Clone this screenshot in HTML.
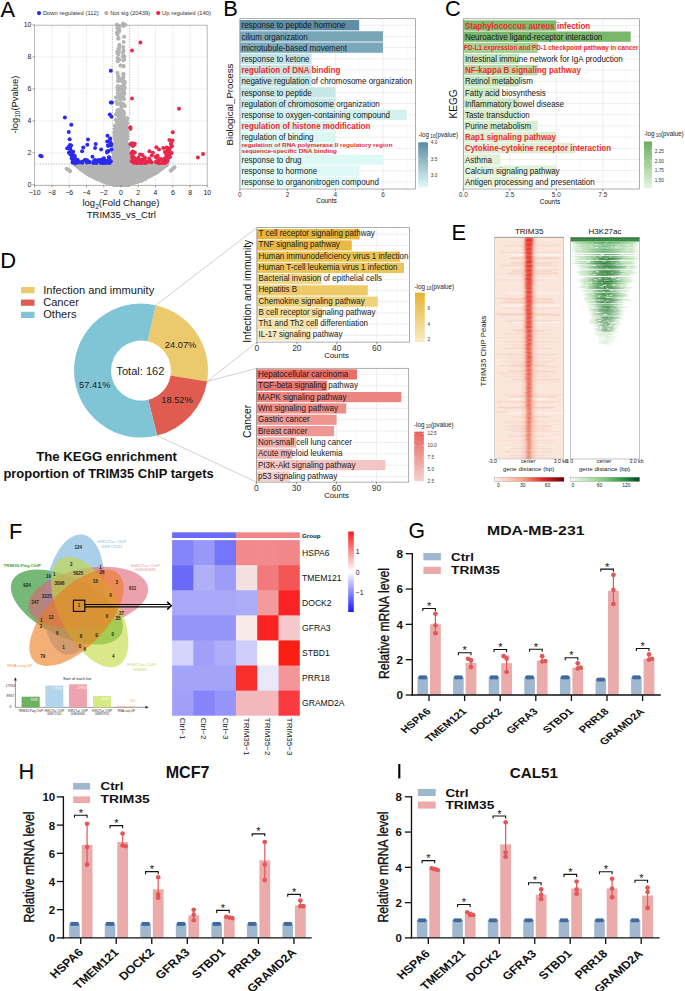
<!DOCTYPE html>
<html><head><meta charset="utf-8"><title>Figure</title>
<style>
html,body{margin:0;padding:0;background:#fff;}
body{width:685px;height:991px;overflow:hidden;font-family:"Liberation Sans", sans-serif;}
svg{display:block;}
</style></head><body>
<svg width="685" height="991" viewBox="0 0 685 991" font-family='"Liberation Sans", sans-serif'><defs><linearGradient id="gB" x1="0" y1="0" x2="0" y2="1"><stop offset="0" stop-color="#5b8ca4"/><stop offset="1" stop-color="#e0fbf7"/></linearGradient><linearGradient id="gC" x1="0" y1="0" x2="0" y2="1"><stop offset="0" stop-color="#6aae5f"/><stop offset="1" stop-color="#e6f5df"/></linearGradient><linearGradient id="gI" x1="0" y1="0" x2="0" y2="1"><stop offset="0" stop-color="#e7b42f"/><stop offset="1" stop-color="#f7ecc4"/></linearGradient><linearGradient id="gK" x1="0" y1="0" x2="0" y2="1"><stop offset="0" stop-color="#e8635d"/><stop offset="1" stop-color="#f6d1cf"/></linearGradient><linearGradient id="gglow" x1="0" y1="0" x2="1" y2="0"><stop offset="0" stop-color="rgba(238,120,95,0)"/><stop offset="0.5" stop-color="rgba(238,120,95,0.35)"/><stop offset="1" stop-color="rgba(238,120,95,0)"/></linearGradient><filter id="blurx" x="-50%" y="-1%" width="200%" height="102%"><feGaussianBlur stdDeviation="0.9 0.35"/></filter><linearGradient id="gg1" x1="0" y1="0" x2="1" y2="0"><stop offset="0" stop-color="rgba(120,195,110,0)"/><stop offset="0.1" stop-color="rgba(120,195,110,0.6)"/><stop offset="0.5" stop-color="rgba(60,160,70,0.95)"/><stop offset="0.9" stop-color="rgba(120,195,110,0.6)"/><stop offset="1" stop-color="rgba(120,195,110,0)"/></linearGradient><linearGradient id="gg2" x1="0" y1="0" x2="1" y2="0"><stop offset="0" stop-color="rgba(25,110,40,0)"/><stop offset="0.3" stop-color="rgba(25,110,40,0.8)"/><stop offset="0.5" stop-color="rgba(18,98,32,1)"/><stop offset="0.7" stop-color="rgba(25,110,40,0.8)"/><stop offset="1" stop-color="rgba(25,110,40,0)"/></linearGradient><linearGradient id="gcbr" x1="0" y1="0" x2="1" y2="0"><stop offset="0" stop-color="#fff3ee"/><stop offset="0.4" stop-color="#f9a487"/><stop offset="0.7" stop-color="#e5261f"/><stop offset="1" stop-color="#68000d"/></linearGradient><linearGradient id="gcbg" x1="0" y1="0" x2="1" y2="0"><stop offset="0" stop-color="#f5fbf3"/><stop offset="0.45" stop-color="#8fd08a"/><stop offset="0.75" stop-color="#2e9a4a"/><stop offset="1" stop-color="#03461c"/></linearGradient><linearGradient id="ghm" x1="0" y1="0" x2="0" y2="1"><stop offset="0" stop-color="#ff1a1a"/><stop offset="0.5" stop-color="#ffffff"/><stop offset="1" stop-color="#1a1aff"/></linearGradient></defs><rect width="685" height="991" fill="#fff"/><text x="0.60" y="16.60" font-size="21.8">A</text>
<circle cx="39.00" cy="13.10" r="2.1" fill="#2b2bef"/>
<text x="42.90" y="15.20" font-size="5.85" fill="#333">Down regulated (112)</text>
<circle cx="106.30" cy="13.10" r="2.1" fill="#b4b4b4"/>
<text x="110.20" y="15.20" font-size="5.85" fill="#333">Not sig (20439)</text>
<circle cx="158.20" cy="13.10" r="2.1" fill="#e8274b"/>
<text x="162.10" y="15.20" font-size="5.85" fill="#333">Up regulated (140)</text>
<rect x="34.50" y="25.20" width="172.70" height="160.20" fill="#fff"/>
<line x1="34.65" y1="25.20" x2="34.65" y2="185.40" stroke="#e6e6e6" stroke-width="0.6"/>
<line x1="51.92" y1="25.20" x2="51.92" y2="185.40" stroke="#e6e6e6" stroke-width="0.6"/>
<line x1="69.19" y1="25.20" x2="69.19" y2="185.40" stroke="#e6e6e6" stroke-width="0.6"/>
<line x1="86.46" y1="25.20" x2="86.46" y2="185.40" stroke="#e6e6e6" stroke-width="0.6"/>
<line x1="103.73" y1="25.20" x2="103.73" y2="185.40" stroke="#e6e6e6" stroke-width="0.6"/>
<line x1="121.00" y1="25.20" x2="121.00" y2="185.40" stroke="#e6e6e6" stroke-width="0.6"/>
<line x1="138.27" y1="25.20" x2="138.27" y2="185.40" stroke="#e6e6e6" stroke-width="0.6"/>
<line x1="155.54" y1="25.20" x2="155.54" y2="185.40" stroke="#e6e6e6" stroke-width="0.6"/>
<line x1="172.81" y1="25.20" x2="172.81" y2="185.40" stroke="#e6e6e6" stroke-width="0.6"/>
<line x1="190.08" y1="25.20" x2="190.08" y2="185.40" stroke="#e6e6e6" stroke-width="0.6"/>
<line x1="34.50" y1="184.80" x2="207.20" y2="184.80" stroke="#e6e6e6" stroke-width="0.6"/>
<line x1="34.50" y1="152.80" x2="207.20" y2="152.80" stroke="#e6e6e6" stroke-width="0.6"/>
<line x1="34.50" y1="120.80" x2="207.20" y2="120.80" stroke="#e6e6e6" stroke-width="0.6"/>
<line x1="34.50" y1="88.80" x2="207.20" y2="88.80" stroke="#e6e6e6" stroke-width="0.6"/>
<line x1="34.50" y1="56.80" x2="207.20" y2="56.80" stroke="#e6e6e6" stroke-width="0.6"/>
<line x1="112.36" y1="25.20" x2="112.36" y2="185.40" stroke="#999" stroke-width="0.6" stroke-dasharray="1.5,1.2"/>
<line x1="129.63" y1="25.20" x2="129.63" y2="185.40" stroke="#999" stroke-width="0.6" stroke-dasharray="1.5,1.2"/>
<line x1="34.50" y1="164.00" x2="207.20" y2="164.00" stroke="#999" stroke-width="0.6" stroke-dasharray="1.5,1.2"/>
<g fill="#b4b4b4"><circle cx="104.6" cy="179.4" r="2.0"/><circle cx="134.8" cy="181.6" r="2.0"/><circle cx="124.2" cy="177.0" r="2.0"/><circle cx="80.1" cy="166.1" r="2.0"/><circle cx="78.3" cy="165.6" r="2.0"/><circle cx="81.2" cy="168.9" r="2.0"/><circle cx="113.9" cy="167.3" r="2.0"/><circle cx="86.2" cy="170.9" r="2.0"/><circle cx="132.6" cy="164.7" r="2.0"/><circle cx="128.0" cy="176.1" r="2.0"/><circle cx="164.8" cy="166.0" r="2.0"/><circle cx="153.9" cy="171.2" r="2.0"/><circle cx="88.1" cy="173.0" r="2.0"/><circle cx="103.2" cy="167.0" r="2.0"/><circle cx="91.5" cy="169.0" r="2.0"/><circle cx="133.7" cy="176.0" r="2.0"/><circle cx="125.3" cy="183.3" r="2.0"/><circle cx="80.3" cy="167.6" r="2.0"/><circle cx="137.5" cy="174.3" r="2.0"/><circle cx="103.7" cy="171.2" r="2.0"/><circle cx="116.6" cy="178.3" r="2.0"/><circle cx="148.0" cy="167.9" r="2.0"/><circle cx="97.3" cy="170.3" r="2.0"/><circle cx="123.2" cy="166.3" r="2.0"/><circle cx="142.0" cy="175.7" r="2.0"/><circle cx="165.1" cy="165.6" r="2.0"/><circle cx="113.3" cy="168.7" r="2.0"/><circle cx="88.8" cy="169.3" r="2.0"/><circle cx="78.4" cy="164.8" r="2.0"/><circle cx="145.2" cy="170.3" r="2.0"/><circle cx="155.5" cy="170.2" r="2.0"/><circle cx="138.9" cy="171.0" r="2.0"/><circle cx="128.2" cy="174.9" r="2.0"/><circle cx="152.2" cy="164.3" r="2.0"/><circle cx="118.5" cy="170.8" r="2.0"/><circle cx="80.4" cy="165.2" r="2.0"/><circle cx="134.4" cy="163.8" r="2.0"/><circle cx="150.5" cy="172.7" r="2.0"/><circle cx="110.3" cy="170.3" r="2.0"/><circle cx="76.9" cy="164.8" r="2.0"/><circle cx="90.3" cy="174.2" r="2.0"/><circle cx="80.2" cy="164.8" r="2.0"/><circle cx="86.7" cy="171.0" r="2.0"/><circle cx="110.8" cy="166.3" r="2.0"/><circle cx="82.2" cy="167.2" r="2.0"/><circle cx="125.4" cy="166.1" r="2.0"/><circle cx="150.3" cy="165.4" r="2.0"/><circle cx="100.5" cy="173.6" r="2.0"/><circle cx="107.9" cy="165.9" r="2.0"/><circle cx="163.0" cy="167.0" r="2.0"/><circle cx="91.0" cy="173.2" r="2.0"/><circle cx="96.3" cy="171.5" r="2.0"/><circle cx="129.1" cy="178.8" r="2.0"/><circle cx="75.2" cy="164.1" r="2.0"/><circle cx="108.8" cy="172.2" r="2.0"/><circle cx="162.6" cy="165.0" r="2.0"/><circle cx="122.3" cy="171.8" r="2.0"/><circle cx="137.1" cy="181.3" r="2.0"/><circle cx="157.7" cy="165.4" r="2.0"/><circle cx="155.4" cy="165.6" r="2.0"/><circle cx="111.0" cy="175.8" r="2.0"/><circle cx="84.3" cy="166.6" r="2.0"/><circle cx="80.5" cy="168.5" r="2.0"/><circle cx="94.0" cy="175.4" r="2.0"/><circle cx="106.1" cy="181.6" r="2.0"/><circle cx="74.8" cy="164.0" r="2.0"/><circle cx="84.2" cy="168.7" r="2.0"/><circle cx="77.2" cy="164.0" r="2.0"/><circle cx="131.4" cy="180.8" r="2.0"/><circle cx="98.0" cy="174.1" r="2.0"/><circle cx="108.4" cy="180.8" r="2.0"/><circle cx="153.0" cy="163.8" r="2.0"/><circle cx="117.7" cy="174.5" r="2.0"/><circle cx="82.7" cy="169.8" r="2.0"/><circle cx="106.4" cy="177.7" r="2.0"/><circle cx="151.2" cy="174.0" r="2.0"/><circle cx="76.9" cy="163.8" r="2.0"/><circle cx="123.5" cy="181.7" r="2.0"/><circle cx="124.8" cy="184.1" r="2.0"/><circle cx="123.5" cy="164.1" r="2.0"/><circle cx="154.3" cy="166.8" r="2.0"/><circle cx="98.9" cy="174.0" r="2.0"/><circle cx="90.2" cy="166.4" r="2.0"/><circle cx="123.9" cy="168.3" r="2.0"/><circle cx="105.2" cy="178.2" r="2.0"/><circle cx="149.6" cy="163.9" r="2.0"/><circle cx="153.4" cy="165.8" r="2.0"/><circle cx="150.2" cy="167.0" r="2.0"/><circle cx="95.7" cy="170.9" r="2.0"/><circle cx="107.6" cy="182.5" r="2.0"/><circle cx="77.4" cy="165.5" r="2.0"/><circle cx="98.7" cy="168.7" r="2.0"/><circle cx="162.9" cy="165.9" r="2.0"/><circle cx="161.1" cy="163.7" r="2.0"/><circle cx="162.8" cy="166.3" r="2.0"/><circle cx="95.1" cy="175.0" r="2.0"/><circle cx="92.9" cy="174.4" r="2.0"/><circle cx="132.3" cy="165.7" r="2.0"/><circle cx="152.2" cy="169.7" r="2.0"/><circle cx="135.0" cy="167.5" r="2.0"/><circle cx="82.6" cy="166.0" r="2.0"/><circle cx="158.6" cy="165.3" r="2.0"/><circle cx="143.9" cy="172.0" r="2.0"/><circle cx="91.3" cy="166.3" r="2.0"/><circle cx="105.4" cy="167.4" r="2.0"/><circle cx="164.3" cy="165.4" r="2.0"/><circle cx="111.8" cy="164.8" r="2.0"/><circle cx="141.6" cy="177.8" r="2.0"/><circle cx="86.5" cy="171.8" r="2.0"/><circle cx="158.2" cy="165.2" r="2.0"/><circle cx="88.3" cy="165.5" r="2.0"/><circle cx="165.1" cy="164.4" r="2.0"/><circle cx="107.1" cy="172.4" r="2.0"/><circle cx="86.9" cy="173.3" r="2.0"/><circle cx="164.3" cy="164.7" r="2.0"/><circle cx="123.3" cy="165.1" r="2.0"/><circle cx="114.8" cy="166.3" r="2.0"/><circle cx="150.9" cy="173.5" r="2.0"/><circle cx="98.0" cy="175.0" r="2.0"/><circle cx="97.0" cy="170.1" r="2.0"/><circle cx="98.7" cy="173.1" r="2.0"/><circle cx="86.9" cy="164.6" r="2.0"/><circle cx="107.4" cy="174.1" r="2.0"/><circle cx="128.5" cy="165.6" r="2.0"/><circle cx="113.6" cy="165.4" r="2.0"/><circle cx="121.0" cy="173.6" r="2.0"/><circle cx="123.0" cy="184.4" r="2.0"/><circle cx="115.4" cy="180.7" r="2.0"/><circle cx="75.2" cy="163.8" r="2.0"/><circle cx="90.7" cy="170.1" r="2.0"/><circle cx="141.6" cy="171.2" r="2.0"/><circle cx="104.8" cy="172.6" r="2.0"/><circle cx="126.0" cy="168.2" r="2.0"/><circle cx="84.6" cy="167.3" r="2.0"/><circle cx="97.7" cy="175.1" r="2.0"/><circle cx="146.0" cy="171.1" r="2.0"/><circle cx="126.6" cy="168.7" r="2.0"/><circle cx="158.9" cy="167.7" r="2.0"/><circle cx="131.2" cy="173.6" r="2.0"/><circle cx="122.0" cy="170.2" r="2.0"/><circle cx="116.5" cy="173.4" r="2.0"/><circle cx="118.8" cy="164.9" r="2.0"/><circle cx="139.2" cy="165.9" r="2.0"/><circle cx="161.6" cy="167.4" r="2.0"/><circle cx="126.4" cy="164.9" r="2.0"/><circle cx="152.2" cy="173.7" r="2.0"/><circle cx="86.0" cy="168.8" r="2.0"/><circle cx="81.5" cy="168.2" r="2.0"/><circle cx="81.5" cy="165.6" r="2.0"/><circle cx="147.0" cy="165.2" r="2.0"/><circle cx="89.0" cy="166.8" r="2.0"/><circle cx="135.6" cy="180.0" r="2.0"/><circle cx="156.1" cy="164.0" r="2.0"/><circle cx="95.0" cy="164.4" r="2.0"/><circle cx="111.5" cy="174.1" r="2.0"/><circle cx="166.0" cy="163.9" r="2.0"/><circle cx="89.7" cy="170.3" r="2.0"/><circle cx="122.3" cy="177.6" r="2.0"/><circle cx="92.8" cy="172.8" r="2.0"/><circle cx="141.3" cy="180.4" r="2.0"/><circle cx="125.9" cy="175.4" r="2.0"/><circle cx="76.5" cy="164.9" r="2.0"/><circle cx="132.3" cy="173.4" r="2.0"/><circle cx="80.7" cy="163.8" r="2.0"/><circle cx="147.4" cy="164.1" r="2.0"/><circle cx="84.5" cy="169.6" r="2.0"/><circle cx="78.5" cy="164.4" r="2.0"/><circle cx="99.7" cy="178.2" r="2.0"/><circle cx="113.7" cy="165.5" r="2.0"/><circle cx="150.3" cy="173.2" r="2.0"/><circle cx="88.6" cy="164.6" r="2.0"/><circle cx="127.4" cy="169.9" r="2.0"/><circle cx="83.0" cy="170.4" r="2.0"/><circle cx="138.2" cy="174.2" r="2.0"/><circle cx="81.5" cy="164.0" r="2.0"/><circle cx="133.3" cy="167.6" r="2.0"/><circle cx="82.5" cy="164.6" r="2.0"/><circle cx="80.9" cy="164.4" r="2.0"/><circle cx="116.6" cy="177.5" r="2.0"/><circle cx="125.8" cy="165.2" r="2.0"/><circle cx="99.5" cy="178.1" r="2.0"/><circle cx="123.4" cy="179.7" r="2.0"/><circle cx="84.9" cy="170.7" r="2.0"/><circle cx="79.4" cy="167.1" r="2.0"/><circle cx="103.5" cy="176.3" r="2.0"/><circle cx="144.8" cy="174.8" r="2.0"/><circle cx="120.9" cy="181.0" r="2.0"/><circle cx="106.8" cy="182.5" r="2.0"/><circle cx="97.9" cy="179.3" r="2.0"/><circle cx="142.3" cy="171.2" r="2.0"/><circle cx="92.3" cy="170.5" r="2.0"/><circle cx="160.9" cy="168.7" r="2.0"/><circle cx="150.3" cy="170.9" r="2.0"/><circle cx="120.4" cy="167.2" r="2.0"/><circle cx="111.0" cy="173.6" r="2.0"/><circle cx="138.2" cy="164.0" r="2.0"/><circle cx="106.4" cy="166.9" r="2.0"/><circle cx="139.9" cy="170.1" r="2.0"/><circle cx="112.1" cy="177.0" r="2.0"/><circle cx="79.8" cy="167.7" r="2.0"/><circle cx="81.3" cy="165.2" r="2.0"/><circle cx="98.4" cy="177.2" r="2.0"/><circle cx="82.6" cy="164.7" r="2.0"/><circle cx="155.0" cy="166.9" r="2.0"/><circle cx="100.8" cy="176.7" r="2.0"/><circle cx="101.8" cy="173.2" r="2.0"/><circle cx="89.3" cy="170.0" r="2.0"/><circle cx="99.1" cy="164.3" r="2.0"/><circle cx="164.4" cy="164.9" r="2.0"/><circle cx="97.3" cy="164.2" r="2.0"/><circle cx="103.3" cy="175.3" r="2.0"/><circle cx="74.9" cy="163.9" r="2.0"/><circle cx="118.5" cy="174.2" r="2.0"/><circle cx="93.3" cy="170.4" r="2.0"/><circle cx="75.3" cy="164.2" r="2.0"/><circle cx="83.1" cy="167.9" r="2.0"/><circle cx="78.6" cy="167.2" r="2.0"/><circle cx="102.8" cy="177.4" r="2.0"/><circle cx="128.8" cy="173.3" r="2.0"/><circle cx="144.0" cy="169.2" r="2.0"/><circle cx="140.8" cy="165.8" r="2.0"/><circle cx="110.7" cy="177.2" r="2.0"/><circle cx="165.5" cy="165.2" r="2.0"/><circle cx="141.5" cy="169.8" r="2.0"/><circle cx="78.8" cy="164.3" r="2.0"/><circle cx="157.0" cy="166.8" r="2.0"/><circle cx="142.4" cy="166.8" r="2.0"/><circle cx="87.6" cy="168.6" r="2.0"/><circle cx="121.3" cy="167.2" r="2.0"/><circle cx="148.9" cy="166.0" r="2.0"/><circle cx="128.6" cy="165.9" r="2.0"/><circle cx="137.7" cy="169.3" r="2.0"/><circle cx="96.0" cy="178.2" r="2.0"/><circle cx="87.1" cy="170.0" r="2.0"/><circle cx="84.5" cy="165.0" r="2.0"/><circle cx="126.3" cy="171.4" r="2.0"/><circle cx="132.5" cy="170.0" r="2.0"/><circle cx="119.9" cy="184.7" r="2.0"/><circle cx="148.3" cy="167.2" r="2.0"/><circle cx="121.1" cy="173.5" r="2.0"/><circle cx="135.5" cy="181.5" r="2.0"/><circle cx="142.7" cy="176.0" r="2.0"/><circle cx="81.7" cy="168.1" r="2.0"/><circle cx="142.0" cy="177.0" r="2.0"/><circle cx="143.0" cy="164.1" r="2.0"/><circle cx="120.3" cy="176.7" r="2.0"/><circle cx="118.9" cy="170.3" r="2.0"/><circle cx="145.5" cy="169.5" r="2.0"/><circle cx="134.0" cy="181.6" r="2.0"/><circle cx="88.4" cy="171.7" r="2.0"/><circle cx="143.3" cy="175.0" r="2.0"/><circle cx="127.1" cy="184.2" r="2.0"/><circle cx="80.4" cy="167.4" r="2.0"/><circle cx="136.7" cy="169.4" r="2.0"/><circle cx="137.1" cy="176.9" r="2.0"/><circle cx="122.4" cy="175.0" r="2.0"/><circle cx="117.8" cy="182.2" r="2.0"/><circle cx="157.1" cy="170.4" r="2.0"/><circle cx="164.9" cy="163.8" r="2.0"/><circle cx="76.4" cy="164.6" r="2.0"/><circle cx="150.3" cy="164.1" r="2.0"/><circle cx="116.2" cy="179.0" r="2.0"/><circle cx="94.1" cy="164.4" r="2.0"/><circle cx="94.2" cy="169.6" r="2.0"/><circle cx="87.9" cy="168.6" r="2.0"/><circle cx="162.6" cy="167.4" r="2.0"/><circle cx="150.4" cy="169.9" r="2.0"/><circle cx="156.5" cy="166.3" r="2.0"/><circle cx="96.1" cy="165.2" r="2.0"/><circle cx="119.6" cy="184.3" r="2.0"/><circle cx="75.1" cy="164.0" r="2.0"/><circle cx="116.3" cy="178.3" r="2.0"/><circle cx="87.8" cy="170.5" r="2.0"/><circle cx="103.9" cy="166.6" r="2.0"/><circle cx="75.0" cy="163.8" r="2.0"/><circle cx="152.1" cy="174.0" r="2.0"/><circle cx="160.2" cy="165.5" r="2.0"/><circle cx="157.9" cy="169.3" r="2.0"/><circle cx="109.1" cy="175.7" r="2.0"/><circle cx="166.8" cy="163.9" r="2.0"/><circle cx="108.0" cy="174.8" r="2.0"/><circle cx="100.2" cy="179.7" r="2.0"/><circle cx="84.2" cy="165.0" r="2.0"/><circle cx="101.1" cy="164.8" r="2.0"/><circle cx="97.8" cy="175.3" r="2.0"/><circle cx="121.9" cy="180.8" r="2.0"/><circle cx="109.2" cy="164.5" r="2.0"/><circle cx="156.3" cy="165.4" r="2.0"/><circle cx="132.9" cy="165.4" r="2.0"/><circle cx="161.5" cy="166.0" r="2.0"/><circle cx="141.1" cy="180.0" r="2.0"/><circle cx="142.3" cy="172.9" r="2.0"/><circle cx="144.2" cy="169.3" r="2.0"/><circle cx="101.2" cy="180.1" r="2.0"/><circle cx="160.2" cy="169.0" r="2.0"/><circle cx="118.3" cy="177.5" r="2.0"/><circle cx="102.2" cy="168.3" r="2.0"/><circle cx="164.8" cy="165.5" r="2.0"/><circle cx="135.2" cy="177.1" r="2.0"/><circle cx="126.2" cy="176.3" r="2.0"/><circle cx="90.2" cy="173.6" r="2.0"/><circle cx="94.0" cy="165.0" r="2.0"/><circle cx="120.6" cy="180.2" r="2.0"/><circle cx="158.3" cy="163.7" r="2.0"/><circle cx="116.3" cy="181.7" r="2.0"/><circle cx="92.5" cy="175.7" r="2.0"/><circle cx="106.3" cy="181.0" r="2.0"/><circle cx="96.8" cy="175.1" r="2.0"/><circle cx="127.3" cy="166.0" r="2.0"/><circle cx="143.9" cy="173.1" r="2.0"/><circle cx="112.9" cy="173.4" r="2.0"/><circle cx="109.5" cy="176.8" r="2.0"/><circle cx="80.5" cy="167.4" r="2.0"/><circle cx="164.0" cy="166.4" r="2.0"/><circle cx="121.2" cy="171.5" r="2.0"/><circle cx="154.3" cy="171.8" r="2.0"/><circle cx="99.8" cy="176.3" r="2.0"/><circle cx="111.6" cy="174.9" r="2.0"/><circle cx="162.7" cy="164.3" r="2.0"/><circle cx="155.2" cy="173.2" r="2.0"/><circle cx="77.8" cy="164.5" r="2.0"/><circle cx="157.3" cy="168.0" r="2.0"/><circle cx="128.9" cy="184.2" r="2.0"/><circle cx="110.9" cy="165.2" r="2.0"/><circle cx="150.9" cy="165.5" r="2.0"/><circle cx="164.4" cy="165.8" r="2.0"/><circle cx="84.8" cy="170.8" r="2.0"/><circle cx="122.9" cy="170.4" r="2.0"/><circle cx="161.5" cy="165.1" r="2.0"/><circle cx="134.4" cy="168.2" r="2.0"/><circle cx="116.9" cy="173.1" r="2.0"/><circle cx="78.4" cy="164.4" r="2.0"/><circle cx="96.2" cy="164.9" r="2.0"/><circle cx="134.3" cy="177.2" r="2.0"/><circle cx="86.6" cy="170.8" r="2.0"/><circle cx="133.4" cy="169.6" r="2.0"/><circle cx="85.1" cy="171.7" r="2.0"/><circle cx="123.1" cy="172.5" r="2.0"/><circle cx="110.6" cy="179.3" r="2.0"/><circle cx="130.2" cy="183.8" r="2.0"/><circle cx="102.6" cy="173.3" r="2.0"/><circle cx="163.2" cy="165.0" r="2.0"/><circle cx="156.2" cy="168.4" r="2.0"/><circle cx="96.4" cy="175.2" r="2.0"/><circle cx="163.3" cy="164.8" r="2.0"/><circle cx="103.1" cy="181.3" r="2.0"/><circle cx="120.7" cy="170.6" r="2.0"/><circle cx="113.5" cy="179.0" r="2.0"/><circle cx="136.3" cy="165.1" r="2.0"/><circle cx="95.7" cy="178.1" r="2.0"/><circle cx="105.9" cy="174.6" r="2.0"/><circle cx="137.7" cy="178.4" r="2.0"/><circle cx="148.2" cy="167.3" r="2.0"/><circle cx="121.3" cy="180.5" r="2.0"/><circle cx="164.2" cy="165.7" r="2.0"/><circle cx="150.4" cy="173.5" r="2.0"/><circle cx="95.2" cy="167.2" r="2.0"/><circle cx="102.0" cy="164.5" r="2.0"/><circle cx="120.5" cy="180.8" r="2.0"/><circle cx="95.4" cy="172.3" r="2.0"/><circle cx="136.1" cy="164.6" r="2.0"/><circle cx="88.3" cy="170.2" r="2.0"/><circle cx="94.4" cy="164.0" r="2.0"/><circle cx="87.9" cy="173.6" r="2.0"/><circle cx="80.3" cy="166.7" r="2.0"/><circle cx="157.6" cy="164.6" r="2.0"/><circle cx="142.3" cy="163.7" r="2.0"/><circle cx="160.6" cy="167.6" r="2.0"/><circle cx="91.9" cy="164.5" r="2.0"/><circle cx="143.6" cy="179.3" r="2.0"/><circle cx="136.0" cy="175.4" r="2.0"/><circle cx="109.3" cy="176.9" r="2.0"/><circle cx="90.4" cy="175.6" r="2.0"/><circle cx="100.6" cy="174.7" r="2.0"/><circle cx="162.8" cy="167.2" r="2.0"/><circle cx="163.6" cy="166.4" r="2.0"/><circle cx="107.7" cy="167.1" r="2.0"/><circle cx="150.5" cy="170.8" r="2.0"/><circle cx="79.3" cy="165.9" r="2.0"/><circle cx="109.1" cy="165.3" r="2.0"/><circle cx="92.6" cy="172.1" r="2.0"/><circle cx="157.4" cy="171.6" r="2.0"/><circle cx="112.7" cy="167.5" r="2.0"/><circle cx="145.4" cy="178.4" r="2.0"/><circle cx="78.0" cy="166.6" r="2.0"/><circle cx="159.6" cy="168.6" r="2.0"/><circle cx="143.7" cy="165.3" r="2.0"/><circle cx="106.0" cy="177.5" r="2.0"/><circle cx="163.0" cy="165.2" r="2.0"/><circle cx="99.0" cy="168.3" r="2.0"/><circle cx="104.0" cy="176.9" r="2.0"/><circle cx="75.2" cy="163.8" r="2.0"/><circle cx="159.2" cy="166.2" r="2.0"/><circle cx="161.7" cy="168.5" r="2.0"/><circle cx="96.4" cy="171.7" r="2.0"/><circle cx="163.0" cy="163.9" r="2.0"/><circle cx="110.4" cy="178.7" r="2.0"/><circle cx="114.4" cy="174.2" r="2.0"/><circle cx="160.3" cy="168.6" r="2.0"/><circle cx="148.7" cy="167.2" r="2.0"/><circle cx="150.6" cy="166.5" r="2.0"/><circle cx="130.8" cy="177.3" r="2.0"/><circle cx="104.2" cy="175.4" r="2.0"/><circle cx="146.9" cy="177.1" r="2.0"/><circle cx="93.0" cy="167.0" r="2.0"/><circle cx="97.6" cy="178.4" r="2.0"/><circle cx="77.9" cy="165.0" r="2.0"/><circle cx="104.8" cy="164.0" r="2.0"/><circle cx="156.2" cy="163.8" r="2.0"/><circle cx="99.2" cy="178.8" r="2.0"/><circle cx="83.7" cy="167.5" r="2.0"/><circle cx="140.2" cy="173.4" r="2.0"/><circle cx="96.4" cy="172.6" r="2.0"/><circle cx="132.0" cy="170.2" r="2.0"/><circle cx="143.7" cy="166.1" r="2.0"/><circle cx="136.0" cy="180.3" r="2.0"/><circle cx="152.3" cy="171.9" r="2.0"/><circle cx="127.0" cy="176.7" r="2.0"/><circle cx="142.8" cy="176.9" r="2.0"/><circle cx="97.6" cy="175.6" r="2.0"/><circle cx="88.9" cy="165.0" r="2.0"/><circle cx="128.1" cy="177.6" r="2.0"/><circle cx="111.3" cy="163.8" r="2.0"/><circle cx="121.5" cy="179.9" r="2.0"/><circle cx="149.3" cy="168.3" r="2.0"/><circle cx="166.1" cy="164.8" r="2.0"/><circle cx="118.5" cy="167.5" r="2.0"/><circle cx="152.2" cy="164.7" r="2.0"/><circle cx="78.5" cy="166.2" r="2.0"/><circle cx="85.8" cy="171.0" r="2.0"/><circle cx="164.4" cy="164.8" r="2.0"/><circle cx="160.5" cy="167.4" r="2.0"/><circle cx="154.6" cy="169.3" r="2.0"/><circle cx="98.8" cy="167.3" r="2.0"/><circle cx="161.9" cy="168.0" r="2.0"/><circle cx="129.7" cy="171.4" r="2.0"/><circle cx="94.9" cy="172.8" r="2.0"/><circle cx="87.8" cy="172.0" r="2.0"/><circle cx="98.3" cy="170.1" r="2.0"/><circle cx="134.8" cy="179.0" r="2.0"/><circle cx="75.9" cy="164.5" r="2.0"/><circle cx="137.3" cy="178.8" r="2.0"/><circle cx="103.6" cy="178.1" r="2.0"/><circle cx="148.1" cy="170.0" r="2.0"/><circle cx="80.6" cy="168.4" r="2.0"/><circle cx="111.2" cy="172.8" r="2.0"/><circle cx="133.7" cy="181.4" r="2.0"/><circle cx="89.9" cy="167.2" r="2.0"/><circle cx="112.6" cy="178.3" r="2.0"/><circle cx="103.1" cy="164.5" r="2.0"/><circle cx="103.6" cy="171.6" r="2.0"/><circle cx="107.7" cy="175.0" r="2.0"/><circle cx="154.4" cy="163.7" r="2.0"/><circle cx="108.3" cy="179.4" r="2.0"/><circle cx="141.9" cy="177.1" r="2.0"/><circle cx="75.3" cy="163.8" r="2.0"/><circle cx="113.8" cy="167.4" r="2.0"/><circle cx="112.2" cy="166.1" r="2.0"/><circle cx="117.3" cy="181.3" r="2.0"/><circle cx="76.2" cy="164.4" r="2.0"/><circle cx="133.8" cy="165.4" r="2.0"/><circle cx="83.0" cy="166.3" r="2.0"/><circle cx="109.0" cy="173.4" r="2.0"/><circle cx="88.2" cy="171.3" r="2.0"/><circle cx="122.8" cy="165.3" r="2.0"/><circle cx="84.8" cy="167.9" r="2.0"/><circle cx="149.0" cy="164.1" r="2.0"/><circle cx="93.0" cy="175.4" r="2.0"/><circle cx="161.7" cy="163.8" r="2.0"/><circle cx="119.3" cy="183.6" r="2.0"/><circle cx="160.1" cy="167.5" r="2.0"/><circle cx="158.1" cy="166.6" r="2.0"/><circle cx="150.8" cy="174.2" r="2.0"/><circle cx="147.2" cy="174.9" r="2.0"/><circle cx="112.1" cy="166.8" r="2.0"/><circle cx="151.2" cy="173.7" r="2.0"/><circle cx="94.9" cy="172.4" r="2.0"/><circle cx="122.5" cy="176.7" r="2.0"/><circle cx="86.1" cy="170.7" r="2.0"/><circle cx="141.6" cy="165.4" r="2.0"/><circle cx="78.6" cy="165.3" r="2.0"/><circle cx="144.6" cy="178.8" r="2.0"/><circle cx="152.0" cy="174.0" r="2.0"/><circle cx="130.0" cy="172.8" r="2.0"/><circle cx="132.6" cy="177.4" r="2.0"/><circle cx="113.5" cy="172.3" r="2.0"/><circle cx="114.0" cy="170.7" r="2.0"/><circle cx="116.0" cy="175.4" r="2.0"/><circle cx="77.0" cy="164.5" r="2.0"/><circle cx="119.9" cy="179.8" r="2.0"/><circle cx="145.2" cy="167.1" r="2.0"/><circle cx="117.0" cy="180.9" r="2.0"/><circle cx="118.4" cy="182.5" r="2.0"/><circle cx="86.6" cy="169.2" r="2.0"/><circle cx="83.3" cy="167.7" r="2.0"/><circle cx="121.8" cy="183.9" r="2.0"/><circle cx="133.4" cy="181.7" r="2.0"/><circle cx="142.4" cy="167.4" r="2.0"/><circle cx="121.9" cy="183.6" r="2.0"/><circle cx="121.2" cy="176.8" r="2.0"/><circle cx="162.4" cy="167.5" r="2.0"/><circle cx="153.8" cy="163.7" r="2.0"/><circle cx="142.3" cy="166.8" r="2.0"/><circle cx="92.7" cy="163.9" r="2.0"/><circle cx="120.1" cy="164.6" r="2.0"/><circle cx="159.2" cy="169.4" r="2.0"/><circle cx="147.4" cy="164.7" r="2.0"/><circle cx="80.8" cy="167.2" r="2.0"/><circle cx="144.5" cy="176.9" r="2.0"/><circle cx="157.4" cy="169.6" r="2.0"/><circle cx="150.0" cy="174.8" r="2.0"/><circle cx="121.1" cy="165.4" r="2.0"/><circle cx="94.0" cy="174.0" r="2.0"/><circle cx="121.4" cy="178.1" r="2.0"/><circle cx="78.2" cy="166.3" r="2.0"/><circle cx="89.7" cy="164.4" r="2.0"/><circle cx="137.4" cy="165.6" r="2.0"/><circle cx="90.3" cy="166.3" r="2.0"/><circle cx="85.4" cy="167.8" r="2.0"/><circle cx="133.4" cy="176.2" r="2.0"/><circle cx="155.2" cy="168.0" r="2.0"/><circle cx="128.2" cy="166.1" r="2.0"/><circle cx="84.4" cy="163.7" r="2.0"/><circle cx="132.8" cy="175.6" r="2.0"/><circle cx="148.3" cy="173.9" r="2.0"/><circle cx="166.1" cy="164.2" r="2.0"/><circle cx="108.0" cy="168.3" r="2.0"/><circle cx="115.6" cy="180.8" r="2.0"/><circle cx="143.3" cy="179.2" r="2.0"/><circle cx="150.3" cy="173.2" r="2.0"/><circle cx="133.7" cy="164.0" r="2.0"/><circle cx="128.8" cy="170.6" r="2.0"/><circle cx="103.6" cy="181.8" r="2.0"/><circle cx="77.9" cy="166.3" r="2.0"/><circle cx="131.6" cy="175.1" r="2.0"/><circle cx="122.0" cy="165.9" r="2.0"/><circle cx="87.0" cy="171.3" r="2.0"/><circle cx="135.0" cy="182.5" r="2.0"/><circle cx="75.0" cy="164.0" r="2.0"/><circle cx="84.6" cy="169.0" r="2.0"/><circle cx="95.5" cy="169.8" r="2.0"/><circle cx="129.1" cy="180.0" r="2.0"/><circle cx="132.3" cy="174.1" r="2.0"/><circle cx="87.2" cy="164.3" r="2.0"/><circle cx="97.2" cy="177.0" r="2.0"/><circle cx="83.6" cy="166.4" r="2.0"/><circle cx="155.1" cy="165.8" r="2.0"/><circle cx="111.8" cy="178.6" r="2.0"/><circle cx="75.9" cy="164.1" r="2.0"/><circle cx="126.6" cy="177.2" r="2.0"/><circle cx="134.3" cy="174.5" r="2.0"/><circle cx="161.1" cy="165.1" r="2.0"/><circle cx="97.7" cy="165.2" r="2.0"/><circle cx="78.9" cy="165.5" r="2.0"/><circle cx="112.2" cy="179.2" r="2.0"/><circle cx="80.2" cy="164.8" r="2.0"/><circle cx="75.9" cy="164.3" r="2.0"/><circle cx="161.5" cy="168.1" r="2.0"/><circle cx="93.2" cy="169.0" r="2.0"/><circle cx="121.5" cy="171.2" r="2.0"/><circle cx="149.7" cy="174.5" r="2.0"/><circle cx="103.3" cy="176.3" r="2.0"/><circle cx="79.3" cy="164.1" r="2.0"/><circle cx="146.9" cy="167.8" r="2.0"/><circle cx="75.4" cy="163.8" r="2.0"/><circle cx="143.5" cy="172.3" r="2.0"/><circle cx="143.1" cy="172.6" r="2.0"/><circle cx="95.6" cy="177.0" r="2.0"/><circle cx="96.2" cy="178.2" r="2.0"/><circle cx="105.7" cy="168.4" r="2.0"/><circle cx="138.8" cy="166.5" r="2.0"/><circle cx="140.4" cy="176.5" r="2.0"/><circle cx="125.8" cy="175.5" r="2.0"/><circle cx="147.4" cy="170.5" r="2.0"/><circle cx="99.2" cy="169.6" r="2.0"/><circle cx="163.7" cy="166.3" r="2.0"/><circle cx="155.9" cy="172.8" r="2.0"/><circle cx="98.8" cy="176.1" r="2.0"/><circle cx="143.3" cy="164.6" r="2.0"/><circle cx="143.5" cy="174.6" r="2.0"/><circle cx="155.9" cy="169.9" r="2.0"/><circle cx="96.8" cy="165.1" r="2.0"/><circle cx="132.9" cy="169.7" r="2.0"/><circle cx="136.1" cy="164.1" r="2.0"/><circle cx="118.1" cy="167.1" r="2.0"/><circle cx="139.1" cy="166.2" r="2.0"/><circle cx="115.1" cy="169.4" r="2.0"/><circle cx="127.4" cy="178.0" r="2.0"/><circle cx="94.3" cy="169.0" r="2.0"/><circle cx="82.0" cy="164.2" r="2.0"/><circle cx="88.1" cy="174.0" r="2.0"/><circle cx="84.6" cy="164.3" r="2.0"/><circle cx="106.6" cy="180.1" r="2.0"/><circle cx="77.5" cy="166.2" r="2.0"/><circle cx="138.6" cy="170.3" r="2.0"/><circle cx="139.0" cy="168.4" r="2.0"/><circle cx="80.9" cy="165.9" r="2.0"/><circle cx="108.3" cy="167.2" r="2.0"/><circle cx="150.3" cy="165.1" r="2.0"/><circle cx="80.9" cy="164.4" r="2.0"/><circle cx="159.1" cy="164.1" r="2.0"/><circle cx="84.7" cy="170.2" r="2.0"/><circle cx="85.1" cy="172.0" r="2.0"/><circle cx="152.9" cy="165.8" r="2.0"/><circle cx="133.2" cy="167.1" r="2.0"/><circle cx="133.0" cy="177.7" r="2.0"/><circle cx="84.0" cy="170.7" r="2.0"/><circle cx="144.6" cy="176.2" r="2.0"/><circle cx="104.2" cy="174.3" r="2.0"/><circle cx="76.7" cy="165.2" r="2.0"/><circle cx="100.8" cy="168.6" r="2.0"/><circle cx="108.7" cy="177.0" r="2.0"/><circle cx="163.6" cy="165.4" r="2.0"/><circle cx="153.2" cy="167.9" r="2.0"/><circle cx="77.7" cy="165.3" r="2.0"/><circle cx="115.0" cy="168.4" r="2.0"/><circle cx="106.8" cy="169.3" r="2.0"/><circle cx="124.4" cy="180.1" r="2.0"/><circle cx="154.2" cy="173.1" r="2.0"/><circle cx="150.3" cy="174.2" r="2.0"/><circle cx="74.9" cy="164.0" r="2.0"/><circle cx="145.0" cy="164.0" r="2.0"/><circle cx="75.2" cy="164.0" r="2.0"/><circle cx="120.1" cy="168.0" r="2.0"/><circle cx="91.8" cy="170.2" r="2.0"/><circle cx="106.8" cy="166.9" r="2.0"/><circle cx="98.8" cy="164.6" r="2.0"/><circle cx="100.9" cy="177.2" r="2.0"/><circle cx="139.2" cy="172.6" r="2.0"/><circle cx="84.9" cy="166.7" r="2.0"/><circle cx="82.3" cy="165.1" r="2.0"/><circle cx="139.0" cy="167.5" r="2.0"/><circle cx="132.7" cy="176.4" r="2.0"/><circle cx="111.8" cy="176.0" r="2.0"/><circle cx="156.8" cy="171.5" r="2.0"/><circle cx="156.7" cy="172.2" r="2.0"/><circle cx="93.8" cy="173.9" r="2.0"/><circle cx="157.8" cy="167.6" r="2.0"/><circle cx="109.8" cy="166.0" r="2.0"/><circle cx="96.3" cy="171.9" r="2.0"/><circle cx="123.8" cy="168.8" r="2.0"/><circle cx="144.2" cy="169.3" r="2.0"/><circle cx="106.9" cy="176.6" r="2.0"/><circle cx="89.1" cy="165.4" r="2.0"/><circle cx="135.8" cy="168.6" r="2.0"/><circle cx="90.4" cy="170.4" r="2.0"/><circle cx="146.1" cy="170.0" r="2.0"/><circle cx="86.4" cy="168.8" r="2.0"/><circle cx="156.4" cy="170.5" r="2.0"/><circle cx="92.5" cy="172.9" r="2.0"/><circle cx="139.6" cy="166.5" r="2.0"/><circle cx="89.0" cy="173.1" r="2.0"/><circle cx="97.6" cy="174.3" r="2.0"/><circle cx="122.9" cy="181.4" r="2.0"/><circle cx="105.0" cy="178.8" r="2.0"/><circle cx="164.6" cy="164.4" r="2.0"/><circle cx="84.2" cy="164.0" r="2.0"/><circle cx="84.2" cy="168.5" r="2.0"/><circle cx="165.4" cy="164.1" r="2.0"/><circle cx="142.4" cy="173.1" r="2.0"/><circle cx="92.9" cy="168.5" r="2.0"/><circle cx="84.6" cy="170.2" r="2.0"/><circle cx="110.6" cy="183.1" r="2.0"/><circle cx="111.6" cy="167.9" r="2.0"/><circle cx="138.7" cy="172.7" r="2.0"/><circle cx="133.1" cy="174.3" r="2.0"/><circle cx="87.9" cy="167.8" r="2.0"/><circle cx="112.1" cy="169.0" r="2.0"/><circle cx="158.5" cy="167.9" r="2.0"/><circle cx="127.7" cy="168.9" r="2.0"/><circle cx="113.6" cy="179.6" r="2.0"/><circle cx="141.3" cy="165.7" r="2.0"/><circle cx="146.1" cy="168.2" r="2.0"/><circle cx="153.3" cy="167.2" r="2.0"/><circle cx="133.9" cy="174.3" r="2.0"/><circle cx="103.6" cy="170.4" r="2.0"/><circle cx="83.8" cy="168.1" r="2.0"/><circle cx="146.9" cy="167.9" r="2.0"/><circle cx="132.8" cy="178.5" r="2.0"/><circle cx="113.8" cy="174.9" r="2.0"/><circle cx="132.1" cy="175.4" r="2.0"/><circle cx="137.0" cy="165.0" r="2.0"/><circle cx="91.7" cy="168.1" r="2.0"/><circle cx="146.5" cy="172.7" r="2.0"/><circle cx="119.9" cy="164.2" r="2.0"/><circle cx="78.3" cy="165.2" r="2.0"/><circle cx="89.6" cy="166.2" r="2.0"/><circle cx="161.5" cy="166.2" r="2.0"/><circle cx="84.1" cy="167.0" r="2.0"/><circle cx="124.7" cy="169.6" r="2.0"/><circle cx="122.0" cy="171.3" r="2.0"/><circle cx="151.2" cy="169.5" r="2.0"/><circle cx="112.6" cy="164.7" r="2.0"/><circle cx="94.2" cy="168.1" r="2.0"/><circle cx="111.0" cy="168.5" r="2.0"/><circle cx="86.1" cy="163.8" r="2.0"/><circle cx="107.6" cy="181.9" r="2.0"/><circle cx="100.1" cy="173.8" r="2.0"/><circle cx="76.0" cy="164.5" r="2.0"/><circle cx="113.6" cy="169.9" r="2.0"/><circle cx="107.2" cy="177.8" r="2.0"/><circle cx="95.5" cy="167.5" r="2.0"/><circle cx="161.4" cy="166.1" r="2.0"/><circle cx="95.0" cy="166.6" r="2.0"/><circle cx="110.9" cy="179.5" r="2.0"/><circle cx="86.7" cy="165.8" r="2.0"/><circle cx="149.4" cy="168.5" r="2.0"/><circle cx="118.0" cy="172.9" r="2.0"/><circle cx="95.6" cy="164.2" r="2.0"/><circle cx="107.3" cy="170.7" r="2.0"/><circle cx="150.2" cy="166.0" r="2.0"/><circle cx="117.9" cy="178.5" r="2.0"/><circle cx="125.3" cy="182.0" r="2.0"/><circle cx="151.6" cy="171.4" r="2.0"/><circle cx="153.2" cy="171.8" r="2.0"/><circle cx="109.5" cy="178.5" r="2.0"/><circle cx="114.1" cy="180.5" r="2.0"/><circle cx="75.1" cy="163.8" r="2.0"/><circle cx="100.7" cy="176.6" r="2.0"/><circle cx="102.6" cy="173.0" r="2.0"/><circle cx="114.3" cy="171.2" r="2.0"/><circle cx="135.5" cy="175.8" r="2.0"/><circle cx="160.4" cy="164.6" r="2.0"/><circle cx="80.1" cy="164.5" r="2.0"/><circle cx="158.3" cy="165.3" r="2.0"/><circle cx="87.7" cy="165.4" r="2.0"/><circle cx="133.1" cy="183.1" r="2.0"/><circle cx="75.9" cy="163.7" r="2.0"/><circle cx="135.2" cy="178.0" r="2.0"/><circle cx="84.2" cy="170.4" r="2.0"/><circle cx="96.3" cy="167.1" r="2.0"/><circle cx="106.7" cy="179.9" r="2.0"/><circle cx="158.1" cy="165.3" r="2.0"/><circle cx="90.3" cy="165.0" r="2.0"/><circle cx="130.9" cy="168.1" r="2.0"/><circle cx="136.4" cy="165.7" r="2.0"/><circle cx="147.4" cy="166.0" r="2.0"/><circle cx="93.0" cy="167.8" r="2.0"/><circle cx="123.7" cy="169.1" r="2.0"/><circle cx="115.2" cy="166.1" r="2.0"/><circle cx="125.9" cy="179.0" r="2.0"/><circle cx="96.4" cy="176.8" r="2.0"/><circle cx="120.2" cy="183.6" r="2.0"/><circle cx="117.8" cy="181.7" r="2.0"/><circle cx="120.1" cy="174.3" r="2.0"/><circle cx="124.5" cy="166.6" r="2.0"/><circle cx="75.4" cy="163.8" r="2.0"/><circle cx="117.9" cy="172.9" r="2.0"/><circle cx="136.1" cy="166.7" r="2.0"/><circle cx="109.3" cy="175.2" r="2.0"/><circle cx="163.3" cy="167.1" r="2.0"/><circle cx="133.5" cy="170.8" r="2.0"/><circle cx="77.4" cy="164.7" r="2.0"/><circle cx="137.7" cy="164.9" r="2.0"/><circle cx="105.2" cy="164.0" r="2.0"/><circle cx="121.8" cy="174.6" r="2.0"/><circle cx="157.5" cy="171.5" r="2.0"/><circle cx="141.0" cy="170.1" r="2.0"/><circle cx="106.0" cy="166.3" r="2.0"/><circle cx="108.5" cy="174.0" r="2.0"/><circle cx="123.2" cy="168.5" r="2.0"/><circle cx="94.2" cy="171.7" r="2.0"/><circle cx="113.7" cy="172.9" r="2.0"/><circle cx="151.0" cy="172.4" r="2.0"/><circle cx="151.1" cy="171.0" r="2.0"/><circle cx="121.2" cy="179.1" r="2.0"/><circle cx="121.5" cy="164.2" r="2.0"/><circle cx="135.1" cy="167.7" r="2.0"/><circle cx="105.3" cy="176.5" r="2.0"/><circle cx="102.4" cy="171.0" r="2.0"/><circle cx="133.3" cy="167.9" r="2.0"/><circle cx="78.5" cy="164.7" r="2.0"/><circle cx="156.4" cy="167.7" r="2.0"/><circle cx="79.4" cy="166.6" r="2.0"/><circle cx="75.4" cy="164.4" r="2.0"/><circle cx="159.7" cy="166.2" r="2.0"/><circle cx="135.4" cy="167.7" r="2.0"/><circle cx="158.6" cy="166.5" r="2.0"/><circle cx="131.6" cy="171.2" r="2.0"/><circle cx="139.0" cy="170.9" r="2.0"/><circle cx="137.5" cy="178.2" r="2.0"/><circle cx="136.3" cy="173.9" r="2.0"/><circle cx="145.1" cy="177.6" r="2.0"/><circle cx="91.5" cy="175.9" r="2.0"/><circle cx="146.2" cy="165.0" r="2.0"/><circle cx="135.2" cy="175.8" r="2.0"/><circle cx="150.6" cy="166.4" r="2.0"/><circle cx="126.6" cy="179.1" r="2.0"/><circle cx="102.6" cy="174.0" r="2.0"/><circle cx="104.1" cy="174.1" r="2.0"/><circle cx="133.9" cy="165.0" r="2.0"/><circle cx="79.8" cy="165.7" r="2.0"/><circle cx="78.4" cy="166.7" r="2.0"/><circle cx="149.5" cy="169.3" r="2.0"/><circle cx="159.4" cy="167.4" r="2.0"/><circle cx="76.1" cy="164.6" r="2.0"/><circle cx="129.3" cy="165.0" r="2.0"/><circle cx="165.2" cy="164.8" r="2.0"/><circle cx="112.8" cy="182.1" r="2.0"/><circle cx="134.2" cy="179.0" r="2.0"/><circle cx="88.8" cy="174.5" r="2.0"/><circle cx="75.2" cy="163.9" r="2.0"/><circle cx="86.0" cy="164.0" r="2.0"/><circle cx="82.9" cy="164.6" r="2.0"/><circle cx="86.7" cy="173.2" r="2.0"/><circle cx="141.1" cy="176.7" r="2.0"/><circle cx="142.4" cy="177.2" r="2.0"/><circle cx="79.4" cy="164.6" r="2.0"/><circle cx="140.5" cy="166.2" r="2.0"/><circle cx="142.0" cy="179.1" r="2.0"/><circle cx="132.7" cy="169.4" r="2.0"/><circle cx="117.2" cy="165.1" r="2.0"/><circle cx="98.2" cy="164.3" r="2.0"/><circle cx="140.9" cy="180.8" r="2.0"/><circle cx="76.2" cy="164.2" r="2.0"/><circle cx="150.1" cy="175.5" r="2.0"/><circle cx="103.5" cy="168.6" r="2.0"/><circle cx="90.1" cy="165.3" r="2.0"/><circle cx="119.6" cy="183.5" r="2.0"/><circle cx="108.7" cy="172.0" r="2.0"/><circle cx="115.2" cy="170.4" r="2.0"/><circle cx="88.2" cy="165.8" r="2.0"/><circle cx="108.3" cy="170.6" r="2.0"/><circle cx="132.8" cy="175.2" r="2.0"/><circle cx="110.3" cy="168.0" r="2.0"/><circle cx="161.9" cy="164.7" r="2.0"/><circle cx="127.0" cy="178.4" r="2.0"/><circle cx="80.4" cy="163.8" r="2.0"/><circle cx="139.6" cy="166.7" r="2.0"/><circle cx="105.4" cy="171.1" r="2.0"/><circle cx="164.9" cy="164.1" r="2.0"/><circle cx="130.2" cy="177.7" r="2.0"/><circle cx="114.3" cy="166.0" r="2.0"/><circle cx="109.5" cy="169.9" r="2.0"/><circle cx="130.2" cy="165.8" r="2.0"/><circle cx="149.2" cy="173.3" r="2.0"/><circle cx="75.0" cy="164.0" r="2.0"/><circle cx="113.7" cy="172.2" r="2.0"/><circle cx="150.0" cy="165.1" r="2.0"/><circle cx="78.7" cy="164.3" r="2.0"/><circle cx="149.6" cy="165.4" r="2.0"/><circle cx="127.5" cy="178.7" r="2.0"/><circle cx="153.2" cy="165.8" r="2.0"/><circle cx="137.9" cy="165.3" r="2.0"/><circle cx="106.8" cy="181.2" r="2.0"/><circle cx="125.8" cy="167.9" r="2.0"/><circle cx="93.3" cy="167.1" r="2.0"/><circle cx="160.6" cy="168.1" r="2.0"/><circle cx="130.7" cy="170.2" r="2.0"/><circle cx="117.7" cy="180.4" r="2.0"/><circle cx="98.3" cy="167.7" r="2.0"/><circle cx="147.7" cy="171.3" r="2.0"/><circle cx="82.9" cy="165.0" r="2.0"/><circle cx="145.9" cy="175.2" r="2.0"/><circle cx="128.2" cy="165.8" r="2.0"/><circle cx="156.4" cy="168.0" r="2.0"/><circle cx="118.7" cy="172.3" r="2.0"/><circle cx="92.2" cy="174.2" r="2.0"/><circle cx="91.5" cy="167.4" r="2.0"/><circle cx="108.2" cy="172.2" r="2.0"/><circle cx="111.9" cy="173.5" r="2.0"/><circle cx="88.5" cy="174.0" r="2.0"/><circle cx="166.7" cy="164.2" r="2.0"/><circle cx="84.6" cy="166.7" r="2.0"/><circle cx="147.3" cy="175.8" r="2.0"/><circle cx="129.8" cy="177.0" r="2.0"/><circle cx="122.7" cy="184.3" r="2.0"/><circle cx="77.9" cy="163.7" r="2.0"/><circle cx="154.6" cy="168.9" r="2.0"/><circle cx="127.1" cy="179.0" r="2.0"/><circle cx="146.6" cy="172.1" r="2.0"/><circle cx="162.0" cy="164.8" r="2.0"/><circle cx="150.2" cy="164.1" r="2.0"/><circle cx="98.2" cy="179.1" r="2.0"/><circle cx="93.3" cy="174.9" r="2.0"/><circle cx="82.5" cy="170.0" r="2.0"/><circle cx="126.2" cy="166.4" r="2.0"/><circle cx="117.0" cy="164.8" r="2.0"/><circle cx="158.6" cy="170.5" r="2.0"/><circle cx="129.9" cy="175.9" r="2.0"/><circle cx="85.9" cy="164.0" r="2.0"/><circle cx="98.5" cy="170.7" r="2.0"/><circle cx="133.8" cy="164.5" r="2.0"/><circle cx="136.5" cy="175.1" r="2.0"/><circle cx="116.1" cy="181.2" r="2.0"/><circle cx="163.8" cy="163.7" r="2.0"/><circle cx="95.2" cy="177.8" r="2.0"/><circle cx="98.4" cy="174.1" r="2.0"/><circle cx="158.0" cy="164.4" r="2.0"/><circle cx="151.9" cy="174.9" r="2.0"/><circle cx="147.3" cy="167.9" r="2.0"/><circle cx="134.4" cy="164.0" r="2.0"/><circle cx="79.9" cy="167.7" r="2.0"/><circle cx="144.4" cy="164.6" r="2.0"/><circle cx="137.2" cy="176.7" r="2.0"/><circle cx="129.3" cy="168.6" r="2.0"/><circle cx="84.5" cy="169.2" r="2.0"/><circle cx="98.5" cy="177.8" r="2.0"/><circle cx="119.1" cy="181.2" r="2.0"/><circle cx="96.8" cy="176.9" r="2.0"/><circle cx="137.2" cy="182.0" r="2.0"/><circle cx="140.9" cy="177.6" r="2.0"/><circle cx="78.1" cy="163.9" r="2.0"/><circle cx="95.1" cy="164.6" r="2.0"/><circle cx="154.7" cy="164.8" r="2.0"/><circle cx="87.7" cy="169.4" r="2.0"/><circle cx="83.7" cy="164.2" r="2.0"/><circle cx="152.4" cy="168.0" r="2.0"/><circle cx="116.5" cy="177.5" r="2.0"/><circle cx="150.6" cy="170.2" r="2.0"/><circle cx="132.7" cy="180.6" r="2.0"/><circle cx="95.2" cy="177.5" r="2.0"/><circle cx="140.6" cy="171.4" r="2.0"/><circle cx="88.1" cy="165.0" r="2.0"/><circle cx="99.3" cy="173.4" r="2.0"/><circle cx="89.1" cy="171.9" r="2.0"/><circle cx="152.2" cy="171.4" r="2.0"/><circle cx="90.3" cy="169.7" r="2.0"/><circle cx="104.1" cy="165.5" r="2.0"/><circle cx="85.3" cy="163.9" r="2.0"/><circle cx="80.0" cy="164.2" r="2.0"/><circle cx="136.4" cy="178.5" r="2.0"/><circle cx="118.8" cy="178.7" r="2.0"/><circle cx="98.6" cy="176.6" r="2.0"/><circle cx="108.4" cy="163.9" r="2.0"/><circle cx="166.8" cy="163.7" r="2.0"/><circle cx="83.8" cy="169.1" r="2.0"/><circle cx="157.4" cy="171.4" r="2.0"/><circle cx="141.7" cy="175.6" r="2.0"/><circle cx="165.0" cy="165.9" r="2.0"/><circle cx="149.2" cy="172.5" r="2.0"/><circle cx="87.7" cy="174.0" r="2.0"/><circle cx="151.5" cy="169.4" r="2.0"/><circle cx="91.9" cy="171.0" r="2.0"/><circle cx="158.8" cy="169.3" r="2.0"/><circle cx="127.4" cy="181.5" r="2.0"/><circle cx="91.4" cy="166.6" r="2.0"/><circle cx="140.4" cy="177.7" r="2.0"/><circle cx="82.1" cy="169.5" r="2.0"/><circle cx="130.9" cy="173.9" r="2.0"/><circle cx="100.0" cy="177.0" r="2.0"/><circle cx="131.2" cy="169.6" r="2.0"/><circle cx="149.6" cy="169.2" r="2.0"/><circle cx="93.4" cy="176.5" r="2.0"/><circle cx="142.3" cy="173.6" r="2.0"/><circle cx="141.3" cy="179.8" r="2.0"/><circle cx="149.5" cy="172.5" r="2.0"/><circle cx="152.4" cy="165.2" r="2.0"/><circle cx="120.2" cy="184.5" r="2.0"/><circle cx="158.7" cy="167.5" r="2.0"/><circle cx="155.1" cy="170.8" r="2.0"/><circle cx="91.9" cy="165.9" r="2.0"/><circle cx="108.6" cy="180.1" r="2.0"/><circle cx="109.0" cy="171.7" r="2.0"/><circle cx="75.2" cy="164.0" r="2.0"/><circle cx="115.9" cy="173.8" r="2.0"/><circle cx="85.9" cy="166.3" r="2.0"/><circle cx="150.0" cy="165.4" r="2.0"/><circle cx="104.4" cy="169.0" r="2.0"/><circle cx="109.9" cy="168.6" r="2.0"/><circle cx="80.4" cy="164.3" r="2.0"/><circle cx="162.7" cy="165.8" r="2.0"/><circle cx="122.1" cy="173.6" r="2.0"/><circle cx="124.3" cy="184.3" r="2.0"/><circle cx="163.9" cy="166.1" r="2.0"/><circle cx="91.6" cy="175.1" r="2.0"/><circle cx="97.9" cy="166.6" r="2.0"/><circle cx="77.6" cy="166.2" r="2.0"/><circle cx="139.2" cy="178.1" r="2.0"/><circle cx="76.4" cy="164.4" r="2.0"/><circle cx="127.9" cy="173.5" r="2.0"/><circle cx="139.5" cy="179.6" r="2.0"/><circle cx="154.9" cy="166.5" r="2.0"/><circle cx="79.0" cy="167.1" r="2.0"/><circle cx="120.3" cy="174.2" r="2.0"/><circle cx="100.6" cy="178.6" r="2.0"/><circle cx="112.2" cy="181.3" r="2.0"/><circle cx="129.3" cy="166.5" r="2.0"/><circle cx="88.4" cy="168.3" r="2.0"/><circle cx="143.6" cy="177.2" r="2.0"/><circle cx="150.9" cy="164.5" r="2.0"/><circle cx="110.6" cy="175.3" r="2.0"/><circle cx="152.2" cy="169.2" r="2.0"/><circle cx="111.3" cy="164.9" r="2.0"/><circle cx="146.4" cy="173.5" r="2.0"/><circle cx="97.0" cy="174.0" r="2.0"/><circle cx="114.9" cy="164.1" r="2.0"/><circle cx="148.9" cy="164.9" r="2.0"/><circle cx="149.9" cy="165.7" r="2.0"/><circle cx="79.7" cy="165.9" r="2.0"/><circle cx="163.1" cy="163.9" r="2.0"/><circle cx="97.8" cy="172.8" r="2.0"/><circle cx="133.1" cy="176.2" r="2.0"/><circle cx="123.7" cy="183.3" r="2.0"/><circle cx="114.7" cy="173.9" r="2.0"/><circle cx="76.7" cy="165.4" r="2.0"/><circle cx="164.1" cy="164.3" r="2.0"/><circle cx="161.1" cy="165.7" r="2.0"/><circle cx="149.4" cy="165.2" r="2.0"/><circle cx="156.3" cy="172.3" r="2.0"/><circle cx="133.9" cy="178.0" r="2.0"/><circle cx="137.3" cy="177.1" r="2.0"/><circle cx="124.8" cy="165.3" r="2.0"/><circle cx="132.0" cy="178.6" r="2.0"/><circle cx="122.7" cy="175.6" r="2.0"/><circle cx="162.4" cy="166.8" r="2.0"/><circle cx="102.9" cy="170.0" r="2.0"/><circle cx="85.9" cy="167.4" r="2.0"/><circle cx="162.9" cy="165.6" r="2.0"/><circle cx="99.5" cy="172.6" r="2.0"/><circle cx="124.0" cy="181.6" r="2.0"/><circle cx="86.2" cy="171.8" r="2.0"/><circle cx="101.9" cy="174.1" r="2.0"/><circle cx="101.4" cy="176.8" r="2.0"/><circle cx="82.9" cy="166.8" r="2.0"/><circle cx="152.2" cy="168.2" r="2.0"/><circle cx="127.3" cy="170.9" r="2.0"/><circle cx="93.3" cy="167.6" r="2.0"/><circle cx="117.3" cy="173.2" r="2.0"/><circle cx="131.3" cy="174.4" r="2.0"/><circle cx="103.4" cy="177.4" r="2.0"/><circle cx="95.2" cy="170.8" r="2.0"/><circle cx="110.1" cy="172.0" r="2.0"/><circle cx="75.9" cy="164.5" r="2.0"/><circle cx="154.2" cy="171.6" r="2.0"/><circle cx="126.1" cy="174.3" r="2.0"/><circle cx="101.0" cy="163.9" r="2.0"/><circle cx="102.0" cy="167.7" r="2.0"/><circle cx="89.4" cy="174.3" r="2.0"/><circle cx="155.1" cy="169.2" r="2.0"/><circle cx="80.5" cy="166.8" r="2.0"/><circle cx="115.3" cy="169.2" r="2.0"/><circle cx="84.9" cy="170.2" r="2.0"/><circle cx="163.2" cy="164.7" r="2.0"/><circle cx="89.0" cy="171.1" r="2.0"/><circle cx="107.3" cy="169.9" r="2.0"/><circle cx="131.6" cy="166.7" r="2.0"/><circle cx="150.5" cy="169.8" r="2.0"/><circle cx="142.9" cy="167.9" r="2.0"/><circle cx="144.8" cy="171.9" r="2.0"/><circle cx="147.1" cy="167.9" r="2.0"/><circle cx="159.1" cy="169.8" r="2.0"/><circle cx="155.0" cy="173.5" r="2.0"/><circle cx="145.3" cy="170.0" r="2.0"/><circle cx="120.7" cy="164.5" r="2.0"/><circle cx="127.5" cy="175.7" r="2.0"/><circle cx="147.0" cy="165.5" r="2.0"/><circle cx="130.8" cy="176.2" r="2.0"/><circle cx="116.5" cy="175.0" r="2.0"/><circle cx="141.4" cy="175.7" r="2.0"/><circle cx="110.8" cy="172.6" r="2.0"/><circle cx="110.2" cy="177.2" r="2.0"/><circle cx="147.3" cy="165.8" r="2.0"/><circle cx="120.8" cy="175.4" r="2.0"/><circle cx="91.8" cy="172.6" r="2.0"/><circle cx="88.2" cy="168.2" r="2.0"/><circle cx="128.4" cy="182.5" r="2.0"/><circle cx="159.6" cy="168.2" r="2.0"/><circle cx="152.5" cy="165.5" r="2.0"/><circle cx="163.1" cy="166.7" r="2.0"/><circle cx="114.1" cy="165.5" r="2.0"/><circle cx="75.8" cy="164.8" r="2.0"/><circle cx="126.9" cy="174.1" r="2.0"/><circle cx="159.6" cy="165.2" r="2.0"/><circle cx="124.4" cy="163.7" r="2.0"/><circle cx="122.5" cy="173.9" r="2.0"/><circle cx="137.9" cy="174.9" r="2.0"/><circle cx="107.8" cy="171.5" r="2.0"/><circle cx="107.2" cy="164.7" r="2.0"/><circle cx="137.1" cy="172.5" r="2.0"/><circle cx="83.9" cy="168.5" r="2.0"/><circle cx="111.7" cy="172.6" r="2.0"/><circle cx="127.7" cy="166.2" r="2.0"/><circle cx="163.7" cy="165.4" r="2.0"/><circle cx="115.4" cy="171.5" r="2.0"/><circle cx="166.6" cy="164.3" r="2.0"/><circle cx="123.6" cy="167.6" r="2.0"/><circle cx="90.5" cy="171.9" r="2.0"/><circle cx="165.0" cy="164.1" r="2.0"/><circle cx="122.0" cy="182.5" r="2.0"/><circle cx="157.2" cy="166.3" r="2.0"/><circle cx="150.4" cy="163.8" r="2.0"/><circle cx="156.6" cy="168.7" r="2.0"/><circle cx="89.2" cy="171.7" r="2.0"/><circle cx="121.9" cy="174.1" r="2.0"/><circle cx="92.1" cy="174.3" r="2.0"/><circle cx="132.9" cy="171.5" r="2.0"/><circle cx="107.3" cy="163.8" r="2.0"/><circle cx="133.4" cy="182.5" r="2.0"/><circle cx="112.7" cy="168.0" r="2.0"/><circle cx="103.1" cy="169.2" r="2.0"/><circle cx="75.2" cy="164.1" r="2.0"/><circle cx="152.4" cy="168.4" r="2.0"/><circle cx="136.4" cy="178.8" r="2.0"/><circle cx="120.7" cy="173.1" r="2.0"/><circle cx="99.3" cy="169.5" r="2.0"/><circle cx="123.8" cy="163.7" r="2.0"/><circle cx="127.7" cy="175.9" r="2.0"/><circle cx="86.0" cy="171.4" r="2.0"/><circle cx="144.8" cy="177.6" r="2.0"/><circle cx="84.0" cy="170.1" r="2.0"/><circle cx="122.9" cy="167.4" r="2.0"/><circle cx="131.3" cy="167.6" r="2.0"/><circle cx="80.5" cy="168.8" r="2.0"/><circle cx="145.8" cy="173.9" r="2.0"/><circle cx="140.7" cy="174.9" r="2.0"/><circle cx="90.4" cy="172.5" r="2.0"/><circle cx="84.0" cy="164.4" r="2.0"/><circle cx="128.4" cy="177.1" r="2.0"/><circle cx="116.2" cy="176.5" r="2.0"/><circle cx="79.8" cy="164.2" r="2.0"/><circle cx="128.5" cy="164.5" r="2.0"/><circle cx="115.3" cy="171.6" r="2.0"/><circle cx="97.8" cy="178.8" r="2.0"/><circle cx="160.6" cy="164.5" r="2.0"/><circle cx="103.8" cy="165.5" r="2.0"/><circle cx="150.0" cy="172.7" r="2.0"/><circle cx="130.3" cy="164.5" r="2.0"/><circle cx="120.5" cy="164.7" r="2.0"/><circle cx="97.2" cy="173.2" r="2.0"/><circle cx="141.0" cy="177.1" r="2.0"/><circle cx="103.3" cy="165.9" r="2.0"/><circle cx="119.4" cy="168.1" r="2.0"/><circle cx="97.2" cy="176.6" r="2.0"/><circle cx="107.8" cy="179.5" r="2.0"/><circle cx="164.3" cy="165.7" r="2.0"/><circle cx="126.5" cy="182.1" r="2.0"/><circle cx="124.0" cy="176.6" r="2.0"/><circle cx="112.0" cy="182.7" r="2.0"/><circle cx="86.2" cy="165.3" r="2.0"/><circle cx="107.2" cy="178.2" r="2.0"/><circle cx="92.4" cy="173.1" r="2.0"/><circle cx="96.7" cy="178.5" r="2.0"/><circle cx="136.0" cy="176.1" r="2.0"/><circle cx="89.2" cy="167.0" r="2.0"/><circle cx="83.3" cy="169.0" r="2.0"/><circle cx="151.7" cy="174.1" r="2.0"/><circle cx="115.6" cy="167.1" r="2.0"/><circle cx="149.0" cy="175.0" r="2.0"/><circle cx="107.3" cy="169.0" r="2.0"/><circle cx="109.5" cy="164.5" r="2.0"/><circle cx="94.0" cy="164.4" r="2.0"/><circle cx="121.3" cy="180.0" r="2.0"/><circle cx="116.5" cy="181.9" r="2.0"/><circle cx="139.9" cy="176.7" r="2.0"/><circle cx="157.7" cy="167.0" r="2.0"/><circle cx="108.7" cy="178.5" r="2.0"/><circle cx="130.8" cy="179.6" r="2.0"/><circle cx="155.2" cy="172.2" r="2.0"/><circle cx="122.1" cy="173.3" r="2.0"/><circle cx="99.7" cy="167.5" r="2.0"/><circle cx="110.3" cy="170.5" r="2.0"/><circle cx="127.1" cy="178.0" r="2.0"/><circle cx="110.7" cy="182.0" r="2.0"/><circle cx="91.1" cy="165.5" r="2.0"/><circle cx="104.4" cy="169.9" r="2.0"/><circle cx="84.8" cy="167.3" r="2.0"/><circle cx="108.1" cy="173.4" r="2.0"/><circle cx="102.2" cy="180.2" r="2.0"/><circle cx="103.5" cy="177.7" r="2.0"/><circle cx="86.4" cy="166.4" r="2.0"/><circle cx="100.8" cy="173.9" r="2.0"/><circle cx="158.5" cy="165.3" r="2.0"/><circle cx="156.1" cy="164.9" r="2.0"/><circle cx="87.0" cy="170.8" r="2.0"/><circle cx="77.5" cy="164.5" r="2.0"/><circle cx="135.9" cy="176.0" r="2.0"/><circle cx="112.8" cy="170.7" r="2.0"/><circle cx="139.2" cy="177.1" r="2.0"/><circle cx="152.8" cy="171.0" r="2.0"/><circle cx="132.7" cy="179.9" r="2.0"/><circle cx="85.4" cy="164.4" r="2.0"/><circle cx="142.4" cy="168.5" r="2.0"/><circle cx="78.5" cy="167.1" r="2.0"/><circle cx="89.7" cy="173.0" r="2.0"/><circle cx="102.7" cy="174.7" r="2.0"/><circle cx="78.4" cy="166.1" r="2.0"/><circle cx="133.6" cy="179.7" r="2.0"/><circle cx="152.1" cy="168.7" r="2.0"/><circle cx="140.8" cy="176.6" r="2.0"/><circle cx="114.9" cy="170.2" r="2.0"/><circle cx="107.0" cy="182.9" r="2.0"/><circle cx="151.7" cy="166.4" r="2.0"/><circle cx="101.2" cy="180.2" r="2.0"/><circle cx="153.5" cy="167.9" r="2.0"/><circle cx="79.2" cy="166.7" r="2.0"/><circle cx="85.0" cy="165.5" r="2.0"/><circle cx="94.2" cy="164.9" r="2.0"/><circle cx="143.9" cy="178.3" r="2.0"/><circle cx="138.8" cy="174.6" r="2.0"/><circle cx="143.7" cy="166.4" r="2.0"/><circle cx="100.7" cy="179.2" r="2.0"/><circle cx="162.0" cy="166.4" r="2.0"/><circle cx="160.5" cy="165.5" r="2.0"/><circle cx="142.9" cy="166.5" r="2.0"/><circle cx="132.7" cy="174.5" r="2.0"/><circle cx="79.8" cy="165.1" r="2.0"/><circle cx="114.3" cy="173.8" r="2.0"/><circle cx="160.3" cy="169.0" r="2.0"/><circle cx="145.0" cy="178.5" r="2.0"/><circle cx="139.5" cy="167.1" r="2.0"/><circle cx="98.9" cy="171.1" r="2.0"/><circle cx="164.1" cy="164.8" r="2.0"/><circle cx="124.9" cy="179.4" r="2.0"/><circle cx="80.3" cy="166.9" r="2.0"/><circle cx="112.7" cy="180.0" r="2.0"/><circle cx="103.4" cy="179.3" r="2.0"/><circle cx="139.9" cy="169.5" r="2.0"/><circle cx="96.7" cy="175.3" r="2.0"/><circle cx="122.3" cy="175.4" r="2.0"/><circle cx="161.0" cy="167.3" r="2.0"/><circle cx="102.4" cy="165.7" r="2.0"/><circle cx="87.9" cy="168.2" r="2.0"/><circle cx="105.5" cy="167.1" r="2.0"/><circle cx="125.3" cy="168.7" r="2.0"/><circle cx="90.4" cy="167.7" r="2.0"/><circle cx="130.0" cy="174.6" r="2.0"/><circle cx="145.4" cy="166.3" r="2.0"/><circle cx="85.4" cy="169.9" r="2.0"/><circle cx="108.0" cy="179.1" r="2.0"/><circle cx="80.4" cy="167.3" r="2.0"/><circle cx="93.0" cy="167.7" r="2.0"/><circle cx="116.1" cy="182.2" r="2.0"/><circle cx="104.7" cy="173.5" r="2.0"/><circle cx="108.2" cy="179.9" r="2.0"/><circle cx="81.4" cy="169.5" r="2.0"/><circle cx="166.2" cy="164.0" r="2.0"/><circle cx="82.5" cy="165.6" r="2.0"/><circle cx="165.1" cy="164.6" r="2.0"/><circle cx="84.8" cy="168.0" r="2.0"/><circle cx="114.8" cy="180.5" r="2.0"/><circle cx="124.8" cy="184.5" r="2.0"/><circle cx="159.5" cy="166.0" r="2.0"/><circle cx="132.6" cy="165.0" r="2.0"/><circle cx="134.9" cy="178.1" r="2.0"/><circle cx="97.5" cy="177.2" r="2.0"/><circle cx="77.4" cy="164.3" r="2.0"/><circle cx="152.2" cy="171.9" r="2.0"/><circle cx="91.9" cy="168.3" r="2.0"/><circle cx="152.7" cy="164.5" r="2.0"/><circle cx="90.3" cy="166.3" r="2.0"/><circle cx="151.3" cy="166.8" r="2.0"/><circle cx="104.9" cy="178.8" r="2.0"/><circle cx="150.8" cy="172.1" r="2.0"/><circle cx="108.8" cy="172.5" r="2.0"/><circle cx="108.8" cy="167.0" r="2.0"/><circle cx="96.9" cy="178.5" r="2.0"/><circle cx="127.0" cy="171.4" r="2.0"/><circle cx="150.3" cy="167.4" r="2.0"/><circle cx="158.2" cy="164.1" r="2.0"/><circle cx="120.4" cy="174.2" r="2.0"/><circle cx="89.3" cy="171.6" r="2.0"/><circle cx="128.3" cy="182.6" r="2.0"/><circle cx="138.2" cy="178.9" r="2.0"/><circle cx="115.6" cy="164.3" r="2.0"/><circle cx="83.1" cy="170.5" r="2.0"/><circle cx="115.3" cy="180.5" r="2.0"/><circle cx="141.4" cy="180.7" r="2.0"/><circle cx="152.3" cy="165.4" r="2.0"/><circle cx="147.3" cy="171.9" r="2.0"/><circle cx="100.9" cy="169.5" r="2.0"/><circle cx="122.2" cy="175.9" r="2.0"/><circle cx="106.0" cy="174.3" r="2.0"/><circle cx="136.2" cy="167.0" r="2.0"/><circle cx="158.1" cy="170.1" r="2.0"/><circle cx="102.1" cy="173.5" r="2.0"/><circle cx="126.7" cy="177.2" r="2.0"/><circle cx="92.8" cy="175.9" r="2.0"/><circle cx="104.6" cy="173.7" r="2.0"/><circle cx="164.3" cy="163.9" r="2.0"/><circle cx="154.5" cy="163.9" r="2.0"/><circle cx="163.4" cy="165.0" r="2.0"/><circle cx="149.5" cy="176.1" r="2.0"/><circle cx="137.1" cy="170.9" r="2.0"/><circle cx="102.2" cy="171.3" r="2.0"/><circle cx="162.6" cy="165.9" r="2.0"/><circle cx="134.4" cy="177.2" r="2.0"/><circle cx="106.4" cy="165.9" r="2.0"/><circle cx="77.4" cy="165.8" r="2.0"/><circle cx="137.3" cy="173.9" r="2.0"/><circle cx="82.7" cy="166.0" r="2.0"/><circle cx="109.1" cy="172.0" r="2.0"/><circle cx="113.2" cy="173.3" r="2.0"/><circle cx="126.8" cy="176.2" r="2.0"/><circle cx="85.3" cy="170.8" r="2.0"/><circle cx="156.8" cy="167.6" r="2.0"/><circle cx="85.1" cy="164.9" r="2.0"/><circle cx="98.2" cy="178.2" r="2.0"/><circle cx="123.7" cy="179.4" r="2.0"/><circle cx="119.9" cy="173.1" r="2.0"/><circle cx="95.7" cy="170.0" r="2.0"/><circle cx="85.2" cy="167.9" r="2.0"/><circle cx="129.0" cy="182.5" r="2.0"/><circle cx="112.4" cy="182.6" r="2.0"/><circle cx="115.3" cy="166.5" r="2.0"/><circle cx="125.5" cy="169.7" r="2.0"/><circle cx="144.5" cy="177.6" r="2.0"/><circle cx="166.1" cy="164.0" r="2.0"/><circle cx="84.2" cy="165.0" r="2.0"/><circle cx="110.9" cy="180.4" r="2.0"/><circle cx="163.3" cy="165.3" r="2.0"/><circle cx="146.2" cy="176.6" r="2.0"/><circle cx="146.3" cy="177.7" r="2.0"/><circle cx="96.6" cy="173.3" r="2.0"/><circle cx="76.2" cy="164.3" r="2.0"/><circle cx="94.4" cy="173.7" r="2.0"/><circle cx="140.0" cy="173.8" r="2.0"/><circle cx="156.7" cy="167.0" r="2.0"/><circle cx="155.2" cy="167.9" r="2.0"/><circle cx="159.3" cy="164.6" r="2.0"/><circle cx="90.3" cy="166.7" r="2.0"/><circle cx="106.3" cy="168.2" r="2.0"/><circle cx="137.5" cy="166.9" r="2.0"/><circle cx="86.1" cy="169.5" r="2.0"/><circle cx="142.7" cy="164.5" r="2.0"/><circle cx="141.3" cy="180.0" r="2.0"/><circle cx="130.4" cy="181.9" r="2.0"/><circle cx="125.4" cy="167.8" r="2.0"/><circle cx="85.2" cy="164.3" r="2.0"/><circle cx="137.0" cy="177.6" r="2.0"/><circle cx="92.6" cy="171.0" r="2.0"/><circle cx="152.0" cy="168.6" r="2.0"/><circle cx="85.3" cy="172.2" r="2.0"/><circle cx="85.0" cy="165.4" r="2.0"/><circle cx="91.9" cy="169.4" r="2.0"/><circle cx="101.5" cy="169.1" r="2.0"/><circle cx="109.9" cy="180.7" r="2.0"/><circle cx="155.5" cy="168.1" r="2.0"/><circle cx="138.3" cy="167.2" r="2.0"/><circle cx="162.2" cy="168.2" r="2.0"/><circle cx="106.3" cy="179.8" r="2.0"/><circle cx="121.0" cy="166.4" r="2.0"/><circle cx="148.6" cy="176.9" r="2.0"/><circle cx="91.6" cy="166.0" r="2.0"/><circle cx="137.4" cy="174.9" r="2.0"/><circle cx="118.6" cy="181.4" r="2.0"/><circle cx="152.7" cy="170.6" r="2.0"/><circle cx="155.2" cy="167.5" r="2.0"/><circle cx="81.8" cy="167.8" r="2.0"/><circle cx="94.7" cy="165.2" r="2.0"/><circle cx="129.1" cy="183.3" r="2.0"/><circle cx="90.4" cy="171.4" r="2.0"/><circle cx="117.9" cy="172.6" r="2.0"/><circle cx="110.5" cy="176.6" r="2.0"/><circle cx="75.4" cy="164.0" r="2.0"/><circle cx="105.6" cy="182.1" r="2.0"/><circle cx="117.1" cy="164.0" r="2.0"/><circle cx="79.0" cy="167.0" r="2.0"/><circle cx="136.6" cy="177.3" r="2.0"/><circle cx="100.0" cy="172.1" r="2.0"/><circle cx="98.9" cy="170.7" r="2.0"/><circle cx="123.5" cy="164.6" r="2.0"/><circle cx="166.2" cy="164.8" r="2.0"/><circle cx="126.5" cy="168.5" r="2.0"/><circle cx="155.2" cy="165.9" r="2.0"/><circle cx="133.1" cy="170.9" r="2.0"/><circle cx="108.2" cy="177.7" r="2.0"/><circle cx="148.1" cy="165.5" r="2.0"/><circle cx="161.3" cy="165.4" r="2.0"/><circle cx="102.8" cy="167.9" r="2.0"/><circle cx="142.9" cy="171.7" r="2.0"/><circle cx="133.3" cy="176.4" r="2.0"/><circle cx="125.5" cy="176.1" r="2.0"/><circle cx="80.4" cy="167.0" r="2.0"/><circle cx="104.6" cy="163.9" r="2.0"/><circle cx="119.2" cy="177.0" r="2.0"/><circle cx="97.2" cy="175.6" r="2.0"/><circle cx="107.0" cy="180.3" r="2.0"/><circle cx="75.5" cy="163.8" r="2.0"/><circle cx="116.6" cy="175.3" r="2.0"/><circle cx="127.2" cy="178.2" r="2.0"/><circle cx="90.4" cy="174.9" r="2.0"/><circle cx="102.6" cy="176.0" r="2.0"/><circle cx="141.8" cy="171.3" r="2.0"/><circle cx="161.2" cy="167.2" r="2.0"/><circle cx="159.7" cy="166.4" r="2.0"/><circle cx="82.2" cy="169.0" r="2.0"/><circle cx="128.3" cy="163.9" r="2.0"/><circle cx="107.7" cy="168.1" r="2.0"/><circle cx="114.3" cy="166.4" r="2.0"/><circle cx="81.0" cy="166.5" r="2.0"/><circle cx="157.6" cy="169.5" r="2.0"/><circle cx="98.5" cy="179.5" r="2.0"/><circle cx="90.0" cy="172.3" r="2.0"/><circle cx="139.7" cy="177.5" r="2.0"/><circle cx="111.6" cy="179.9" r="2.0"/><circle cx="130.4" cy="166.4" r="2.0"/><circle cx="134.5" cy="179.2" r="2.0"/><circle cx="142.4" cy="164.3" r="2.0"/><circle cx="130.2" cy="182.4" r="2.0"/><circle cx="149.4" cy="165.3" r="2.0"/><circle cx="106.2" cy="180.1" r="2.0"/><circle cx="92.1" cy="169.7" r="2.0"/><circle cx="155.5" cy="167.1" r="2.0"/><circle cx="159.8" cy="168.7" r="2.0"/><circle cx="104.9" cy="168.3" r="2.0"/><circle cx="134.6" cy="175.2" r="2.0"/><circle cx="137.4" cy="175.9" r="2.0"/><circle cx="80.1" cy="166.5" r="2.0"/><circle cx="79.0" cy="165.1" r="2.0"/><circle cx="105.6" cy="173.2" r="2.0"/><circle cx="129.9" cy="178.8" r="2.0"/><circle cx="117.5" cy="184.4" r="2.0"/><circle cx="160.1" cy="166.4" r="2.0"/><circle cx="165.8" cy="165.2" r="2.0"/><circle cx="131.4" cy="169.2" r="2.0"/><circle cx="105.1" cy="180.6" r="2.0"/><circle cx="89.2" cy="173.3" r="2.0"/><circle cx="145.5" cy="177.6" r="2.0"/><circle cx="149.8" cy="171.2" r="2.0"/><circle cx="124.4" cy="172.3" r="2.0"/><circle cx="125.9" cy="170.8" r="2.0"/><circle cx="130.2" cy="177.3" r="2.0"/><circle cx="143.1" cy="175.8" r="2.0"/><circle cx="140.4" cy="167.8" r="2.0"/><circle cx="146.3" cy="174.0" r="2.0"/><circle cx="146.0" cy="164.0" r="2.0"/><circle cx="116.6" cy="178.8" r="2.0"/><circle cx="123.0" cy="164.9" r="2.0"/><circle cx="87.0" cy="173.4" r="2.0"/><circle cx="118.6" cy="170.9" r="2.0"/><circle cx="146.1" cy="173.2" r="2.0"/><circle cx="166.0" cy="164.8" r="2.0"/><circle cx="144.5" cy="178.0" r="2.0"/><circle cx="77.4" cy="165.9" r="2.0"/><circle cx="80.3" cy="166.2" r="2.0"/><circle cx="126.0" cy="180.8" r="2.0"/><circle cx="161.4" cy="167.0" r="2.0"/><circle cx="88.6" cy="172.6" r="2.0"/><circle cx="142.8" cy="165.0" r="2.0"/><circle cx="89.7" cy="174.9" r="2.0"/><circle cx="146.5" cy="174.9" r="2.0"/><circle cx="165.3" cy="164.7" r="2.0"/><circle cx="133.4" cy="176.5" r="2.0"/><circle cx="148.6" cy="171.1" r="2.0"/><circle cx="104.6" cy="165.5" r="2.0"/><circle cx="84.7" cy="165.9" r="2.0"/><circle cx="80.8" cy="165.6" r="2.0"/><circle cx="111.8" cy="166.4" r="2.0"/><circle cx="80.3" cy="165.9" r="2.0"/><circle cx="112.6" cy="165.3" r="2.0"/><circle cx="161.9" cy="165.5" r="2.0"/><circle cx="95.4" cy="174.7" r="2.0"/><circle cx="99.0" cy="173.0" r="2.0"/><circle cx="96.1" cy="175.7" r="2.0"/><circle cx="144.7" cy="169.3" r="2.0"/><circle cx="102.3" cy="163.8" r="2.0"/><circle cx="94.8" cy="169.9" r="2.0"/><circle cx="89.2" cy="165.2" r="2.0"/><circle cx="154.9" cy="171.0" r="2.0"/><circle cx="144.0" cy="166.5" r="2.0"/><circle cx="100.8" cy="175.1" r="2.0"/><circle cx="119.5" cy="166.0" r="2.0"/><circle cx="89.7" cy="167.3" r="2.0"/><circle cx="129.9" cy="174.8" r="2.0"/><circle cx="128.2" cy="166.1" r="2.0"/><circle cx="94.1" cy="165.3" r="2.0"/><circle cx="108.0" cy="168.0" r="2.0"/><circle cx="154.3" cy="172.1" r="2.0"/><circle cx="154.4" cy="163.7" r="2.0"/><circle cx="102.2" cy="180.9" r="2.0"/><circle cx="85.1" cy="163.9" r="2.0"/><circle cx="75.7" cy="163.8" r="2.0"/><circle cx="88.7" cy="166.6" r="2.0"/><circle cx="83.8" cy="170.0" r="2.0"/><circle cx="137.7" cy="180.4" r="2.0"/><circle cx="106.1" cy="165.2" r="2.0"/><circle cx="140.8" cy="165.7" r="2.0"/><circle cx="165.1" cy="165.8" r="2.0"/><circle cx="96.4" cy="166.8" r="2.0"/><circle cx="138.3" cy="181.2" r="2.0"/><circle cx="121.3" cy="179.9" r="2.0"/><circle cx="114.5" cy="182.2" r="2.0"/><circle cx="76.6" cy="163.7" r="2.0"/><circle cx="104.0" cy="165.9" r="2.0"/><circle cx="85.9" cy="168.4" r="2.0"/><circle cx="87.3" cy="169.4" r="2.0"/><circle cx="91.3" cy="167.6" r="2.0"/><circle cx="88.4" cy="166.5" r="2.0"/><circle cx="120.9" cy="182.4" r="2.0"/><circle cx="107.4" cy="173.4" r="2.0"/><circle cx="159.4" cy="168.0" r="2.0"/><circle cx="94.6" cy="164.1" r="2.0"/><circle cx="156.2" cy="166.1" r="2.0"/><circle cx="100.0" cy="177.5" r="2.0"/><circle cx="99.2" cy="179.0" r="2.0"/><circle cx="78.8" cy="165.5" r="2.0"/><circle cx="112.4" cy="172.7" r="2.0"/><circle cx="108.2" cy="183.0" r="2.0"/><circle cx="138.2" cy="170.0" r="2.0"/><circle cx="124.9" cy="173.1" r="2.0"/><circle cx="138.4" cy="164.0" r="2.0"/><circle cx="155.3" cy="166.4" r="2.0"/><circle cx="111.6" cy="177.5" r="2.0"/><circle cx="113.4" cy="164.2" r="2.0"/><circle cx="110.5" cy="176.0" r="2.0"/><circle cx="112.6" cy="181.2" r="2.0"/><circle cx="166.8" cy="164.4" r="2.0"/><circle cx="130.8" cy="165.2" r="2.0"/><circle cx="98.3" cy="169.9" r="2.0"/><circle cx="109.5" cy="178.7" r="2.0"/><circle cx="93.1" cy="175.6" r="2.0"/><circle cx="152.5" cy="166.2" r="2.0"/><circle cx="158.5" cy="170.7" r="2.0"/><circle cx="138.8" cy="175.9" r="2.0"/><circle cx="134.3" cy="172.4" r="2.0"/><circle cx="103.9" cy="164.2" r="2.0"/><circle cx="74.9" cy="163.8" r="2.0"/><circle cx="153.4" cy="169.0" r="2.0"/><circle cx="129.4" cy="163.8" r="2.0"/><circle cx="96.4" cy="169.3" r="2.0"/><circle cx="143.3" cy="173.8" r="2.0"/><circle cx="140.4" cy="174.3" r="2.0"/><circle cx="123.3" cy="171.8" r="2.0"/><circle cx="137.2" cy="176.3" r="2.0"/><circle cx="132.7" cy="172.7" r="2.0"/><circle cx="95.4" cy="169.4" r="2.0"/><circle cx="99.2" cy="165.2" r="2.0"/><circle cx="118.4" cy="169.5" r="2.0"/><circle cx="122.9" cy="174.7" r="2.0"/><circle cx="95.2" cy="176.2" r="2.0"/><circle cx="160.2" cy="166.6" r="2.0"/><circle cx="123.1" cy="173.6" r="2.0"/><circle cx="149.7" cy="173.6" r="2.0"/><circle cx="90.7" cy="165.8" r="2.0"/><circle cx="117.2" cy="171.2" r="2.0"/><circle cx="151.0" cy="165.0" r="2.0"/><circle cx="154.8" cy="173.3" r="2.0"/><circle cx="109.9" cy="167.0" r="2.0"/><circle cx="150.1" cy="174.9" r="2.0"/><circle cx="89.0" cy="172.0" r="2.0"/><circle cx="84.3" cy="168.8" r="2.0"/><circle cx="148.8" cy="170.2" r="2.0"/><circle cx="116.5" cy="182.8" r="2.0"/><circle cx="111.2" cy="163.7" r="2.0"/><circle cx="138.8" cy="173.6" r="2.0"/><circle cx="118.9" cy="167.9" r="2.0"/><circle cx="144.7" cy="177.0" r="2.0"/><circle cx="137.5" cy="175.4" r="2.0"/><circle cx="122.8" cy="179.8" r="2.0"/><circle cx="109.0" cy="176.7" r="2.0"/><circle cx="109.9" cy="183.2" r="2.0"/><circle cx="93.3" cy="169.5" r="2.0"/><circle cx="80.1" cy="167.7" r="2.0"/><circle cx="141.0" cy="176.2" r="2.0"/><circle cx="104.7" cy="177.7" r="2.0"/><circle cx="151.7" cy="174.5" r="2.0"/><circle cx="133.4" cy="166.4" r="2.0"/><circle cx="93.4" cy="171.6" r="2.0"/><circle cx="147.8" cy="169.1" r="2.0"/><circle cx="109.0" cy="182.5" r="2.0"/><circle cx="115.6" cy="176.9" r="2.0"/><circle cx="140.5" cy="176.0" r="2.0"/><circle cx="112.4" cy="170.9" r="2.0"/><circle cx="149.5" cy="172.2" r="2.0"/><circle cx="110.3" cy="172.1" r="2.0"/><circle cx="160.0" cy="168.8" r="2.0"/><circle cx="164.3" cy="164.5" r="2.0"/><circle cx="109.1" cy="170.3" r="2.0"/><circle cx="105.2" cy="181.0" r="2.0"/><circle cx="144.5" cy="173.5" r="2.0"/><circle cx="123.2" cy="174.3" r="2.0"/><circle cx="157.8" cy="165.6" r="2.0"/><circle cx="77.2" cy="164.7" r="2.0"/><circle cx="117.4" cy="175.0" r="2.0"/><circle cx="152.2" cy="170.5" r="2.0"/><circle cx="118.4" cy="166.0" r="2.0"/><circle cx="115.3" cy="174.3" r="2.0"/><circle cx="122.0" cy="167.4" r="2.0"/><circle cx="136.6" cy="168.5" r="2.0"/><circle cx="111.8" cy="183.2" r="2.0"/><circle cx="137.4" cy="171.9" r="2.0"/><circle cx="145.7" cy="167.2" r="2.0"/><circle cx="85.7" cy="170.7" r="2.0"/><circle cx="81.9" cy="164.8" r="2.0"/><circle cx="84.2" cy="170.9" r="2.0"/><circle cx="144.2" cy="170.6" r="2.0"/><circle cx="79.9" cy="165.2" r="2.0"/><circle cx="140.3" cy="172.7" r="2.0"/><circle cx="79.8" cy="165.1" r="2.0"/><circle cx="113.3" cy="172.2" r="2.0"/><circle cx="166.8" cy="163.8" r="2.0"/><circle cx="155.1" cy="172.0" r="2.0"/><circle cx="105.6" cy="172.7" r="2.0"/><circle cx="75.4" cy="163.7" r="2.0"/><circle cx="100.1" cy="176.1" r="2.0"/><circle cx="103.6" cy="177.2" r="2.0"/><circle cx="153.9" cy="168.4" r="2.0"/><circle cx="121.9" cy="175.9" r="2.0"/><circle cx="79.5" cy="166.7" r="2.0"/><circle cx="154.7" cy="165.7" r="2.0"/><circle cx="153.7" cy="171.6" r="2.0"/><circle cx="93.4" cy="176.7" r="2.0"/><circle cx="124.3" cy="176.8" r="2.0"/><circle cx="117.6" cy="174.4" r="2.0"/><circle cx="128.6" cy="176.7" r="2.0"/><circle cx="148.6" cy="174.6" r="2.0"/><circle cx="159.5" cy="166.6" r="2.0"/><circle cx="79.5" cy="166.7" r="2.0"/><circle cx="123.9" cy="176.1" r="2.0"/><circle cx="126.9" cy="177.7" r="2.0"/><circle cx="100.0" cy="167.1" r="2.0"/><circle cx="101.7" cy="168.7" r="2.0"/><circle cx="148.7" cy="169.2" r="2.0"/><circle cx="116.7" cy="165.0" r="2.0"/><circle cx="115.8" cy="166.2" r="2.0"/><circle cx="80.1" cy="166.4" r="2.0"/><circle cx="133.7" cy="182.3" r="2.0"/><circle cx="154.3" cy="173.3" r="2.0"/><circle cx="129.7" cy="180.4" r="2.0"/><circle cx="159.8" cy="166.5" r="2.0"/><circle cx="148.6" cy="170.6" r="2.0"/><circle cx="136.9" cy="169.7" r="2.0"/><circle cx="102.0" cy="177.6" r="2.0"/><circle cx="152.0" cy="173.7" r="2.0"/><circle cx="159.4" cy="169.1" r="2.0"/><circle cx="84.1" cy="170.8" r="2.0"/><circle cx="147.1" cy="164.4" r="2.0"/><circle cx="113.0" cy="170.7" r="2.0"/><circle cx="98.5" cy="165.2" r="2.0"/><circle cx="138.0" cy="179.1" r="2.0"/><circle cx="80.0" cy="165.1" r="2.0"/><circle cx="78.7" cy="164.3" r="2.0"/><circle cx="101.9" cy="177.1" r="2.0"/><circle cx="128.4" cy="177.7" r="2.0"/><circle cx="126.5" cy="181.3" r="2.0"/><circle cx="158.8" cy="168.5" r="2.0"/><circle cx="152.3" cy="173.5" r="2.0"/><circle cx="148.5" cy="164.0" r="2.0"/><circle cx="110.9" cy="183.1" r="2.0"/><circle cx="109.8" cy="170.8" r="2.0"/><circle cx="95.4" cy="170.4" r="2.0"/><circle cx="83.4" cy="167.6" r="2.0"/><circle cx="141.9" cy="173.3" r="2.0"/><circle cx="137.4" cy="180.1" r="2.0"/><circle cx="151.1" cy="174.5" r="2.0"/><circle cx="159.9" cy="163.7" r="2.0"/><circle cx="161.4" cy="166.2" r="2.0"/><circle cx="101.6" cy="175.1" r="2.0"/><circle cx="143.9" cy="171.7" r="2.0"/><circle cx="160.5" cy="169.1" r="2.0"/><circle cx="119.5" cy="166.5" r="2.0"/><circle cx="129.9" cy="173.0" r="2.0"/><circle cx="83.0" cy="169.7" r="2.0"/><circle cx="99.8" cy="165.5" r="2.0"/><circle cx="152.7" cy="172.4" r="2.0"/><circle cx="160.0" cy="169.8" r="2.0"/><circle cx="130.0" cy="164.3" r="2.0"/><circle cx="106.5" cy="164.7" r="2.0"/><circle cx="135.3" cy="181.9" r="2.0"/><circle cx="105.5" cy="174.0" r="2.0"/><circle cx="97.6" cy="167.7" r="2.0"/><circle cx="91.3" cy="166.3" r="2.0"/><circle cx="102.3" cy="180.2" r="2.0"/><circle cx="126.3" cy="182.5" r="2.0"/><circle cx="125.6" cy="168.1" r="2.0"/><circle cx="129.7" cy="174.7" r="2.0"/><circle cx="77.9" cy="165.2" r="2.0"/><circle cx="83.8" cy="166.4" r="2.0"/><circle cx="87.0" cy="167.8" r="2.0"/><circle cx="107.3" cy="175.7" r="2.0"/><circle cx="135.9" cy="179.5" r="2.0"/><circle cx="90.4" cy="164.4" r="2.0"/><circle cx="105.4" cy="166.6" r="2.0"/><circle cx="155.3" cy="168.7" r="2.0"/><circle cx="88.5" cy="173.5" r="2.0"/><circle cx="155.8" cy="171.9" r="2.0"/><circle cx="120.5" cy="173.5" r="2.0"/><circle cx="85.6" cy="168.4" r="2.0"/><circle cx="89.9" cy="169.1" r="2.0"/><circle cx="121.5" cy="177.0" r="2.0"/><circle cx="93.0" cy="171.7" r="2.0"/><circle cx="93.5" cy="175.7" r="2.0"/><circle cx="96.9" cy="165.7" r="2.0"/><circle cx="121.0" cy="166.0" r="2.0"/><circle cx="76.2" cy="163.8" r="2.0"/><circle cx="119.8" cy="168.1" r="2.0"/><circle cx="127.4" cy="170.1" r="2.0"/><circle cx="95.9" cy="167.4" r="2.0"/><circle cx="89.0" cy="171.9" r="2.0"/><circle cx="77.7" cy="165.4" r="2.0"/><circle cx="122.5" cy="178.6" r="2.0"/><circle cx="156.8" cy="171.5" r="2.0"/><circle cx="128.1" cy="179.5" r="2.0"/><circle cx="129.7" cy="168.1" r="2.0"/><circle cx="140.3" cy="180.1" r="2.0"/><circle cx="97.4" cy="170.0" r="2.0"/><circle cx="165.4" cy="165.5" r="2.0"/><circle cx="131.8" cy="169.8" r="2.0"/><circle cx="149.9" cy="172.2" r="2.0"/><circle cx="149.5" cy="170.8" r="2.0"/><circle cx="159.6" cy="170.2" r="2.0"/><circle cx="161.4" cy="166.7" r="2.0"/><circle cx="112.3" cy="182.3" r="2.0"/><circle cx="97.4" cy="167.9" r="2.0"/><circle cx="137.3" cy="179.4" r="2.0"/><circle cx="106.5" cy="180.1" r="2.0"/><circle cx="93.1" cy="174.2" r="2.0"/><circle cx="105.3" cy="164.1" r="2.0"/><circle cx="166.7" cy="163.8" r="2.0"/><circle cx="119.0" cy="174.3" r="2.0"/><circle cx="146.6" cy="165.0" r="2.0"/><circle cx="144.0" cy="169.5" r="2.0"/><circle cx="93.1" cy="168.8" r="2.0"/><circle cx="152.7" cy="166.1" r="2.0"/><circle cx="83.3" cy="165.7" r="2.0"/><circle cx="107.0" cy="179.8" r="2.0"/><circle cx="163.8" cy="164.8" r="2.0"/><circle cx="143.5" cy="177.7" r="2.0"/><circle cx="151.1" cy="164.5" r="2.0"/><circle cx="158.2" cy="165.6" r="2.0"/><circle cx="151.5" cy="166.1" r="2.0"/><circle cx="129.2" cy="175.2" r="2.0"/><circle cx="150.8" cy="166.4" r="2.0"/><circle cx="155.0" cy="170.6" r="2.0"/><circle cx="163.3" cy="165.4" r="2.0"/><circle cx="162.0" cy="167.9" r="2.0"/><circle cx="164.0" cy="164.3" r="2.0"/><circle cx="98.0" cy="166.3" r="2.0"/><circle cx="96.2" cy="175.8" r="2.0"/><circle cx="117.0" cy="179.7" r="2.0"/><circle cx="120.2" cy="165.6" r="2.0"/><circle cx="137.9" cy="169.0" r="2.0"/><circle cx="110.9" cy="168.0" r="2.0"/><circle cx="147.9" cy="168.1" r="2.0"/><circle cx="161.6" cy="164.6" r="2.0"/><circle cx="112.2" cy="182.3" r="2.0"/><circle cx="134.9" cy="166.8" r="2.0"/><circle cx="106.1" cy="171.4" r="2.0"/><circle cx="151.9" cy="166.1" r="2.0"/><circle cx="75.2" cy="164.0" r="2.0"/><circle cx="76.3" cy="165.2" r="2.0"/><circle cx="149.7" cy="171.3" r="2.0"/><circle cx="130.5" cy="174.7" r="2.0"/><circle cx="105.7" cy="178.5" r="2.0"/><circle cx="107.4" cy="166.7" r="2.0"/><circle cx="131.9" cy="177.8" r="2.0"/><circle cx="82.9" cy="168.8" r="2.0"/><circle cx="139.4" cy="173.6" r="2.0"/><circle cx="135.7" cy="167.3" r="2.0"/><circle cx="85.9" cy="166.6" r="2.0"/><circle cx="78.6" cy="164.3" r="2.0"/><circle cx="91.8" cy="173.0" r="2.0"/><circle cx="163.0" cy="166.2" r="2.0"/><circle cx="95.5" cy="165.3" r="2.0"/><circle cx="131.0" cy="165.8" r="2.0"/><circle cx="111.1" cy="173.8" r="2.0"/><circle cx="162.9" cy="165.7" r="2.0"/><circle cx="165.9" cy="164.9" r="2.0"/><circle cx="151.3" cy="173.9" r="2.0"/><circle cx="123.4" cy="184.7" r="2.0"/><circle cx="91.0" cy="164.4" r="2.0"/><circle cx="116.7" cy="167.7" r="2.0"/><circle cx="97.9" cy="174.0" r="2.0"/><circle cx="84.1" cy="167.2" r="2.0"/><circle cx="154.2" cy="168.7" r="2.0"/><circle cx="109.5" cy="165.1" r="2.0"/><circle cx="157.2" cy="166.5" r="2.0"/><circle cx="81.8" cy="166.0" r="2.0"/><circle cx="115.7" cy="164.6" r="2.0"/><circle cx="108.1" cy="170.3" r="2.0"/><circle cx="133.0" cy="176.0" r="2.0"/><circle cx="122.9" cy="170.5" r="2.0"/><circle cx="158.4" cy="167.4" r="2.0"/><circle cx="108.3" cy="164.1" r="2.0"/><circle cx="80.1" cy="164.5" r="2.0"/><circle cx="137.8" cy="171.8" r="2.0"/><circle cx="116.1" cy="168.9" r="2.0"/><circle cx="156.9" cy="166.0" r="2.0"/><circle cx="143.9" cy="179.1" r="2.0"/><circle cx="104.8" cy="179.7" r="2.0"/><circle cx="162.6" cy="164.1" r="2.0"/><circle cx="88.1" cy="168.0" r="2.0"/><circle cx="127.9" cy="183.4" r="2.0"/><circle cx="110.9" cy="168.8" r="2.0"/><circle cx="133.9" cy="177.7" r="2.0"/><circle cx="145.1" cy="174.7" r="2.0"/><circle cx="125.0" cy="175.8" r="2.0"/><circle cx="164.9" cy="164.5" r="2.0"/><circle cx="149.0" cy="168.0" r="2.0"/><circle cx="109.9" cy="164.4" r="2.0"/><circle cx="140.2" cy="169.1" r="2.0"/><circle cx="100.4" cy="177.9" r="2.0"/><circle cx="127.8" cy="167.3" r="2.0"/><circle cx="147.9" cy="172.9" r="2.0"/><circle cx="87.7" cy="168.7" r="2.0"/><circle cx="155.6" cy="171.6" r="2.0"/><circle cx="142.8" cy="177.3" r="2.0"/><circle cx="103.5" cy="180.9" r="2.0"/><circle cx="102.2" cy="174.6" r="2.0"/><circle cx="163.9" cy="163.8" r="2.0"/><circle cx="92.0" cy="172.6" r="2.0"/><circle cx="161.8" cy="167.6" r="2.0"/><circle cx="104.4" cy="174.0" r="2.0"/><circle cx="84.8" cy="169.9" r="2.0"/><circle cx="111.1" cy="176.1" r="2.0"/><circle cx="163.6" cy="166.2" r="2.0"/><circle cx="93.6" cy="164.9" r="2.0"/><circle cx="116.3" cy="167.1" r="2.0"/><circle cx="133.5" cy="168.0" r="2.0"/><circle cx="103.8" cy="179.1" r="2.0"/><circle cx="144.6" cy="172.0" r="2.0"/><circle cx="126.3" cy="170.5" r="2.0"/><circle cx="144.1" cy="175.2" r="2.0"/><circle cx="108.2" cy="165.3" r="2.0"/><circle cx="123.6" cy="178.7" r="2.0"/><circle cx="132.9" cy="178.3" r="2.0"/><circle cx="145.9" cy="178.1" r="2.0"/><circle cx="151.0" cy="169.0" r="2.0"/><circle cx="107.4" cy="164.8" r="2.0"/><circle cx="99.3" cy="176.2" r="2.0"/><circle cx="81.2" cy="166.3" r="2.0"/><circle cx="144.2" cy="168.8" r="2.0"/><circle cx="112.8" cy="167.6" r="2.0"/><circle cx="85.1" cy="169.6" r="2.0"/><circle cx="134.2" cy="164.3" r="2.0"/><circle cx="133.2" cy="169.7" r="2.0"/><circle cx="146.2" cy="172.7" r="2.0"/><circle cx="161.4" cy="165.0" r="2.0"/><circle cx="106.3" cy="175.2" r="2.0"/><circle cx="149.0" cy="172.4" r="2.0"/><circle cx="91.9" cy="165.3" r="2.0"/><circle cx="123.8" cy="173.8" r="2.0"/><circle cx="136.5" cy="165.5" r="2.0"/><circle cx="87.1" cy="170.2" r="2.0"/><circle cx="80.9" cy="166.9" r="2.0"/><circle cx="121.1" cy="166.8" r="2.0"/><circle cx="136.3" cy="171.6" r="2.0"/><circle cx="112.0" cy="172.3" r="2.0"/><circle cx="100.0" cy="166.3" r="2.0"/><circle cx="147.4" cy="166.0" r="2.0"/><circle cx="88.7" cy="167.3" r="2.0"/><circle cx="144.3" cy="171.6" r="2.0"/><circle cx="157.6" cy="164.5" r="2.0"/><circle cx="143.3" cy="166.6" r="2.0"/><circle cx="134.6" cy="166.0" r="2.0"/><circle cx="86.9" cy="166.6" r="2.0"/><circle cx="139.6" cy="170.6" r="2.0"/><circle cx="100.1" cy="179.4" r="2.0"/><circle cx="130.4" cy="167.2" r="2.0"/><circle cx="100.0" cy="176.9" r="2.0"/><circle cx="95.4" cy="177.0" r="2.0"/><circle cx="137.1" cy="164.1" r="2.0"/><circle cx="148.7" cy="172.4" r="2.0"/><circle cx="139.2" cy="180.3" r="2.0"/><circle cx="152.1" cy="171.6" r="2.0"/><circle cx="75.1" cy="163.9" r="2.0"/><circle cx="87.6" cy="171.1" r="2.0"/><circle cx="80.2" cy="166.4" r="2.0"/><circle cx="125.9" cy="167.7" r="2.0"/><circle cx="78.5" cy="164.3" r="2.0"/><circle cx="85.0" cy="170.3" r="2.0"/><circle cx="132.8" cy="176.7" r="2.0"/><circle cx="105.3" cy="171.8" r="2.0"/><circle cx="94.9" cy="166.7" r="2.0"/><circle cx="94.1" cy="165.9" r="2.0"/><circle cx="149.3" cy="169.8" r="2.0"/><circle cx="77.6" cy="164.3" r="2.0"/><circle cx="77.4" cy="165.0" r="2.0"/><circle cx="113.9" cy="183.0" r="2.0"/><circle cx="132.8" cy="169.1" r="2.0"/><circle cx="128.7" cy="176.0" r="2.0"/><circle cx="122.0" cy="172.4" r="2.0"/><circle cx="95.7" cy="165.6" r="2.0"/><circle cx="166.5" cy="163.9" r="2.0"/><circle cx="163.4" cy="166.1" r="2.0"/><circle cx="165.7" cy="165.2" r="2.0"/><circle cx="118.8" cy="181.9" r="2.0"/><circle cx="116.6" cy="170.3" r="2.0"/><circle cx="140.1" cy="173.3" r="2.0"/><circle cx="106.3" cy="179.1" r="2.0"/><circle cx="111.9" cy="178.3" r="2.0"/><circle cx="92.7" cy="167.2" r="2.0"/><circle cx="122.4" cy="175.5" r="2.0"/><circle cx="93.0" cy="167.7" r="2.0"/><circle cx="92.9" cy="173.6" r="2.0"/><circle cx="126.4" cy="169.9" r="2.0"/><circle cx="164.5" cy="164.4" r="2.0"/><circle cx="162.2" cy="164.0" r="2.0"/><circle cx="141.4" cy="168.5" r="2.0"/><circle cx="80.6" cy="167.8" r="2.0"/><circle cx="76.0" cy="163.9" r="2.0"/><circle cx="141.3" cy="170.0" r="2.0"/><circle cx="99.1" cy="174.3" r="2.0"/><circle cx="89.9" cy="168.0" r="2.0"/><circle cx="166.2" cy="164.5" r="2.0"/><circle cx="78.9" cy="166.8" r="2.0"/><circle cx="107.5" cy="165.6" r="2.0"/><circle cx="148.9" cy="171.0" r="2.0"/><circle cx="84.2" cy="170.8" r="2.0"/><circle cx="89.0" cy="166.2" r="2.0"/><circle cx="118.2" cy="163.9" r="2.0"/><circle cx="158.8" cy="165.2" r="2.0"/><circle cx="118.7" cy="167.4" r="2.0"/><circle cx="86.6" cy="172.2" r="2.0"/><circle cx="126.7" cy="173.9" r="2.0"/><circle cx="94.1" cy="174.2" r="2.0"/><circle cx="76.8" cy="163.9" r="2.0"/><circle cx="140.2" cy="164.6" r="2.0"/><circle cx="165.1" cy="164.9" r="2.0"/><circle cx="142.3" cy="174.0" r="2.0"/><circle cx="149.6" cy="165.8" r="2.0"/><circle cx="87.1" cy="173.5" r="2.0"/><circle cx="94.5" cy="169.6" r="2.0"/><circle cx="109.7" cy="183.4" r="2.0"/><circle cx="151.3" cy="166.3" r="2.0"/><circle cx="117.5" cy="183.8" r="2.0"/><circle cx="156.7" cy="167.7" r="2.0"/><circle cx="81.3" cy="167.6" r="2.0"/><circle cx="132.3" cy="166.0" r="2.0"/><circle cx="119.4" cy="171.3" r="2.0"/><circle cx="93.8" cy="174.2" r="2.0"/><circle cx="158.3" cy="168.4" r="2.0"/><circle cx="84.4" cy="167.0" r="2.0"/><circle cx="86.4" cy="171.3" r="2.0"/><circle cx="116.9" cy="172.4" r="2.0"/><circle cx="133.4" cy="169.4" r="2.0"/><circle cx="115.3" cy="183.1" r="2.0"/><circle cx="141.6" cy="179.8" r="2.0"/><circle cx="118.2" cy="176.3" r="2.0"/><circle cx="136.8" cy="169.0" r="2.0"/><circle cx="96.9" cy="169.1" r="2.0"/><circle cx="138.6" cy="173.2" r="2.0"/><circle cx="87.9" cy="164.6" r="2.0"/><circle cx="130.0" cy="182.7" r="2.0"/><circle cx="96.8" cy="163.9" r="2.0"/><circle cx="95.9" cy="172.8" r="2.0"/><circle cx="147.4" cy="166.2" r="2.0"/><circle cx="133.2" cy="168.8" r="2.0"/><circle cx="78.3" cy="166.7" r="2.0"/><circle cx="164.7" cy="164.2" r="2.0"/><circle cx="78.3" cy="166.9" r="2.0"/><circle cx="97.0" cy="164.8" r="2.0"/><circle cx="95.0" cy="168.5" r="2.0"/><circle cx="160.5" cy="165.8" r="2.0"/><circle cx="159.5" cy="168.6" r="2.0"/><circle cx="88.9" cy="174.6" r="2.0"/><circle cx="144.6" cy="177.8" r="2.0"/><circle cx="164.5" cy="164.5" r="2.0"/><circle cx="92.0" cy="166.2" r="2.0"/><circle cx="89.8" cy="169.4" r="2.0"/><circle cx="84.6" cy="165.4" r="2.0"/><circle cx="156.8" cy="164.4" r="2.0"/><circle cx="75.0" cy="163.8" r="2.0"/><circle cx="126.0" cy="167.4" r="2.0"/><circle cx="121.1" cy="171.7" r="2.0"/><circle cx="129.6" cy="167.8" r="2.0"/><circle cx="82.0" cy="169.6" r="2.0"/><circle cx="125.1" cy="178.5" r="2.0"/><circle cx="111.4" cy="183.7" r="2.0"/><circle cx="143.4" cy="179.5" r="2.0"/><circle cx="151.2" cy="166.0" r="2.0"/><circle cx="117.0" cy="182.1" r="2.0"/><circle cx="134.7" cy="179.0" r="2.0"/><circle cx="114.3" cy="182.1" r="2.0"/><circle cx="164.8" cy="164.8" r="2.0"/><circle cx="107.3" cy="181.2" r="2.0"/><circle cx="142.1" cy="166.2" r="2.0"/><circle cx="153.0" cy="173.7" r="2.0"/><circle cx="108.7" cy="177.4" r="2.0"/><circle cx="145.0" cy="176.9" r="2.0"/><circle cx="130.7" cy="164.1" r="2.0"/><circle cx="145.6" cy="178.8" r="2.0"/><circle cx="81.7" cy="169.1" r="2.0"/><circle cx="138.6" cy="170.9" r="2.0"/><circle cx="122.7" cy="175.2" r="2.0"/><circle cx="112.3" cy="171.6" r="2.0"/><circle cx="134.6" cy="165.3" r="2.0"/><circle cx="142.3" cy="167.1" r="2.0"/><circle cx="158.9" cy="164.8" r="2.0"/><circle cx="140.8" cy="180.4" r="2.0"/><circle cx="137.5" cy="166.4" r="2.0"/><circle cx="114.5" cy="166.2" r="2.0"/><circle cx="91.4" cy="164.4" r="2.0"/><circle cx="115.5" cy="169.8" r="2.0"/><circle cx="98.1" cy="174.9" r="2.0"/><circle cx="106.9" cy="176.6" r="2.0"/><circle cx="83.5" cy="167.8" r="2.0"/><circle cx="165.2" cy="164.4" r="2.0"/><circle cx="160.7" cy="165.1" r="2.0"/><circle cx="151.9" cy="163.7" r="2.0"/><circle cx="144.2" cy="175.2" r="2.0"/><circle cx="97.8" cy="173.0" r="2.0"/><circle cx="76.7" cy="165.2" r="2.0"/><circle cx="156.5" cy="164.4" r="2.0"/><circle cx="105.1" cy="168.0" r="2.0"/><circle cx="146.2" cy="165.3" r="2.0"/><circle cx="148.0" cy="170.2" r="2.0"/><circle cx="84.5" cy="165.1" r="2.0"/><circle cx="103.7" cy="170.5" r="2.0"/><circle cx="108.6" cy="172.8" r="2.0"/><circle cx="163.8" cy="166.4" r="2.0"/><circle cx="123.7" cy="171.0" r="2.0"/><circle cx="124.4" cy="165.0" r="2.0"/><circle cx="112.3" cy="165.4" r="2.0"/><circle cx="138.4" cy="164.3" r="2.0"/><circle cx="83.1" cy="169.3" r="2.0"/><circle cx="101.3" cy="165.3" r="2.0"/><circle cx="76.1" cy="164.7" r="2.0"/><circle cx="140.8" cy="163.9" r="2.0"/><circle cx="91.0" cy="170.6" r="2.0"/><circle cx="138.1" cy="169.3" r="2.0"/><circle cx="143.5" cy="167.7" r="2.0"/><circle cx="97.7" cy="175.4" r="2.0"/><circle cx="77.4" cy="164.5" r="2.0"/><circle cx="94.1" cy="174.1" r="2.0"/><circle cx="163.7" cy="164.9" r="2.0"/><circle cx="129.3" cy="170.7" r="2.0"/><circle cx="129.9" cy="169.9" r="2.0"/><circle cx="102.8" cy="180.4" r="2.0"/><circle cx="81.0" cy="169.1" r="2.0"/><circle cx="108.1" cy="180.4" r="2.0"/><circle cx="85.2" cy="168.0" r="2.0"/><circle cx="164.1" cy="164.6" r="2.0"/><circle cx="100.0" cy="167.6" r="2.0"/><circle cx="91.2" cy="174.9" r="2.0"/><circle cx="102.7" cy="174.2" r="2.0"/><circle cx="138.3" cy="173.8" r="2.0"/><circle cx="141.9" cy="178.9" r="2.0"/><circle cx="160.7" cy="167.5" r="2.0"/><circle cx="151.5" cy="175.4" r="2.0"/><circle cx="151.2" cy="173.2" r="2.0"/><circle cx="153.6" cy="165.8" r="2.0"/><circle cx="136.6" cy="177.2" r="2.0"/><circle cx="75.7" cy="164.6" r="2.0"/><circle cx="158.2" cy="170.1" r="2.0"/><circle cx="135.5" cy="171.6" r="2.0"/><circle cx="135.7" cy="179.3" r="2.0"/><circle cx="88.0" cy="173.2" r="2.0"/><circle cx="165.3" cy="164.9" r="2.0"/><circle cx="134.9" cy="172.0" r="2.0"/><circle cx="95.4" cy="177.4" r="2.0"/><circle cx="76.2" cy="163.9" r="2.0"/><circle cx="86.8" cy="164.0" r="2.0"/><circle cx="108.3" cy="169.1" r="2.0"/><circle cx="87.6" cy="165.8" r="2.0"/><circle cx="98.0" cy="173.8" r="2.0"/><circle cx="123.0" cy="182.4" r="2.0"/><circle cx="97.7" cy="166.9" r="2.0"/><circle cx="101.1" cy="174.4" r="2.0"/><circle cx="145.3" cy="175.6" r="2.0"/><circle cx="92.7" cy="174.1" r="2.0"/><circle cx="110.2" cy="176.4" r="2.0"/><circle cx="133.9" cy="174.0" r="2.0"/><circle cx="154.9" cy="173.1" r="2.0"/><circle cx="135.9" cy="166.8" r="2.0"/><circle cx="96.4" cy="178.5" r="2.0"/><circle cx="115.2" cy="182.1" r="2.0"/><circle cx="117.2" cy="169.7" r="2.0"/><circle cx="83.4" cy="170.2" r="2.0"/><circle cx="119.0" cy="181.1" r="2.0"/><circle cx="96.1" cy="172.1" r="2.0"/><circle cx="85.7" cy="172.0" r="2.0"/><circle cx="108.1" cy="174.0" r="2.0"/><circle cx="161.1" cy="166.1" r="2.0"/><circle cx="81.4" cy="168.2" r="2.0"/><circle cx="143.4" cy="170.8" r="2.0"/><circle cx="155.0" cy="164.1" r="2.0"/><circle cx="153.8" cy="173.1" r="2.0"/><circle cx="161.8" cy="166.0" r="2.0"/><circle cx="96.9" cy="176.5" r="2.0"/><circle cx="154.5" cy="171.7" r="2.0"/><circle cx="82.5" cy="168.6" r="2.0"/><circle cx="159.9" cy="167.1" r="2.0"/><circle cx="142.2" cy="179.2" r="2.0"/><circle cx="116.5" cy="178.0" r="2.0"/><circle cx="93.7" cy="168.4" r="2.0"/><circle cx="108.1" cy="180.8" r="2.0"/><circle cx="165.5" cy="164.6" r="2.0"/><circle cx="91.4" cy="176.1" r="2.0"/><circle cx="135.0" cy="173.0" r="2.0"/><circle cx="77.1" cy="164.9" r="2.0"/><circle cx="143.0" cy="171.3" r="2.0"/><circle cx="96.4" cy="171.3" r="2.0"/><circle cx="130.5" cy="170.7" r="2.0"/><circle cx="88.2" cy="165.8" r="2.0"/><circle cx="161.9" cy="164.9" r="2.0"/><circle cx="153.8" cy="170.4" r="2.0"/><circle cx="158.0" cy="170.1" r="2.0"/><circle cx="95.7" cy="169.7" r="2.0"/><circle cx="157.9" cy="170.9" r="2.0"/><circle cx="94.8" cy="177.6" r="2.0"/><circle cx="115.3" cy="181.6" r="2.0"/><circle cx="92.4" cy="167.0" r="2.0"/><circle cx="128.5" cy="164.9" r="2.0"/><circle cx="111.8" cy="170.2" r="2.0"/><circle cx="76.0" cy="163.7" r="2.0"/><circle cx="96.3" cy="171.6" r="2.0"/><circle cx="121.9" cy="164.8" r="2.0"/><circle cx="120.1" cy="163.9" r="2.0"/><circle cx="132.0" cy="179.3" r="2.0"/><circle cx="151.6" cy="173.2" r="2.0"/><circle cx="166.9" cy="164.0" r="2.0"/><circle cx="95.7" cy="164.3" r="2.0"/><circle cx="104.5" cy="174.6" r="2.0"/><circle cx="106.4" cy="170.0" r="2.0"/><circle cx="76.9" cy="165.0" r="2.0"/><circle cx="89.7" cy="165.7" r="2.0"/><circle cx="74.8" cy="163.8" r="2.0"/><circle cx="98.6" cy="172.5" r="2.0"/><circle cx="126.6" cy="169.7" r="2.0"/><circle cx="87.5" cy="171.4" r="2.0"/><circle cx="85.9" cy="164.0" r="2.0"/><circle cx="88.5" cy="173.0" r="2.0"/><circle cx="122.9" cy="172.5" r="2.0"/><circle cx="156.5" cy="172.0" r="2.0"/><circle cx="96.4" cy="176.3" r="2.0"/><circle cx="128.8" cy="174.9" r="2.0"/><circle cx="112.5" cy="166.0" r="2.0"/><circle cx="135.8" cy="166.3" r="2.0"/><circle cx="163.0" cy="166.6" r="2.0"/><circle cx="161.6" cy="166.7" r="2.0"/><circle cx="79.6" cy="164.1" r="2.0"/><circle cx="84.4" cy="171.6" r="2.0"/><circle cx="101.5" cy="176.1" r="2.0"/><circle cx="163.9" cy="164.1" r="2.0"/><circle cx="113.5" cy="173.4" r="2.0"/><circle cx="153.0" cy="165.8" r="2.0"/><circle cx="135.0" cy="173.0" r="2.0"/><circle cx="85.5" cy="170.4" r="2.0"/><circle cx="135.4" cy="171.6" r="2.0"/><circle cx="148.6" cy="165.1" r="2.0"/><circle cx="163.5" cy="166.5" r="2.0"/><circle cx="81.8" cy="164.3" r="2.0"/><circle cx="127.3" cy="180.6" r="2.0"/><circle cx="138.6" cy="177.2" r="2.0"/><circle cx="96.6" cy="173.4" r="2.0"/><circle cx="123.1" cy="170.5" r="2.0"/><circle cx="81.6" cy="165.2" r="2.0"/><circle cx="132.3" cy="174.2" r="2.0"/><circle cx="136.7" cy="167.4" r="2.0"/><circle cx="75.7" cy="164.3" r="2.0"/><circle cx="137.3" cy="169.1" r="2.0"/><circle cx="134.5" cy="179.5" r="2.0"/><circle cx="163.1" cy="164.5" r="2.0"/><circle cx="96.3" cy="172.3" r="2.0"/><circle cx="163.1" cy="166.8" r="2.0"/><circle cx="112.5" cy="164.5" r="2.0"/><circle cx="157.7" cy="169.8" r="2.0"/><circle cx="142.5" cy="174.3" r="2.0"/><circle cx="135.9" cy="168.1" r="2.0"/><circle cx="86.6" cy="171.1" r="2.0"/><circle cx="94.6" cy="174.2" r="2.0"/><circle cx="78.1" cy="166.4" r="2.0"/><circle cx="112.2" cy="175.5" r="2.0"/><circle cx="82.0" cy="166.3" r="2.0"/><circle cx="161.6" cy="165.8" r="2.0"/><circle cx="107.6" cy="169.4" r="2.0"/><circle cx="115.1" cy="180.8" r="2.0"/><circle cx="119.2" cy="184.4" r="2.0"/><circle cx="137.1" cy="179.3" r="2.0"/><circle cx="108.9" cy="164.4" r="2.0"/><circle cx="145.5" cy="166.2" r="2.0"/><circle cx="134.0" cy="170.8" r="2.0"/><circle cx="139.7" cy="164.3" r="2.0"/><circle cx="92.9" cy="166.8" r="2.0"/><circle cx="102.5" cy="176.9" r="2.0"/><circle cx="150.5" cy="168.7" r="2.0"/><circle cx="153.1" cy="165.1" r="2.0"/><circle cx="129.1" cy="180.1" r="2.0"/><circle cx="76.2" cy="164.4" r="2.0"/><circle cx="141.7" cy="176.0" r="2.0"/><circle cx="81.3" cy="169.4" r="2.0"/><circle cx="90.8" cy="167.4" r="2.0"/><circle cx="75.2" cy="164.2" r="2.0"/><circle cx="99.2" cy="168.4" r="2.0"/><circle cx="165.8" cy="165.2" r="2.0"/><circle cx="85.3" cy="164.3" r="2.0"/><circle cx="164.2" cy="166.2" r="2.0"/><circle cx="105.7" cy="172.7" r="2.0"/><circle cx="104.3" cy="174.4" r="2.0"/><circle cx="118.9" cy="179.3" r="2.0"/><circle cx="79.9" cy="167.9" r="2.0"/><circle cx="89.8" cy="174.2" r="2.0"/><circle cx="132.3" cy="169.7" r="2.0"/><circle cx="99.0" cy="167.1" r="2.0"/><circle cx="141.9" cy="174.8" r="2.0"/><circle cx="120.1" cy="180.8" r="2.0"/><circle cx="160.4" cy="166.3" r="2.0"/><circle cx="79.5" cy="167.4" r="2.0"/><circle cx="138.6" cy="174.8" r="2.0"/><circle cx="140.9" cy="177.0" r="2.0"/><circle cx="148.2" cy="166.4" r="2.0"/><circle cx="83.5" cy="166.7" r="2.0"/><circle cx="92.4" cy="167.5" r="2.0"/><circle cx="148.9" cy="166.5" r="2.0"/><circle cx="96.1" cy="177.4" r="2.0"/><circle cx="135.9" cy="171.9" r="2.0"/><circle cx="87.5" cy="171.9" r="2.0"/><circle cx="128.5" cy="182.0" r="2.0"/><circle cx="133.2" cy="178.6" r="2.0"/><circle cx="98.6" cy="173.0" r="2.0"/><circle cx="123.9" cy="169.5" r="2.0"/><circle cx="77.7" cy="164.5" r="2.0"/><circle cx="95.2" cy="174.0" r="2.0"/><circle cx="133.8" cy="169.7" r="2.0"/><circle cx="131.4" cy="165.6" r="2.0"/><circle cx="93.7" cy="173.2" r="2.0"/><circle cx="135.8" cy="177.7" r="2.0"/><circle cx="89.3" cy="172.4" r="2.0"/><circle cx="145.9" cy="166.3" r="2.0"/><circle cx="140.8" cy="164.4" r="2.0"/><circle cx="148.0" cy="173.4" r="2.0"/><circle cx="103.9" cy="168.8" r="2.0"/><circle cx="79.9" cy="165.5" r="2.0"/><circle cx="83.0" cy="170.4" r="2.0"/><circle cx="122.1" cy="181.6" r="2.0"/><circle cx="160.6" cy="164.4" r="2.0"/><circle cx="117.3" cy="180.5" r="2.0"/><circle cx="85.8" cy="168.1" r="2.0"/><circle cx="122.8" cy="177.1" r="2.0"/><circle cx="140.8" cy="171.8" r="2.0"/><circle cx="146.2" cy="177.0" r="2.0"/><circle cx="81.3" cy="167.2" r="2.0"/><circle cx="119.4" cy="179.4" r="2.0"/><circle cx="136.4" cy="178.3" r="2.0"/><circle cx="104.1" cy="173.3" r="2.0"/><circle cx="140.4" cy="167.7" r="2.0"/><circle cx="109.0" cy="174.6" r="2.0"/><circle cx="160.3" cy="164.1" r="2.0"/><circle cx="131.8" cy="181.6" r="2.0"/><circle cx="116.8" cy="171.3" r="2.0"/><circle cx="100.5" cy="180.1" r="2.0"/><circle cx="165.2" cy="163.9" r="2.0"/><circle cx="86.7" cy="168.8" r="2.0"/><circle cx="131.9" cy="177.7" r="2.0"/><circle cx="81.1" cy="165.1" r="2.0"/><circle cx="145.8" cy="172.2" r="2.0"/><circle cx="82.7" cy="167.8" r="2.0"/><circle cx="83.5" cy="163.9" r="2.0"/><circle cx="79.5" cy="166.8" r="2.0"/><circle cx="145.6" cy="176.9" r="2.0"/><circle cx="84.6" cy="171.3" r="2.0"/><circle cx="89.9" cy="169.2" r="2.0"/><circle cx="151.6" cy="173.7" r="2.0"/><circle cx="90.8" cy="166.6" r="2.0"/><circle cx="114.0" cy="177.3" r="2.0"/><circle cx="86.2" cy="170.7" r="2.0"/><circle cx="164.3" cy="166.2" r="2.0"/><circle cx="98.7" cy="167.9" r="2.0"/><circle cx="157.0" cy="164.5" r="2.0"/><circle cx="118.4" cy="164.6" r="2.0"/><circle cx="130.5" cy="178.1" r="2.0"/><circle cx="117.7" cy="169.6" r="2.0"/><circle cx="142.4" cy="178.2" r="2.0"/><circle cx="92.6" cy="164.2" r="2.0"/><circle cx="84.7" cy="165.2" r="2.0"/><circle cx="106.0" cy="177.9" r="2.0"/><circle cx="98.3" cy="172.2" r="2.0"/><circle cx="166.1" cy="164.8" r="2.0"/><circle cx="153.5" cy="171.0" r="2.0"/><circle cx="90.7" cy="166.8" r="2.0"/><circle cx="106.3" cy="179.1" r="2.0"/><circle cx="113.4" cy="167.3" r="2.0"/><circle cx="154.3" cy="168.1" r="2.0"/><circle cx="75.8" cy="164.0" r="2.0"/><circle cx="130.7" cy="165.7" r="2.0"/><circle cx="162.5" cy="166.6" r="2.0"/><circle cx="153.0" cy="165.7" r="2.0"/><circle cx="99.3" cy="174.2" r="2.0"/><circle cx="109.3" cy="176.5" r="2.0"/><circle cx="109.7" cy="181.4" r="2.0"/><circle cx="95.7" cy="165.0" r="2.0"/><circle cx="112.6" cy="171.1" r="2.0"/><circle cx="156.6" cy="165.8" r="2.0"/><circle cx="97.3" cy="164.9" r="2.0"/><circle cx="148.9" cy="163.8" r="2.0"/><circle cx="141.9" cy="167.8" r="2.0"/><circle cx="149.7" cy="173.5" r="2.0"/><circle cx="135.2" cy="175.5" r="2.0"/><circle cx="152.2" cy="173.8" r="2.0"/><circle cx="124.5" cy="177.6" r="2.0"/><circle cx="150.4" cy="172.0" r="2.0"/><circle cx="152.6" cy="165.4" r="2.0"/><circle cx="155.8" cy="171.7" r="2.0"/><circle cx="161.2" cy="165.0" r="2.0"/><circle cx="137.2" cy="170.1" r="2.0"/><circle cx="79.2" cy="164.2" r="2.0"/><circle cx="125.3" cy="175.1" r="2.0"/><circle cx="106.1" cy="167.8" r="2.0"/><circle cx="146.9" cy="165.6" r="2.0"/><circle cx="94.5" cy="173.1" r="2.0"/><circle cx="97.8" cy="178.0" r="2.0"/><circle cx="104.9" cy="181.8" r="2.0"/><circle cx="148.2" cy="174.4" r="2.0"/><circle cx="81.3" cy="169.1" r="2.0"/><circle cx="143.1" cy="176.8" r="2.0"/><circle cx="117.4" cy="176.2" r="2.0"/><circle cx="148.7" cy="164.3" r="2.0"/><circle cx="103.4" cy="170.3" r="2.0"/><circle cx="157.2" cy="168.1" r="2.0"/><circle cx="157.7" cy="165.8" r="2.0"/><circle cx="103.5" cy="166.0" r="2.0"/><circle cx="127.6" cy="182.2" r="2.0"/><circle cx="128.9" cy="167.2" r="2.0"/><circle cx="122.6" cy="174.6" r="2.0"/><circle cx="113.2" cy="166.1" r="2.0"/><circle cx="136.1" cy="178.6" r="2.0"/><circle cx="108.2" cy="176.1" r="2.0"/><circle cx="163.1" cy="164.8" r="2.0"/><circle cx="86.3" cy="164.5" r="2.0"/><circle cx="78.0" cy="165.0" r="2.0"/><circle cx="114.6" cy="169.5" r="2.0"/><circle cx="114.4" cy="182.5" r="2.0"/><circle cx="123.1" cy="167.5" r="2.0"/><circle cx="147.5" cy="172.9" r="2.0"/><circle cx="95.3" cy="167.4" r="2.0"/><circle cx="148.7" cy="174.3" r="2.0"/><circle cx="156.2" cy="163.7" r="2.0"/><circle cx="114.7" cy="176.5" r="2.0"/><circle cx="140.2" cy="164.9" r="2.0"/><circle cx="93.4" cy="173.2" r="2.0"/><circle cx="105.1" cy="168.7" r="2.0"/><circle cx="92.0" cy="169.5" r="2.0"/><circle cx="120.9" cy="170.7" r="2.0"/><circle cx="88.0" cy="164.1" r="2.0"/><circle cx="166.9" cy="163.9" r="2.0"/><circle cx="148.1" cy="175.1" r="2.0"/><circle cx="158.7" cy="167.0" r="2.0"/><circle cx="144.8" cy="165.7" r="2.0"/><circle cx="108.1" cy="165.2" r="2.0"/><circle cx="93.9" cy="177.3" r="2.0"/><circle cx="121.1" cy="165.8" r="2.0"/><circle cx="157.8" cy="164.0" r="2.0"/><circle cx="121.9" cy="165.1" r="2.0"/><circle cx="126.4" cy="181.5" r="2.0"/><circle cx="132.9" cy="167.6" r="2.0"/><circle cx="113.9" cy="171.9" r="2.0"/><circle cx="98.7" cy="175.5" r="2.0"/><circle cx="113.5" cy="173.7" r="2.0"/><circle cx="117.9" cy="182.8" r="2.0"/><circle cx="75.3" cy="164.2" r="2.0"/><circle cx="140.9" cy="168.0" r="2.0"/><circle cx="96.6" cy="175.1" r="2.0"/><circle cx="122.4" cy="181.1" r="2.0"/><circle cx="130.4" cy="165.6" r="2.0"/><circle cx="93.4" cy="169.4" r="2.0"/><circle cx="141.2" cy="168.0" r="2.0"/><circle cx="140.4" cy="168.7" r="2.0"/><circle cx="99.9" cy="166.4" r="2.0"/><circle cx="160.0" cy="169.6" r="2.0"/><circle cx="161.8" cy="166.4" r="2.0"/><circle cx="82.8" cy="170.1" r="2.0"/><circle cx="148.2" cy="168.2" r="2.0"/><circle cx="87.9" cy="169.3" r="2.0"/><circle cx="133.7" cy="163.7" r="2.0"/><circle cx="105.8" cy="168.1" r="2.0"/><circle cx="97.4" cy="176.2" r="2.0"/><circle cx="89.7" cy="170.5" r="2.0"/><circle cx="131.8" cy="177.6" r="2.0"/><circle cx="89.7" cy="172.7" r="2.0"/><circle cx="82.6" cy="169.1" r="2.0"/><circle cx="103.9" cy="172.7" r="2.0"/><circle cx="91.7" cy="170.3" r="2.0"/><circle cx="115.3" cy="164.2" r="2.0"/><circle cx="119.6" cy="164.8" r="2.0"/><circle cx="118.2" cy="180.6" r="2.0"/><circle cx="129.3" cy="181.2" r="2.0"/><circle cx="90.4" cy="174.8" r="2.0"/><circle cx="139.4" cy="164.3" r="2.0"/><circle cx="112.0" cy="176.8" r="2.0"/><circle cx="114.0" cy="177.1" r="2.0"/><circle cx="138.4" cy="174.7" r="2.0"/><circle cx="88.8" cy="165.2" r="2.0"/><circle cx="127.6" cy="184.2" r="2.0"/><circle cx="153.1" cy="166.7" r="2.0"/><circle cx="107.5" cy="170.8" r="2.0"/><circle cx="159.6" cy="167.6" r="2.0"/><circle cx="114.7" cy="178.2" r="2.0"/><circle cx="125.9" cy="170.7" r="2.0"/><circle cx="142.5" cy="164.5" r="2.0"/><circle cx="88.2" cy="170.4" r="2.0"/><circle cx="153.3" cy="166.0" r="2.0"/><circle cx="129.2" cy="170.3" r="2.0"/><circle cx="106.1" cy="164.7" r="2.0"/><circle cx="125.4" cy="176.2" r="2.0"/><circle cx="91.6" cy="174.9" r="2.0"/><circle cx="157.5" cy="165.3" r="2.0"/><circle cx="77.3" cy="165.4" r="2.0"/><circle cx="119.0" cy="174.3" r="2.0"/><circle cx="108.3" cy="165.7" r="2.0"/><circle cx="107.0" cy="172.7" r="2.0"/><circle cx="160.4" cy="165.8" r="2.0"/><circle cx="118.7" cy="177.7" r="2.0"/><circle cx="110.5" cy="171.5" r="2.0"/><circle cx="147.2" cy="174.3" r="2.0"/><circle cx="108.9" cy="175.7" r="2.0"/><circle cx="108.2" cy="165.4" r="2.0"/><circle cx="124.5" cy="178.9" r="2.0"/><circle cx="105.4" cy="167.0" r="2.0"/><circle cx="89.6" cy="167.2" r="2.0"/><circle cx="76.8" cy="165.4" r="2.0"/><circle cx="80.3" cy="164.6" r="2.0"/><circle cx="88.3" cy="172.0" r="2.0"/><circle cx="80.1" cy="167.2" r="2.0"/><circle cx="142.4" cy="168.3" r="2.0"/><circle cx="158.7" cy="164.1" r="2.0"/><circle cx="125.6" cy="165.3" r="2.0"/><circle cx="83.1" cy="164.2" r="2.0"/><circle cx="114.8" cy="180.4" r="2.0"/><circle cx="143.7" cy="166.0" r="2.0"/><circle cx="110.3" cy="181.8" r="2.0"/><circle cx="155.2" cy="166.1" r="2.0"/><circle cx="129.8" cy="164.2" r="2.0"/><circle cx="78.3" cy="166.9" r="2.0"/><circle cx="86.2" cy="172.8" r="2.0"/><circle cx="140.1" cy="170.2" r="2.0"/><circle cx="85.2" cy="170.9" r="2.0"/><circle cx="91.5" cy="168.6" r="2.0"/><circle cx="136.8" cy="164.2" r="2.0"/><circle cx="108.0" cy="164.1" r="2.0"/><circle cx="114.8" cy="176.3" r="2.0"/><circle cx="98.1" cy="176.0" r="2.0"/><circle cx="164.6" cy="163.7" r="2.0"/><circle cx="139.8" cy="178.2" r="2.0"/><circle cx="91.4" cy="174.3" r="2.0"/><circle cx="107.1" cy="168.7" r="2.0"/><circle cx="80.2" cy="166.0" r="2.0"/><circle cx="137.5" cy="181.5" r="2.0"/><circle cx="115.3" cy="168.0" r="2.0"/><circle cx="127.8" cy="175.0" r="2.0"/><circle cx="156.0" cy="167.3" r="2.0"/><circle cx="105.9" cy="175.1" r="2.0"/><circle cx="161.7" cy="164.4" r="2.0"/><circle cx="159.1" cy="166.7" r="2.0"/><circle cx="87.9" cy="172.3" r="2.0"/><circle cx="110.1" cy="169.9" r="2.0"/><circle cx="75.2" cy="163.8" r="2.0"/><circle cx="147.2" cy="170.7" r="2.0"/><circle cx="75.3" cy="163.8" r="2.0"/><circle cx="113.0" cy="170.5" r="2.0"/><circle cx="127.3" cy="169.3" r="2.0"/><circle cx="112.5" cy="164.5" r="2.0"/><circle cx="162.8" cy="164.0" r="2.0"/><circle cx="131.5" cy="177.4" r="2.0"/><circle cx="109.5" cy="178.2" r="2.0"/><circle cx="158.1" cy="165.3" r="2.0"/><circle cx="147.4" cy="166.2" r="2.0"/><circle cx="166.1" cy="164.1" r="2.0"/><circle cx="104.1" cy="168.1" r="2.0"/><circle cx="99.0" cy="170.1" r="2.0"/><circle cx="89.4" cy="165.3" r="2.0"/><circle cx="119.8" cy="179.0" r="2.0"/><circle cx="159.8" cy="169.6" r="2.0"/><circle cx="160.5" cy="165.1" r="2.0"/><circle cx="88.5" cy="166.3" r="2.0"/><circle cx="127.6" cy="165.6" r="2.0"/><circle cx="128.8" cy="175.4" r="2.0"/><circle cx="160.8" cy="168.9" r="2.0"/><circle cx="146.4" cy="177.0" r="2.0"/><circle cx="100.3" cy="178.7" r="2.0"/><circle cx="155.1" cy="169.2" r="2.0"/><circle cx="141.7" cy="176.3" r="2.0"/><circle cx="142.1" cy="169.6" r="2.0"/><circle cx="83.8" cy="167.5" r="2.0"/><circle cx="141.3" cy="177.1" r="2.0"/><circle cx="135.1" cy="177.5" r="2.0"/><circle cx="108.9" cy="165.3" r="2.0"/><circle cx="161.7" cy="163.7" r="2.0"/><circle cx="114.1" cy="172.5" r="2.0"/><circle cx="149.3" cy="166.9" r="2.0"/><circle cx="116.8" cy="166.5" r="2.0"/><circle cx="111.8" cy="164.7" r="2.0"/><circle cx="118.4" cy="182.2" r="2.0"/><circle cx="143.8" cy="177.4" r="2.0"/><circle cx="137.4" cy="181.2" r="2.0"/><circle cx="165.9" cy="164.4" r="2.0"/><circle cx="143.0" cy="177.9" r="2.0"/><circle cx="133.5" cy="175.9" r="2.0"/><circle cx="97.8" cy="166.6" r="2.0"/><circle cx="77.9" cy="165.2" r="2.0"/><circle cx="82.8" cy="164.7" r="2.0"/><circle cx="157.1" cy="171.8" r="2.0"/><circle cx="117.6" cy="174.8" r="2.0"/><circle cx="141.0" cy="168.3" r="2.0"/><circle cx="106.4" cy="165.0" r="2.0"/><circle cx="91.9" cy="174.8" r="2.0"/><circle cx="149.9" cy="175.1" r="2.0"/><circle cx="91.9" cy="170.1" r="2.0"/><circle cx="105.8" cy="179.5" r="2.0"/><circle cx="160.5" cy="166.8" r="2.0"/><circle cx="147.2" cy="174.5" r="2.0"/><circle cx="158.9" cy="169.2" r="2.0"/><circle cx="158.3" cy="166.6" r="2.0"/><circle cx="164.3" cy="164.3" r="2.0"/><circle cx="132.9" cy="172.9" r="2.0"/><circle cx="153.6" cy="169.7" r="2.0"/><circle cx="83.9" cy="164.3" r="2.0"/><circle cx="149.0" cy="168.0" r="2.0"/><circle cx="143.4" cy="176.1" r="2.0"/><circle cx="117.5" cy="167.4" r="2.0"/><circle cx="163.4" cy="164.0" r="2.0"/><circle cx="89.6" cy="167.3" r="2.0"/><circle cx="125.9" cy="176.1" r="2.0"/><circle cx="90.3" cy="174.0" r="2.0"/><circle cx="118.1" cy="174.3" r="2.0"/><circle cx="99.5" cy="174.2" r="2.0"/><circle cx="125.8" cy="168.7" r="2.0"/><circle cx="129.1" cy="180.8" r="2.0"/><circle cx="156.4" cy="169.3" r="2.0"/><circle cx="163.2" cy="163.7" r="2.0"/><circle cx="87.7" cy="168.0" r="2.0"/><circle cx="163.9" cy="165.6" r="2.0"/><circle cx="125.2" cy="178.1" r="2.0"/><circle cx="77.4" cy="165.8" r="2.0"/><circle cx="86.2" cy="170.4" r="2.0"/><circle cx="132.8" cy="172.3" r="2.0"/><circle cx="162.2" cy="165.1" r="2.0"/><circle cx="108.2" cy="164.7" r="2.0"/><circle cx="133.2" cy="172.7" r="2.0"/><circle cx="154.3" cy="167.1" r="2.0"/><circle cx="108.0" cy="171.4" r="2.0"/><circle cx="102.5" cy="164.2" r="2.0"/><circle cx="97.3" cy="164.1" r="2.0"/><circle cx="80.7" cy="168.9" r="2.0"/><circle cx="125.8" cy="180.3" r="2.0"/><circle cx="121.6" cy="182.3" r="2.0"/><circle cx="151.9" cy="167.6" r="2.0"/><circle cx="137.8" cy="165.0" r="2.0"/><circle cx="166.2" cy="164.1" r="2.0"/><circle cx="140.5" cy="181.1" r="2.0"/><circle cx="79.3" cy="166.1" r="2.0"/><circle cx="164.1" cy="165.8" r="2.0"/><circle cx="127.2" cy="184.2" r="2.0"/><circle cx="113.1" cy="165.7" r="2.0"/><circle cx="129.1" cy="167.3" r="2.0"/><circle cx="76.0" cy="164.8" r="2.0"/><circle cx="91.3" cy="165.8" r="2.0"/><circle cx="84.2" cy="164.2" r="2.0"/><circle cx="99.4" cy="165.7" r="2.0"/><circle cx="122.3" cy="178.0" r="2.0"/><circle cx="163.8" cy="165.6" r="2.0"/><circle cx="139.1" cy="180.4" r="2.0"/><circle cx="151.3" cy="163.9" r="2.0"/><circle cx="85.0" cy="165.8" r="2.0"/><circle cx="99.7" cy="177.9" r="2.0"/><circle cx="108.4" cy="170.3" r="2.0"/><circle cx="162.7" cy="163.7" r="2.0"/><circle cx="166.3" cy="164.1" r="2.0"/><circle cx="135.0" cy="179.8" r="2.0"/><circle cx="141.7" cy="171.3" r="2.0"/><circle cx="107.9" cy="165.6" r="2.0"/><circle cx="98.3" cy="177.5" r="2.0"/><circle cx="89.4" cy="173.4" r="2.0"/><circle cx="129.0" cy="167.8" r="2.0"/><circle cx="89.5" cy="169.4" r="2.0"/><circle cx="127.7" cy="172.8" r="2.0"/><circle cx="112.8" cy="173.0" r="2.0"/><circle cx="76.2" cy="165.1" r="2.0"/><circle cx="113.7" cy="179.4" r="2.0"/><circle cx="144.5" cy="175.6" r="2.0"/><circle cx="150.7" cy="173.2" r="2.0"/><circle cx="83.3" cy="167.5" r="2.0"/><circle cx="110.5" cy="177.0" r="2.0"/><circle cx="145.3" cy="175.6" r="2.0"/><circle cx="136.5" cy="166.8" r="2.0"/><circle cx="116.5" cy="174.1" r="2.0"/><circle cx="159.9" cy="166.2" r="2.0"/><circle cx="91.5" cy="175.4" r="2.0"/><circle cx="82.4" cy="168.1" r="2.0"/><circle cx="83.0" cy="166.2" r="2.0"/><circle cx="113.8" cy="177.9" r="2.0"/><circle cx="122.0" cy="165.0" r="2.0"/><circle cx="97.3" cy="176.9" r="2.0"/><circle cx="102.9" cy="175.8" r="2.0"/><circle cx="158.6" cy="165.8" r="2.0"/><circle cx="114.3" cy="180.9" r="2.0"/><circle cx="79.0" cy="167.1" r="2.0"/><circle cx="152.9" cy="167.6" r="2.0"/><circle cx="89.2" cy="167.9" r="2.0"/><circle cx="80.2" cy="166.1" r="2.0"/><circle cx="105.7" cy="180.6" r="2.0"/><circle cx="143.2" cy="168.3" r="2.0"/><circle cx="121.9" cy="181.2" r="2.0"/><circle cx="136.5" cy="174.3" r="2.0"/><circle cx="135.7" cy="180.9" r="2.0"/><circle cx="158.0" cy="171.5" r="2.0"/><circle cx="95.3" cy="172.5" r="2.0"/><circle cx="93.1" cy="176.0" r="2.0"/><circle cx="138.1" cy="163.8" r="2.0"/><circle cx="105.7" cy="177.5" r="2.0"/><circle cx="136.6" cy="178.3" r="2.0"/><circle cx="111.7" cy="170.0" r="2.0"/><circle cx="114.5" cy="181.2" r="2.0"/><circle cx="81.3" cy="166.3" r="2.0"/><circle cx="166.1" cy="163.8" r="2.0"/><circle cx="84.0" cy="167.6" r="2.0"/><circle cx="119.8" cy="180.7" r="2.0"/><circle cx="136.5" cy="173.1" r="2.0"/><circle cx="149.3" cy="173.1" r="2.0"/><circle cx="160.8" cy="164.7" r="2.0"/><circle cx="118.4" cy="181.8" r="2.0"/><circle cx="119.4" cy="182.1" r="2.0"/><circle cx="138.0" cy="169.2" r="2.0"/><circle cx="128.1" cy="164.2" r="2.0"/><circle cx="79.0" cy="164.8" r="2.0"/><circle cx="148.6" cy="175.8" r="2.0"/><circle cx="104.5" cy="181.1" r="2.0"/><circle cx="128.5" cy="169.4" r="2.0"/><circle cx="106.9" cy="169.5" r="2.0"/><circle cx="124.5" cy="176.7" r="2.0"/><circle cx="128.8" cy="179.0" r="2.0"/><circle cx="112.9" cy="174.6" r="2.0"/><circle cx="124.7" cy="183.1" r="2.0"/><circle cx="123.2" cy="149.2" r="2.0"/><circle cx="127.1" cy="181.8" r="2.0"/><circle cx="114.7" cy="162.4" r="2.0"/><circle cx="123.8" cy="176.3" r="2.0"/><circle cx="113.5" cy="184.7" r="2.0"/><circle cx="127.1" cy="177.0" r="2.0"/><circle cx="127.7" cy="178.0" r="2.0"/><circle cx="127.0" cy="157.4" r="2.0"/><circle cx="128.7" cy="169.0" r="2.0"/><circle cx="128.3" cy="166.4" r="2.0"/><circle cx="116.0" cy="170.0" r="2.0"/><circle cx="120.7" cy="171.8" r="2.0"/><circle cx="118.9" cy="177.5" r="2.0"/><circle cx="122.4" cy="172.1" r="2.0"/><circle cx="117.3" cy="180.3" r="2.0"/><circle cx="121.1" cy="172.4" r="2.0"/><circle cx="123.7" cy="175.2" r="2.0"/><circle cx="121.5" cy="181.2" r="2.0"/><circle cx="125.4" cy="179.1" r="2.0"/><circle cx="125.6" cy="163.2" r="2.0"/><circle cx="116.9" cy="171.8" r="2.0"/><circle cx="121.1" cy="138.6" r="2.0"/><circle cx="117.6" cy="176.4" r="2.0"/><circle cx="124.4" cy="175.7" r="2.0"/><circle cx="120.7" cy="154.5" r="2.0"/><circle cx="116.3" cy="161.4" r="2.0"/><circle cx="118.7" cy="174.1" r="2.0"/><circle cx="118.7" cy="178.3" r="2.0"/><circle cx="124.8" cy="159.8" r="2.0"/><circle cx="116.6" cy="180.7" r="2.0"/><circle cx="123.5" cy="157.5" r="2.0"/><circle cx="123.2" cy="164.8" r="2.0"/><circle cx="117.3" cy="163.8" r="2.0"/><circle cx="118.7" cy="183.7" r="2.0"/><circle cx="128.6" cy="184.2" r="2.0"/><circle cx="123.8" cy="171.6" r="2.0"/><circle cx="124.9" cy="124.4" r="2.0"/><circle cx="118.3" cy="180.2" r="2.0"/><circle cx="125.9" cy="182.8" r="2.0"/><circle cx="120.8" cy="161.0" r="2.0"/><circle cx="117.2" cy="176.6" r="2.0"/><circle cx="124.5" cy="172.9" r="2.0"/><circle cx="125.5" cy="144.7" r="2.0"/><circle cx="120.0" cy="148.8" r="2.0"/><circle cx="117.9" cy="175.1" r="2.0"/><circle cx="116.9" cy="119.8" r="2.0"/><circle cx="117.4" cy="181.7" r="2.0"/><circle cx="125.6" cy="139.4" r="2.0"/><circle cx="126.8" cy="177.6" r="2.0"/><circle cx="119.8" cy="145.4" r="2.0"/><circle cx="125.5" cy="181.0" r="2.0"/><circle cx="114.8" cy="176.5" r="2.0"/><circle cx="120.2" cy="143.4" r="2.0"/><circle cx="122.6" cy="175.8" r="2.0"/><circle cx="113.1" cy="179.6" r="2.0"/><circle cx="119.0" cy="176.0" r="2.0"/><circle cx="118.9" cy="184.6" r="2.0"/><circle cx="118.3" cy="159.3" r="2.0"/><circle cx="123.0" cy="164.6" r="2.0"/><circle cx="113.1" cy="181.1" r="2.0"/><circle cx="122.8" cy="164.9" r="2.0"/><circle cx="116.1" cy="178.6" r="2.0"/><circle cx="127.7" cy="150.4" r="2.0"/><circle cx="122.4" cy="180.1" r="2.0"/><circle cx="118.1" cy="169.6" r="2.0"/><circle cx="118.1" cy="184.1" r="2.0"/><circle cx="122.7" cy="166.4" r="2.0"/><circle cx="114.8" cy="172.1" r="2.0"/><circle cx="117.9" cy="180.5" r="2.0"/><circle cx="118.8" cy="175.2" r="2.0"/><circle cx="116.0" cy="143.5" r="2.0"/><circle cx="126.9" cy="179.9" r="2.0"/><circle cx="122.4" cy="179.8" r="2.0"/><circle cx="113.4" cy="176.4" r="2.0"/><circle cx="126.1" cy="156.5" r="2.0"/><circle cx="125.5" cy="179.2" r="2.0"/><circle cx="129.0" cy="173.2" r="2.0"/><circle cx="119.0" cy="183.8" r="2.0"/><circle cx="123.0" cy="180.2" r="2.0"/><circle cx="126.6" cy="158.0" r="2.0"/><circle cx="119.1" cy="170.7" r="2.0"/><circle cx="114.5" cy="156.2" r="2.0"/><circle cx="125.1" cy="179.4" r="2.0"/><circle cx="129.1" cy="174.5" r="2.0"/><circle cx="120.4" cy="183.1" r="2.0"/><circle cx="112.8" cy="180.6" r="2.0"/><circle cx="114.3" cy="183.1" r="2.0"/><circle cx="119.9" cy="176.6" r="2.0"/><circle cx="117.5" cy="172.2" r="2.0"/><circle cx="121.3" cy="163.3" r="2.0"/><circle cx="116.7" cy="113.6" r="2.0"/><circle cx="120.9" cy="172.1" r="2.0"/><circle cx="126.9" cy="176.5" r="2.0"/><circle cx="127.2" cy="180.6" r="2.0"/><circle cx="118.3" cy="176.9" r="2.0"/><circle cx="122.0" cy="167.8" r="2.0"/><circle cx="114.2" cy="178.9" r="2.0"/><circle cx="119.3" cy="129.6" r="2.0"/><circle cx="123.6" cy="182.6" r="2.0"/><circle cx="118.2" cy="171.3" r="2.0"/><circle cx="126.7" cy="177.7" r="2.0"/><circle cx="119.6" cy="177.5" r="2.0"/><circle cx="119.2" cy="128.9" r="2.0"/><circle cx="115.5" cy="175.7" r="2.0"/><circle cx="123.7" cy="165.5" r="2.0"/><circle cx="119.5" cy="174.3" r="2.0"/><circle cx="125.8" cy="180.1" r="2.0"/><circle cx="126.4" cy="173.9" r="2.0"/><circle cx="124.8" cy="176.4" r="2.0"/><circle cx="116.4" cy="184.3" r="2.0"/><circle cx="123.4" cy="127.3" r="2.0"/><circle cx="121.0" cy="164.8" r="2.0"/><circle cx="116.0" cy="173.4" r="2.0"/><circle cx="123.4" cy="181.4" r="2.0"/><circle cx="117.0" cy="163.8" r="2.0"/><circle cx="115.0" cy="166.4" r="2.0"/><circle cx="115.6" cy="167.9" r="2.0"/><circle cx="117.9" cy="172.1" r="2.0"/><circle cx="115.0" cy="170.6" r="2.0"/><circle cx="122.9" cy="173.1" r="2.0"/><circle cx="117.9" cy="182.2" r="2.0"/><circle cx="121.8" cy="164.6" r="2.0"/><circle cx="125.6" cy="167.8" r="2.0"/><circle cx="116.4" cy="169.7" r="2.0"/><circle cx="126.4" cy="174.4" r="2.0"/><circle cx="125.2" cy="169.9" r="2.0"/><circle cx="120.2" cy="176.8" r="2.0"/><circle cx="125.2" cy="122.6" r="2.0"/><circle cx="114.5" cy="166.0" r="2.0"/><circle cx="113.3" cy="168.0" r="2.0"/><circle cx="127.1" cy="136.5" r="2.0"/><circle cx="117.2" cy="161.6" r="2.0"/><circle cx="115.7" cy="151.6" r="2.0"/><circle cx="121.3" cy="153.5" r="2.0"/><circle cx="127.4" cy="184.5" r="2.0"/><circle cx="126.4" cy="174.5" r="2.0"/><circle cx="121.5" cy="164.1" r="2.0"/><circle cx="116.1" cy="149.5" r="2.0"/><circle cx="118.9" cy="144.1" r="2.0"/><circle cx="118.3" cy="184.3" r="2.0"/><circle cx="114.0" cy="183.6" r="2.0"/><circle cx="114.8" cy="167.4" r="2.0"/><circle cx="117.6" cy="181.7" r="2.0"/><circle cx="127.9" cy="179.0" r="2.0"/><circle cx="125.8" cy="142.9" r="2.0"/><circle cx="125.9" cy="174.5" r="2.0"/><circle cx="128.0" cy="178.9" r="2.0"/><circle cx="124.8" cy="155.2" r="2.0"/><circle cx="114.3" cy="180.2" r="2.0"/><circle cx="121.7" cy="138.7" r="2.0"/><circle cx="126.9" cy="168.0" r="2.0"/><circle cx="124.3" cy="182.0" r="2.0"/><circle cx="125.7" cy="173.7" r="2.0"/><circle cx="116.0" cy="174.0" r="2.0"/><circle cx="118.2" cy="129.1" r="2.0"/><circle cx="126.4" cy="160.5" r="2.0"/><circle cx="124.2" cy="179.7" r="2.0"/><circle cx="116.5" cy="175.8" r="2.0"/><circle cx="128.4" cy="180.4" r="2.0"/><circle cx="121.2" cy="176.6" r="2.0"/><circle cx="113.2" cy="172.4" r="2.0"/><circle cx="125.0" cy="159.9" r="2.0"/><circle cx="118.7" cy="147.7" r="2.0"/><circle cx="118.5" cy="180.6" r="2.0"/><circle cx="123.6" cy="161.4" r="2.0"/><circle cx="121.4" cy="175.5" r="2.0"/><circle cx="127.9" cy="181.8" r="2.0"/><circle cx="121.1" cy="173.5" r="2.0"/><circle cx="116.0" cy="157.3" r="2.0"/><circle cx="118.6" cy="162.0" r="2.0"/><circle cx="114.3" cy="155.0" r="2.0"/><circle cx="123.2" cy="179.1" r="2.0"/><circle cx="119.0" cy="173.1" r="2.0"/><circle cx="116.4" cy="169.4" r="2.0"/><circle cx="112.8" cy="174.6" r="2.0"/><circle cx="117.0" cy="156.3" r="2.0"/><circle cx="121.9" cy="153.2" r="2.0"/><circle cx="123.1" cy="168.4" r="2.0"/><circle cx="125.5" cy="182.4" r="2.0"/><circle cx="127.0" cy="178.7" r="2.0"/><circle cx="123.9" cy="157.4" r="2.0"/><circle cx="120.0" cy="154.8" r="2.0"/><circle cx="128.4" cy="164.9" r="2.0"/><circle cx="114.4" cy="181.1" r="2.0"/><circle cx="121.2" cy="175.4" r="2.0"/><circle cx="116.4" cy="181.9" r="2.0"/><circle cx="119.2" cy="149.0" r="2.0"/><circle cx="115.8" cy="181.9" r="2.0"/><circle cx="115.9" cy="169.5" r="2.0"/><circle cx="121.6" cy="173.3" r="2.0"/><circle cx="121.1" cy="174.5" r="2.0"/><circle cx="113.1" cy="152.6" r="2.0"/><circle cx="117.1" cy="137.5" r="2.0"/><circle cx="125.4" cy="184.1" r="2.0"/><circle cx="121.6" cy="169.8" r="2.0"/><circle cx="125.6" cy="180.4" r="2.0"/><circle cx="124.7" cy="178.3" r="2.0"/><circle cx="122.2" cy="180.2" r="2.0"/><circle cx="118.9" cy="166.2" r="2.0"/><circle cx="113.9" cy="173.2" r="2.0"/><circle cx="124.1" cy="166.5" r="2.0"/><circle cx="121.8" cy="181.8" r="2.0"/><circle cx="114.5" cy="161.3" r="2.0"/><circle cx="127.1" cy="152.3" r="2.0"/><circle cx="116.9" cy="183.9" r="2.0"/><circle cx="116.9" cy="183.2" r="2.0"/><circle cx="120.8" cy="183.2" r="2.0"/><circle cx="117.7" cy="179.7" r="2.0"/><circle cx="118.9" cy="173.8" r="2.0"/><circle cx="124.7" cy="157.2" r="2.0"/><circle cx="116.5" cy="182.6" r="2.0"/><circle cx="118.2" cy="184.7" r="2.0"/><circle cx="124.2" cy="182.8" r="2.0"/><circle cx="129.1" cy="157.9" r="2.0"/><circle cx="113.4" cy="180.6" r="2.0"/><circle cx="119.6" cy="159.7" r="2.0"/><circle cx="119.6" cy="137.2" r="2.0"/><circle cx="114.0" cy="178.1" r="2.0"/><circle cx="121.2" cy="132.3" r="2.0"/><circle cx="120.0" cy="174.5" r="2.0"/><circle cx="126.4" cy="158.8" r="2.0"/><circle cx="115.7" cy="173.3" r="2.0"/><circle cx="127.4" cy="175.5" r="2.0"/><circle cx="123.6" cy="175.5" r="2.0"/><circle cx="120.4" cy="170.2" r="2.0"/><circle cx="116.8" cy="169.6" r="2.0"/><circle cx="127.0" cy="170.3" r="2.0"/><circle cx="118.8" cy="183.3" r="2.0"/><circle cx="128.8" cy="147.0" r="2.0"/><circle cx="123.1" cy="184.6" r="2.0"/><circle cx="126.6" cy="167.0" r="2.0"/><circle cx="114.9" cy="173.5" r="2.0"/><circle cx="124.5" cy="178.5" r="2.0"/><circle cx="116.2" cy="161.6" r="2.0"/><circle cx="123.6" cy="166.5" r="2.0"/><circle cx="113.2" cy="165.7" r="2.0"/><circle cx="118.1" cy="174.4" r="2.0"/><circle cx="118.3" cy="168.6" r="2.0"/><circle cx="123.8" cy="182.4" r="2.0"/><circle cx="125.8" cy="178.8" r="2.0"/><circle cx="121.8" cy="178.3" r="2.0"/><circle cx="114.7" cy="155.5" r="2.0"/><circle cx="113.9" cy="161.4" r="2.0"/><circle cx="114.8" cy="135.9" r="2.0"/><circle cx="118.8" cy="161.9" r="2.0"/><circle cx="119.3" cy="181.3" r="2.0"/><circle cx="119.6" cy="172.4" r="2.0"/><circle cx="121.4" cy="182.5" r="2.0"/><circle cx="128.7" cy="178.5" r="2.0"/><circle cx="119.9" cy="176.2" r="2.0"/><circle cx="128.7" cy="180.2" r="2.0"/><circle cx="123.4" cy="177.9" r="2.0"/><circle cx="119.2" cy="153.0" r="2.0"/><circle cx="117.4" cy="159.8" r="2.0"/><circle cx="113.5" cy="182.7" r="2.0"/><circle cx="127.1" cy="174.2" r="2.0"/><circle cx="120.0" cy="180.8" r="2.0"/><circle cx="117.3" cy="159.2" r="2.0"/><circle cx="121.3" cy="181.9" r="2.0"/><circle cx="128.2" cy="175.0" r="2.0"/><circle cx="117.6" cy="144.3" r="2.0"/><circle cx="119.6" cy="170.2" r="2.0"/><circle cx="120.1" cy="184.2" r="2.0"/><circle cx="118.4" cy="140.8" r="2.0"/><circle cx="124.5" cy="169.1" r="2.0"/><circle cx="128.0" cy="183.6" r="2.0"/><circle cx="117.7" cy="182.7" r="2.0"/><circle cx="113.1" cy="162.4" r="2.0"/><circle cx="114.9" cy="176.4" r="2.0"/><circle cx="113.1" cy="173.4" r="2.0"/><circle cx="116.4" cy="181.9" r="2.0"/><circle cx="114.3" cy="183.3" r="2.0"/><circle cx="121.3" cy="181.0" r="2.0"/><circle cx="126.3" cy="182.2" r="2.0"/><circle cx="116.9" cy="175.2" r="2.0"/><circle cx="126.6" cy="179.9" r="2.0"/><circle cx="125.0" cy="183.9" r="2.0"/><circle cx="128.3" cy="183.0" r="2.0"/><circle cx="122.6" cy="175.5" r="2.0"/><circle cx="114.4" cy="149.4" r="2.0"/><circle cx="124.2" cy="183.6" r="2.0"/><circle cx="124.6" cy="169.1" r="2.0"/><circle cx="120.9" cy="179.0" r="2.0"/><circle cx="120.0" cy="181.1" r="2.0"/><circle cx="122.4" cy="178.9" r="2.0"/><circle cx="117.3" cy="178.5" r="2.0"/><circle cx="114.2" cy="166.5" r="2.0"/><circle cx="120.9" cy="156.1" r="2.0"/><circle cx="114.7" cy="180.2" r="2.0"/><circle cx="121.1" cy="172.2" r="2.0"/><circle cx="118.9" cy="162.2" r="2.0"/><circle cx="127.4" cy="175.4" r="2.0"/><circle cx="128.9" cy="179.1" r="2.0"/><circle cx="129.0" cy="145.1" r="2.0"/><circle cx="117.9" cy="133.8" r="2.0"/><circle cx="122.8" cy="154.9" r="2.0"/><circle cx="129.2" cy="180.7" r="2.0"/><circle cx="126.1" cy="166.3" r="2.0"/><circle cx="114.1" cy="170.3" r="2.0"/><circle cx="115.7" cy="149.4" r="2.0"/><circle cx="122.9" cy="179.5" r="2.0"/><circle cx="120.4" cy="181.0" r="2.0"/><circle cx="114.4" cy="162.6" r="2.0"/><circle cx="114.5" cy="165.6" r="2.0"/><circle cx="123.5" cy="173.3" r="2.0"/><circle cx="113.5" cy="164.1" r="2.0"/><circle cx="128.5" cy="181.0" r="2.0"/><circle cx="119.8" cy="176.0" r="2.0"/><circle cx="124.2" cy="176.5" r="2.0"/><circle cx="123.5" cy="160.8" r="2.0"/><circle cx="122.1" cy="175.6" r="2.0"/><circle cx="115.9" cy="171.9" r="2.0"/><circle cx="127.0" cy="131.7" r="2.0"/><circle cx="129.1" cy="158.1" r="2.0"/><circle cx="126.6" cy="173.7" r="2.0"/><circle cx="125.0" cy="179.9" r="2.0"/><circle cx="128.2" cy="162.5" r="2.0"/><circle cx="127.2" cy="152.9" r="2.0"/><circle cx="125.7" cy="179.3" r="2.0"/><circle cx="117.9" cy="173.3" r="2.0"/><circle cx="125.9" cy="176.6" r="2.0"/><circle cx="126.7" cy="151.9" r="2.0"/><circle cx="115.6" cy="165.1" r="2.0"/><circle cx="122.1" cy="181.8" r="2.0"/><circle cx="118.3" cy="180.6" r="2.0"/><circle cx="115.3" cy="182.9" r="2.0"/><circle cx="116.5" cy="162.4" r="2.0"/><circle cx="118.2" cy="151.3" r="2.0"/><circle cx="117.8" cy="151.2" r="2.0"/><circle cx="119.3" cy="179.3" r="2.0"/><circle cx="119.9" cy="184.6" r="2.0"/><circle cx="113.0" cy="176.3" r="2.0"/><circle cx="119.0" cy="149.7" r="2.0"/><circle cx="128.6" cy="184.8" r="2.0"/><circle cx="116.9" cy="180.2" r="2.0"/><circle cx="114.4" cy="184.4" r="2.0"/><circle cx="122.3" cy="162.8" r="2.0"/><circle cx="116.8" cy="172.3" r="2.0"/><circle cx="128.7" cy="178.8" r="2.0"/><circle cx="129.0" cy="176.5" r="2.0"/><circle cx="114.8" cy="146.1" r="2.0"/><circle cx="113.1" cy="151.3" r="2.0"/><circle cx="126.1" cy="162.7" r="2.0"/><circle cx="121.8" cy="163.7" r="2.0"/><circle cx="115.3" cy="155.0" r="2.0"/><circle cx="117.2" cy="171.0" r="2.0"/><circle cx="115.9" cy="175.7" r="2.0"/><circle cx="122.2" cy="162.9" r="2.0"/><circle cx="123.1" cy="157.9" r="2.0"/><circle cx="127.9" cy="168.5" r="2.0"/><circle cx="122.1" cy="155.0" r="2.0"/><circle cx="128.0" cy="177.8" r="2.0"/><circle cx="114.5" cy="176.6" r="2.0"/><circle cx="124.4" cy="177.6" r="2.0"/><circle cx="122.9" cy="137.2" r="2.0"/><circle cx="128.2" cy="165.5" r="2.0"/><circle cx="120.1" cy="158.1" r="2.0"/><circle cx="125.3" cy="173.8" r="2.0"/><circle cx="114.6" cy="178.0" r="2.0"/><circle cx="126.1" cy="167.6" r="2.0"/><circle cx="124.0" cy="179.7" r="2.0"/><circle cx="114.9" cy="145.1" r="2.0"/><circle cx="120.9" cy="182.2" r="2.0"/><circle cx="128.4" cy="177.6" r="2.0"/><circle cx="125.8" cy="174.3" r="2.0"/><circle cx="115.6" cy="167.0" r="2.0"/><circle cx="116.8" cy="121.4" r="2.0"/><circle cx="120.2" cy="183.4" r="2.0"/><circle cx="120.7" cy="184.5" r="2.0"/><circle cx="128.5" cy="175.4" r="2.0"/><circle cx="126.7" cy="175.3" r="2.0"/><circle cx="122.4" cy="157.9" r="2.0"/><circle cx="117.8" cy="180.0" r="2.0"/><circle cx="119.3" cy="172.8" r="2.0"/><circle cx="121.1" cy="166.4" r="2.0"/><circle cx="122.8" cy="177.9" r="2.0"/><circle cx="118.3" cy="180.8" r="2.0"/><circle cx="114.3" cy="184.6" r="2.0"/><circle cx="119.7" cy="183.8" r="2.0"/><circle cx="124.2" cy="152.6" r="2.0"/><circle cx="125.4" cy="124.6" r="2.0"/><circle cx="122.3" cy="169.1" r="2.0"/><circle cx="119.1" cy="184.6" r="2.0"/><circle cx="123.0" cy="179.4" r="2.0"/><circle cx="121.7" cy="183.6" r="2.0"/><circle cx="120.9" cy="176.4" r="2.0"/><circle cx="114.5" cy="175.6" r="2.0"/><circle cx="125.9" cy="161.4" r="2.0"/><circle cx="114.7" cy="168.6" r="2.0"/><circle cx="127.1" cy="168.5" r="2.0"/><circle cx="113.5" cy="159.5" r="2.0"/><circle cx="123.7" cy="147.3" r="2.0"/><circle cx="127.9" cy="179.0" r="2.0"/><circle cx="127.5" cy="153.7" r="2.0"/><circle cx="122.3" cy="179.7" r="2.0"/><circle cx="117.7" cy="176.3" r="2.0"/><circle cx="122.9" cy="159.3" r="2.0"/><circle cx="121.7" cy="177.6" r="2.0"/><circle cx="121.9" cy="137.9" r="2.0"/><circle cx="121.9" cy="141.3" r="2.0"/><circle cx="120.3" cy="184.3" r="2.0"/><circle cx="124.7" cy="170.5" r="2.0"/><circle cx="122.6" cy="123.2" r="2.0"/><circle cx="123.2" cy="173.2" r="2.0"/><circle cx="124.4" cy="171.2" r="2.0"/><circle cx="114.7" cy="132.6" r="2.0"/><circle cx="127.2" cy="177.9" r="2.0"/><circle cx="125.8" cy="183.7" r="2.0"/><circle cx="123.4" cy="184.2" r="2.0"/><circle cx="116.7" cy="156.2" r="2.0"/><circle cx="116.5" cy="176.3" r="2.0"/><circle cx="121.5" cy="163.1" r="2.0"/><circle cx="118.1" cy="168.3" r="2.0"/><circle cx="128.5" cy="169.1" r="2.0"/><circle cx="128.4" cy="157.9" r="2.0"/><circle cx="121.3" cy="179.8" r="2.0"/><circle cx="118.5" cy="176.1" r="2.0"/><circle cx="115.7" cy="155.9" r="2.0"/><circle cx="125.5" cy="170.3" r="2.0"/><circle cx="114.8" cy="136.1" r="2.0"/><circle cx="120.9" cy="179.2" r="2.0"/><circle cx="116.6" cy="135.8" r="2.0"/><circle cx="119.3" cy="152.1" r="2.0"/><circle cx="128.0" cy="170.7" r="2.0"/><circle cx="118.2" cy="183.6" r="2.0"/><circle cx="115.0" cy="181.8" r="2.0"/><circle cx="124.3" cy="178.4" r="2.0"/><circle cx="114.8" cy="169.4" r="2.0"/><circle cx="121.1" cy="156.1" r="2.0"/><circle cx="126.3" cy="182.1" r="2.0"/><circle cx="116.4" cy="154.2" r="2.0"/><circle cx="125.0" cy="134.9" r="2.0"/><circle cx="112.8" cy="180.2" r="2.0"/><circle cx="126.3" cy="148.9" r="2.0"/><circle cx="125.4" cy="183.0" r="2.0"/><circle cx="123.2" cy="158.4" r="2.0"/><circle cx="129.0" cy="153.0" r="2.0"/><circle cx="126.5" cy="177.7" r="2.0"/><circle cx="118.6" cy="139.7" r="2.0"/><circle cx="124.0" cy="164.3" r="2.0"/><circle cx="122.1" cy="151.2" r="2.0"/><circle cx="116.9" cy="179.1" r="2.0"/><circle cx="115.0" cy="170.9" r="2.0"/><circle cx="127.4" cy="149.9" r="2.0"/><circle cx="124.2" cy="179.9" r="2.0"/><circle cx="114.8" cy="164.9" r="2.0"/><circle cx="125.4" cy="158.0" r="2.0"/><circle cx="114.4" cy="178.3" r="2.0"/><circle cx="125.5" cy="178.9" r="2.0"/><circle cx="126.2" cy="173.6" r="2.0"/><circle cx="114.5" cy="181.7" r="2.0"/><circle cx="127.2" cy="177.2" r="2.0"/><circle cx="114.0" cy="181.7" r="2.0"/><circle cx="114.3" cy="159.9" r="2.0"/><circle cx="114.2" cy="165.2" r="2.0"/><circle cx="123.7" cy="179.8" r="2.0"/><circle cx="119.5" cy="148.0" r="2.0"/><circle cx="113.3" cy="174.2" r="2.0"/><circle cx="116.8" cy="177.4" r="2.0"/><circle cx="124.5" cy="157.2" r="2.0"/><circle cx="121.5" cy="157.5" r="2.0"/><circle cx="114.9" cy="163.4" r="2.0"/><circle cx="117.6" cy="176.2" r="2.0"/><circle cx="124.9" cy="178.9" r="2.0"/><circle cx="118.1" cy="180.5" r="2.0"/><circle cx="127.0" cy="178.9" r="2.0"/><circle cx="120.7" cy="166.7" r="2.0"/><circle cx="127.9" cy="176.3" r="2.0"/><circle cx="120.3" cy="135.0" r="2.0"/><circle cx="126.9" cy="169.9" r="2.0"/><circle cx="117.0" cy="179.5" r="2.0"/><circle cx="121.0" cy="182.9" r="2.0"/><circle cx="115.4" cy="158.8" r="2.0"/><circle cx="129.0" cy="174.7" r="2.0"/><circle cx="119.1" cy="173.1" r="2.0"/><circle cx="127.4" cy="152.3" r="2.0"/><circle cx="114.8" cy="176.4" r="2.0"/><circle cx="124.9" cy="166.8" r="2.0"/><circle cx="123.1" cy="139.2" r="2.0"/><circle cx="121.2" cy="178.3" r="2.0"/><circle cx="120.1" cy="178.8" r="2.0"/><circle cx="127.8" cy="173.6" r="2.0"/><circle cx="126.5" cy="142.8" r="2.0"/><circle cx="128.6" cy="173.2" r="2.0"/><circle cx="127.9" cy="182.1" r="2.0"/><circle cx="127.1" cy="166.6" r="2.0"/><circle cx="129.1" cy="175.3" r="2.0"/><circle cx="126.7" cy="184.3" r="2.0"/><circle cx="118.9" cy="154.4" r="2.0"/><circle cx="116.3" cy="153.4" r="2.0"/><circle cx="120.5" cy="160.0" r="2.0"/><circle cx="116.0" cy="175.4" r="2.0"/><circle cx="124.8" cy="156.2" r="2.0"/><circle cx="128.8" cy="183.1" r="2.0"/><circle cx="119.0" cy="180.4" r="2.0"/><circle cx="122.3" cy="175.3" r="2.0"/><circle cx="128.3" cy="145.5" r="2.0"/><circle cx="118.8" cy="167.0" r="2.0"/><circle cx="113.9" cy="182.8" r="2.0"/><circle cx="122.4" cy="171.8" r="2.0"/><circle cx="128.9" cy="174.3" r="2.0"/><circle cx="118.6" cy="175.3" r="2.0"/><circle cx="115.6" cy="175.2" r="2.0"/><circle cx="122.2" cy="135.0" r="2.0"/><circle cx="119.8" cy="170.9" r="2.0"/><circle cx="118.0" cy="179.7" r="2.0"/><circle cx="120.1" cy="172.7" r="2.0"/><circle cx="121.8" cy="115.9" r="2.0"/><circle cx="113.7" cy="180.7" r="2.0"/><circle cx="118.5" cy="181.7" r="2.0"/><circle cx="127.4" cy="157.7" r="2.0"/><circle cx="125.6" cy="180.0" r="2.0"/><circle cx="121.6" cy="174.4" r="2.0"/><circle cx="113.5" cy="171.3" r="2.0"/><circle cx="123.7" cy="183.6" r="2.0"/><circle cx="119.0" cy="164.0" r="2.0"/><circle cx="125.1" cy="140.1" r="2.0"/><circle cx="113.9" cy="178.4" r="2.0"/><circle cx="123.5" cy="170.5" r="2.0"/><circle cx="113.5" cy="180.3" r="2.0"/><circle cx="113.4" cy="172.9" r="2.0"/><circle cx="123.1" cy="161.1" r="2.0"/><circle cx="120.1" cy="179.0" r="2.0"/><circle cx="115.8" cy="180.1" r="2.0"/><circle cx="126.2" cy="181.2" r="2.0"/><circle cx="124.5" cy="174.1" r="2.0"/><circle cx="126.0" cy="177.2" r="2.0"/><circle cx="123.5" cy="168.7" r="2.0"/><circle cx="122.0" cy="175.9" r="2.0"/><circle cx="128.8" cy="181.0" r="2.0"/><circle cx="121.5" cy="165.0" r="2.0"/><circle cx="114.4" cy="166.7" r="2.0"/><circle cx="116.6" cy="177.6" r="2.0"/><circle cx="113.0" cy="151.9" r="2.0"/><circle cx="127.0" cy="174.3" r="2.0"/><circle cx="124.6" cy="157.7" r="2.0"/><circle cx="116.6" cy="178.4" r="2.0"/><circle cx="117.7" cy="163.1" r="2.0"/><circle cx="118.5" cy="162.0" r="2.0"/><circle cx="122.2" cy="159.4" r="2.0"/><circle cx="129.0" cy="154.8" r="2.0"/><circle cx="129.0" cy="176.3" r="2.0"/><circle cx="127.2" cy="184.6" r="2.0"/><circle cx="121.7" cy="184.3" r="2.0"/><circle cx="125.4" cy="176.1" r="2.0"/><circle cx="116.2" cy="178.1" r="2.0"/><circle cx="121.8" cy="157.5" r="2.0"/><circle cx="120.8" cy="159.7" r="2.0"/><circle cx="125.4" cy="184.1" r="2.0"/><circle cx="120.5" cy="180.4" r="2.0"/><circle cx="117.0" cy="184.8" r="2.0"/><circle cx="125.3" cy="165.3" r="2.0"/><circle cx="120.1" cy="166.8" r="2.0"/><circle cx="123.8" cy="161.3" r="2.0"/><circle cx="121.6" cy="180.7" r="2.0"/><circle cx="124.8" cy="168.6" r="2.0"/><circle cx="117.9" cy="180.9" r="2.0"/><circle cx="114.4" cy="177.3" r="2.0"/><circle cx="124.8" cy="177.2" r="2.0"/><circle cx="115.6" cy="169.5" r="2.0"/><circle cx="114.7" cy="161.4" r="2.0"/><circle cx="115.2" cy="160.1" r="2.0"/><circle cx="116.9" cy="183.0" r="2.0"/><circle cx="117.2" cy="171.9" r="2.0"/><circle cx="128.2" cy="146.5" r="2.0"/><circle cx="125.1" cy="178.9" r="2.0"/><circle cx="122.0" cy="163.7" r="2.0"/><circle cx="128.4" cy="179.6" r="2.0"/><circle cx="114.7" cy="129.1" r="2.0"/><circle cx="118.1" cy="177.7" r="2.0"/><circle cx="119.9" cy="180.9" r="2.0"/><circle cx="114.8" cy="144.2" r="2.0"/><circle cx="117.9" cy="152.7" r="2.0"/><circle cx="127.6" cy="184.6" r="2.0"/><circle cx="116.3" cy="179.1" r="2.0"/><circle cx="118.8" cy="182.6" r="2.0"/><circle cx="115.7" cy="182.5" r="2.0"/><circle cx="122.3" cy="179.7" r="2.0"/><circle cx="117.8" cy="174.3" r="2.0"/><circle cx="125.5" cy="171.5" r="2.0"/><circle cx="118.4" cy="161.9" r="2.0"/><circle cx="124.8" cy="140.3" r="2.0"/><circle cx="120.6" cy="170.1" r="2.0"/><circle cx="115.0" cy="177.7" r="2.0"/><circle cx="122.8" cy="146.3" r="2.0"/><circle cx="128.0" cy="183.0" r="2.0"/><circle cx="113.3" cy="146.0" r="2.0"/><circle cx="116.7" cy="163.4" r="2.0"/><circle cx="126.5" cy="171.2" r="2.0"/><circle cx="121.0" cy="177.1" r="2.0"/><circle cx="116.0" cy="165.3" r="2.0"/><circle cx="119.8" cy="167.3" r="2.0"/><circle cx="117.0" cy="112.9" r="2.0"/><circle cx="113.5" cy="162.7" r="2.0"/><circle cx="114.7" cy="179.1" r="2.0"/><circle cx="121.5" cy="181.9" r="2.0"/><circle cx="125.8" cy="181.4" r="2.0"/><circle cx="123.0" cy="183.0" r="2.0"/><circle cx="114.9" cy="149.7" r="2.0"/><circle cx="125.3" cy="180.4" r="2.0"/><circle cx="128.1" cy="173.5" r="2.0"/><circle cx="119.3" cy="177.5" r="2.0"/><circle cx="119.0" cy="128.6" r="2.0"/><circle cx="126.1" cy="124.5" r="2.0"/><circle cx="121.8" cy="180.8" r="2.0"/><circle cx="116.0" cy="134.4" r="2.0"/><circle cx="125.5" cy="151.2" r="2.0"/><circle cx="122.7" cy="160.2" r="2.0"/><circle cx="128.5" cy="182.9" r="2.0"/><circle cx="125.7" cy="182.9" r="2.0"/><circle cx="118.0" cy="162.0" r="2.0"/><circle cx="119.5" cy="164.3" r="2.0"/><circle cx="113.5" cy="160.1" r="2.0"/><circle cx="119.5" cy="136.6" r="2.0"/><circle cx="120.5" cy="155.9" r="2.0"/><circle cx="117.7" cy="155.1" r="2.0"/><circle cx="113.2" cy="170.8" r="2.0"/><circle cx="114.1" cy="172.9" r="2.0"/><circle cx="123.9" cy="149.9" r="2.0"/><circle cx="128.8" cy="175.0" r="2.0"/><circle cx="126.9" cy="132.7" r="2.0"/><circle cx="124.3" cy="183.3" r="2.0"/><circle cx="122.7" cy="161.7" r="2.0"/><circle cx="128.0" cy="184.5" r="2.0"/><circle cx="122.6" cy="174.5" r="2.0"/><circle cx="117.3" cy="154.8" r="2.0"/><circle cx="127.9" cy="184.3" r="2.0"/><circle cx="113.5" cy="179.2" r="2.0"/><circle cx="129.1" cy="182.2" r="2.0"/><circle cx="116.2" cy="160.9" r="2.0"/><circle cx="127.5" cy="182.0" r="2.0"/><circle cx="122.4" cy="165.4" r="2.0"/><circle cx="119.6" cy="182.3" r="2.0"/><circle cx="114.6" cy="132.7" r="2.0"/><circle cx="113.7" cy="175.1" r="2.0"/><circle cx="128.4" cy="182.8" r="2.0"/><circle cx="124.8" cy="152.1" r="2.0"/><circle cx="124.2" cy="184.0" r="2.0"/><circle cx="120.9" cy="172.7" r="2.0"/><circle cx="121.2" cy="182.0" r="2.0"/><circle cx="115.0" cy="156.0" r="2.0"/><circle cx="119.7" cy="147.7" r="2.0"/><circle cx="116.7" cy="179.3" r="2.0"/><circle cx="123.4" cy="173.9" r="2.0"/><circle cx="127.4" cy="169.8" r="2.0"/><circle cx="121.2" cy="172.1" r="2.0"/><circle cx="113.1" cy="180.5" r="2.0"/><circle cx="117.9" cy="177.7" r="2.0"/><circle cx="119.7" cy="182.4" r="2.0"/><circle cx="127.9" cy="184.2" r="2.0"/><circle cx="127.2" cy="173.0" r="2.0"/><circle cx="124.8" cy="163.5" r="2.0"/><circle cx="117.7" cy="159.5" r="2.0"/><circle cx="116.2" cy="161.6" r="2.0"/><circle cx="122.6" cy="170.4" r="2.0"/><circle cx="115.5" cy="158.2" r="2.0"/><circle cx="126.3" cy="177.3" r="2.0"/><circle cx="128.8" cy="155.8" r="2.0"/><circle cx="116.2" cy="182.6" r="2.0"/><circle cx="124.7" cy="182.8" r="2.0"/><circle cx="123.4" cy="160.5" r="2.0"/><circle cx="121.3" cy="157.9" r="2.0"/><circle cx="127.9" cy="170.1" r="2.0"/><circle cx="123.6" cy="166.2" r="2.0"/><circle cx="120.9" cy="169.0" r="2.0"/><circle cx="122.2" cy="159.7" r="2.0"/><circle cx="119.8" cy="182.3" r="2.0"/><circle cx="119.9" cy="175.1" r="2.0"/><circle cx="118.7" cy="170.2" r="2.0"/><circle cx="119.8" cy="176.0" r="2.0"/><circle cx="128.7" cy="176.5" r="2.0"/><circle cx="113.1" cy="183.1" r="2.0"/><circle cx="119.3" cy="162.1" r="2.0"/><circle cx="122.5" cy="174.2" r="2.0"/><circle cx="116.7" cy="176.7" r="2.0"/><circle cx="127.1" cy="184.5" r="2.0"/><circle cx="118.2" cy="135.1" r="2.0"/><circle cx="118.1" cy="173.7" r="2.0"/><circle cx="127.4" cy="183.7" r="2.0"/><circle cx="116.8" cy="152.6" r="2.0"/><circle cx="124.3" cy="179.6" r="2.0"/><circle cx="120.5" cy="156.5" r="2.0"/><circle cx="116.6" cy="176.1" r="2.0"/><circle cx="127.0" cy="156.3" r="2.0"/><circle cx="114.7" cy="150.1" r="2.0"/><circle cx="129.0" cy="168.8" r="2.0"/><circle cx="120.3" cy="162.5" r="2.0"/><circle cx="113.8" cy="182.0" r="2.0"/><circle cx="113.9" cy="161.4" r="2.0"/><circle cx="123.7" cy="155.4" r="2.0"/><circle cx="127.4" cy="173.4" r="2.0"/><circle cx="122.5" cy="136.8" r="2.0"/><circle cx="122.5" cy="182.9" r="2.0"/><circle cx="116.9" cy="175.1" r="2.0"/><circle cx="124.0" cy="137.9" r="2.0"/><circle cx="116.6" cy="182.5" r="2.0"/><circle cx="122.2" cy="177.3" r="2.0"/><circle cx="120.0" cy="177.8" r="2.0"/><circle cx="115.8" cy="155.0" r="2.0"/><circle cx="118.2" cy="162.2" r="2.0"/><circle cx="126.9" cy="133.4" r="2.0"/><circle cx="122.7" cy="177.7" r="2.0"/><circle cx="119.5" cy="182.7" r="2.0"/><circle cx="123.3" cy="167.4" r="2.0"/><circle cx="113.4" cy="177.3" r="2.0"/><circle cx="122.0" cy="182.4" r="2.0"/><circle cx="117.8" cy="181.5" r="2.0"/><circle cx="127.6" cy="167.7" r="2.0"/><circle cx="117.0" cy="171.9" r="2.0"/><circle cx="117.3" cy="169.1" r="2.0"/><circle cx="115.4" cy="157.7" r="2.0"/><circle cx="120.0" cy="179.4" r="2.0"/><circle cx="116.7" cy="142.4" r="2.0"/><circle cx="115.0" cy="181.0" r="2.0"/><circle cx="118.2" cy="180.5" r="2.0"/><circle cx="125.3" cy="175.9" r="2.0"/><circle cx="120.6" cy="175.6" r="2.0"/><circle cx="125.5" cy="175.8" r="2.0"/><circle cx="120.0" cy="143.3" r="2.0"/><circle cx="117.8" cy="139.6" r="2.0"/><circle cx="121.3" cy="117.1" r="2.0"/><circle cx="119.1" cy="164.4" r="2.0"/><circle cx="115.0" cy="179.2" r="2.0"/><circle cx="118.7" cy="146.3" r="2.0"/><circle cx="120.4" cy="163.5" r="2.0"/><circle cx="116.2" cy="171.5" r="2.0"/><circle cx="118.3" cy="181.3" r="2.0"/><circle cx="121.7" cy="164.5" r="2.0"/><circle cx="124.5" cy="184.8" r="2.0"/><circle cx="113.9" cy="174.7" r="2.0"/><circle cx="116.3" cy="179.4" r="2.0"/><circle cx="121.8" cy="154.0" r="2.0"/><circle cx="116.9" cy="177.8" r="2.0"/><circle cx="117.4" cy="178.7" r="2.0"/><circle cx="125.8" cy="177.2" r="2.0"/><circle cx="124.3" cy="157.2" r="2.0"/><circle cx="123.5" cy="146.4" r="2.0"/><circle cx="113.5" cy="182.7" r="2.0"/><circle cx="117.0" cy="181.6" r="2.0"/><circle cx="126.3" cy="171.4" r="2.0"/><circle cx="119.8" cy="169.1" r="2.0"/><circle cx="128.9" cy="179.9" r="2.0"/><circle cx="118.4" cy="159.9" r="2.0"/><circle cx="128.9" cy="184.0" r="2.0"/><circle cx="126.7" cy="179.5" r="2.0"/><circle cx="123.5" cy="182.6" r="2.0"/><circle cx="127.4" cy="177.0" r="2.0"/><circle cx="114.5" cy="178.5" r="2.0"/><circle cx="126.0" cy="180.9" r="2.0"/><circle cx="122.9" cy="116.5" r="2.0"/><circle cx="117.4" cy="164.4" r="2.0"/><circle cx="114.2" cy="179.1" r="2.0"/><circle cx="122.8" cy="184.0" r="2.0"/><circle cx="115.9" cy="177.1" r="2.0"/><circle cx="128.1" cy="174.6" r="2.0"/><circle cx="115.5" cy="179.7" r="2.0"/><circle cx="123.6" cy="167.2" r="2.0"/><circle cx="115.7" cy="172.1" r="2.0"/><circle cx="114.6" cy="147.9" r="2.0"/><circle cx="116.8" cy="181.4" r="2.0"/><circle cx="120.6" cy="172.0" r="2.0"/><circle cx="124.7" cy="170.5" r="2.0"/><circle cx="120.5" cy="144.9" r="2.0"/><circle cx="126.4" cy="184.0" r="2.0"/><circle cx="118.0" cy="184.5" r="2.0"/><circle cx="122.7" cy="182.1" r="2.0"/><circle cx="114.9" cy="157.7" r="2.0"/><circle cx="126.8" cy="178.6" r="2.0"/><circle cx="114.6" cy="164.0" r="2.0"/><circle cx="125.8" cy="164.2" r="2.0"/><circle cx="115.3" cy="175.5" r="2.0"/><circle cx="118.0" cy="165.7" r="2.0"/><circle cx="115.5" cy="182.2" r="2.0"/><circle cx="114.9" cy="175.6" r="2.0"/><circle cx="121.8" cy="176.2" r="2.0"/><circle cx="119.4" cy="170.5" r="2.0"/><circle cx="114.2" cy="156.2" r="2.0"/><circle cx="128.1" cy="177.7" r="2.0"/><circle cx="127.9" cy="149.3" r="2.0"/><circle cx="121.6" cy="159.0" r="2.0"/><circle cx="122.2" cy="157.3" r="2.0"/><circle cx="117.0" cy="182.6" r="2.0"/><circle cx="127.2" cy="183.0" r="2.0"/><circle cx="119.5" cy="177.9" r="2.0"/><circle cx="114.5" cy="171.1" r="2.0"/><circle cx="125.8" cy="163.0" r="2.0"/><circle cx="127.3" cy="156.5" r="2.0"/><circle cx="115.2" cy="178.0" r="2.0"/><circle cx="124.2" cy="159.3" r="2.0"/><circle cx="118.4" cy="176.5" r="2.0"/><circle cx="126.4" cy="181.8" r="2.0"/><circle cx="126.1" cy="173.8" r="2.0"/><circle cx="118.1" cy="177.4" r="2.0"/><circle cx="125.0" cy="172.0" r="2.0"/><circle cx="118.6" cy="146.7" r="2.0"/><circle cx="119.4" cy="163.8" r="2.0"/><circle cx="125.3" cy="149.7" r="2.0"/><circle cx="118.7" cy="170.4" r="2.0"/><circle cx="127.3" cy="179.1" r="2.0"/><circle cx="117.8" cy="156.1" r="2.0"/><circle cx="116.0" cy="183.2" r="2.0"/><circle cx="115.0" cy="125.6" r="2.0"/><circle cx="121.5" cy="155.3" r="2.0"/><circle cx="121.6" cy="170.4" r="2.0"/><circle cx="121.9" cy="175.4" r="2.0"/><circle cx="127.9" cy="183.1" r="2.0"/><circle cx="115.1" cy="182.9" r="2.0"/><circle cx="123.3" cy="165.0" r="2.0"/><circle cx="124.2" cy="155.6" r="2.0"/><circle cx="115.2" cy="137.4" r="2.0"/><circle cx="116.7" cy="184.6" r="2.0"/><circle cx="115.3" cy="158.0" r="2.0"/><circle cx="125.4" cy="171.3" r="2.0"/><circle cx="121.5" cy="181.8" r="2.0"/><circle cx="124.2" cy="143.7" r="2.0"/><circle cx="120.7" cy="175.8" r="2.0"/><circle cx="128.6" cy="179.0" r="2.0"/><circle cx="124.0" cy="157.7" r="2.0"/><circle cx="124.8" cy="178.4" r="2.0"/><circle cx="125.9" cy="172.9" r="2.0"/><circle cx="127.3" cy="176.8" r="2.0"/><circle cx="120.2" cy="164.3" r="2.0"/><circle cx="126.0" cy="170.1" r="2.0"/><circle cx="128.6" cy="171.4" r="2.0"/><circle cx="127.5" cy="184.7" r="2.0"/><circle cx="120.8" cy="162.5" r="2.0"/><circle cx="115.2" cy="151.1" r="2.0"/><circle cx="124.5" cy="177.5" r="2.0"/><circle cx="118.9" cy="154.0" r="2.0"/><circle cx="113.5" cy="166.2" r="2.0"/><circle cx="114.0" cy="182.5" r="2.0"/><circle cx="118.1" cy="169.8" r="2.0"/><circle cx="120.1" cy="179.4" r="2.0"/><circle cx="127.7" cy="183.4" r="2.0"/><circle cx="122.0" cy="152.4" r="2.0"/><circle cx="117.9" cy="174.4" r="2.0"/><circle cx="118.5" cy="168.4" r="2.0"/><circle cx="126.9" cy="118.9" r="2.0"/><circle cx="126.3" cy="161.7" r="2.0"/><circle cx="114.8" cy="183.4" r="2.0"/><circle cx="114.9" cy="177.3" r="2.0"/><circle cx="129.0" cy="175.0" r="2.0"/><circle cx="128.5" cy="152.8" r="2.0"/><circle cx="116.4" cy="180.3" r="2.0"/><circle cx="117.3" cy="184.4" r="2.0"/><circle cx="121.5" cy="183.8" r="2.0"/><circle cx="123.9" cy="178.4" r="2.0"/><circle cx="122.6" cy="170.2" r="2.0"/><circle cx="124.9" cy="178.5" r="2.0"/><circle cx="124.5" cy="164.0" r="2.0"/><circle cx="120.4" cy="173.5" r="2.0"/><circle cx="113.5" cy="178.8" r="2.0"/><circle cx="122.9" cy="173.6" r="2.0"/><circle cx="126.9" cy="181.1" r="2.0"/><circle cx="126.8" cy="147.3" r="2.0"/><circle cx="120.8" cy="154.7" r="2.0"/><circle cx="117.2" cy="181.4" r="2.0"/><circle cx="129.0" cy="161.0" r="2.0"/><circle cx="112.9" cy="182.7" r="2.0"/><circle cx="118.5" cy="177.1" r="2.0"/><circle cx="114.6" cy="168.6" r="2.0"/><circle cx="118.3" cy="151.8" r="2.0"/><circle cx="118.8" cy="142.3" r="2.0"/><circle cx="115.7" cy="178.3" r="2.0"/><circle cx="122.2" cy="124.8" r="2.0"/><circle cx="113.8" cy="153.8" r="2.0"/><circle cx="124.8" cy="170.9" r="2.0"/><circle cx="115.9" cy="135.8" r="2.0"/><circle cx="129.2" cy="176.5" r="2.0"/><circle cx="128.5" cy="171.2" r="2.0"/><circle cx="113.2" cy="179.6" r="2.0"/><circle cx="117.9" cy="132.8" r="2.0"/><circle cx="118.7" cy="170.2" r="2.0"/><circle cx="128.1" cy="169.5" r="2.0"/><circle cx="125.9" cy="132.6" r="2.0"/><circle cx="126.3" cy="179.5" r="2.0"/><circle cx="119.6" cy="184.5" r="2.0"/><circle cx="117.8" cy="133.5" r="2.0"/><circle cx="122.3" cy="176.7" r="2.0"/><circle cx="124.4" cy="180.0" r="2.0"/><circle cx="114.4" cy="166.0" r="2.0"/><circle cx="115.4" cy="139.9" r="2.0"/><circle cx="118.5" cy="163.6" r="2.0"/><circle cx="114.1" cy="182.0" r="2.0"/><circle cx="120.3" cy="156.2" r="2.0"/><circle cx="128.7" cy="156.7" r="2.0"/><circle cx="121.4" cy="138.4" r="2.0"/><circle cx="121.3" cy="179.1" r="2.0"/><circle cx="124.0" cy="114.0" r="2.0"/><circle cx="126.6" cy="165.1" r="2.0"/><circle cx="122.0" cy="175.5" r="2.0"/><circle cx="116.1" cy="151.2" r="2.0"/><circle cx="113.2" cy="150.0" r="2.0"/><circle cx="122.2" cy="171.1" r="2.0"/><circle cx="127.9" cy="182.0" r="2.0"/><circle cx="115.8" cy="174.5" r="2.0"/><circle cx="122.5" cy="175.4" r="2.0"/><circle cx="112.8" cy="174.8" r="2.0"/><circle cx="124.5" cy="183.1" r="2.0"/><circle cx="117.0" cy="182.3" r="2.0"/><circle cx="126.9" cy="155.5" r="2.0"/><circle cx="115.7" cy="146.9" r="2.0"/><circle cx="125.2" cy="184.7" r="2.0"/><circle cx="118.8" cy="168.6" r="2.0"/><circle cx="119.9" cy="184.5" r="2.0"/><circle cx="122.4" cy="180.0" r="2.0"/><circle cx="117.2" cy="114.7" r="2.0"/><circle cx="124.2" cy="183.4" r="2.0"/><circle cx="116.5" cy="182.8" r="2.0"/><circle cx="129.0" cy="174.5" r="2.0"/><circle cx="118.0" cy="177.8" r="2.0"/><circle cx="115.5" cy="173.3" r="2.0"/><circle cx="124.3" cy="175.7" r="2.0"/><circle cx="125.9" cy="177.8" r="2.0"/><circle cx="114.5" cy="181.2" r="2.0"/><circle cx="120.2" cy="167.3" r="2.0"/><circle cx="115.9" cy="140.3" r="2.0"/><circle cx="123.8" cy="160.4" r="2.0"/><circle cx="114.9" cy="176.6" r="2.0"/><circle cx="125.2" cy="168.0" r="2.0"/><circle cx="120.5" cy="173.4" r="2.0"/><circle cx="122.8" cy="164.2" r="2.0"/><circle cx="115.8" cy="175.0" r="2.0"/><circle cx="121.8" cy="173.7" r="2.0"/><circle cx="127.4" cy="144.5" r="2.0"/><circle cx="118.2" cy="170.3" r="2.0"/><circle cx="123.1" cy="180.3" r="2.0"/><circle cx="116.9" cy="161.0" r="2.0"/><circle cx="129.2" cy="164.0" r="2.0"/><circle cx="128.2" cy="176.0" r="2.0"/><circle cx="123.5" cy="174.6" r="2.0"/><circle cx="116.1" cy="149.0" r="2.0"/><circle cx="128.9" cy="177.3" r="2.0"/><circle cx="117.8" cy="183.6" r="2.0"/><circle cx="125.0" cy="173.3" r="2.0"/><circle cx="128.1" cy="167.1" r="2.0"/><circle cx="112.8" cy="165.1" r="2.0"/><circle cx="113.4" cy="183.5" r="2.0"/><circle cx="113.2" cy="174.8" r="2.0"/><circle cx="123.2" cy="171.5" r="2.0"/><circle cx="126.8" cy="180.8" r="2.0"/><circle cx="128.5" cy="175.3" r="2.0"/><circle cx="123.0" cy="176.9" r="2.0"/><circle cx="117.1" cy="170.9" r="2.0"/><circle cx="112.9" cy="157.9" r="2.0"/><circle cx="118.1" cy="179.7" r="2.0"/><circle cx="121.0" cy="146.8" r="2.0"/><circle cx="117.7" cy="184.1" r="2.0"/><circle cx="126.1" cy="168.1" r="2.0"/><circle cx="125.6" cy="182.7" r="2.0"/><circle cx="121.4" cy="176.0" r="2.0"/><circle cx="120.0" cy="175.1" r="2.0"/><circle cx="126.4" cy="140.1" r="2.0"/><circle cx="124.3" cy="161.1" r="2.0"/><circle cx="113.4" cy="182.1" r="2.0"/><circle cx="123.8" cy="153.2" r="2.0"/><circle cx="117.9" cy="167.1" r="2.0"/><circle cx="127.9" cy="179.3" r="2.0"/><circle cx="113.1" cy="171.3" r="2.0"/><circle cx="118.5" cy="177.4" r="2.0"/><circle cx="128.8" cy="183.6" r="2.0"/><circle cx="125.1" cy="143.3" r="2.0"/><circle cx="119.6" cy="184.7" r="2.0"/><circle cx="124.7" cy="182.7" r="2.0"/><circle cx="125.7" cy="155.3" r="2.0"/><circle cx="114.8" cy="156.9" r="2.0"/><circle cx="114.3" cy="184.6" r="2.0"/><circle cx="126.4" cy="152.0" r="2.0"/><circle cx="116.6" cy="171.9" r="2.0"/><circle cx="114.8" cy="150.2" r="2.0"/><circle cx="112.8" cy="177.8" r="2.0"/><circle cx="125.4" cy="175.3" r="2.0"/><circle cx="122.3" cy="156.0" r="2.0"/><circle cx="128.0" cy="158.3" r="2.0"/><circle cx="115.6" cy="126.0" r="2.0"/><circle cx="116.5" cy="160.1" r="2.0"/><circle cx="118.4" cy="177.8" r="2.0"/><circle cx="119.9" cy="183.7" r="2.0"/><circle cx="129.2" cy="182.4" r="2.0"/><circle cx="124.3" cy="172.6" r="2.0"/><circle cx="125.4" cy="171.7" r="2.0"/><circle cx="119.6" cy="177.5" r="2.0"/><circle cx="124.3" cy="160.5" r="2.0"/><circle cx="117.9" cy="145.9" r="2.0"/><circle cx="124.9" cy="151.3" r="2.0"/><circle cx="119.5" cy="169.7" r="2.0"/><circle cx="114.1" cy="169.9" r="2.0"/><circle cx="117.9" cy="183.0" r="2.0"/><circle cx="113.6" cy="182.5" r="2.0"/><circle cx="124.8" cy="162.4" r="2.0"/><circle cx="116.2" cy="167.8" r="2.0"/><circle cx="126.3" cy="162.0" r="2.0"/><circle cx="116.5" cy="167.6" r="2.0"/><circle cx="119.3" cy="170.0" r="2.0"/><circle cx="115.2" cy="179.2" r="2.0"/><circle cx="123.2" cy="149.2" r="2.0"/><circle cx="116.8" cy="136.8" r="2.0"/><circle cx="121.2" cy="179.3" r="2.0"/><circle cx="117.8" cy="183.7" r="2.0"/><circle cx="120.7" cy="171.0" r="2.0"/><circle cx="122.0" cy="142.1" r="2.0"/><circle cx="122.4" cy="166.8" r="2.0"/><circle cx="118.8" cy="157.4" r="2.0"/><circle cx="128.9" cy="184.8" r="2.0"/><circle cx="114.9" cy="156.8" r="2.0"/><circle cx="116.4" cy="182.7" r="2.0"/><circle cx="114.9" cy="165.7" r="2.0"/><circle cx="120.9" cy="184.4" r="2.0"/><circle cx="117.0" cy="184.7" r="2.0"/><circle cx="116.2" cy="176.2" r="2.0"/><circle cx="117.1" cy="184.8" r="2.0"/><circle cx="118.1" cy="179.8" r="2.0"/><circle cx="118.7" cy="175.3" r="2.0"/><circle cx="113.1" cy="177.8" r="2.0"/><circle cx="124.9" cy="152.5" r="2.0"/><circle cx="112.8" cy="172.7" r="2.0"/><circle cx="127.6" cy="180.1" r="2.0"/><circle cx="116.2" cy="173.9" r="2.0"/><circle cx="127.4" cy="154.3" r="2.0"/><circle cx="121.0" cy="182.5" r="2.0"/><circle cx="114.7" cy="170.2" r="2.0"/><circle cx="122.9" cy="178.0" r="2.0"/><circle cx="123.1" cy="164.9" r="2.0"/><circle cx="119.0" cy="167.6" r="2.0"/><circle cx="113.1" cy="183.5" r="2.0"/><circle cx="127.0" cy="152.5" r="2.0"/><circle cx="115.5" cy="142.9" r="2.0"/><circle cx="115.6" cy="158.7" r="2.0"/><circle cx="116.1" cy="177.2" r="2.0"/><circle cx="126.2" cy="149.9" r="2.0"/><circle cx="119.1" cy="153.0" r="2.0"/><circle cx="117.9" cy="135.9" r="2.0"/><circle cx="123.8" cy="169.6" r="2.0"/><circle cx="119.1" cy="180.1" r="2.0"/><circle cx="125.9" cy="182.9" r="2.0"/><circle cx="115.0" cy="181.2" r="2.0"/><circle cx="123.3" cy="179.0" r="2.0"/><circle cx="121.4" cy="166.8" r="2.0"/><circle cx="125.1" cy="150.6" r="2.0"/><circle cx="121.6" cy="180.6" r="2.0"/><circle cx="116.8" cy="181.5" r="2.0"/><circle cx="114.1" cy="182.0" r="2.0"/><circle cx="127.3" cy="177.1" r="2.0"/><circle cx="114.2" cy="165.8" r="2.0"/><circle cx="122.5" cy="180.4" r="2.0"/><circle cx="113.2" cy="171.4" r="2.0"/><circle cx="122.1" cy="183.0" r="2.0"/><circle cx="114.1" cy="168.5" r="2.0"/><circle cx="116.7" cy="158.5" r="2.0"/><circle cx="121.5" cy="169.0" r="2.0"/><circle cx="128.3" cy="177.4" r="2.0"/><circle cx="119.7" cy="175.8" r="2.0"/><circle cx="126.6" cy="171.0" r="2.0"/><circle cx="121.6" cy="158.7" r="2.0"/><circle cx="123.3" cy="162.4" r="2.0"/><circle cx="127.1" cy="127.9" r="2.0"/><circle cx="116.3" cy="159.4" r="2.0"/><circle cx="120.0" cy="169.9" r="2.0"/><circle cx="125.6" cy="180.1" r="2.0"/><circle cx="124.4" cy="180.4" r="2.0"/><circle cx="119.8" cy="172.9" r="2.0"/><circle cx="124.7" cy="163.0" r="2.0"/><circle cx="117.1" cy="156.2" r="2.0"/><circle cx="120.9" cy="165.1" r="2.0"/><circle cx="120.3" cy="134.7" r="2.0"/><circle cx="113.2" cy="176.9" r="2.0"/><circle cx="121.5" cy="173.5" r="2.0"/><circle cx="114.5" cy="178.2" r="2.0"/><circle cx="114.0" cy="173.0" r="2.0"/><circle cx="120.1" cy="181.5" r="2.0"/><circle cx="121.0" cy="177.2" r="2.0"/><circle cx="119.2" cy="171.4" r="2.0"/><circle cx="113.1" cy="182.3" r="2.0"/><circle cx="128.7" cy="170.2" r="2.0"/><circle cx="118.6" cy="178.9" r="2.0"/><circle cx="125.0" cy="178.0" r="2.0"/><circle cx="125.9" cy="172.7" r="2.0"/><circle cx="115.0" cy="184.7" r="2.0"/><circle cx="118.8" cy="180.7" r="2.0"/><circle cx="119.1" cy="175.7" r="2.0"/><circle cx="120.2" cy="124.8" r="2.0"/><circle cx="128.6" cy="169.6" r="2.0"/><circle cx="122.6" cy="166.5" r="2.0"/><circle cx="118.3" cy="153.5" r="2.0"/><circle cx="128.5" cy="184.1" r="2.0"/><circle cx="122.3" cy="171.2" r="2.0"/><circle cx="125.0" cy="183.6" r="2.0"/><circle cx="123.3" cy="176.5" r="2.0"/><circle cx="127.9" cy="178.9" r="2.0"/><circle cx="117.3" cy="176.6" r="2.0"/><circle cx="116.4" cy="144.9" r="2.0"/><circle cx="120.8" cy="179.2" r="2.0"/><circle cx="116.0" cy="114.5" r="2.0"/><circle cx="125.9" cy="180.6" r="2.0"/><circle cx="119.6" cy="183.4" r="2.0"/><circle cx="124.5" cy="157.6" r="2.0"/><circle cx="114.7" cy="156.8" r="2.0"/><circle cx="118.7" cy="145.6" r="2.0"/><circle cx="120.5" cy="154.9" r="2.0"/><circle cx="120.6" cy="145.3" r="2.0"/><circle cx="115.3" cy="179.5" r="2.0"/><circle cx="113.6" cy="172.6" r="2.0"/><circle cx="127.1" cy="181.6" r="2.0"/><circle cx="127.0" cy="169.6" r="2.0"/><circle cx="120.7" cy="181.9" r="2.0"/><circle cx="114.6" cy="173.6" r="2.0"/><circle cx="127.9" cy="179.4" r="2.0"/><circle cx="121.1" cy="161.9" r="2.0"/><circle cx="126.9" cy="168.1" r="2.0"/><circle cx="122.2" cy="130.1" r="2.0"/><circle cx="127.1" cy="183.9" r="2.0"/><circle cx="116.7" cy="181.6" r="2.0"/><circle cx="121.2" cy="182.2" r="2.0"/><circle cx="120.3" cy="169.3" r="2.0"/><circle cx="115.1" cy="173.5" r="2.0"/><circle cx="121.6" cy="162.3" r="2.0"/><circle cx="126.5" cy="178.2" r="2.0"/><circle cx="126.5" cy="135.1" r="2.0"/><circle cx="119.2" cy="183.5" r="2.0"/><circle cx="117.0" cy="174.2" r="2.0"/><circle cx="127.6" cy="160.6" r="2.0"/><circle cx="121.1" cy="182.1" r="2.0"/><circle cx="126.0" cy="123.9" r="2.0"/><circle cx="114.5" cy="174.1" r="2.0"/><circle cx="121.3" cy="174.0" r="2.0"/><circle cx="115.8" cy="157.4" r="2.0"/><circle cx="129.0" cy="179.0" r="2.0"/><circle cx="122.8" cy="184.6" r="2.0"/><circle cx="125.1" cy="183.0" r="2.0"/><circle cx="128.0" cy="175.0" r="2.0"/><circle cx="127.2" cy="180.3" r="2.0"/><circle cx="113.6" cy="180.2" r="2.0"/><circle cx="114.0" cy="183.2" r="2.0"/><circle cx="128.7" cy="176.1" r="2.0"/><circle cx="124.6" cy="177.0" r="2.0"/><circle cx="121.3" cy="184.2" r="2.0"/><circle cx="114.4" cy="171.0" r="2.0"/><circle cx="120.1" cy="169.4" r="2.0"/><circle cx="126.4" cy="177.7" r="2.0"/><circle cx="114.8" cy="163.9" r="2.0"/><circle cx="113.7" cy="182.8" r="2.0"/><circle cx="123.2" cy="179.4" r="2.0"/><circle cx="127.1" cy="123.4" r="2.0"/><circle cx="114.8" cy="149.3" r="2.0"/><circle cx="125.3" cy="156.9" r="2.0"/><circle cx="129.1" cy="173.4" r="2.0"/><circle cx="114.7" cy="168.6" r="2.0"/><circle cx="114.9" cy="180.5" r="2.0"/><circle cx="123.0" cy="168.0" r="2.0"/><circle cx="113.0" cy="150.1" r="2.0"/><circle cx="128.8" cy="184.6" r="2.0"/><circle cx="117.1" cy="179.4" r="2.0"/><circle cx="114.6" cy="149.0" r="2.0"/><circle cx="127.5" cy="156.8" r="2.0"/><circle cx="122.8" cy="170.1" r="2.0"/><circle cx="122.7" cy="184.7" r="2.0"/><circle cx="125.4" cy="167.9" r="2.0"/><circle cx="114.7" cy="171.9" r="2.0"/><circle cx="123.5" cy="180.3" r="2.0"/><circle cx="114.5" cy="183.3" r="2.0"/><circle cx="125.9" cy="179.7" r="2.0"/><circle cx="118.7" cy="170.7" r="2.0"/><circle cx="122.0" cy="125.8" r="2.0"/><circle cx="122.1" cy="180.0" r="2.0"/><circle cx="118.8" cy="150.4" r="2.0"/><circle cx="122.3" cy="174.7" r="2.0"/><circle cx="115.8" cy="166.7" r="2.0"/><circle cx="118.1" cy="169.3" r="2.0"/><circle cx="124.5" cy="173.4" r="2.0"/><circle cx="121.1" cy="184.4" r="2.0"/><circle cx="122.6" cy="178.1" r="2.0"/><circle cx="120.5" cy="154.2" r="2.0"/><circle cx="117.5" cy="167.1" r="2.0"/><circle cx="121.2" cy="179.5" r="2.0"/><circle cx="116.5" cy="171.3" r="2.0"/><circle cx="121.0" cy="159.0" r="2.0"/><circle cx="117.0" cy="177.0" r="2.0"/><circle cx="127.6" cy="152.6" r="2.0"/><circle cx="117.7" cy="135.3" r="2.0"/><circle cx="123.2" cy="183.5" r="2.0"/><circle cx="126.8" cy="184.4" r="2.0"/><circle cx="118.3" cy="164.6" r="2.0"/><circle cx="124.0" cy="174.4" r="2.0"/><circle cx="118.8" cy="181.7" r="2.0"/><circle cx="124.0" cy="157.3" r="2.0"/><circle cx="114.5" cy="169.2" r="2.0"/><circle cx="117.0" cy="180.4" r="2.0"/><circle cx="123.3" cy="184.2" r="2.0"/><circle cx="128.0" cy="169.7" r="2.0"/><circle cx="127.9" cy="170.4" r="2.0"/><circle cx="121.3" cy="173.6" r="2.0"/><circle cx="120.4" cy="178.9" r="2.0"/><circle cx="120.8" cy="135.7" r="2.0"/><circle cx="118.6" cy="184.8" r="2.0"/><circle cx="123.0" cy="180.9" r="2.0"/><circle cx="120.6" cy="172.1" r="2.0"/><circle cx="124.4" cy="138.2" r="2.0"/><circle cx="113.3" cy="183.2" r="2.0"/><circle cx="122.6" cy="163.4" r="2.0"/><circle cx="121.0" cy="166.0" r="2.0"/><circle cx="120.2" cy="184.2" r="2.0"/><circle cx="122.7" cy="152.7" r="2.0"/><circle cx="114.8" cy="184.0" r="2.0"/><circle cx="121.6" cy="143.0" r="2.0"/><circle cx="124.4" cy="181.6" r="2.0"/><circle cx="125.7" cy="138.8" r="2.0"/><circle cx="126.0" cy="166.4" r="2.0"/><circle cx="120.4" cy="183.2" r="2.0"/><circle cx="118.4" cy="155.2" r="2.0"/><circle cx="127.0" cy="182.0" r="2.0"/><circle cx="112.9" cy="163.1" r="2.0"/><circle cx="121.9" cy="183.6" r="2.0"/><circle cx="122.5" cy="130.1" r="2.0"/><circle cx="114.5" cy="147.7" r="2.0"/><circle cx="115.8" cy="169.5" r="2.0"/><circle cx="115.2" cy="177.6" r="2.0"/><circle cx="113.6" cy="173.7" r="2.0"/><circle cx="123.4" cy="165.8" r="2.0"/><circle cx="124.5" cy="143.0" r="2.0"/><circle cx="127.1" cy="183.4" r="2.0"/><circle cx="128.2" cy="170.9" r="2.0"/><circle cx="114.1" cy="172.8" r="2.0"/><circle cx="115.6" cy="163.2" r="2.0"/><circle cx="127.6" cy="171.0" r="2.0"/><circle cx="118.2" cy="172.7" r="2.0"/><circle cx="124.4" cy="165.5" r="2.0"/><circle cx="117.3" cy="173.8" r="2.0"/><circle cx="124.5" cy="175.1" r="2.0"/><circle cx="115.4" cy="180.2" r="2.0"/><circle cx="123.6" cy="173.0" r="2.0"/><circle cx="117.3" cy="183.6" r="2.0"/><circle cx="118.0" cy="121.5" r="2.0"/><circle cx="117.8" cy="158.5" r="2.0"/><circle cx="120.8" cy="183.2" r="2.0"/><circle cx="125.5" cy="148.6" r="2.0"/><circle cx="124.3" cy="183.9" r="2.0"/><circle cx="120.7" cy="167.6" r="2.0"/><circle cx="121.4" cy="165.4" r="2.0"/><circle cx="124.2" cy="181.2" r="2.0"/><circle cx="117.9" cy="182.3" r="2.0"/><circle cx="122.1" cy="150.9" r="2.0"/><circle cx="124.4" cy="172.1" r="2.0"/><circle cx="119.1" cy="172.7" r="2.0"/><circle cx="113.2" cy="170.5" r="2.0"/><circle cx="113.4" cy="177.1" r="2.0"/><circle cx="123.0" cy="142.4" r="2.0"/><circle cx="126.8" cy="181.7" r="2.0"/><circle cx="126.0" cy="178.9" r="2.0"/><circle cx="122.7" cy="166.1" r="2.0"/><circle cx="117.2" cy="160.8" r="2.0"/><circle cx="121.7" cy="152.8" r="2.0"/><circle cx="126.6" cy="159.6" r="2.0"/><circle cx="119.5" cy="179.6" r="2.0"/><circle cx="114.1" cy="176.8" r="2.0"/><circle cx="124.0" cy="147.7" r="2.0"/><circle cx="121.7" cy="172.8" r="2.0"/><circle cx="113.9" cy="147.1" r="2.0"/><circle cx="124.1" cy="176.9" r="2.0"/><circle cx="121.0" cy="171.2" r="2.0"/><circle cx="116.5" cy="179.5" r="2.0"/><circle cx="118.4" cy="165.1" r="2.0"/><circle cx="126.2" cy="135.5" r="2.0"/><circle cx="118.1" cy="122.3" r="2.0"/><circle cx="114.5" cy="172.0" r="2.0"/><circle cx="114.0" cy="176.9" r="2.0"/><circle cx="128.5" cy="172.4" r="2.0"/><circle cx="118.8" cy="159.2" r="2.0"/><circle cx="128.1" cy="179.1" r="2.0"/><circle cx="126.7" cy="183.8" r="2.0"/><circle cx="113.9" cy="150.4" r="2.0"/><circle cx="122.9" cy="131.2" r="2.0"/><circle cx="119.8" cy="176.0" r="2.0"/><circle cx="121.4" cy="168.1" r="2.0"/><circle cx="127.5" cy="148.8" r="2.0"/><circle cx="112.9" cy="177.8" r="2.0"/><circle cx="123.4" cy="158.0" r="2.0"/><circle cx="114.0" cy="165.9" r="2.0"/><circle cx="127.5" cy="183.4" r="2.0"/><circle cx="120.6" cy="176.8" r="2.0"/><circle cx="117.0" cy="120.4" r="2.0"/><circle cx="113.8" cy="166.9" r="2.0"/><circle cx="124.9" cy="170.2" r="2.0"/><circle cx="125.3" cy="181.8" r="2.0"/><circle cx="125.2" cy="123.3" r="2.0"/><circle cx="128.3" cy="157.0" r="2.0"/><circle cx="121.8" cy="162.4" r="2.0"/><circle cx="126.0" cy="153.9" r="2.0"/><circle cx="123.8" cy="167.2" r="2.0"/><circle cx="118.3" cy="181.3" r="2.0"/><circle cx="126.9" cy="177.8" r="2.0"/><circle cx="117.6" cy="157.8" r="2.0"/><circle cx="113.8" cy="183.7" r="2.0"/><circle cx="114.1" cy="177.7" r="2.0"/><circle cx="119.2" cy="131.5" r="2.0"/><circle cx="126.8" cy="176.1" r="2.0"/><circle cx="123.1" cy="171.3" r="2.0"/><circle cx="120.3" cy="174.5" r="2.0"/><circle cx="118.1" cy="128.8" r="2.0"/><circle cx="120.6" cy="171.5" r="2.0"/><circle cx="115.2" cy="182.1" r="2.0"/><circle cx="125.9" cy="172.2" r="2.0"/><circle cx="113.8" cy="174.7" r="2.0"/><circle cx="116.3" cy="136.2" r="2.0"/><circle cx="113.5" cy="146.5" r="2.0"/><circle cx="115.2" cy="166.2" r="2.0"/><circle cx="119.7" cy="179.4" r="2.0"/><circle cx="119.9" cy="159.8" r="2.0"/><circle cx="119.4" cy="175.2" r="2.0"/><circle cx="117.4" cy="171.7" r="2.0"/><circle cx="117.0" cy="130.4" r="2.0"/><circle cx="121.8" cy="182.3" r="2.0"/><circle cx="124.6" cy="177.1" r="2.0"/><circle cx="123.9" cy="184.1" r="2.0"/><circle cx="128.0" cy="176.7" r="2.0"/><circle cx="119.9" cy="178.5" r="2.0"/><circle cx="121.5" cy="178.0" r="2.0"/><circle cx="123.8" cy="178.9" r="2.0"/><circle cx="124.4" cy="175.4" r="2.0"/><circle cx="120.3" cy="178.7" r="2.0"/><circle cx="124.6" cy="170.3" r="2.0"/><circle cx="119.8" cy="166.0" r="2.0"/><circle cx="114.6" cy="183.2" r="2.0"/><circle cx="115.8" cy="182.0" r="2.0"/><circle cx="123.7" cy="181.2" r="2.0"/><circle cx="127.7" cy="177.4" r="2.0"/><circle cx="116.8" cy="180.1" r="2.0"/><circle cx="115.2" cy="181.2" r="2.0"/><circle cx="122.3" cy="164.4" r="2.0"/><circle cx="126.1" cy="179.7" r="2.0"/><circle cx="119.8" cy="164.8" r="2.0"/><circle cx="123.6" cy="168.2" r="2.0"/><circle cx="114.3" cy="174.5" r="2.0"/><circle cx="128.3" cy="176.7" r="2.0"/><circle cx="123.3" cy="176.5" r="2.0"/><circle cx="125.5" cy="183.2" r="2.0"/><circle cx="118.9" cy="149.3" r="2.0"/><circle cx="121.2" cy="176.5" r="2.0"/><circle cx="116.2" cy="179.6" r="2.0"/><circle cx="124.1" cy="182.4" r="2.0"/><circle cx="128.5" cy="172.1" r="2.0"/><circle cx="125.8" cy="126.4" r="2.0"/><circle cx="125.4" cy="133.4" r="2.0"/><circle cx="114.9" cy="184.4" r="2.0"/><circle cx="125.8" cy="118.6" r="2.0"/><circle cx="123.0" cy="167.8" r="2.0"/><circle cx="119.8" cy="174.6" r="2.0"/><circle cx="121.8" cy="182.0" r="2.0"/><circle cx="114.8" cy="179.1" r="2.0"/><circle cx="122.2" cy="148.5" r="2.0"/><circle cx="117.6" cy="147.7" r="2.0"/><circle cx="117.3" cy="169.5" r="2.0"/><circle cx="116.2" cy="153.2" r="2.0"/><circle cx="121.9" cy="166.3" r="2.0"/><circle cx="114.1" cy="177.8" r="2.0"/><circle cx="121.4" cy="172.9" r="2.0"/><circle cx="116.1" cy="154.5" r="2.0"/><circle cx="117.8" cy="181.2" r="2.0"/><circle cx="116.6" cy="156.0" r="2.0"/><circle cx="113.3" cy="166.9" r="2.0"/><circle cx="124.4" cy="183.3" r="2.0"/><circle cx="114.6" cy="172.6" r="2.0"/><circle cx="128.2" cy="173.4" r="2.0"/><circle cx="121.9" cy="176.0" r="2.0"/><circle cx="121.1" cy="175.1" r="2.0"/><circle cx="127.3" cy="184.0" r="2.0"/><circle cx="118.5" cy="169.4" r="2.0"/><circle cx="115.9" cy="178.9" r="2.0"/><circle cx="125.4" cy="136.5" r="2.0"/><circle cx="122.7" cy="176.3" r="2.0"/><circle cx="116.1" cy="170.5" r="2.0"/><circle cx="124.9" cy="184.2" r="2.0"/><circle cx="122.1" cy="156.5" r="2.0"/><circle cx="115.6" cy="163.2" r="2.0"/><circle cx="123.1" cy="156.4" r="2.0"/><circle cx="127.1" cy="135.6" r="2.0"/><circle cx="121.6" cy="133.4" r="2.0"/><circle cx="126.7" cy="163.4" r="2.0"/><circle cx="125.5" cy="141.3" r="2.0"/><circle cx="125.3" cy="162.1" r="2.0"/><circle cx="118.0" cy="141.9" r="2.0"/><circle cx="116.3" cy="145.2" r="2.0"/><circle cx="118.0" cy="137.0" r="2.0"/><circle cx="117.4" cy="131.4" r="2.0"/><circle cx="122.7" cy="132.0" r="2.0"/><circle cx="126.6" cy="131.0" r="2.0"/><circle cx="123.5" cy="150.3" r="2.0"/><circle cx="126.0" cy="145.6" r="2.0"/><circle cx="124.4" cy="125.7" r="2.0"/><circle cx="118.5" cy="136.2" r="2.0"/><circle cx="126.8" cy="121.9" r="2.0"/><circle cx="119.4" cy="119.9" r="2.0"/><circle cx="123.4" cy="125.9" r="2.0"/><circle cx="124.9" cy="125.0" r="2.0"/><circle cx="120.1" cy="142.9" r="2.0"/><circle cx="123.1" cy="127.1" r="2.0"/><circle cx="125.7" cy="139.0" r="2.0"/><circle cx="115.5" cy="162.5" r="2.0"/><circle cx="116.5" cy="142.4" r="2.0"/><circle cx="116.4" cy="124.9" r="2.0"/><circle cx="118.0" cy="123.1" r="2.0"/><circle cx="124.3" cy="157.8" r="2.0"/><circle cx="120.2" cy="132.6" r="2.0"/><circle cx="121.9" cy="136.3" r="2.0"/><circle cx="121.4" cy="120.0" r="2.0"/><circle cx="120.9" cy="139.0" r="2.0"/><circle cx="123.5" cy="144.9" r="2.0"/><circle cx="123.6" cy="158.8" r="2.0"/><circle cx="124.4" cy="120.9" r="2.0"/><circle cx="119.6" cy="138.8" r="2.0"/><circle cx="116.5" cy="159.5" r="2.0"/><circle cx="125.8" cy="139.0" r="2.0"/><circle cx="117.6" cy="123.8" r="2.0"/><circle cx="124.9" cy="129.2" r="2.0"/><circle cx="125.5" cy="141.7" r="2.0"/><circle cx="119.4" cy="155.3" r="2.0"/><circle cx="124.0" cy="140.1" r="2.0"/><circle cx="119.0" cy="143.2" r="2.0"/><circle cx="120.0" cy="123.8" r="2.0"/><circle cx="118.0" cy="144.5" r="2.0"/><circle cx="123.7" cy="141.6" r="2.0"/><circle cx="123.2" cy="147.2" r="2.0"/><circle cx="115.5" cy="141.1" r="2.0"/><circle cx="118.8" cy="119.3" r="2.0"/><circle cx="126.7" cy="138.7" r="2.0"/><circle cx="116.1" cy="154.4" r="2.0"/><circle cx="117.2" cy="154.5" r="2.0"/><circle cx="121.5" cy="124.5" r="2.0"/><circle cx="118.6" cy="162.1" r="2.0"/><circle cx="117.4" cy="140.3" r="2.0"/><circle cx="126.1" cy="149.8" r="2.0"/><circle cx="118.1" cy="143.4" r="2.0"/><circle cx="116.7" cy="136.3" r="2.0"/><circle cx="123.1" cy="139.9" r="2.0"/><circle cx="121.9" cy="159.9" r="2.0"/><circle cx="124.2" cy="149.6" r="2.0"/><circle cx="126.1" cy="135.4" r="2.0"/><circle cx="117.6" cy="135.8" r="2.0"/><circle cx="123.7" cy="155.4" r="2.0"/><circle cx="116.1" cy="126.4" r="2.0"/><circle cx="118.7" cy="144.7" r="2.0"/><circle cx="125.7" cy="142.3" r="2.0"/><circle cx="124.2" cy="138.0" r="2.0"/><circle cx="118.7" cy="128.5" r="2.0"/><circle cx="119.8" cy="135.3" r="2.0"/><circle cx="121.7" cy="142.0" r="2.0"/><circle cx="117.4" cy="133.0" r="2.0"/><circle cx="117.3" cy="125.1" r="2.0"/><circle cx="125.4" cy="149.5" r="2.0"/><circle cx="119.7" cy="118.3" r="2.0"/><circle cx="115.8" cy="119.8" r="2.0"/><circle cx="117.8" cy="119.7" r="2.0"/><circle cx="124.4" cy="162.4" r="2.0"/><circle cx="124.3" cy="156.5" r="2.0"/><circle cx="116.9" cy="163.7" r="2.0"/><circle cx="116.4" cy="147.4" r="2.0"/><circle cx="119.5" cy="142.1" r="2.0"/><circle cx="121.2" cy="129.7" r="2.0"/><circle cx="125.4" cy="119.2" r="2.0"/><circle cx="126.2" cy="156.1" r="2.0"/><circle cx="122.1" cy="122.5" r="2.0"/><circle cx="117.4" cy="139.6" r="2.0"/><circle cx="118.0" cy="149.1" r="2.0"/><circle cx="122.7" cy="154.9" r="2.0"/><circle cx="124.5" cy="148.9" r="2.0"/><circle cx="125.2" cy="137.4" r="2.0"/><circle cx="125.4" cy="159.9" r="2.0"/><circle cx="122.9" cy="140.4" r="2.0"/><circle cx="123.6" cy="152.9" r="2.0"/><circle cx="123.9" cy="145.2" r="2.0"/><circle cx="117.0" cy="136.9" r="2.0"/><circle cx="124.3" cy="150.0" r="2.0"/><circle cx="122.9" cy="163.3" r="2.0"/><circle cx="123.8" cy="138.7" r="2.0"/><circle cx="121.0" cy="148.7" r="2.0"/><circle cx="124.3" cy="141.9" r="2.0"/><circle cx="121.4" cy="160.6" r="2.0"/><circle cx="122.4" cy="152.0" r="2.0"/><circle cx="117.8" cy="152.0" r="2.0"/><circle cx="126.0" cy="153.3" r="2.0"/><circle cx="125.8" cy="147.1" r="2.0"/><circle cx="118.6" cy="129.9" r="2.0"/><circle cx="115.5" cy="138.3" r="2.0"/><circle cx="122.9" cy="120.7" r="2.0"/><circle cx="121.5" cy="158.8" r="2.0"/><circle cx="123.3" cy="141.0" r="2.0"/><circle cx="126.1" cy="150.6" r="2.0"/><circle cx="116.2" cy="135.1" r="2.0"/><circle cx="125.9" cy="126.0" r="2.0"/><circle cx="123.8" cy="149.9" r="2.0"/><circle cx="125.8" cy="124.1" r="2.0"/><circle cx="125.3" cy="160.7" r="2.0"/><circle cx="124.9" cy="152.5" r="2.0"/><circle cx="120.9" cy="132.1" r="2.0"/><circle cx="124.9" cy="122.2" r="2.0"/><circle cx="126.7" cy="117.9" r="2.0"/><circle cx="124.1" cy="137.4" r="2.0"/><circle cx="120.1" cy="132.9" r="2.0"/><circle cx="121.4" cy="140.9" r="2.0"/><circle cx="118.5" cy="154.0" r="2.0"/><circle cx="125.4" cy="124.8" r="2.0"/><circle cx="123.5" cy="131.6" r="2.0"/><circle cx="122.2" cy="140.3" r="2.0"/><circle cx="115.5" cy="133.1" r="2.0"/><circle cx="126.9" cy="143.4" r="2.0"/><circle cx="120.9" cy="154.5" r="2.0"/><circle cx="118.4" cy="160.4" r="2.0"/><circle cx="115.8" cy="125.8" r="2.0"/><circle cx="124.8" cy="126.9" r="2.0"/><circle cx="118.4" cy="123.7" r="2.0"/><circle cx="119.8" cy="120.8" r="2.0"/><circle cx="126.6" cy="143.1" r="2.0"/><circle cx="123.4" cy="138.7" r="2.0"/><circle cx="115.4" cy="158.9" r="2.0"/><circle cx="116.6" cy="151.7" r="2.0"/><circle cx="118.3" cy="125.8" r="2.0"/><circle cx="123.4" cy="119.6" r="2.0"/><circle cx="123.8" cy="155.1" r="2.0"/><circle cx="121.6" cy="149.2" r="2.0"/><circle cx="125.2" cy="160.5" r="2.0"/><circle cx="122.3" cy="127.5" r="2.0"/><circle cx="119.4" cy="132.0" r="2.0"/><circle cx="119.2" cy="158.1" r="2.0"/><circle cx="122.0" cy="129.7" r="2.0"/><circle cx="118.2" cy="157.8" r="2.0"/><circle cx="115.6" cy="142.0" r="2.0"/><circle cx="120.7" cy="161.9" r="2.0"/><circle cx="125.9" cy="157.8" r="2.0"/><circle cx="124.3" cy="158.0" r="2.0"/><circle cx="119.1" cy="127.1" r="2.0"/><circle cx="127.1" cy="138.8" r="2.0"/><circle cx="120.0" cy="135.4" r="2.0"/><circle cx="118.5" cy="118.7" r="2.0"/><circle cx="119.1" cy="119.7" r="2.0"/><circle cx="119.1" cy="144.4" r="2.0"/><circle cx="125.8" cy="133.8" r="2.0"/><circle cx="117.5" cy="132.0" r="2.0"/><circle cx="123.9" cy="118.0" r="2.0"/><circle cx="125.4" cy="140.5" r="2.0"/><circle cx="122.5" cy="159.0" r="2.0"/><circle cx="124.6" cy="127.5" r="2.0"/><circle cx="116.1" cy="132.8" r="2.0"/><circle cx="118.6" cy="141.8" r="2.0"/><circle cx="120.1" cy="135.8" r="2.0"/><circle cx="121.8" cy="142.8" r="2.0"/><circle cx="125.9" cy="136.7" r="2.0"/><circle cx="118.6" cy="150.9" r="2.0"/><circle cx="116.7" cy="155.4" r="2.0"/><circle cx="126.3" cy="124.6" r="2.0"/><circle cx="119.6" cy="158.2" r="2.0"/><circle cx="125.6" cy="122.0" r="2.0"/><circle cx="127.1" cy="118.6" r="2.0"/><circle cx="116.2" cy="149.9" r="2.0"/><circle cx="121.3" cy="152.4" r="2.0"/><circle cx="118.4" cy="163.3" r="2.0"/><circle cx="123.5" cy="142.1" r="2.0"/><circle cx="116.8" cy="156.8" r="2.0"/><circle cx="116.5" cy="148.7" r="2.0"/><circle cx="116.6" cy="158.3" r="2.0"/><circle cx="125.8" cy="126.9" r="2.0"/><circle cx="124.9" cy="162.0" r="2.0"/><circle cx="123.1" cy="124.9" r="2.0"/><circle cx="125.1" cy="150.1" r="2.0"/><circle cx="115.9" cy="160.2" r="2.0"/><circle cx="118.0" cy="119.7" r="2.0"/><circle cx="124.3" cy="121.5" r="2.0"/><circle cx="116.5" cy="161.8" r="2.0"/><circle cx="117.1" cy="134.0" r="2.0"/><circle cx="123.3" cy="133.1" r="2.0"/><circle cx="121.0" cy="153.3" r="2.0"/><circle cx="125.7" cy="154.2" r="2.0"/><circle cx="123.6" cy="134.7" r="2.0"/><circle cx="116.1" cy="135.2" r="2.0"/><circle cx="124.6" cy="122.9" r="2.0"/><circle cx="122.4" cy="140.1" r="2.0"/><circle cx="124.3" cy="141.2" r="2.0"/><circle cx="118.7" cy="139.3" r="2.0"/><circle cx="117.9" cy="140.0" r="2.0"/><circle cx="121.5" cy="163.8" r="2.0"/><circle cx="123.9" cy="123.6" r="2.0"/><circle cx="121.4" cy="154.3" r="2.0"/><circle cx="122.2" cy="136.9" r="2.0"/><circle cx="121.4" cy="142.7" r="2.0"/><circle cx="125.8" cy="132.1" r="2.0"/><circle cx="124.7" cy="140.1" r="2.0"/><circle cx="116.8" cy="132.4" r="2.0"/><circle cx="119.1" cy="152.0" r="2.0"/><circle cx="121.2" cy="147.6" r="2.0"/><circle cx="127.2" cy="150.3" r="2.0"/><circle cx="119.8" cy="129.9" r="2.0"/><circle cx="126.3" cy="131.5" r="2.0"/><circle cx="122.8" cy="156.6" r="2.0"/><circle cx="119.8" cy="119.5" r="2.0"/><circle cx="124.9" cy="123.3" r="2.0"/><circle cx="117.1" cy="149.2" r="2.0"/><circle cx="120.3" cy="126.6" r="2.0"/><circle cx="120.9" cy="147.7" r="2.0"/><circle cx="126.0" cy="130.2" r="2.0"/><circle cx="124.5" cy="121.5" r="2.0"/><circle cx="119.8" cy="155.8" r="2.0"/><circle cx="117.8" cy="163.7" r="2.0"/><circle cx="117.5" cy="148.2" r="2.0"/><circle cx="116.9" cy="141.9" r="2.0"/><circle cx="120.2" cy="133.7" r="2.0"/><circle cx="123.5" cy="152.5" r="2.0"/><circle cx="115.7" cy="148.8" r="2.0"/><circle cx="124.3" cy="125.1" r="2.0"/><circle cx="118.9" cy="123.2" r="2.0"/><circle cx="123.6" cy="151.8" r="2.0"/><circle cx="126.8" cy="157.2" r="2.0"/><circle cx="121.9" cy="133.7" r="2.0"/><circle cx="118.7" cy="161.6" r="2.0"/><circle cx="127.0" cy="144.4" r="2.0"/><circle cx="122.4" cy="157.3" r="2.0"/><circle cx="126.9" cy="160.4" r="2.0"/><circle cx="125.0" cy="129.3" r="2.0"/><circle cx="117.5" cy="129.2" r="2.0"/><circle cx="115.9" cy="152.8" r="2.0"/><circle cx="116.3" cy="138.4" r="2.0"/><circle cx="117.4" cy="155.3" r="2.0"/><circle cx="124.7" cy="121.3" r="2.0"/><circle cx="126.9" cy="150.7" r="2.0"/><circle cx="117.0" cy="156.6" r="2.0"/><circle cx="124.9" cy="146.3" r="2.0"/><circle cx="124.7" cy="159.4" r="2.0"/><circle cx="124.8" cy="138.8" r="2.0"/><circle cx="115.9" cy="148.4" r="2.0"/><circle cx="123.9" cy="159.4" r="2.0"/><circle cx="124.4" cy="140.5" r="2.0"/><circle cx="118.7" cy="154.8" r="2.0"/><circle cx="125.5" cy="154.2" r="2.0"/><circle cx="117.2" cy="131.4" r="2.0"/><circle cx="123.8" cy="90.6" r="2.0"/><circle cx="121.9" cy="110.1" r="2.0"/><circle cx="120.6" cy="89.0" r="2.0"/><circle cx="117.8" cy="112.6" r="2.0"/><circle cx="119.0" cy="119.0" r="2.0"/><circle cx="118.5" cy="120.4" r="2.0"/><circle cx="123.0" cy="85.9" r="2.0"/><circle cx="119.9" cy="99.2" r="2.0"/><circle cx="124.3" cy="93.7" r="2.0"/><circle cx="119.7" cy="99.3" r="2.0"/><circle cx="120.7" cy="88.8" r="2.0"/><circle cx="121.3" cy="98.0" r="2.0"/><circle cx="120.1" cy="103.6" r="2.0"/><circle cx="123.3" cy="111.6" r="2.0"/><circle cx="121.2" cy="107.8" r="2.0"/><circle cx="116.4" cy="101.8" r="2.0"/><circle cx="123.2" cy="85.6" r="2.0"/><circle cx="123.3" cy="89.8" r="2.0"/><circle cx="120.2" cy="88.3" r="2.0"/><circle cx="122.2" cy="80.8" r="2.0"/><circle cx="120.0" cy="95.5" r="2.0"/><circle cx="119.5" cy="116.1" r="2.0"/><circle cx="117.2" cy="97.1" r="2.0"/><circle cx="124.0" cy="93.2" r="2.0"/><circle cx="117.7" cy="89.4" r="2.0"/><circle cx="119.6" cy="115.2" r="2.0"/><circle cx="118.5" cy="79.4" r="2.0"/><circle cx="119.7" cy="112.9" r="2.0"/><circle cx="120.2" cy="117.0" r="2.0"/><circle cx="117.7" cy="93.1" r="2.0"/><circle cx="117.3" cy="110.2" r="2.0"/><circle cx="121.6" cy="94.2" r="2.0"/><circle cx="124.7" cy="83.0" r="2.0"/><circle cx="123.4" cy="120.2" r="2.0"/><circle cx="120.4" cy="94.8" r="2.0"/><circle cx="121.1" cy="103.4" r="2.0"/><circle cx="121.9" cy="93.0" r="2.0"/><circle cx="120.6" cy="99.6" r="2.0"/><circle cx="124.9" cy="87.7" r="2.0"/><circle cx="124.6" cy="81.7" r="2.0"/><circle cx="121.6" cy="106.6" r="2.0"/><circle cx="122.5" cy="111.7" r="2.0"/><circle cx="119.8" cy="103.4" r="2.0"/><circle cx="116.0" cy="97.6" r="2.0"/><circle cx="118.2" cy="81.1" r="2.0"/><circle cx="122.8" cy="120.8" r="2.0"/><circle cx="122.5" cy="103.4" r="2.0"/><circle cx="121.4" cy="87.2" r="2.0"/><circle cx="120.4" cy="116.0" r="2.0"/><circle cx="124.0" cy="98.9" r="2.0"/><circle cx="124.0" cy="119.5" r="2.0"/><circle cx="123.5" cy="104.0" r="2.0"/><circle cx="119.0" cy="117.0" r="2.0"/><circle cx="121.6" cy="79.2" r="2.0"/><circle cx="121.6" cy="118.8" r="2.0"/><circle cx="122.1" cy="97.9" r="2.0"/><circle cx="121.5" cy="80.8" r="2.0"/><circle cx="120.1" cy="98.4" r="2.0"/><circle cx="124.9" cy="105.9" r="2.0"/><circle cx="120.7" cy="95.7" r="2.0"/><circle cx="118.6" cy="110.1" r="2.0"/><circle cx="122.4" cy="105.0" r="2.0"/><circle cx="123.3" cy="97.3" r="2.0"/><circle cx="122.6" cy="79.7" r="2.0"/><circle cx="117.4" cy="104.2" r="2.0"/><circle cx="121.1" cy="87.0" r="2.0"/><circle cx="118.6" cy="90.2" r="2.0"/><circle cx="123.8" cy="112.5" r="2.0"/><circle cx="122.8" cy="95.1" r="2.0"/><circle cx="121.4" cy="113.5" r="2.0"/><circle cx="117.5" cy="87.4" r="2.0"/><circle cx="119.1" cy="31.3" r="2.0"/><circle cx="119.6" cy="26.5" r="2.0"/><circle cx="119.1" cy="48.5" r="2.0"/><circle cx="119.0" cy="59.4" r="2.0"/><circle cx="116.8" cy="32.7" r="2.0"/><circle cx="119.3" cy="46.3" r="2.0"/><circle cx="118.4" cy="37.9" r="2.0"/><circle cx="118.3" cy="54.5" r="2.0"/><circle cx="118.4" cy="49.0" r="2.0"/><circle cx="118.0" cy="51.5" r="2.0"/><circle cx="117.7" cy="25.2" r="2.0"/><circle cx="118.1" cy="25.8" r="2.0"/><circle cx="119.4" cy="44.7" r="2.0"/><circle cx="117.5" cy="58.1" r="2.0"/><circle cx="118.4" cy="80.6" r="2.0"/><circle cx="118.6" cy="77.4" r="2.0"/><circle cx="118.4" cy="29.8" r="2.0"/><circle cx="117.2" cy="51.9" r="2.0"/><circle cx="119.2" cy="29.9" r="2.0"/><circle cx="119.0" cy="59.4" r="2.0"/><circle cx="117.5" cy="72.8" r="2.0"/><circle cx="117.6" cy="34.5" r="2.0"/><circle cx="117.9" cy="86.0" r="2.0"/><circle cx="117.7" cy="61.2" r="2.0"/><circle cx="117.7" cy="53.2" r="2.0"/><circle cx="120.3" cy="65.4" r="2.0"/><circle cx="117.9" cy="26.0" r="2.0"/><circle cx="119.0" cy="51.8" r="2.0"/><circle cx="117.9" cy="75.8" r="2.0"/><circle cx="118.3" cy="38.8" r="2.0"/><circle cx="117.4" cy="28.3" r="2.0"/><circle cx="123.0" cy="52.8" r="2.0"/><circle cx="123.0" cy="80.2" r="2.0"/><circle cx="123.4" cy="76.9" r="2.0"/><circle cx="123.6" cy="24.5" r="2.0"/><circle cx="123.4" cy="60.3" r="2.0"/><circle cx="123.8" cy="84.9" r="2.0"/><circle cx="123.3" cy="74.5" r="2.0"/><circle cx="123.4" cy="47.0" r="2.0"/><circle cx="123.7" cy="41.9" r="2.0"/><circle cx="123.6" cy="50.6" r="2.0"/><circle cx="123.1" cy="88.1" r="2.0"/><circle cx="123.6" cy="65.7" r="2.0"/><circle cx="123.1" cy="23.6" r="2.0"/><circle cx="123.5" cy="66.5" r="2.0"/><circle cx="124.1" cy="36.7" r="2.0"/><circle cx="122.8" cy="56.5" r="2.0"/><circle cx="122.6" cy="81.1" r="2.0"/><circle cx="123.6" cy="74.1" r="2.0"/><circle cx="124.2" cy="59.1" r="2.0"/><circle cx="123.6" cy="26.1" r="2.0"/><circle cx="124.1" cy="56.3" r="2.0"/><circle cx="123.4" cy="81.9" r="2.0"/><circle cx="66.6" cy="168.8" r="2.0"/><circle cx="67.9" cy="169.6" r="2.0"/><circle cx="69.2" cy="170.4" r="2.0"/><circle cx="70.1" cy="171.2" r="2.0"/><circle cx="174.5" cy="167.2" r="2.0"/><circle cx="173.2" cy="168.5" r="2.0"/><circle cx="171.9" cy="169.6" r="2.0"/><circle cx="170.7" cy="170.7" r="2.0"/><circle cx="116.7" cy="24.8" r="2.0"/><circle cx="125.3" cy="24.8" r="2.0"/><circle cx="122.7" cy="24.8" r="2.0"/></g>
<g fill="#2b2bef"><circle cx="40.3" cy="155.7" r="2.0"/><circle cx="41.6" cy="156.3" r="2.0"/><circle cx="64.9" cy="117.6" r="2.0"/><circle cx="71.3" cy="124.8" r="2.0"/><circle cx="68.8" cy="132.0" r="2.0"/><circle cx="69.6" cy="139.2" r="2.0"/><circle cx="88.0" cy="139.4" r="2.0"/><circle cx="83.3" cy="147.4" r="2.0"/><circle cx="95.7" cy="144.0" r="2.0"/><circle cx="107.5" cy="135.7" r="2.0"/><circle cx="108.0" cy="145.6" r="2.0"/><circle cx="110.8" cy="70.7" r="2.0"/><circle cx="110.8" cy="102.4" r="2.0"/><circle cx="111.9" cy="102.4" r="2.0"/><circle cx="109.8" cy="114.4" r="2.0"/><circle cx="111.5" cy="116.8" r="2.0"/><circle cx="110.2" cy="138.4" r="2.0"/><circle cx="111.5" cy="149.6" r="2.0"/><circle cx="101.1" cy="149.6" r="2.0"/><circle cx="92.5" cy="156.8" r="2.0"/><circle cx="87.3" cy="144.8" r="2.0"/><circle cx="95.1" cy="148.0" r="2.0"/><circle cx="82.1" cy="151.2" r="2.0"/><circle cx="107.2" cy="141.6" r="2.0"/><circle cx="73.9" cy="160.7" r="2.0"/><circle cx="72.6" cy="159.2" r="2.0"/><circle cx="68.9" cy="152.8" r="2.0"/><circle cx="75.5" cy="163.2" r="2.0"/><circle cx="74.0" cy="155.7" r="2.0"/><circle cx="75.1" cy="160.7" r="2.0"/><circle cx="69.0" cy="146.4" r="2.0"/><circle cx="72.8" cy="162.7" r="2.0"/><circle cx="74.8" cy="156.1" r="2.0"/><circle cx="76.8" cy="160.3" r="2.0"/><circle cx="76.1" cy="161.2" r="2.0"/><circle cx="72.8" cy="157.9" r="2.0"/><circle cx="77.0" cy="160.8" r="2.0"/><circle cx="71.2" cy="153.4" r="2.0"/><circle cx="71.1" cy="145.4" r="2.0"/><circle cx="70.6" cy="152.8" r="2.0"/><circle cx="72.5" cy="161.7" r="2.0"/><circle cx="70.0" cy="145.1" r="2.0"/><circle cx="72.1" cy="157.3" r="2.0"/><circle cx="70.3" cy="148.9" r="2.0"/><circle cx="77.2" cy="162.6" r="2.0"/><circle cx="73.6" cy="155.5" r="2.0"/><circle cx="72.1" cy="154.0" r="2.0"/><circle cx="71.1" cy="153.8" r="2.0"/><circle cx="75.1" cy="159.6" r="2.0"/><circle cx="74.5" cy="157.4" r="2.0"/><circle cx="74.1" cy="157.4" r="2.0"/><circle cx="70.9" cy="152.1" r="2.0"/><circle cx="70.0" cy="149.3" r="2.0"/><circle cx="70.6" cy="154.8" r="2.0"/><circle cx="67.2" cy="148.3" r="2.0"/><circle cx="71.8" cy="158.3" r="2.0"/><circle cx="70.2" cy="146.8" r="2.0"/><circle cx="71.1" cy="151.3" r="2.0"/><circle cx="71.2" cy="152.0" r="2.0"/><circle cx="73.3" cy="158.1" r="2.0"/><circle cx="73.8" cy="161.8" r="2.0"/><circle cx="73.2" cy="151.7" r="2.0"/><circle cx="84.9" cy="160.0" r="2.0"/><circle cx="101.6" cy="162.4" r="2.0"/><circle cx="77.1" cy="162.0" r="2.0"/><circle cx="103.9" cy="158.2" r="2.0"/><circle cx="106.9" cy="160.9" r="2.0"/><circle cx="96.4" cy="161.5" r="2.0"/><circle cx="105.8" cy="162.0" r="2.0"/><circle cx="85.7" cy="160.1" r="2.0"/><circle cx="103.0" cy="159.1" r="2.0"/><circle cx="109.5" cy="162.9" r="2.0"/><circle cx="76.9" cy="159.9" r="2.0"/><circle cx="105.9" cy="161.0" r="2.0"/><circle cx="96.5" cy="163.1" r="2.0"/><circle cx="109.6" cy="160.4" r="2.0"/><circle cx="107.8" cy="162.4" r="2.0"/><circle cx="79.4" cy="162.3" r="2.0"/><circle cx="77.0" cy="161.8" r="2.0"/><circle cx="106.4" cy="162.7" r="2.0"/><circle cx="99.0" cy="160.8" r="2.0"/><circle cx="87.4" cy="160.8" r="2.0"/><circle cx="93.4" cy="162.9" r="2.0"/><circle cx="82.5" cy="161.6" r="2.0"/><circle cx="89.3" cy="162.3" r="2.0"/><circle cx="77.7" cy="159.9" r="2.0"/><circle cx="101.0" cy="159.9" r="2.0"/><circle cx="103.8" cy="159.9" r="2.0"/><circle cx="76.4" cy="162.2" r="2.0"/><circle cx="102.8" cy="163.0" r="2.0"/><circle cx="82.2" cy="162.7" r="2.0"/><circle cx="100.5" cy="161.2" r="2.0"/><circle cx="87.1" cy="160.6" r="2.0"/><circle cx="86.9" cy="162.5" r="2.0"/><circle cx="107.6" cy="162.3" r="2.0"/><circle cx="95.3" cy="160.1" r="2.0"/><circle cx="109.3" cy="160.2" r="2.0"/><circle cx="93.9" cy="161.1" r="2.0"/><circle cx="101.8" cy="160.9" r="2.0"/><circle cx="100.6" cy="162.7" r="2.0"/><circle cx="94.5" cy="162.3" r="2.0"/><circle cx="104.6" cy="162.8" r="2.0"/><circle cx="110.3" cy="161.7" r="2.0"/><circle cx="110.8" cy="161.3" r="2.0"/><circle cx="79.9" cy="162.3" r="2.0"/><circle cx="104.6" cy="162.7" r="2.0"/><circle cx="102.7" cy="159.6" r="2.0"/><circle cx="76.8" cy="162.0" r="2.0"/><circle cx="98.6" cy="160.1" r="2.0"/><circle cx="89.7" cy="162.0" r="2.0"/><circle cx="108.8" cy="157.6" r="2.0"/><circle cx="107.0" cy="152.4" r="2.0"/><circle cx="108.0" cy="145.7" r="2.0"/><circle cx="111.0" cy="145.3" r="2.0"/><circle cx="109.1" cy="157.3" r="2.0"/><circle cx="108.7" cy="151.1" r="2.0"/><circle cx="110.0" cy="139.3" r="2.0"/><circle cx="107.2" cy="151.3" r="2.0"/><circle cx="109.3" cy="145.4" r="2.0"/><circle cx="111.4" cy="143.9" r="2.0"/><circle cx="110.0" cy="144.4" r="2.0"/><circle cx="110.2" cy="141.9" r="2.0"/></g>
<g fill="#e8274b"><circle cx="140.4" cy="42.4" r="2.0"/><circle cx="132.0" cy="50.4" r="2.0"/><circle cx="132.0" cy="98.4" r="2.0"/><circle cx="179.0" cy="108.8" r="2.0"/><circle cx="130.3" cy="127.2" r="2.0"/><circle cx="130.5" cy="128.8" r="2.0"/><circle cx="172.8" cy="132.3" r="2.0"/><circle cx="203.0" cy="153.9" r="2.0"/><circle cx="197.9" cy="157.6" r="2.0"/><circle cx="169.4" cy="140.0" r="2.0"/><circle cx="171.1" cy="143.2" r="2.0"/><circle cx="171.9" cy="146.4" r="2.0"/><circle cx="163.3" cy="148.0" r="2.0"/><circle cx="156.4" cy="147.2" r="2.0"/><circle cx="149.5" cy="151.2" r="2.0"/><circle cx="132.2" cy="143.2" r="2.0"/><circle cx="134.0" cy="144.8" r="2.0"/><circle cx="140.0" cy="154.4" r="2.0"/><circle cx="152.9" cy="152.8" r="2.0"/><circle cx="159.0" cy="149.6" r="2.0"/><circle cx="166.5" cy="153.9" r="2.0"/><circle cx="166.9" cy="147.4" r="2.0"/><circle cx="171.2" cy="144.4" r="2.0"/><circle cx="169.4" cy="150.5" r="2.0"/><circle cx="164.9" cy="152.1" r="2.0"/><circle cx="167.3" cy="158.2" r="2.0"/><circle cx="169.3" cy="152.2" r="2.0"/><circle cx="167.7" cy="153.1" r="2.0"/><circle cx="168.7" cy="149.9" r="2.0"/><circle cx="163.9" cy="161.8" r="2.0"/><circle cx="166.8" cy="156.8" r="2.0"/><circle cx="167.7" cy="161.1" r="2.0"/><circle cx="165.8" cy="158.5" r="2.0"/><circle cx="166.4" cy="157.8" r="2.0"/><circle cx="165.7" cy="158.8" r="2.0"/><circle cx="169.6" cy="148.3" r="2.0"/><circle cx="165.4" cy="161.1" r="2.0"/><circle cx="165.1" cy="162.3" r="2.0"/><circle cx="166.2" cy="159.4" r="2.0"/><circle cx="169.2" cy="155.0" r="2.0"/><circle cx="168.1" cy="155.8" r="2.0"/><circle cx="166.4" cy="154.7" r="2.0"/><circle cx="171.6" cy="153.1" r="2.0"/><circle cx="169.6" cy="153.2" r="2.0"/><circle cx="167.9" cy="158.5" r="2.0"/><circle cx="166.3" cy="153.0" r="2.0"/><circle cx="165.9" cy="162.5" r="2.0"/><circle cx="168.3" cy="154.8" r="2.0"/><circle cx="167.5" cy="150.5" r="2.0"/><circle cx="170.1" cy="156.9" r="2.0"/><circle cx="167.3" cy="157.6" r="2.0"/><circle cx="164.4" cy="159.1" r="2.0"/><circle cx="168.1" cy="149.2" r="2.0"/><circle cx="172.6" cy="140.6" r="2.0"/><circle cx="168.3" cy="152.8" r="2.0"/><circle cx="166.6" cy="148.0" r="2.0"/><circle cx="168.8" cy="151.9" r="2.0"/><circle cx="164.3" cy="160.0" r="2.0"/><circle cx="164.6" cy="159.1" r="2.0"/><circle cx="164.6" cy="158.5" r="2.0"/><circle cx="133.3" cy="157.8" r="2.0"/><circle cx="150.0" cy="160.5" r="2.0"/><circle cx="164.0" cy="163.0" r="2.0"/><circle cx="162.2" cy="162.8" r="2.0"/><circle cx="144.7" cy="157.6" r="2.0"/><circle cx="135.5" cy="160.0" r="2.0"/><circle cx="132.2" cy="157.1" r="2.0"/><circle cx="157.2" cy="162.4" r="2.0"/><circle cx="138.5" cy="160.6" r="2.0"/><circle cx="157.5" cy="161.0" r="2.0"/><circle cx="155.6" cy="157.0" r="2.0"/><circle cx="156.0" cy="156.4" r="2.0"/><circle cx="158.7" cy="162.8" r="2.0"/><circle cx="159.6" cy="163.2" r="2.0"/><circle cx="151.5" cy="162.3" r="2.0"/><circle cx="142.0" cy="161.6" r="2.0"/><circle cx="142.2" cy="159.4" r="2.0"/><circle cx="137.7" cy="163.1" r="2.0"/><circle cx="133.7" cy="162.7" r="2.0"/><circle cx="134.3" cy="161.4" r="2.0"/><circle cx="144.7" cy="158.9" r="2.0"/><circle cx="149.0" cy="158.6" r="2.0"/><circle cx="146.2" cy="161.5" r="2.0"/><circle cx="131.7" cy="161.2" r="2.0"/><circle cx="133.5" cy="161.5" r="2.0"/><circle cx="139.3" cy="160.4" r="2.0"/><circle cx="141.1" cy="163.0" r="2.0"/><circle cx="145.9" cy="162.8" r="2.0"/><circle cx="143.7" cy="162.1" r="2.0"/><circle cx="138.4" cy="157.7" r="2.0"/><circle cx="132.3" cy="158.0" r="2.0"/><circle cx="142.4" cy="155.0" r="2.0"/><circle cx="134.8" cy="158.2" r="2.0"/><circle cx="162.7" cy="162.3" r="2.0"/><circle cx="141.9" cy="162.8" r="2.0"/><circle cx="138.8" cy="162.2" r="2.0"/><circle cx="157.3" cy="157.0" r="2.0"/><circle cx="143.8" cy="162.6" r="2.0"/><circle cx="160.1" cy="158.9" r="2.0"/><circle cx="137.2" cy="160.9" r="2.0"/><circle cx="137.6" cy="160.4" r="2.0"/><circle cx="157.9" cy="160.7" r="2.0"/><circle cx="140.4" cy="162.2" r="2.0"/><circle cx="151.8" cy="155.6" r="2.0"/><circle cx="138.7" cy="159.0" r="2.0"/><circle cx="157.6" cy="155.7" r="2.0"/><circle cx="145.7" cy="161.9" r="2.0"/><circle cx="156.5" cy="162.3" r="2.0"/><circle cx="136.2" cy="163.0" r="2.0"/><circle cx="136.4" cy="162.3" r="2.0"/><circle cx="143.7" cy="161.0" r="2.0"/><circle cx="145.0" cy="162.9" r="2.0"/><circle cx="156.1" cy="161.6" r="2.0"/><circle cx="148.3" cy="162.1" r="2.0"/><circle cx="161.0" cy="159.2" r="2.0"/><circle cx="130.5" cy="144.3" r="2.0"/><circle cx="134.8" cy="143.8" r="2.0"/><circle cx="132.6" cy="154.9" r="2.0"/><circle cx="132.9" cy="146.1" r="2.0"/><circle cx="134.8" cy="152.5" r="2.0"/><circle cx="132.5" cy="156.5" r="2.0"/><circle cx="132.6" cy="151.5" r="2.0"/><circle cx="131.4" cy="153.3" r="2.0"/></g>
<rect x="34.5" y="25.2" width="172.7" height="160.2" fill="none" stroke="#a8a8a8" stroke-width="0.8"/>
<line x1="34.65" y1="185.40" x2="34.65" y2="187.40" stroke="#555" stroke-width="0.6"/>
<text x="34.65" y="194.60" font-size="6.9" text-anchor="middle" fill="#222">−10</text>
<line x1="51.92" y1="185.40" x2="51.92" y2="187.40" stroke="#555" stroke-width="0.6"/>
<text x="51.92" y="194.60" font-size="6.9" text-anchor="middle" fill="#222">−8</text>
<line x1="69.19" y1="185.40" x2="69.19" y2="187.40" stroke="#555" stroke-width="0.6"/>
<text x="69.19" y="194.60" font-size="6.9" text-anchor="middle" fill="#222">−6</text>
<line x1="86.46" y1="185.40" x2="86.46" y2="187.40" stroke="#555" stroke-width="0.6"/>
<text x="86.46" y="194.60" font-size="6.9" text-anchor="middle" fill="#222">−4</text>
<line x1="103.73" y1="185.40" x2="103.73" y2="187.40" stroke="#555" stroke-width="0.6"/>
<text x="103.73" y="194.60" font-size="6.9" text-anchor="middle" fill="#222">−2</text>
<line x1="121.00" y1="185.40" x2="121.00" y2="187.40" stroke="#555" stroke-width="0.6"/>
<text x="121.00" y="194.60" font-size="6.9" text-anchor="middle" fill="#222">0</text>
<line x1="138.27" y1="185.40" x2="138.27" y2="187.40" stroke="#555" stroke-width="0.6"/>
<text x="138.27" y="194.60" font-size="6.9" text-anchor="middle" fill="#222">2</text>
<line x1="155.54" y1="185.40" x2="155.54" y2="187.40" stroke="#555" stroke-width="0.6"/>
<text x="155.54" y="194.60" font-size="6.9" text-anchor="middle" fill="#222">4</text>
<line x1="172.81" y1="185.40" x2="172.81" y2="187.40" stroke="#555" stroke-width="0.6"/>
<text x="172.81" y="194.60" font-size="6.9" text-anchor="middle" fill="#222">6</text>
<line x1="190.08" y1="185.40" x2="190.08" y2="187.40" stroke="#555" stroke-width="0.6"/>
<text x="190.08" y="194.60" font-size="6.9" text-anchor="middle" fill="#222">8</text>
<line x1="207.35" y1="185.40" x2="207.35" y2="187.40" stroke="#555" stroke-width="0.6"/>
<text x="207.35" y="194.60" font-size="6.9" text-anchor="middle" fill="#222">10</text>
<line x1="32.50" y1="184.80" x2="34.50" y2="184.80" stroke="#555" stroke-width="0.6"/>
<text x="31.30" y="187.40" font-size="6.9" text-anchor="end" fill="#222">0</text>
<line x1="32.50" y1="152.80" x2="34.50" y2="152.80" stroke="#555" stroke-width="0.6"/>
<text x="31.30" y="155.40" font-size="6.9" text-anchor="end" fill="#222">2</text>
<line x1="32.50" y1="120.80" x2="34.50" y2="120.80" stroke="#555" stroke-width="0.6"/>
<text x="31.30" y="123.40" font-size="6.9" text-anchor="end" fill="#222">4</text>
<line x1="32.50" y1="88.80" x2="34.50" y2="88.80" stroke="#555" stroke-width="0.6"/>
<text x="31.30" y="91.40" font-size="6.9" text-anchor="end" fill="#222">6</text>
<line x1="32.50" y1="56.80" x2="34.50" y2="56.80" stroke="#555" stroke-width="0.6"/>
<text x="31.30" y="59.40" font-size="6.9" text-anchor="end" fill="#222">8</text>
<line x1="32.50" y1="24.80" x2="34.50" y2="24.80" stroke="#555" stroke-width="0.6"/>
<text x="31.30" y="27.40" font-size="6.9" text-anchor="end" fill="#222">10</text>
<text x="121.00" y="206.40" font-size="9.5" text-anchor="middle" fill="#111">log<tspan font-size="6.5" dy="2.2">2</tspan><tspan dy="-2.2">(Fold Change)</tspan></text>
<text x="121.30" y="217.60" font-size="9.6" text-anchor="middle" fill="#111">TRIM35_vs_Ctrl</text>
<text x="18.20" y="104.50" font-size="9.4" text-anchor="middle" fill="#111" transform="rotate(-90 18.20 104.50)">-log<tspan font-size="6.5" dy="2.2">10</tspan><tspan dy="-2.2">(Pvalue)</tspan></text>
<text x="223.30" y="15.80" font-size="21.8">B</text>
<rect x="239.90" y="18.70" width="175.60" height="170.30" fill="#fff"/>
<line x1="263.75" y1="18.70" x2="263.75" y2="189.00" stroke="#f3f3f3" stroke-width="0.5"/>
<line x1="311.45" y1="18.70" x2="311.45" y2="189.00" stroke="#f3f3f3" stroke-width="0.5"/>
<line x1="359.15" y1="18.70" x2="359.15" y2="189.00" stroke="#f3f3f3" stroke-width="0.5"/>
<line x1="406.85" y1="18.70" x2="406.85" y2="189.00" stroke="#f3f3f3" stroke-width="0.5"/>
<line x1="239.90" y1="18.70" x2="239.90" y2="189.00" stroke="#e6e6e6" stroke-width="0.7"/>
<line x1="287.60" y1="18.70" x2="287.60" y2="189.00" stroke="#e6e6e6" stroke-width="0.7"/>
<line x1="335.30" y1="18.70" x2="335.30" y2="189.00" stroke="#e6e6e6" stroke-width="0.7"/>
<line x1="383.00" y1="18.70" x2="383.00" y2="189.00" stroke="#e6e6e6" stroke-width="0.7"/>
<line x1="239.90" y1="25.20" x2="415.50" y2="25.20" stroke="#e6e6e6" stroke-width="0.7"/>
<line x1="239.90" y1="36.40" x2="415.50" y2="36.40" stroke="#e6e6e6" stroke-width="0.7"/>
<line x1="239.90" y1="47.60" x2="415.50" y2="47.60" stroke="#e6e6e6" stroke-width="0.7"/>
<line x1="239.90" y1="58.80" x2="415.50" y2="58.80" stroke="#e6e6e6" stroke-width="0.7"/>
<line x1="239.90" y1="70.00" x2="415.50" y2="70.00" stroke="#e6e6e6" stroke-width="0.7"/>
<line x1="239.90" y1="81.20" x2="415.50" y2="81.20" stroke="#e6e6e6" stroke-width="0.7"/>
<line x1="239.90" y1="92.40" x2="415.50" y2="92.40" stroke="#e6e6e6" stroke-width="0.7"/>
<line x1="239.90" y1="103.60" x2="415.50" y2="103.60" stroke="#e6e6e6" stroke-width="0.7"/>
<line x1="239.90" y1="114.80" x2="415.50" y2="114.80" stroke="#e6e6e6" stroke-width="0.7"/>
<line x1="239.90" y1="126.00" x2="415.50" y2="126.00" stroke="#e6e6e6" stroke-width="0.7"/>
<line x1="239.90" y1="137.20" x2="415.50" y2="137.20" stroke="#e6e6e6" stroke-width="0.7"/>
<line x1="239.90" y1="148.40" x2="415.50" y2="148.40" stroke="#e6e6e6" stroke-width="0.7"/>
<line x1="239.90" y1="159.60" x2="415.50" y2="159.60" stroke="#e6e6e6" stroke-width="0.7"/>
<line x1="239.90" y1="170.80" x2="415.50" y2="170.80" stroke="#e6e6e6" stroke-width="0.7"/>
<line x1="239.90" y1="182.00" x2="415.50" y2="182.00" stroke="#e6e6e6" stroke-width="0.7"/>
<rect x="239.90" y="20.05" width="119.25" height="10.30" fill="#5d8ea5"/>
<rect x="239.90" y="31.25" width="143.10" height="10.30" fill="#78a6b8"/>
<rect x="239.90" y="42.45" width="143.10" height="10.30" fill="#7aa8ba"/>
<rect x="239.90" y="53.65" width="71.55" height="10.30" fill="#c3e4e3"/>
<rect x="239.90" y="64.85" width="71.55" height="10.30" fill="#c3e4e3"/>
<rect x="239.90" y="76.05" width="71.55" height="10.30" fill="#c3e4e3"/>
<rect x="239.90" y="87.25" width="95.40" height="10.30" fill="#c6e7e5"/>
<rect x="239.90" y="98.45" width="95.40" height="10.30" fill="#c8e9e7"/>
<rect x="239.90" y="109.65" width="166.95" height="10.30" fill="#d3f1ee"/>
<rect x="239.90" y="120.85" width="95.40" height="10.30" fill="#d8f5f1"/>
<rect x="239.90" y="132.05" width="95.40" height="10.30" fill="#dbf7f3"/>
<rect x="239.90" y="143.25" width="95.40" height="10.30" fill="#dcf8f4"/>
<rect x="239.90" y="154.45" width="143.10" height="10.30" fill="#def9f5"/>
<rect x="239.90" y="165.65" width="119.25" height="10.30" fill="#dff9f6"/>
<rect x="239.90" y="176.85" width="119.25" height="10.30" fill="#e0faf7"/>
<text x="241.50" y="28.35" font-size="8.64" fill="#1a1a1a" textLength="104.07" lengthAdjust="spacingAndGlyphs">response to peptide hormone</text>
<text x="241.50" y="39.55" font-size="8.64" fill="#1a1a1a" textLength="66.26" lengthAdjust="spacingAndGlyphs">cilium organization</text>
<text x="241.50" y="50.75" font-size="8.64" fill="#1a1a1a" textLength="105.39" lengthAdjust="spacingAndGlyphs">microtubule-based movement</text>
<text x="241.50" y="61.95" font-size="8.64" fill="#1a1a1a" textLength="68.05" lengthAdjust="spacingAndGlyphs">response to ketone</text>
<text x="241.50" y="73.15" font-size="8.64" font-weight="bold" fill="#ee2a2a" textLength="98.8" lengthAdjust="spacingAndGlyphs">regulation of DNA binding</text>
<text x="241.50" y="84.35" font-size="8.64" fill="#1a1a1a" textLength="170.77" lengthAdjust="spacingAndGlyphs">negative regulation of chromosome organization</text>
<text x="241.50" y="95.55" font-size="8.64" fill="#1a1a1a" textLength="70.28" lengthAdjust="spacingAndGlyphs">response to peptide</text>
<text x="241.50" y="106.75" font-size="8.64" fill="#1a1a1a" textLength="138.31" lengthAdjust="spacingAndGlyphs">regulation of chromosome organization</text>
<text x="241.50" y="117.95" font-size="8.64" fill="#1a1a1a" textLength="148.55" lengthAdjust="spacingAndGlyphs">response to oxygen-containing compound</text>
<text x="241.50" y="129.15" font-size="8.64" font-weight="bold" fill="#ee2a2a" textLength="128.89" lengthAdjust="spacingAndGlyphs">regulation of histone modification</text>
<text x="241.50" y="140.35" font-size="8.64" fill="#1a1a1a" textLength="72.06" lengthAdjust="spacingAndGlyphs">regulation of binding</text>
<text x="241.60" y="147.20" font-size="5.3" font-weight="bold" fill="#ee2a2a" textLength="151" lengthAdjust="spacingAndGlyphs">regulation of RNA polymerase II regulatory region</text>
<text x="241.60" y="152.60" font-size="5.3" font-weight="bold" fill="#ee2a2a" textLength="95.4" lengthAdjust="spacingAndGlyphs">sequence-specific DNA binding</text>
<text x="241.50" y="162.75" font-size="8.64" fill="#1a1a1a" textLength="60.04" lengthAdjust="spacingAndGlyphs">response to drug</text>
<text x="241.50" y="173.95" font-size="8.64" fill="#1a1a1a" textLength="75.6" lengthAdjust="spacingAndGlyphs">response to hormone</text>
<text x="241.50" y="185.15" font-size="8.64" fill="#1a1a1a" textLength="137.43" lengthAdjust="spacingAndGlyphs">response to organonitrogen compound</text>
<rect x="239.9" y="18.7" width="175.60" height="170.30" fill="none" stroke="#8a8a8a" stroke-width="0.7"/>
<line x1="239.90" y1="189.00" x2="239.90" y2="191.00" stroke="#555" stroke-width="0.6"/>
<text x="239.90" y="196.60" font-size="6.4" text-anchor="middle" fill="#333">0</text>
<line x1="287.60" y1="189.00" x2="287.60" y2="191.00" stroke="#555" stroke-width="0.6"/>
<text x="287.60" y="196.60" font-size="6.4" text-anchor="middle" fill="#333">2</text>
<line x1="335.30" y1="189.00" x2="335.30" y2="191.00" stroke="#555" stroke-width="0.6"/>
<text x="335.30" y="196.60" font-size="6.4" text-anchor="middle" fill="#333">4</text>
<line x1="383.00" y1="189.00" x2="383.00" y2="191.00" stroke="#555" stroke-width="0.6"/>
<text x="383.00" y="196.60" font-size="6.4" text-anchor="middle" fill="#333">6</text>
<text x="326.50" y="203.40" font-size="6.5" text-anchor="middle" fill="#111">Counts</text>
<text x="232.60" y="104.50" font-size="9.7" text-anchor="middle" fill="#111" transform="rotate(-90 232.60 104.50)">Biological_Process</text>
<rect x="418.20" y="142.20" width="9.80" height="45.50" fill="url(#gB)"/>
<text x="418.40" y="137.00" font-size="6.3" fill="#222">-log<tspan font-size="4.6" dy="1.2"> 10</tspan><tspan dy="-1.2">(pvalue)</tspan></text>
<line x1="418.20" y1="142.60" x2="419.60" y2="142.60" stroke="#fff" stroke-width="0.5"/>
<line x1="426.60" y1="142.60" x2="428.00" y2="142.60" stroke="#fff" stroke-width="0.5"/>
<text x="430.80" y="144.30" font-size="4.7" fill="#333">4.0</text>
<line x1="418.20" y1="158.90" x2="419.60" y2="158.90" stroke="#fff" stroke-width="0.5"/>
<line x1="426.60" y1="158.90" x2="428.00" y2="158.90" stroke="#fff" stroke-width="0.5"/>
<text x="430.80" y="160.60" font-size="4.7" fill="#333">3.5</text>
<line x1="418.20" y1="174.90" x2="419.60" y2="174.90" stroke="#fff" stroke-width="0.5"/>
<line x1="426.60" y1="174.90" x2="428.00" y2="174.90" stroke="#fff" stroke-width="0.5"/>
<text x="430.80" y="176.60" font-size="4.7" fill="#333">3.0</text>
<text x="444.90" y="15.90" font-size="21.8">C</text>
<rect x="463.30" y="18.80" width="176.20" height="170.20" fill="#fff"/>
<line x1="486.55" y1="18.80" x2="486.55" y2="189.00" stroke="#f3f3f3" stroke-width="0.5"/>
<line x1="533.05" y1="18.80" x2="533.05" y2="189.00" stroke="#f3f3f3" stroke-width="0.5"/>
<line x1="579.55" y1="18.80" x2="579.55" y2="189.00" stroke="#f3f3f3" stroke-width="0.5"/>
<line x1="626.05" y1="18.80" x2="626.05" y2="189.00" stroke="#f3f3f3" stroke-width="0.5"/>
<line x1="463.30" y1="18.80" x2="463.30" y2="189.00" stroke="#e6e6e6" stroke-width="0.7"/>
<line x1="509.80" y1="18.80" x2="509.80" y2="189.00" stroke="#e6e6e6" stroke-width="0.7"/>
<line x1="556.30" y1="18.80" x2="556.30" y2="189.00" stroke="#e6e6e6" stroke-width="0.7"/>
<line x1="602.80" y1="18.80" x2="602.80" y2="189.00" stroke="#e6e6e6" stroke-width="0.7"/>
<line x1="463.30" y1="25.50" x2="639.50" y2="25.50" stroke="#e6e6e6" stroke-width="0.7"/>
<line x1="463.30" y1="36.66" x2="639.50" y2="36.66" stroke="#e6e6e6" stroke-width="0.7"/>
<line x1="463.30" y1="47.82" x2="639.50" y2="47.82" stroke="#e6e6e6" stroke-width="0.7"/>
<line x1="463.30" y1="58.98" x2="639.50" y2="58.98" stroke="#e6e6e6" stroke-width="0.7"/>
<line x1="463.30" y1="70.14" x2="639.50" y2="70.14" stroke="#e6e6e6" stroke-width="0.7"/>
<line x1="463.30" y1="81.30" x2="639.50" y2="81.30" stroke="#e6e6e6" stroke-width="0.7"/>
<line x1="463.30" y1="92.46" x2="639.50" y2="92.46" stroke="#e6e6e6" stroke-width="0.7"/>
<line x1="463.30" y1="103.62" x2="639.50" y2="103.62" stroke="#e6e6e6" stroke-width="0.7"/>
<line x1="463.30" y1="114.78" x2="639.50" y2="114.78" stroke="#e6e6e6" stroke-width="0.7"/>
<line x1="463.30" y1="125.94" x2="639.50" y2="125.94" stroke="#e6e6e6" stroke-width="0.7"/>
<line x1="463.30" y1="137.10" x2="639.50" y2="137.10" stroke="#e6e6e6" stroke-width="0.7"/>
<line x1="463.30" y1="148.26" x2="639.50" y2="148.26" stroke="#e6e6e6" stroke-width="0.7"/>
<line x1="463.30" y1="159.42" x2="639.50" y2="159.42" stroke="#e6e6e6" stroke-width="0.7"/>
<line x1="463.30" y1="170.58" x2="639.50" y2="170.58" stroke="#e6e6e6" stroke-width="0.7"/>
<line x1="463.30" y1="181.74" x2="639.50" y2="181.74" stroke="#e6e6e6" stroke-width="0.7"/>
<rect x="463.30" y="20.35" width="93.00" height="10.30" fill="#7dbb6e"/>
<rect x="463.30" y="31.51" width="167.40" height="10.30" fill="#78b76c"/>
<rect x="463.30" y="42.67" width="74.40" height="10.30" fill="#a3d194"/>
<rect x="463.30" y="53.83" width="55.80" height="10.30" fill="#c6e4b9"/>
<rect x="463.30" y="64.99" width="74.40" height="10.30" fill="#b4daa5"/>
<rect x="463.30" y="76.15" width="55.80" height="10.30" fill="#c9e5bd"/>
<rect x="463.30" y="87.31" width="37.20" height="10.30" fill="#d0e9c5"/>
<rect x="463.30" y="98.47" width="55.80" height="10.30" fill="#d0e9c5"/>
<rect x="463.30" y="109.63" width="55.80" height="10.30" fill="#d6ecCC"/>
<rect x="463.30" y="120.79" width="74.40" height="10.30" fill="#d9eecf"/>
<rect x="463.30" y="131.95" width="93.00" height="10.30" fill="#dcefd2"/>
<rect x="463.30" y="143.11" width="111.60" height="10.30" fill="#def0d5"/>
<rect x="463.30" y="154.27" width="37.20" height="10.30" fill="#e0f1d7"/>
<rect x="463.30" y="165.43" width="93.00" height="10.30" fill="#e2f2d9"/>
<rect x="463.30" y="176.59" width="55.80" height="10.30" fill="#e3f3db"/>
<text x="464.90" y="28.65" font-size="8.64" font-weight="bold" fill="#ee2a2a" textLength="125.37" lengthAdjust="spacingAndGlyphs">Staphylococcus aureus infection</text>
<text x="464.90" y="39.81" font-size="8.64" fill="#1a1a1a" textLength="137.41" lengthAdjust="spacingAndGlyphs">Neuroactive ligand-receptor interaction</text>
<text x="463.80" y="50.37" font-size="7.3" font-weight="bold" fill="#ee2a2a" textLength="174.5" lengthAdjust="spacingAndGlyphs">PD-L1 expression and PD-1 checkpoint pathway in cancer</text>
<text x="464.90" y="62.13" font-size="8.64" fill="#1a1a1a" textLength="157.86" lengthAdjust="spacingAndGlyphs">Intestinal immune network for IgA production</text>
<text x="464.90" y="73.29" font-size="8.64" font-weight="bold" fill="#ee2a2a" textLength="116.02" lengthAdjust="spacingAndGlyphs">NF-kappa B signaling pathway</text>
<text x="464.90" y="84.45" font-size="8.64" fill="#1a1a1a" textLength="68.03" lengthAdjust="spacingAndGlyphs">Retinol metabolism</text>
<text x="464.90" y="95.61" font-size="8.64" fill="#1a1a1a" textLength="80.93" lengthAdjust="spacingAndGlyphs">Fatty acid biosynthesis</text>
<text x="464.90" y="106.77" font-size="8.64" fill="#1a1a1a" textLength="99.16" lengthAdjust="spacingAndGlyphs">Inflammatory bowel disease</text>
<text x="464.90" y="117.93" font-size="8.64" fill="#1a1a1a" textLength="64.93" lengthAdjust="spacingAndGlyphs">Taste transduction</text>
<text x="464.90" y="129.09" font-size="8.64" fill="#1a1a1a" textLength="66.25" lengthAdjust="spacingAndGlyphs">Purine metabolism</text>
<text x="464.90" y="140.25" font-size="8.64" font-weight="bold" fill="#ee2a2a" textLength="91.13" lengthAdjust="spacingAndGlyphs">Rap1 signaling pathway</text>
<text x="464.90" y="151.41" font-size="8.64" font-weight="bold" fill="#ee2a2a" textLength="146.26" lengthAdjust="spacingAndGlyphs">Cytokine-cytokine receptor interaction</text>
<text x="464.90" y="162.57" font-size="8.64" fill="#1a1a1a" textLength="27.12" lengthAdjust="spacingAndGlyphs">Asthma</text>
<text x="464.90" y="173.73" font-size="8.64" fill="#1a1a1a" textLength="94.72" lengthAdjust="spacingAndGlyphs">Calcium signaling pathway</text>
<text x="464.90" y="184.89" font-size="8.64" fill="#1a1a1a" textLength="129.87" lengthAdjust="spacingAndGlyphs">Antigen processing and presentation</text>
<rect x="463.3" y="18.8" width="176.20" height="170.20" fill="none" stroke="#8a8a8a" stroke-width="0.7"/>
<line x1="463.30" y1="189.00" x2="463.30" y2="191.00" stroke="#555" stroke-width="0.6"/>
<text x="463.30" y="196.60" font-size="6.4" text-anchor="middle" fill="#333">0.0</text>
<line x1="509.80" y1="189.00" x2="509.80" y2="191.00" stroke="#555" stroke-width="0.6"/>
<text x="509.80" y="196.60" font-size="6.4" text-anchor="middle" fill="#333">2.5</text>
<line x1="556.30" y1="189.00" x2="556.30" y2="191.00" stroke="#555" stroke-width="0.6"/>
<text x="556.30" y="196.60" font-size="6.4" text-anchor="middle" fill="#333">5.0</text>
<line x1="602.80" y1="189.00" x2="602.80" y2="191.00" stroke="#555" stroke-width="0.6"/>
<text x="602.80" y="196.60" font-size="6.4" text-anchor="middle" fill="#333">7.5</text>
<text x="550.00" y="203.60" font-size="6.5" text-anchor="middle" fill="#111">Counts</text>
<text x="456.60" y="104.00" font-size="10.0" text-anchor="middle" fill="#111" transform="rotate(-90 456.60 104.00)">KEGG</text>
<rect x="644.00" y="141.50" width="8.00" height="46.50" fill="url(#gC)"/>
<text x="644.00" y="135.60" font-size="6.3" fill="#222">-log<tspan font-size="4.6" dy="1.2"> 10</tspan><tspan dy="-1.2">(pvalue)</tspan></text>
<line x1="644.00" y1="150.80" x2="645.40" y2="150.80" stroke="#fff" stroke-width="0.5"/>
<line x1="650.60" y1="150.80" x2="652.00" y2="150.80" stroke="#fff" stroke-width="0.5"/>
<text x="654.80" y="152.50" font-size="4.7" fill="#333">2.25</text>
<line x1="644.00" y1="160.80" x2="645.40" y2="160.80" stroke="#fff" stroke-width="0.5"/>
<line x1="650.60" y1="160.80" x2="652.00" y2="160.80" stroke="#fff" stroke-width="0.5"/>
<text x="654.80" y="162.50" font-size="4.7" fill="#333">2.00</text>
<line x1="644.00" y1="170.50" x2="645.40" y2="170.50" stroke="#fff" stroke-width="0.5"/>
<line x1="650.60" y1="170.50" x2="652.00" y2="170.50" stroke="#fff" stroke-width="0.5"/>
<text x="654.80" y="172.20" font-size="4.7" fill="#333">1.75</text>
<line x1="644.00" y1="179.80" x2="645.40" y2="179.80" stroke="#fff" stroke-width="0.5"/>
<line x1="650.60" y1="179.80" x2="652.00" y2="179.80" stroke="#fff" stroke-width="0.5"/>
<text x="654.80" y="181.50" font-size="4.7" fill="#333">1.50</text>
<text x="0.30" y="268.00" font-size="21.9">D</text>
<rect x="21.00" y="287.00" width="13.50" height="6.20" fill="#ebc96c"/>
<text x="43.20" y="293.60" font-size="11.1" fill="#1a1a1a">Infection and immunity</text>
<rect x="21.00" y="299.60" width="13.50" height="6.20" fill="#e05c50"/>
<text x="43.20" y="306.20" font-size="11.1" fill="#1a1a1a">Cancer</text>
<rect x="21.00" y="311.80" width="13.50" height="6.20" fill="#80c5d5"/>
<text x="43.20" y="318.40" font-size="11.1" fill="#1a1a1a">Others</text>
<path d="M155.73,305.24 A67.0,67.0 0 0 1 207.11,381.49 L170.60,375.47 A30.0,30.0 0 0 0 147.60,341.33 Z" fill="#ebc96c"/>
<path d="M207.11,381.49 A67.0,67.0 0 0 1 157.18,435.62 L148.25,399.71 A30.0,30.0 0 0 0 170.60,375.47 Z" fill="#e05c50"/>
<path d="M157.18,435.62 A67.0,67.0 0 1 1 155.73,305.24 L147.60,341.33 A30.0,30.0 0 1 0 148.25,399.71 Z" fill="#80c5d5"/>
<text x="180.60" y="348.30" font-size="9.3" text-anchor="middle" fill="#1a1a1a">24.07%</text>
<text x="177.00" y="402.70" font-size="9.3" text-anchor="middle" fill="#1a1a1a">18.52%</text>
<text x="94.80" y="388.00" font-size="9.3" text-anchor="middle" fill="#1a1a1a">57.41%</text>
<text x="140.40" y="375.30" font-size="11.1" text-anchor="middle" fill="#1a1a1a">Total: 162</text>
<text x="106.60" y="460.90" font-size="13.2" text-anchor="middle" font-weight="bold" fill="#111">The KEGG enrichment</text>
<text x="108.60" y="477.60" font-size="12.95" text-anchor="middle" font-weight="bold" fill="#111">proportion of TRIM35 ChIP targets</text>
<line x1="155.73" y1="305.24" x2="256.90" y2="227.60" stroke="#b0b0b0" stroke-width="0.6"/>
<line x1="207.11" y1="381.49" x2="256.90" y2="342.10" stroke="#b0b0b0" stroke-width="0.6"/>
<line x1="207.11" y1="381.49" x2="256.40" y2="368.40" stroke="#b0b0b0" stroke-width="0.6"/>
<line x1="157.18" y1="435.62" x2="256.40" y2="482.10" stroke="#b0b0b0" stroke-width="0.6"/>
<rect x="256.90" y="227.60" width="152.60" height="114.50" fill="#fff"/>
<line x1="276.88" y1="227.60" x2="276.88" y2="342.10" stroke="#f3f3f3" stroke-width="0.5"/>
<line x1="316.84" y1="227.60" x2="316.84" y2="342.10" stroke="#f3f3f3" stroke-width="0.5"/>
<line x1="356.80" y1="227.60" x2="356.80" y2="342.10" stroke="#f3f3f3" stroke-width="0.5"/>
<line x1="396.76" y1="227.60" x2="396.76" y2="342.10" stroke="#f3f3f3" stroke-width="0.5"/>
<line x1="256.90" y1="227.60" x2="256.90" y2="342.10" stroke="#e6e6e6" stroke-width="0.7"/>
<line x1="296.86" y1="227.60" x2="296.86" y2="342.10" stroke="#e6e6e6" stroke-width="0.7"/>
<line x1="336.82" y1="227.60" x2="336.82" y2="342.10" stroke="#e6e6e6" stroke-width="0.7"/>
<line x1="376.78" y1="227.60" x2="376.78" y2="342.10" stroke="#e6e6e6" stroke-width="0.7"/>
<line x1="256.90" y1="234.20" x2="409.50" y2="234.20" stroke="#e6e6e6" stroke-width="0.7"/>
<line x1="256.90" y1="245.44" x2="409.50" y2="245.44" stroke="#e6e6e6" stroke-width="0.7"/>
<line x1="256.90" y1="256.68" x2="409.50" y2="256.68" stroke="#e6e6e6" stroke-width="0.7"/>
<line x1="256.90" y1="267.92" x2="409.50" y2="267.92" stroke="#e6e6e6" stroke-width="0.7"/>
<line x1="256.90" y1="279.16" x2="409.50" y2="279.16" stroke="#e6e6e6" stroke-width="0.7"/>
<line x1="256.90" y1="290.40" x2="409.50" y2="290.40" stroke="#e6e6e6" stroke-width="0.7"/>
<line x1="256.90" y1="301.64" x2="409.50" y2="301.64" stroke="#e6e6e6" stroke-width="0.7"/>
<line x1="256.90" y1="312.88" x2="409.50" y2="312.88" stroke="#e6e6e6" stroke-width="0.7"/>
<line x1="256.90" y1="324.12" x2="409.50" y2="324.12" stroke="#e6e6e6" stroke-width="0.7"/>
<line x1="256.90" y1="335.36" x2="409.50" y2="335.36" stroke="#e6e6e6" stroke-width="0.7"/>
<rect x="256.90" y="229.10" width="102.70" height="10.20" fill="#e6b535"/>
<rect x="256.90" y="240.34" width="94.91" height="10.20" fill="#e8ba44"/>
<rect x="256.90" y="251.58" width="143.26" height="10.20" fill="#ebc355"/>
<rect x="256.90" y="262.82" width="147.05" height="10.20" fill="#ebc55a"/>
<rect x="256.90" y="274.06" width="64.74" height="10.20" fill="#f0d88e"/>
<rect x="256.90" y="285.30" width="110.89" height="10.20" fill="#edc968"/>
<rect x="256.90" y="296.54" width="120.88" height="10.20" fill="#efd27b"/>
<rect x="256.90" y="307.78" width="65.13" height="10.20" fill="#f2dd9a"/>
<rect x="256.90" y="319.02" width="60.94" height="10.20" fill="#f3e2a7"/>
<rect x="256.90" y="330.26" width="54.55" height="10.20" fill="#f5e7b7"/>
<text x="258.50" y="236.25" font-size="8.64" fill="#1a1a1a" textLength="116.36" lengthAdjust="spacingAndGlyphs">T cell receptor signaling pathway</text>
<text x="258.50" y="247.49" font-size="8.64" fill="#1a1a1a" textLength="81.37" lengthAdjust="spacingAndGlyphs">TNF signaling pathway</text>
<text x="258.50" y="258.73" font-size="8.64" fill="#1a1a1a" textLength="149.85" lengthAdjust="spacingAndGlyphs">Human immunodeficiency virus 1 infection</text>
<text x="258.50" y="269.97" font-size="8.64" fill="#1a1a1a" textLength="139.03" lengthAdjust="spacingAndGlyphs">Human T-cell leukemia virus 1 infection</text>
<text x="258.50" y="281.21" font-size="8.64" fill="#1a1a1a" textLength="123.62" lengthAdjust="spacingAndGlyphs">Bacterial invasion of epithelial cells</text>
<text x="258.50" y="292.45" font-size="8.64" fill="#1a1a1a" textLength="38.68" lengthAdjust="spacingAndGlyphs">Hepatitis B</text>
<text x="258.50" y="303.69" font-size="8.64" fill="#1a1a1a" textLength="106.29" lengthAdjust="spacingAndGlyphs">Chemokine signaling pathway</text>
<text x="258.50" y="314.93" font-size="8.64" fill="#1a1a1a" textLength="116.96" lengthAdjust="spacingAndGlyphs">B cell receptor signaling pathway</text>
<text x="258.50" y="326.17" font-size="8.64" fill="#1a1a1a" textLength="109.56" lengthAdjust="spacingAndGlyphs">Th1 and Th2 cell differentiation</text>
<text x="258.50" y="337.41" font-size="8.64" fill="#1a1a1a" textLength="84.06" lengthAdjust="spacingAndGlyphs">IL-17 signaling pathway</text>
<rect x="256.9" y="227.6" width="152.60" height="114.50" fill="none" stroke="#8a8a8a" stroke-width="0.7"/>
<line x1="256.90" y1="342.10" x2="256.90" y2="344.10" stroke="#555" stroke-width="0.6"/>
<text x="256.90" y="351.20" font-size="8.5" text-anchor="middle" fill="#333">0</text>
<line x1="296.86" y1="342.10" x2="296.86" y2="344.10" stroke="#555" stroke-width="0.6"/>
<text x="296.86" y="351.20" font-size="8.5" text-anchor="middle" fill="#333">20</text>
<line x1="336.82" y1="342.10" x2="336.82" y2="344.10" stroke="#555" stroke-width="0.6"/>
<text x="336.82" y="351.20" font-size="8.5" text-anchor="middle" fill="#333">40</text>
<line x1="376.78" y1="342.10" x2="376.78" y2="344.10" stroke="#555" stroke-width="0.6"/>
<text x="376.78" y="351.20" font-size="8.5" text-anchor="middle" fill="#333">60</text>
<text x="336.50" y="358.00" font-size="7.8" text-anchor="middle" fill="#111">Counts</text>
<text x="251.00" y="291.30" font-size="10.3" text-anchor="middle" fill="#111" transform="rotate(-90 251.00 291.30)">Infection and immunity</text>
<rect x="415.00" y="292.70" width="9.80" height="49.40" fill="url(#gI)"/>
<text x="414.50" y="288.60" font-size="6.3" fill="#222">-log<tspan font-size="4.6" dy="1.2"> 10</tspan><tspan dy="-1.2">(pvalue)</tspan></text>
<line x1="415.00" y1="308.30" x2="416.40" y2="308.30" stroke="#fff" stroke-width="0.5"/>
<line x1="423.40" y1="308.30" x2="424.80" y2="308.30" stroke="#fff" stroke-width="0.5"/>
<text x="427.60" y="310.00" font-size="4.7" fill="#333">6</text>
<line x1="415.00" y1="323.80" x2="416.40" y2="323.80" stroke="#fff" stroke-width="0.5"/>
<line x1="423.40" y1="323.80" x2="424.80" y2="323.80" stroke="#fff" stroke-width="0.5"/>
<text x="427.60" y="325.50" font-size="4.7" fill="#333">4</text>
<line x1="415.00" y1="339.60" x2="416.40" y2="339.60" stroke="#fff" stroke-width="0.5"/>
<line x1="423.40" y1="339.60" x2="424.80" y2="339.60" stroke="#fff" stroke-width="0.5"/>
<text x="427.60" y="341.30" font-size="4.7" fill="#333">2</text>
<rect x="256.40" y="368.30" width="152.30" height="113.80" fill="#fff"/>
<line x1="276.42" y1="368.30" x2="276.42" y2="482.10" stroke="#f3f3f3" stroke-width="0.5"/>
<line x1="316.47" y1="368.30" x2="316.47" y2="482.10" stroke="#f3f3f3" stroke-width="0.5"/>
<line x1="356.52" y1="368.30" x2="356.52" y2="482.10" stroke="#f3f3f3" stroke-width="0.5"/>
<line x1="396.57" y1="368.30" x2="396.57" y2="482.10" stroke="#f3f3f3" stroke-width="0.5"/>
<line x1="256.40" y1="368.30" x2="256.40" y2="482.10" stroke="#e6e6e6" stroke-width="0.7"/>
<line x1="296.45" y1="368.30" x2="296.45" y2="482.10" stroke="#e6e6e6" stroke-width="0.7"/>
<line x1="336.50" y1="368.30" x2="336.50" y2="482.10" stroke="#e6e6e6" stroke-width="0.7"/>
<line x1="376.55" y1="368.30" x2="376.55" y2="482.10" stroke="#e6e6e6" stroke-width="0.7"/>
<line x1="256.40" y1="374.40" x2="408.70" y2="374.40" stroke="#e6e6e6" stroke-width="0.7"/>
<line x1="256.40" y1="385.74" x2="408.70" y2="385.74" stroke="#e6e6e6" stroke-width="0.7"/>
<line x1="256.40" y1="397.08" x2="408.70" y2="397.08" stroke="#e6e6e6" stroke-width="0.7"/>
<line x1="256.40" y1="408.42" x2="408.70" y2="408.42" stroke="#e6e6e6" stroke-width="0.7"/>
<line x1="256.40" y1="419.76" x2="408.70" y2="419.76" stroke="#e6e6e6" stroke-width="0.7"/>
<line x1="256.40" y1="431.10" x2="408.70" y2="431.10" stroke="#e6e6e6" stroke-width="0.7"/>
<line x1="256.40" y1="442.44" x2="408.70" y2="442.44" stroke="#e6e6e6" stroke-width="0.7"/>
<line x1="256.40" y1="453.78" x2="408.70" y2="453.78" stroke="#e6e6e6" stroke-width="0.7"/>
<line x1="256.40" y1="465.12" x2="408.70" y2="465.12" stroke="#e6e6e6" stroke-width="0.7"/>
<line x1="256.40" y1="476.46" x2="408.70" y2="476.46" stroke="#e6e6e6" stroke-width="0.7"/>
<rect x="256.40" y="369.30" width="100.53" height="10.20" fill="#e96e68"/>
<rect x="256.40" y="380.64" width="70.75" height="10.20" fill="#ea7671"/>
<rect x="256.40" y="391.98" width="144.85" height="10.20" fill="#ec847f"/>
<rect x="256.40" y="403.32" width="89.85" height="10.20" fill="#ee8f8a"/>
<rect x="256.40" y="414.66" width="80.10" height="10.20" fill="#ee9590"/>
<rect x="256.40" y="426.00" width="77.70" height="10.20" fill="#ef9893"/>
<rect x="256.40" y="437.34" width="39.65" height="10.20" fill="#f1aeab"/>
<rect x="256.40" y="448.68" width="36.05" height="10.20" fill="#f2b5b2"/>
<rect x="256.40" y="460.02" width="128.96" height="10.20" fill="#f4c5c2"/>
<rect x="256.40" y="471.36" width="33.38" height="10.20" fill="#f5cdca"/>
<text x="258.00" y="376.95" font-size="8.64" fill="#1a1a1a" textLength="90.27" lengthAdjust="spacingAndGlyphs">Hepatocellular carcinoma</text>
<text x="258.00" y="388.29" font-size="8.64" fill="#1a1a1a" textLength="100.05" lengthAdjust="spacingAndGlyphs">TGF-beta signaling pathway</text>
<text x="258.00" y="399.63" font-size="8.64" fill="#1a1a1a" textLength="88.5" lengthAdjust="spacingAndGlyphs">MAPK signaling pathway</text>
<text x="258.00" y="410.97" font-size="8.64" fill="#1a1a1a" textLength="80.04" lengthAdjust="spacingAndGlyphs">Wnt signaling pathway</text>
<text x="258.00" y="422.31" font-size="8.64" fill="#1a1a1a" textLength="51.57" lengthAdjust="spacingAndGlyphs">Gastric cancer</text>
<text x="258.00" y="433.65" font-size="8.64" fill="#1a1a1a" textLength="49.36" lengthAdjust="spacingAndGlyphs">Breast cancer</text>
<text x="258.00" y="444.99" font-size="8.64" fill="#1a1a1a" textLength="93.82" lengthAdjust="spacingAndGlyphs">Non-small cell lung cancer</text>
<text x="258.00" y="456.33" font-size="8.64" fill="#1a1a1a" textLength="84.49" lengthAdjust="spacingAndGlyphs">Acute myeloid leukemia</text>
<text x="258.00" y="467.67" font-size="8.64" fill="#1a1a1a" textLength="97.39" lengthAdjust="spacingAndGlyphs">PI3K-Akt signaling pathway</text>
<text x="258.00" y="479.01" font-size="8.64" fill="#1a1a1a" textLength="79.17" lengthAdjust="spacingAndGlyphs">p53 signaling pathway</text>
<rect x="256.4" y="368.3" width="152.30" height="113.80" fill="none" stroke="#8a8a8a" stroke-width="0.7"/>
<line x1="256.40" y1="482.10" x2="256.40" y2="484.10" stroke="#555" stroke-width="0.6"/>
<text x="256.40" y="491.10" font-size="8.5" text-anchor="middle" fill="#333">0</text>
<line x1="296.45" y1="482.10" x2="296.45" y2="484.10" stroke="#555" stroke-width="0.6"/>
<text x="296.45" y="491.10" font-size="8.5" text-anchor="middle" fill="#333">30</text>
<line x1="336.50" y1="482.10" x2="336.50" y2="484.10" stroke="#555" stroke-width="0.6"/>
<text x="336.50" y="491.10" font-size="8.5" text-anchor="middle" fill="#333">60</text>
<line x1="376.55" y1="482.10" x2="376.55" y2="484.10" stroke="#555" stroke-width="0.6"/>
<text x="376.55" y="491.10" font-size="8.5" text-anchor="middle" fill="#333">90</text>
<text x="336.50" y="497.80" font-size="7.8" text-anchor="middle" fill="#111">Counts</text>
<text x="251.00" y="421.40" font-size="10.3" text-anchor="middle" fill="#111" transform="rotate(-90 251.00 421.40)">Cancer</text>
<rect x="414.20" y="431.60" width="9.70" height="49.60" fill="url(#gK)"/>
<text x="414.00" y="426.60" font-size="6.3" fill="#222">-log<tspan font-size="4.6" dy="1.2"> 10</tspan><tspan dy="-1.2">(pvalue)</tspan></text>
<line x1="414.20" y1="433.50" x2="415.60" y2="433.50" stroke="#fff" stroke-width="0.5"/>
<line x1="422.50" y1="433.50" x2="423.90" y2="433.50" stroke="#fff" stroke-width="0.5"/>
<text x="427.60" y="435.20" font-size="4.7" fill="#333">12.5</text>
<line x1="414.20" y1="445.40" x2="415.60" y2="445.40" stroke="#fff" stroke-width="0.5"/>
<line x1="422.50" y1="445.40" x2="423.90" y2="445.40" stroke="#fff" stroke-width="0.5"/>
<text x="427.60" y="447.10" font-size="4.7" fill="#333">10.0</text>
<line x1="414.20" y1="457.40" x2="415.60" y2="457.40" stroke="#fff" stroke-width="0.5"/>
<line x1="422.50" y1="457.40" x2="423.90" y2="457.40" stroke="#fff" stroke-width="0.5"/>
<text x="427.60" y="459.10" font-size="4.7" fill="#333">7.5</text>
<line x1="414.20" y1="469.30" x2="415.60" y2="469.30" stroke="#fff" stroke-width="0.5"/>
<line x1="422.50" y1="469.30" x2="423.90" y2="469.30" stroke="#fff" stroke-width="0.5"/>
<text x="427.60" y="471.00" font-size="4.7" fill="#333">5.0</text>
<line x1="414.20" y1="481.20" x2="415.60" y2="481.20" stroke="#fff" stroke-width="0.5"/>
<line x1="422.50" y1="481.20" x2="423.90" y2="481.20" stroke="#fff" stroke-width="0.5"/>
<text x="427.60" y="482.90" font-size="4.7" fill="#333">2.5</text>
<text x="451.60" y="240.40" font-size="21.9">E</text>
<text x="529.15" y="234.30" font-size="8.0" text-anchor="middle" fill="#111">TRIM35</text>
<text x="605.05" y="234.30" font-size="8.0" text-anchor="middle" fill="#111">H3K27ac</text>
<text x="486.00" y="351.00" font-size="7.8" text-anchor="middle" fill="#111" transform="rotate(-90 486.00 351.00)">TRIM35 ChIP Peaks</text>
<rect x="494.50" y="237.30" width="69.30" height="221.70" fill="#fbe6dc"/>
<rect x="510.69" y="242.23" width="39.24" height="0.58" fill="#f2c6b3" opacity="0.28"/>
<rect x="505.07" y="244.72" width="57.54" height="1.05" fill="#f2c6b3" opacity="0.26"/>
<rect x="503.78" y="245.77" width="51.21" height="0.67" fill="#f2c6b3" opacity="0.26"/>
<rect x="500.28" y="252.02" width="62.11" height="1.14" fill="#f2c6b3" opacity="0.33"/>
<rect x="511.45" y="254.35" width="52.34" height="1.26" fill="#ffffff" opacity="0.68"/>
<rect x="510.07" y="257.22" width="48.33" height="0.86" fill="#f2c6b3" opacity="0.47"/>
<rect x="509.66" y="258.08" width="51.78" height="0.58" fill="#f2c6b3" opacity="0.59"/>
<rect x="510.44" y="258.66" width="49.81" height="0.72" fill="#f2c6b3" opacity="0.27"/>
<rect x="510.57" y="262.28" width="47.15" height="0.69" fill="#f2c6b3" opacity="0.59"/>
<rect x="511.59" y="262.97" width="39.38" height="1.30" fill="#f2c6b3" opacity="0.39"/>
<rect x="501.08" y="264.86" width="56.79" height="0.69" fill="#f2c6b3" opacity="0.52"/>
<rect x="499.36" y="265.55" width="52.41" height="0.57" fill="#f2c6b3" opacity="0.45"/>
<rect x="510.86" y="269.33" width="47.95" height="0.66" fill="#f2c6b3" opacity="0.57"/>
<rect x="512.14" y="270.66" width="39.59" height="1.35" fill="#f2c6b3" opacity="0.58"/>
<rect x="513.75" y="272.01" width="45.28" height="0.88" fill="#f2c6b3" opacity="0.26"/>
<rect x="506.43" y="272.89" width="51.50" height="1.13" fill="#f2c6b3" opacity="0.54"/>
<rect x="511.55" y="274.68" width="39.97" height="0.56" fill="#f2c6b3" opacity="0.45"/>
<rect x="503.41" y="276.00" width="59.18" height="0.68" fill="#f2c6b3" opacity="0.34"/>
<rect x="497.13" y="276.68" width="59.43" height="0.66" fill="#ffffff" opacity="0.53"/>
<rect x="494.86" y="279.73" width="50.74" height="1.03" fill="#f2c6b3" opacity="0.26"/>
<rect x="506.68" y="292.52" width="55.52" height="1.06" fill="#ffffff" opacity="0.53"/>
<rect x="495.10" y="297.82" width="56.68" height="1.25" fill="#f2c6b3" opacity="0.51"/>
<rect x="504.45" y="299.07" width="47.06" height="0.93" fill="#f2c6b3" opacity="0.49"/>
<rect x="500.52" y="300.01" width="49.72" height="1.33" fill="#f2c6b3" opacity="0.25"/>
<rect x="507.70" y="301.33" width="47.26" height="0.68" fill="#f2c6b3" opacity="0.57"/>
<rect x="498.47" y="302.02" width="56.71" height="1.30" fill="#f2c6b3" opacity="0.48"/>
<rect x="500.83" y="304.55" width="60.25" height="1.29" fill="#ffffff" opacity="0.53"/>
<rect x="503.51" y="308.05" width="54.78" height="1.36" fill="#f2c6b3" opacity="0.31"/>
<rect x="495.33" y="313.33" width="54.30" height="0.57" fill="#f2c6b3" opacity="0.56"/>
<rect x="494.88" y="313.89" width="66.20" height="1.01" fill="#f2c6b3" opacity="0.53"/>
<rect x="499.25" y="314.91" width="61.73" height="0.91" fill="#f2c6b3" opacity="0.54"/>
<rect x="508.78" y="320.39" width="51.43" height="0.66" fill="#f2c6b3" opacity="0.42"/>
<rect x="504.91" y="321.05" width="46.60" height="0.75" fill="#f2c6b3" opacity="0.49"/>
<rect x="512.62" y="321.80" width="49.43" height="1.18" fill="#ffffff" opacity="0.62"/>
<rect x="510.87" y="329.48" width="40.10" height="1.09" fill="#f2c6b3" opacity="0.50"/>
<rect x="514.11" y="330.56" width="30.14" height="1.15" fill="#f2c6b3" opacity="0.56"/>
<rect x="503.32" y="333.48" width="49.48" height="1.27" fill="#f2c6b3" opacity="0.28"/>
<rect x="497.31" y="337.03" width="63.52" height="0.66" fill="#f2c6b3" opacity="0.53"/>
<rect x="505.03" y="341.25" width="52.96" height="1.35" fill="#f2c6b3" opacity="0.33"/>
<rect x="511.41" y="344.74" width="34.38" height="1.00" fill="#f2c6b3" opacity="0.38"/>
<rect x="504.56" y="347.80" width="47.13" height="1.02" fill="#f2c6b3" opacity="0.44"/>
<rect x="497.04" y="353.90" width="58.09" height="1.33" fill="#f2c6b3" opacity="0.42"/>
<rect x="506.86" y="356.46" width="38.44" height="0.93" fill="#f2c6b3" opacity="0.32"/>
<rect x="508.24" y="358.01" width="49.12" height="0.52" fill="#f2c6b3" opacity="0.33"/>
<rect x="503.24" y="360.55" width="53.05" height="0.73" fill="#f2c6b3" opacity="0.44"/>
<rect x="507.27" y="362.15" width="45.94" height="0.64" fill="#f2c6b3" opacity="0.47"/>
<rect x="510.71" y="364.06" width="35.04" height="1.27" fill="#f2c6b3" opacity="0.51"/>
<rect x="498.86" y="365.33" width="44.97" height="0.78" fill="#f2c6b3" opacity="0.57"/>
<rect x="509.03" y="366.12" width="49.58" height="1.30" fill="#f2c6b3" opacity="0.33"/>
<rect x="508.15" y="369.50" width="37.42" height="1.12" fill="#f2c6b3" opacity="0.32"/>
<rect x="509.66" y="370.61" width="44.08" height="1.37" fill="#f2c6b3" opacity="0.43"/>
<rect x="496.62" y="371.98" width="66.43" height="1.12" fill="#f2c6b3" opacity="0.27"/>
<rect x="498.58" y="374.10" width="48.42" height="1.01" fill="#f2c6b3" opacity="0.31"/>
<rect x="503.74" y="376.50" width="44.76" height="0.59" fill="#f2c6b3" opacity="0.58"/>
<rect x="511.39" y="378.84" width="48.79" height="1.04" fill="#f2c6b3" opacity="0.50"/>
<rect x="504.75" y="380.79" width="58.74" height="0.86" fill="#f2c6b3" opacity="0.31"/>
<rect x="503.88" y="394.34" width="59.71" height="1.15" fill="#f2c6b3" opacity="0.37"/>
<rect x="507.82" y="396.31" width="49.22" height="1.06" fill="#f2c6b3" opacity="0.58"/>
<rect x="507.35" y="398.47" width="42.43" height="0.98" fill="#ffffff" opacity="0.70"/>
<rect x="495.51" y="401.16" width="64.38" height="1.16" fill="#f2c6b3" opacity="0.39"/>
<rect x="512.61" y="402.32" width="40.19" height="0.84" fill="#f2c6b3" opacity="0.34"/>
<rect x="497.70" y="406.77" width="56.67" height="1.18" fill="#f2c6b3" opacity="0.58"/>
<rect x="502.91" y="408.60" width="50.35" height="1.05" fill="#f2c6b3" opacity="0.58"/>
<rect x="507.60" y="409.65" width="44.98" height="1.04" fill="#ffffff" opacity="0.41"/>
<rect x="495.36" y="411.45" width="65.31" height="0.77" fill="#f2c6b3" opacity="0.34"/>
<rect x="509.47" y="412.21" width="53.33" height="1.18" fill="#ffffff" opacity="0.66"/>
<rect x="513.25" y="416.24" width="36.10" height="1.38" fill="#f2c6b3" opacity="0.43"/>
<rect x="505.06" y="420.37" width="56.25" height="0.91" fill="#f2c6b3" opacity="0.27"/>
<rect x="502.89" y="422.18" width="45.35" height="0.91" fill="#f2c6b3" opacity="0.45"/>
<rect x="510.19" y="425.43" width="41.11" height="0.71" fill="#f2c6b3" opacity="0.56"/>
<rect x="505.80" y="426.14" width="46.17" height="0.82" fill="#f2c6b3" opacity="0.49"/>
<rect x="512.81" y="428.03" width="33.41" height="0.67" fill="#f2c6b3" opacity="0.59"/>
<rect x="503.00" y="428.70" width="48.33" height="0.54" fill="#f2c6b3" opacity="0.34"/>
<rect x="505.51" y="429.83" width="45.67" height="0.57" fill="#f2c6b3" opacity="0.49"/>
<rect x="511.27" y="431.23" width="51.04" height="0.69" fill="#f2c6b3" opacity="0.51"/>
<rect x="509.42" y="435.85" width="35.96" height="1.39" fill="#f2c6b3" opacity="0.44"/>
<rect x="512.00" y="437.24" width="50.23" height="0.88" fill="#ffffff" opacity="0.34"/>
<rect x="496.13" y="440.40" width="61.59" height="0.57" fill="#f2c6b3" opacity="0.48"/>
<rect x="509.02" y="442.12" width="47.45" height="0.75" fill="#f2c6b3" opacity="0.38"/>
<rect x="513.19" y="446.74" width="32.71" height="0.77" fill="#f2c6b3" opacity="0.39"/>
<rect x="501.77" y="447.51" width="54.12" height="0.72" fill="#ffffff" opacity="0.45"/>
<rect x="510.44" y="448.23" width="42.55" height="0.85" fill="#f2c6b3" opacity="0.45"/>
<rect x="504.81" y="451.00" width="48.10" height="1.29" fill="#f2c6b3" opacity="0.26"/>
<rect x="509.24" y="454.94" width="36.58" height="1.21" fill="#f2c6b3" opacity="0.28"/>
<rect x="509.81" y="457.36" width="43.56" height="1.08" fill="#f2c6b3" opacity="0.33"/>
<rect x="513.87" y="458.44" width="36.49" height="0.56" fill="#ffffff" opacity="0.44"/>
<rect x="520.00" y="237.30" width="18.00" height="221.70" fill="url(#gglow)"/>
<g filter="url(#blurx)">
<rect x="525.23" y="237.30" width="7.39" height="1.35" fill="#e62c22" opacity="0.96"/>
<rect x="525.38" y="238.60" width="7.63" height="1.35" fill="#e62c22" opacity="0.91"/>
<rect x="525.14" y="239.90" width="7.75" height="1.35" fill="#e62c22" opacity="0.98"/>
<rect x="525.28" y="241.20" width="7.71" height="1.35" fill="#e62c22" opacity="0.98"/>
<rect x="525.06" y="242.50" width="7.87" height="1.35" fill="#e62c22" opacity="0.93"/>
<rect x="525.34" y="243.80" width="7.55" height="1.35" fill="#e62c22" opacity="0.91"/>
<rect x="525.06" y="245.10" width="7.18" height="1.35" fill="#e62d23" opacity="0.96"/>
<rect x="524.89" y="246.40" width="7.85" height="1.35" fill="#e62d23" opacity="0.88"/>
<rect x="525.41" y="247.70" width="6.88" height="1.35" fill="#e62d23" opacity="0.89"/>
<rect x="524.70" y="249.00" width="7.78" height="1.35" fill="#e62e23" opacity="0.90"/>
<rect x="525.64" y="250.30" width="6.73" height="1.35" fill="#e62e24" opacity="0.97"/>
<rect x="525.20" y="251.60" width="6.79" height="1.35" fill="#e62e24" opacity="0.92"/>
<rect x="525.56" y="252.90" width="7.25" height="1.35" fill="#e62f24" opacity="0.86"/>
<rect x="525.35" y="254.20" width="6.66" height="1.35" fill="#e62f24" opacity="0.88"/>
<rect x="525.65" y="255.50" width="6.80" height="1.35" fill="#e62f25" opacity="0.94"/>
<rect x="525.30" y="256.80" width="6.76" height="1.35" fill="#e63025" opacity="0.89"/>
<rect x="525.74" y="258.10" width="6.68" height="1.35" fill="#e63025" opacity="0.90"/>
<rect x="525.57" y="259.40" width="7.11" height="1.35" fill="#e63026" opacity="0.92"/>
<rect x="525.80" y="260.70" width="6.74" height="1.35" fill="#e63126" opacity="0.99"/>
<rect x="525.52" y="262.00" width="6.82" height="1.35" fill="#e63126" opacity="0.99"/>
<rect x="525.22" y="263.30" width="6.97" height="1.35" fill="#e63127" opacity="0.86"/>
<rect x="525.36" y="264.60" width="7.51" height="1.35" fill="#e63227" opacity="0.91"/>
<rect x="525.42" y="265.90" width="6.98" height="1.35" fill="#e63227" opacity="0.89"/>
<rect x="525.25" y="267.20" width="7.52" height="1.35" fill="#e63328" opacity="0.89"/>
<rect x="525.72" y="268.50" width="6.32" height="1.35" fill="#e63328" opacity="0.91"/>
<rect x="525.43" y="269.80" width="7.24" height="1.35" fill="#e63328" opacity="0.94"/>
<rect x="525.43" y="271.10" width="6.46" height="1.35" fill="#e63429" opacity="0.90"/>
<rect x="525.88" y="272.40" width="6.56" height="1.35" fill="#e63429" opacity="0.93"/>
<rect x="525.75" y="273.70" width="6.99" height="1.35" fill="#e63529" opacity="0.89"/>
<rect x="525.23" y="275.00" width="6.85" height="1.35" fill="#e6352a" opacity="0.97"/>
<rect x="526.03" y="276.30" width="6.19" height="1.35" fill="#e6362a" opacity="0.98"/>
<rect x="525.03" y="277.60" width="7.15" height="1.35" fill="#e6362a" opacity="0.89"/>
<rect x="525.12" y="278.90" width="7.00" height="1.35" fill="#e6362b" opacity="0.92"/>
<rect x="525.88" y="280.20" width="6.69" height="1.35" fill="#e6372b" opacity="0.94"/>
<rect x="525.20" y="281.50" width="7.13" height="1.35" fill="#e6372c" opacity="0.97"/>
<rect x="525.90" y="282.80" width="6.58" height="1.35" fill="#e7382c" opacity="0.86"/>
<rect x="525.17" y="284.10" width="7.05" height="1.35" fill="#e7382c" opacity="0.93"/>
<rect x="525.32" y="285.40" width="6.67" height="1.35" fill="#e7392d" opacity="0.97"/>
<rect x="525.57" y="286.70" width="6.39" height="1.35" fill="#e7392d" opacity="0.86"/>
<rect x="525.69" y="288.00" width="6.37" height="1.35" fill="#e73a2e" opacity="0.96"/>
<rect x="525.83" y="289.30" width="6.41" height="1.35" fill="#e73a2e" opacity="0.87"/>
<rect x="525.66" y="290.60" width="6.43" height="1.35" fill="#e73b2e" opacity="1.00"/>
<rect x="525.54" y="291.90" width="6.93" height="1.35" fill="#e73b2f" opacity="0.85"/>
<rect x="525.86" y="293.20" width="6.37" height="1.35" fill="#e73c2f" opacity="0.89"/>
<rect x="525.58" y="294.50" width="6.57" height="1.35" fill="#e73c30" opacity="0.85"/>
<rect x="525.58" y="295.80" width="7.07" height="1.35" fill="#e73c30" opacity="0.88"/>
<rect x="525.46" y="297.10" width="6.60" height="1.35" fill="#e73d30" opacity="0.91"/>
<rect x="525.52" y="298.40" width="6.48" height="1.35" fill="#e73d31" opacity="0.90"/>
<rect x="525.87" y="299.70" width="6.29" height="1.35" fill="#e73e31" opacity="0.89"/>
<rect x="526.04" y="301.00" width="6.03" height="1.35" fill="#e73e32" opacity="0.90"/>
<rect x="525.49" y="302.30" width="6.91" height="1.35" fill="#e73f32" opacity="0.96"/>
<rect x="526.05" y="303.60" width="6.15" height="1.35" fill="#e73f33" opacity="0.86"/>
<rect x="525.67" y="304.90" width="5.90" height="1.35" fill="#e74033" opacity="0.95"/>
<rect x="525.39" y="306.20" width="6.56" height="1.35" fill="#e74133" opacity="0.91"/>
<rect x="525.62" y="307.50" width="6.70" height="1.35" fill="#e74134" opacity="0.86"/>
<rect x="525.69" y="308.80" width="5.94" height="1.35" fill="#e74234" opacity="0.87"/>
<rect x="525.53" y="310.10" width="6.14" height="1.35" fill="#e74235" opacity="0.99"/>
<rect x="525.84" y="311.40" width="6.14" height="1.35" fill="#e74335" opacity="0.95"/>
<rect x="525.86" y="312.70" width="6.53" height="1.35" fill="#e74336" opacity="0.91"/>
<rect x="525.85" y="314.00" width="5.99" height="1.35" fill="#e84436" opacity="0.85"/>
<rect x="526.02" y="315.30" width="6.05" height="1.35" fill="#e84437" opacity="1.00"/>
<rect x="525.76" y="316.60" width="6.50" height="1.35" fill="#e84537" opacity="0.94"/>
<rect x="526.01" y="317.90" width="5.55" height="1.35" fill="#e84538" opacity="0.90"/>
<rect x="525.48" y="319.20" width="6.29" height="1.35" fill="#e84638" opacity="0.91"/>
<rect x="526.05" y="320.50" width="6.10" height="1.35" fill="#e84638" opacity="0.97"/>
<rect x="525.56" y="321.80" width="6.20" height="1.35" fill="#e84739" opacity="0.96"/>
<rect x="525.67" y="323.10" width="6.53" height="1.35" fill="#e84739" opacity="0.90"/>
<rect x="525.64" y="324.40" width="6.03" height="1.35" fill="#e8483a" opacity="0.96"/>
<rect x="525.62" y="325.70" width="6.59" height="1.35" fill="#e8493a" opacity="0.96"/>
<rect x="525.49" y="327.00" width="6.39" height="1.35" fill="#e8493b" opacity="0.99"/>
<rect x="525.63" y="328.30" width="6.12" height="1.35" fill="#e84a3b" opacity="0.86"/>
<rect x="526.14" y="329.60" width="5.64" height="1.35" fill="#e84a3c" opacity="0.95"/>
<rect x="526.34" y="330.90" width="5.72" height="1.35" fill="#e84b3c" opacity="0.90"/>
<rect x="525.71" y="332.20" width="5.86" height="1.35" fill="#e84b3d" opacity="1.00"/>
<rect x="526.46" y="333.50" width="5.44" height="1.35" fill="#e84c3d" opacity="0.93"/>
<rect x="525.98" y="334.80" width="5.93" height="1.35" fill="#e84c3e" opacity="0.89"/>
<rect x="526.08" y="336.10" width="6.33" height="1.35" fill="#e84d3e" opacity="0.97"/>
<rect x="525.67" y="337.40" width="5.94" height="1.35" fill="#e84e3f" opacity="0.97"/>
<rect x="526.41" y="338.70" width="5.55" height="1.35" fill="#e84e3f" opacity="0.89"/>
<rect x="526.20" y="340.00" width="5.87" height="1.35" fill="#e84f40" opacity="0.88"/>
<rect x="525.70" y="341.30" width="5.82" height="1.35" fill="#e84f40" opacity="0.85"/>
<rect x="526.56" y="342.60" width="5.35" height="1.35" fill="#e95041" opacity="0.99"/>
<rect x="525.81" y="343.90" width="5.91" height="1.35" fill="#e95141" opacity="0.95"/>
<rect x="525.83" y="345.20" width="5.98" height="1.35" fill="#e95142" opacity="0.94"/>
<rect x="525.54" y="346.50" width="6.04" height="1.35" fill="#e95242" opacity="0.88"/>
<rect x="525.84" y="347.80" width="5.62" height="1.35" fill="#e95243" opacity="0.91"/>
<rect x="525.81" y="349.10" width="5.72" height="1.35" fill="#e95343" opacity="0.93"/>
<rect x="526.28" y="350.40" width="5.33" height="1.35" fill="#e95444" opacity="0.90"/>
<rect x="525.69" y="351.70" width="5.76" height="1.35" fill="#e95444" opacity="0.95"/>
<rect x="526.65" y="353.00" width="5.15" height="1.35" fill="#e95545" opacity="0.94"/>
<rect x="526.08" y="354.30" width="5.52" height="1.35" fill="#e95545" opacity="0.94"/>
<rect x="526.20" y="355.60" width="5.76" height="1.35" fill="#e95646" opacity="0.96"/>
<rect x="526.50" y="356.90" width="5.49" height="1.35" fill="#e95746" opacity="0.98"/>
<rect x="525.88" y="358.20" width="5.92" height="1.35" fill="#e95747" opacity="0.92"/>
<rect x="526.41" y="359.50" width="5.55" height="1.35" fill="#e95847" opacity="0.93"/>
<rect x="526.11" y="360.80" width="5.48" height="1.35" fill="#e95848" opacity="0.99"/>
<rect x="525.98" y="362.10" width="5.21" height="1.35" fill="#e95948" opacity="0.96"/>
<rect x="526.12" y="363.40" width="5.89" height="1.35" fill="#e95a49" opacity="0.94"/>
<rect x="525.92" y="364.70" width="5.69" height="1.35" fill="#e95a49" opacity="0.94"/>
<rect x="526.21" y="366.00" width="4.85" height="1.35" fill="#e95b4a" opacity="0.92"/>
<rect x="526.15" y="367.30" width="5.35" height="1.35" fill="#e95b4a" opacity="0.86"/>
<rect x="526.14" y="368.60" width="5.56" height="1.35" fill="#ea5c4b" opacity="0.89"/>
<rect x="526.29" y="369.90" width="5.07" height="1.35" fill="#ea5d4c" opacity="0.89"/>
<rect x="526.80" y="371.20" width="4.77" height="1.35" fill="#ea5d4c" opacity="0.99"/>
<rect x="526.42" y="372.50" width="5.46" height="1.35" fill="#ea5e4d" opacity="0.91"/>
<rect x="525.90" y="373.80" width="5.61" height="1.35" fill="#ea5f4d" opacity="0.96"/>
<rect x="526.53" y="375.10" width="5.30" height="1.35" fill="#ea5f4e" opacity="0.86"/>
<rect x="525.86" y="376.40" width="5.55" height="1.35" fill="#ea604e" opacity="0.93"/>
<rect x="525.69" y="377.70" width="5.72" height="1.35" fill="#ea614f" opacity="0.89"/>
<rect x="526.32" y="379.00" width="4.92" height="1.35" fill="#ea614f" opacity="0.86"/>
<rect x="526.31" y="380.30" width="5.62" height="1.35" fill="#ea6250" opacity="0.91"/>
<rect x="526.48" y="381.60" width="4.95" height="1.35" fill="#ea6250" opacity="0.86"/>
<rect x="526.91" y="382.90" width="4.54" height="1.35" fill="#ea6351" opacity="0.90"/>
<rect x="526.66" y="384.20" width="5.08" height="1.35" fill="#ea6452" opacity="1.00"/>
<rect x="526.18" y="385.50" width="5.03" height="1.35" fill="#ea6452" opacity="0.89"/>
<rect x="526.40" y="386.80" width="5.55" height="1.35" fill="#ea6553" opacity="0.88"/>
<rect x="526.09" y="388.10" width="5.42" height="1.35" fill="#ea6653" opacity="0.92"/>
<rect x="526.86" y="389.40" width="4.61" height="1.35" fill="#ea6654" opacity="1.00"/>
<rect x="526.68" y="390.70" width="4.62" height="1.35" fill="#ea6754" opacity="0.88"/>
<rect x="525.88" y="392.00" width="5.41" height="1.35" fill="#eb6855" opacity="0.87"/>
<rect x="526.17" y="393.30" width="5.21" height="1.35" fill="#eb6855" opacity="0.99"/>
<rect x="526.37" y="394.60" width="5.36" height="1.35" fill="#eb6956" opacity="0.87"/>
<rect x="526.64" y="395.90" width="5.13" height="1.35" fill="#eb6a57" opacity="0.92"/>
<rect x="526.52" y="397.20" width="4.37" height="1.35" fill="#eb6a57" opacity="0.90"/>
<rect x="526.13" y="398.50" width="5.11" height="1.35" fill="#eb6b58" opacity="0.88"/>
<rect x="526.76" y="399.80" width="4.52" height="1.35" fill="#eb6c58" opacity="0.97"/>
<rect x="526.68" y="401.10" width="4.66" height="1.35" fill="#eb6c59" opacity="0.98"/>
<rect x="526.26" y="402.40" width="4.90" height="1.35" fill="#eb6d59" opacity="0.90"/>
<rect x="526.37" y="403.70" width="5.29" height="1.35" fill="#eb6e5a" opacity="0.89"/>
<rect x="526.15" y="405.00" width="4.92" height="1.35" fill="#eb6e5b" opacity="1.00"/>
<rect x="526.59" y="406.30" width="4.66" height="1.35" fill="#eb6f5b" opacity="0.93"/>
<rect x="526.89" y="407.60" width="4.17" height="1.35" fill="#eb705c" opacity="0.89"/>
<rect x="526.92" y="408.90" width="4.39" height="1.35" fill="#eb705c" opacity="0.86"/>
<rect x="526.87" y="410.20" width="4.41" height="1.35" fill="#eb715d" opacity="0.89"/>
<rect x="526.74" y="411.50" width="4.38" height="1.35" fill="#eb725d" opacity="0.88"/>
<rect x="526.69" y="412.80" width="5.11" height="1.35" fill="#eb725e" opacity="0.86"/>
<rect x="526.79" y="414.10" width="4.56" height="1.35" fill="#eb735f" opacity="0.91"/>
<rect x="526.35" y="415.40" width="5.10" height="1.35" fill="#ec745f" opacity="0.88"/>
<rect x="526.68" y="416.70" width="4.64" height="1.35" fill="#ec7460" opacity="0.90"/>
<rect x="526.73" y="418.00" width="4.74" height="1.35" fill="#ec7560" opacity="0.93"/>
<rect x="526.88" y="419.30" width="4.53" height="1.35" fill="#ec7661" opacity="0.95"/>
<rect x="526.95" y="420.60" width="4.53" height="1.35" fill="#ec7662" opacity="0.88"/>
<rect x="526.25" y="421.90" width="4.82" height="1.35" fill="#ec7762" opacity="0.94"/>
<rect x="526.78" y="423.20" width="4.15" height="1.35" fill="#ec7863" opacity="0.97"/>
<rect x="526.71" y="424.50" width="4.79" height="1.35" fill="#ec7963" opacity="0.89"/>
<rect x="526.50" y="425.80" width="4.41" height="1.35" fill="#ec7964" opacity="0.94"/>
<rect x="526.37" y="427.10" width="4.40" height="1.35" fill="#ec7a65" opacity="0.94"/>
<rect x="526.63" y="428.40" width="4.64" height="1.35" fill="#ec7b65" opacity="0.98"/>
<rect x="526.67" y="429.70" width="3.98" height="1.35" fill="#ec7b66" opacity="0.85"/>
<rect x="526.69" y="431.00" width="4.34" height="1.35" fill="#ec7c66" opacity="0.92"/>
<rect x="527.09" y="432.30" width="4.04" height="1.35" fill="#ec7d67" opacity="0.86"/>
<rect x="526.55" y="433.60" width="4.79" height="1.35" fill="#ec7d68" opacity="0.93"/>
<rect x="526.40" y="434.90" width="4.63" height="1.35" fill="#ec7e68" opacity="0.87"/>
<rect x="526.56" y="436.20" width="4.03" height="1.35" fill="#ec7f69" opacity="0.90"/>
<rect x="526.73" y="437.50" width="4.38" height="1.35" fill="#ed8069" opacity="0.89"/>
<rect x="526.45" y="438.80" width="4.33" height="1.35" fill="#ed806a" opacity="0.97"/>
<rect x="526.83" y="440.10" width="3.80" height="1.35" fill="#ed816b" opacity="0.87"/>
<rect x="526.93" y="441.40" width="4.41" height="1.35" fill="#ed826b" opacity="0.97"/>
<rect x="527.02" y="442.70" width="3.63" height="1.35" fill="#ed826c" opacity="0.90"/>
<rect x="527.33" y="444.00" width="3.80" height="1.35" fill="#ed836c" opacity="0.86"/>
<rect x="527.03" y="445.30" width="4.10" height="1.35" fill="#ed846d" opacity="1.00"/>
<rect x="527.03" y="446.60" width="3.67" height="1.35" fill="#ed856e" opacity="0.96"/>
<rect x="526.96" y="447.90" width="3.52" height="1.35" fill="#ed856e" opacity="0.98"/>
<rect x="527.01" y="449.20" width="3.62" height="1.35" fill="#ed866f" opacity="0.89"/>
<rect x="526.63" y="450.50" width="3.94" height="1.35" fill="#ed876f" opacity="0.86"/>
<rect x="526.78" y="451.80" width="4.61" height="1.35" fill="#ed8770" opacity="0.96"/>
<rect x="526.89" y="453.10" width="3.67" height="1.35" fill="#ed8871" opacity="0.93"/>
<rect x="527.04" y="454.40" width="3.66" height="1.35" fill="#ed8971" opacity="0.99"/>
<rect x="526.89" y="455.70" width="3.79" height="1.35" fill="#ed8a72" opacity="1.00"/>
<rect x="526.55" y="457.00" width="4.06" height="1.35" fill="#ed8a73" opacity="0.91"/>
<rect x="526.55" y="458.30" width="4.09" height="0.75" fill="#ed8b73" opacity="0.90"/>
</g>
<rect x="494.5" y="237.3" width="69.3" height="221.7" fill="none" stroke="#999" stroke-width="0.4"/>
<line x1="494.50" y1="237.30" x2="563.80" y2="237.30" stroke="#888" stroke-width="0.7"/>
<rect x="570.60" y="237.30" width="68.90" height="221.70" fill="#ffffff"/>
<rect x="570.60" y="237.30" width="68.90" height="4.20" fill="#2a7d33"/>
<line x1="570.60" y1="239.90" x2="639.50" y2="239.90" stroke="#ffffff" stroke-width="0.4" opacity="0.5"/>
<rect x="570.60" y="241.90" width="68.90" height="1.26" fill="url(#gg1)" opacity="0.95"/>
<rect x="570.60" y="243.16" width="68.90" height="1.01" fill="url(#gg1)" opacity="0.90"/>
<rect x="570.60" y="244.17" width="68.90" height="0.98" fill="url(#gg1)" opacity="0.62"/>
<rect x="573.63" y="245.15" width="65.87" height="0.87" fill="url(#gg1)" opacity="0.74"/>
<rect x="570.84" y="246.02" width="66.90" height="1.24" fill="url(#gg1)" opacity="0.71"/>
<rect x="570.68" y="247.26" width="68.10" height="1.25" fill="url(#gg1)" opacity="0.54"/>
<rect x="586.14" y="247.26" width="37.17" height="1.25" fill="url(#gg2)" opacity="0.06"/>
<rect x="570.61" y="248.52" width="68.00" height="1.44" fill="url(#gg1)" opacity="0.69"/>
<rect x="580.62" y="248.52" width="47.99" height="1.44" fill="url(#gg2)" opacity="0.12"/>
<rect x="570.60" y="249.95" width="68.90" height="1.31" fill="url(#gg1)" opacity="0.54"/>
<rect x="585.93" y="249.95" width="38.72" height="1.31" fill="url(#gg2)" opacity="0.17"/>
<rect x="570.60" y="251.27" width="68.90" height="1.41" fill="url(#gg1)" opacity="0.75"/>
<rect x="584.90" y="251.27" width="38.65" height="1.41" fill="url(#gg2)" opacity="0.24"/>
<rect x="570.60" y="254.01" width="68.90" height="0.95" fill="url(#gg1)" opacity="0.57"/>
<rect x="588.81" y="254.01" width="36.04" height="0.95" fill="url(#gg2)" opacity="0.45"/>
<rect x="570.60" y="255.82" width="68.90" height="0.86" fill="url(#gg1)" opacity="0.68"/>
<rect x="582.89" y="255.82" width="45.31" height="0.86" fill="url(#gg2)" opacity="0.44"/>
<rect x="571.15" y="256.69" width="65.90" height="0.93" fill="url(#gg1)" opacity="0.53"/>
<rect x="583.39" y="256.69" width="41.41" height="0.93" fill="url(#gg2)" opacity="0.56"/>
<rect x="574.28" y="257.62" width="65.22" height="1.35" fill="url(#gg1)" opacity="0.79"/>
<rect x="590.31" y="257.62" width="34.74" height="1.35" fill="url(#gg2)" opacity="0.64"/>
<rect x="570.60" y="258.97" width="68.90" height="1.23" fill="url(#gg1)" opacity="0.60"/>
<rect x="590.26" y="258.97" width="32.55" height="1.23" fill="url(#gg2)" opacity="0.64"/>
<rect x="570.60" y="260.91" width="68.15" height="1.01" fill="url(#gg1)" opacity="0.61"/>
<rect x="586.11" y="260.91" width="37.06" height="1.01" fill="url(#gg2)" opacity="0.74"/>
<rect x="573.64" y="261.92" width="63.46" height="0.83" fill="url(#gg1)" opacity="0.53"/>
<rect x="586.78" y="261.92" width="37.18" height="0.83" fill="url(#gg2)" opacity="0.64"/>
<rect x="570.60" y="262.75" width="67.52" height="1.17" fill="url(#gg1)" opacity="0.77"/>
<rect x="585.82" y="262.75" width="36.55" height="1.17" fill="url(#gg2)" opacity="0.70"/>
<rect x="576.64" y="263.92" width="59.41" height="0.75" fill="url(#gg1)" opacity="0.69"/>
<rect x="587.59" y="263.92" width="37.51" height="0.75" fill="url(#gg2)" opacity="0.69"/>
<rect x="573.30" y="265.30" width="66.20" height="0.98" fill="url(#gg1)" opacity="0.59"/>
<rect x="590.18" y="265.30" width="32.98" height="0.98" fill="url(#gg2)" opacity="0.73"/>
<rect x="576.27" y="266.28" width="62.99" height="1.19" fill="url(#gg1)" opacity="0.71"/>
<rect x="586.97" y="266.28" width="41.59" height="1.19" fill="url(#gg2)" opacity="0.77"/>
<rect x="575.75" y="267.47" width="63.13" height="1.20" fill="url(#gg1)" opacity="0.59"/>
<rect x="585.85" y="267.47" width="42.95" height="1.20" fill="url(#gg2)" opacity="0.69"/>
<rect x="577.79" y="269.66" width="60.24" height="0.81" fill="url(#gg1)" opacity="0.61"/>
<rect x="592.07" y="269.66" width="31.68" height="0.81" fill="url(#gg2)" opacity="0.62"/>
<rect x="576.84" y="270.47" width="58.67" height="0.88" fill="url(#gg1)" opacity="0.47"/>
<rect x="588.61" y="270.47" width="35.12" height="0.88" fill="url(#gg2)" opacity="0.64"/>
<rect x="574.82" y="271.36" width="62.86" height="1.09" fill="url(#gg1)" opacity="0.70"/>
<rect x="585.58" y="271.36" width="41.33" height="1.09" fill="url(#gg2)" opacity="0.85"/>
<rect x="573.27" y="272.45" width="66.23" height="0.97" fill="url(#gg1)" opacity="0.58"/>
<rect x="587.31" y="272.45" width="39.11" height="0.97" fill="url(#gg2)" opacity="0.76"/>
<rect x="578.00" y="273.42" width="55.93" height="1.47" fill="url(#gg1)" opacity="0.69"/>
<rect x="587.46" y="273.42" width="37.00" height="1.47" fill="url(#gg2)" opacity="0.66"/>
<rect x="574.74" y="274.89" width="60.52" height="0.93" fill="url(#gg1)" opacity="0.54"/>
<rect x="588.37" y="274.89" width="33.26" height="0.93" fill="url(#gg2)" opacity="0.60"/>
<rect x="580.47" y="277.12" width="53.24" height="0.78" fill="url(#gg1)" opacity="0.61"/>
<rect x="589.58" y="277.12" width="35.03" height="0.78" fill="url(#gg2)" opacity="0.59"/>
<rect x="580.04" y="277.90" width="51.98" height="1.39" fill="url(#gg1)" opacity="0.54"/>
<rect x="586.38" y="277.90" width="39.30" height="1.39" fill="url(#gg2)" opacity="0.65"/>
<rect x="575.16" y="279.30" width="60.36" height="1.27" fill="url(#gg1)" opacity="0.56"/>
<rect x="586.11" y="279.30" width="38.44" height="1.27" fill="url(#gg2)" opacity="0.77"/>
<rect x="578.72" y="280.57" width="55.54" height="1.36" fill="url(#gg1)" opacity="0.69"/>
<rect x="586.93" y="280.57" width="39.13" height="1.36" fill="url(#gg2)" opacity="0.76"/>
<rect x="575.71" y="281.93" width="58.06" height="0.80" fill="url(#gg1)" opacity="0.51"/>
<rect x="590.94" y="281.93" width="27.59" height="0.80" fill="url(#gg2)" opacity="0.69"/>
<rect x="580.46" y="282.73" width="50.44" height="1.45" fill="url(#gg1)" opacity="0.67"/>
<rect x="587.74" y="282.73" width="35.87" height="1.45" fill="url(#gg2)" opacity="0.63"/>
<rect x="580.21" y="284.18" width="48.52" height="1.45" fill="url(#gg1)" opacity="0.67"/>
<rect x="590.69" y="284.18" width="27.58" height="1.45" fill="url(#gg2)" opacity="0.59"/>
<rect x="579.78" y="285.63" width="48.65" height="1.28" fill="url(#gg1)" opacity="0.53"/>
<rect x="587.11" y="285.63" width="34.00" height="1.28" fill="url(#gg2)" opacity="0.64"/>
<rect x="576.86" y="286.92" width="56.55" height="1.00" fill="url(#gg1)" opacity="0.70"/>
<rect x="589.29" y="286.92" width="31.70" height="1.00" fill="url(#gg2)" opacity="0.67"/>
<rect x="580.81" y="287.91" width="50.74" height="1.31" fill="url(#gg1)" opacity="0.64"/>
<rect x="587.76" y="287.91" width="36.85" height="1.31" fill="url(#gg2)" opacity="0.54"/>
<rect x="579.89" y="289.81" width="50.81" height="1.45" fill="url(#gg1)" opacity="0.44"/>
<rect x="592.19" y="289.81" width="26.22" height="1.45" fill="url(#gg2)" opacity="0.64"/>
<rect x="582.26" y="291.26" width="47.34" height="0.81" fill="url(#gg1)" opacity="0.47"/>
<rect x="590.73" y="291.26" width="30.39" height="0.81" fill="url(#gg2)" opacity="0.56"/>
<rect x="583.81" y="292.59" width="44.24" height="1.41" fill="url(#gg1)" opacity="0.45"/>
<rect x="586.87" y="292.59" width="38.12" height="1.41" fill="url(#gg2)" opacity="0.53"/>
<rect x="581.91" y="294.01" width="47.35" height="1.39" fill="url(#gg1)" opacity="0.65"/>
<rect x="592.64" y="294.01" width="25.89" height="1.39" fill="url(#gg2)" opacity="0.62"/>
<rect x="585.00" y="295.40" width="44.92" height="1.23" fill="url(#gg1)" opacity="0.68"/>
<rect x="588.83" y="295.40" width="37.26" height="1.23" fill="url(#gg2)" opacity="0.58"/>
<rect x="583.15" y="296.63" width="43.06" height="1.37" fill="url(#gg1)" opacity="0.39"/>
<rect x="591.62" y="296.63" width="26.11" height="1.37" fill="url(#gg2)" opacity="0.48"/>
<rect x="582.17" y="298.00" width="43.74" height="0.99" fill="url(#gg1)" opacity="0.53"/>
<rect x="590.58" y="298.00" width="26.93" height="0.99" fill="url(#gg2)" opacity="0.70"/>
<rect x="582.66" y="298.98" width="48.56" height="0.71" fill="url(#gg1)" opacity="0.61"/>
<rect x="592.45" y="298.98" width="28.99" height="0.71" fill="url(#gg2)" opacity="0.65"/>
<rect x="582.82" y="299.69" width="49.97" height="1.36" fill="url(#gg1)" opacity="0.40"/>
<rect x="593.38" y="299.69" width="28.85" height="1.36" fill="url(#gg2)" opacity="0.62"/>
<rect x="585.48" y="301.05" width="38.86" height="0.90" fill="url(#gg1)" opacity="0.53"/>
<rect x="590.74" y="301.05" width="28.34" height="0.90" fill="url(#gg2)" opacity="0.53"/>
<rect x="584.47" y="301.95" width="41.89" height="1.23" fill="url(#gg1)" opacity="0.54"/>
<rect x="592.00" y="301.95" width="26.83" height="1.23" fill="url(#gg2)" opacity="0.66"/>
<rect x="586.60" y="303.85" width="39.16" height="0.97" fill="url(#gg1)" opacity="0.56"/>
<rect x="590.68" y="303.85" width="31.00" height="0.97" fill="url(#gg2)" opacity="0.47"/>
<rect x="587.49" y="305.37" width="36.25" height="0.98" fill="url(#gg1)" opacity="0.49"/>
<rect x="592.38" y="305.37" width="26.47" height="0.98" fill="url(#gg2)" opacity="0.55"/>
<rect x="584.94" y="306.35" width="44.15" height="1.46" fill="url(#gg1)" opacity="0.43"/>
<rect x="595.11" y="306.35" width="23.81" height="1.46" fill="url(#gg2)" opacity="0.65"/>
<rect x="588.40" y="307.81" width="36.84" height="1.04" fill="url(#gg1)" opacity="0.44"/>
<rect x="594.71" y="307.81" width="24.23" height="1.04" fill="url(#gg2)" opacity="0.48"/>
<rect x="586.85" y="308.85" width="37.15" height="1.24" fill="url(#gg1)" opacity="0.38"/>
<rect x="588.98" y="308.85" width="32.90" height="1.24" fill="url(#gg2)" opacity="0.44"/>
<rect x="586.81" y="310.09" width="39.30" height="1.21" fill="url(#gg1)" opacity="0.38"/>
<rect x="590.78" y="310.09" width="31.36" height="1.21" fill="url(#gg2)" opacity="0.59"/>
<rect x="588.45" y="311.30" width="37.79" height="1.20" fill="url(#gg1)" opacity="0.35"/>
<rect x="592.94" y="311.30" width="28.83" height="1.20" fill="url(#gg2)" opacity="0.49"/>
<rect x="588.71" y="312.51" width="35.38" height="1.23" fill="url(#gg1)" opacity="0.37"/>
<rect x="592.80" y="312.51" width="27.20" height="1.23" fill="url(#gg2)" opacity="0.50"/>
<rect x="588.83" y="313.74" width="35.10" height="0.73" fill="url(#gg1)" opacity="0.46"/>
<rect x="591.10" y="313.74" width="30.55" height="0.73" fill="url(#gg2)" opacity="0.42"/>
<rect x="588.41" y="314.46" width="37.07" height="1.07" fill="url(#gg1)" opacity="0.38"/>
<rect x="591.51" y="314.46" width="30.88" height="1.07" fill="url(#gg2)" opacity="0.46"/>
<rect x="590.83" y="316.51" width="31.53" height="1.49" fill="url(#gg1)" opacity="0.49"/>
<rect x="591.81" y="316.51" width="29.58" height="1.49" fill="url(#gg2)" opacity="0.53"/>
<rect x="589.22" y="318.01" width="36.52" height="1.34" fill="url(#gg1)" opacity="0.30"/>
<rect x="594.10" y="318.01" width="26.77" height="1.34" fill="url(#gg2)" opacity="0.41"/>
<rect x="588.78" y="319.34" width="32.00" height="1.35" fill="url(#gg1)" opacity="0.48"/>
<rect x="593.74" y="319.34" width="22.09" height="1.35" fill="url(#gg2)" opacity="0.47"/>
<rect x="588.51" y="320.69" width="32.91" height="0.76" fill="url(#gg1)" opacity="0.38"/>
<rect x="591.66" y="320.69" width="26.61" height="0.76" fill="url(#gg2)" opacity="0.50"/>
<rect x="588.00" y="321.45" width="33.21" height="1.32" fill="url(#gg1)" opacity="0.44"/>
<rect x="593.49" y="321.45" width="22.23" height="1.32" fill="url(#gg2)" opacity="0.36"/>
<rect x="588.52" y="322.77" width="31.90" height="0.73" fill="url(#gg1)" opacity="0.44"/>
<rect x="594.43" y="322.77" width="20.09" height="0.73" fill="url(#gg2)" opacity="0.40"/>
<rect x="592.15" y="323.50" width="31.60" height="1.38" fill="url(#gg1)" opacity="0.27"/>
<rect x="597.91" y="323.50" width="20.08" height="1.38" fill="url(#gg2)" opacity="0.44"/>
<rect x="592.82" y="324.87" width="25.81" height="1.40" fill="url(#gg1)" opacity="0.38"/>
<rect x="596.76" y="324.87" width="17.92" height="1.40" fill="url(#gg2)" opacity="0.38"/>
<rect x="594.08" y="326.28" width="25.40" height="0.95" fill="url(#gg1)" opacity="0.36"/>
<rect x="597.32" y="326.28" width="18.91" height="0.95" fill="url(#gg2)" opacity="0.33"/>
<rect x="595.86" y="327.23" width="23.80" height="1.26" fill="url(#gg1)" opacity="0.26"/>
<rect x="596.65" y="327.23" width="22.23" height="1.26" fill="url(#gg2)" opacity="0.36"/>
<rect x="592.26" y="328.48" width="26.37" height="0.86" fill="url(#gg1)" opacity="0.36"/>
<rect x="595.84" y="328.48" width="19.20" height="0.86" fill="url(#gg2)" opacity="0.36"/>
<rect x="593.57" y="329.34" width="24.13" height="0.82" fill="url(#gg1)" opacity="0.37"/>
<rect x="595.61" y="329.34" width="20.06" height="0.82" fill="url(#gg2)" opacity="0.36"/>
<rect x="593.75" y="330.16" width="25.13" height="1.45" fill="url(#gg1)" opacity="0.26"/>
<rect x="597.15" y="330.16" width="18.33" height="1.45" fill="url(#gg2)" opacity="0.41"/>
<rect x="595.82" y="331.61" width="23.84" height="0.93" fill="url(#gg1)" opacity="0.28"/>
<rect x="592.91" y="332.54" width="22.70" height="1.01" fill="url(#gg1)" opacity="0.27"/>
<rect x="594.64" y="333.55" width="21.07" height="1.04" fill="url(#gg1)" opacity="0.34"/>
<rect x="594.88" y="334.58" width="19.31" height="1.26" fill="url(#gg1)" opacity="0.24"/>
<rect x="597.68" y="335.84" width="19.20" height="1.42" fill="url(#gg1)" opacity="0.22"/>
<rect x="598.27" y="337.26" width="18.63" height="1.38" fill="url(#gg1)" opacity="0.17"/>
<rect x="598.30" y="338.64" width="16.76" height="0.77" fill="url(#gg1)" opacity="0.23"/>
<rect x="597.32" y="339.41" width="18.42" height="0.98" fill="url(#gg1)" opacity="0.14"/>
<rect x="598.86" y="340.38" width="15.65" height="1.08" fill="url(#gg1)" opacity="0.16"/>
<rect x="597.32" y="341.46" width="16.52" height="1.18" fill="url(#gg1)" opacity="0.21"/>
<rect x="597.07" y="342.64" width="14.40" height="1.36" fill="url(#gg1)" opacity="0.18"/>
<rect x="601.53" y="344.01" width="12.86" height="1.07" fill="url(#gg1)" opacity="0.09"/>
<rect x="601.83" y="345.08" width="10.28" height="0.87" fill="url(#gg1)" opacity="0.07"/>
<rect x="601.73" y="345.94" width="10.48" height="0.77" fill="url(#gg1)" opacity="0.02"/>
<rect x="625.89" y="266.83" width="3.14" height="0.79" fill="#ffffff" opacity="0.55"/>
<rect x="581.61" y="287.93" width="3.55" height="0.87" fill="#ffffff" opacity="0.90"/>
<rect x="595.28" y="244.37" width="2.51" height="0.67" fill="#ffffff" opacity="0.55"/>
<rect x="600.36" y="319.34" width="2.42" height="0.46" fill="#ffffff" opacity="0.76"/>
<rect x="576.60" y="254.71" width="2.44" height="0.55" fill="#ffffff" opacity="0.85"/>
<rect x="600.46" y="266.18" width="0.97" height="0.51" fill="#ffffff" opacity="0.70"/>
<rect x="604.19" y="296.70" width="3.52" height="0.45" fill="#ffffff" opacity="0.88"/>
<rect x="638.88" y="257.17" width="2.48" height="0.60" fill="#ffffff" opacity="0.78"/>
<rect x="616.52" y="326.66" width="2.12" height="0.41" fill="#ffffff" opacity="0.57"/>
<rect x="612.14" y="322.21" width="3.08" height="0.48" fill="#ffffff" opacity="0.74"/>
<rect x="577.94" y="244.80" width="1.76" height="0.88" fill="#ffffff" opacity="0.79"/>
<rect x="595.12" y="325.07" width="2.13" height="0.44" fill="#ffffff" opacity="0.62"/>
<rect x="636.16" y="252.95" width="1.85" height="0.64" fill="#ffffff" opacity="0.79"/>
<rect x="615.31" y="328.90" width="2.62" height="0.65" fill="#ffffff" opacity="0.91"/>
<rect x="594.94" y="280.66" width="3.17" height="0.53" fill="#ffffff" opacity="0.67"/>
<rect x="604.78" y="284.07" width="1.95" height="0.62" fill="#ffffff" opacity="0.70"/>
<rect x="630.17" y="246.86" width="1.00" height="0.66" fill="#ffffff" opacity="0.75"/>
<rect x="590.81" y="281.17" width="1.12" height="0.59" fill="#ffffff" opacity="0.64"/>
<rect x="592.68" y="289.43" width="3.20" height="0.64" fill="#ffffff" opacity="0.50"/>
<rect x="631.34" y="281.85" width="0.82" height="0.70" fill="#ffffff" opacity="0.93"/>
<rect x="611.58" y="277.83" width="1.98" height="0.55" fill="#ffffff" opacity="0.77"/>
<rect x="598.16" y="299.76" width="2.39" height="0.66" fill="#ffffff" opacity="0.84"/>
<rect x="576.68" y="247.20" width="1.61" height="0.54" fill="#ffffff" opacity="0.86"/>
<rect x="625.14" y="283.70" width="2.09" height="0.54" fill="#ffffff" opacity="0.81"/>
<rect x="640.86" y="250.38" width="3.46" height="0.56" fill="#ffffff" opacity="0.64"/>
<rect x="613.54" y="322.30" width="2.86" height="0.43" fill="#ffffff" opacity="0.84"/>
<rect x="614.98" y="246.70" width="2.57" height="0.86" fill="#ffffff" opacity="0.79"/>
<rect x="637.27" y="244.19" width="3.21" height="0.69" fill="#ffffff" opacity="0.50"/>
<rect x="603.37" y="314.22" width="2.97" height="0.89" fill="#ffffff" opacity="0.91"/>
<rect x="626.26" y="249.35" width="2.21" height="0.78" fill="#ffffff" opacity="0.67"/>
<rect x="602.73" y="285.87" width="1.18" height="0.56" fill="#ffffff" opacity="0.83"/>
<rect x="578.34" y="249.00" width="3.47" height="0.73" fill="#ffffff" opacity="0.75"/>
<rect x="578.52" y="253.10" width="1.79" height="0.88" fill="#ffffff" opacity="0.75"/>
<rect x="600.83" y="332.38" width="2.13" height="0.67" fill="#ffffff" opacity="0.88"/>
<rect x="632.83" y="254.09" width="2.31" height="0.42" fill="#ffffff" opacity="0.69"/>
<rect x="615.80" y="279.00" width="3.77" height="0.65" fill="#ffffff" opacity="0.81"/>
<rect x="621.47" y="280.02" width="1.14" height="0.77" fill="#ffffff" opacity="0.57"/>
<rect x="593.29" y="299.41" width="1.91" height="0.48" fill="#ffffff" opacity="0.66"/>
<rect x="606.84" y="299.96" width="2.04" height="0.69" fill="#ffffff" opacity="0.88"/>
<rect x="610.81" y="277.11" width="2.34" height="0.89" fill="#ffffff" opacity="0.65"/>
<rect x="596.67" y="310.35" width="1.64" height="0.77" fill="#ffffff" opacity="0.76"/>
<rect x="578.24" y="267.19" width="3.44" height="0.59" fill="#ffffff" opacity="0.82"/>
<rect x="612.20" y="284.41" width="2.59" height="0.89" fill="#ffffff" opacity="0.91"/>
<rect x="605.32" y="286.67" width="1.54" height="0.78" fill="#ffffff" opacity="0.55"/>
<rect x="627.07" y="272.04" width="0.91" height="0.75" fill="#ffffff" opacity="0.76"/>
<rect x="598.49" y="296.05" width="1.28" height="0.88" fill="#ffffff" opacity="0.84"/>
<rect x="595.07" y="320.96" width="3.31" height="0.51" fill="#ffffff" opacity="0.59"/>
<rect x="611.06" y="294.43" width="1.19" height="0.78" fill="#ffffff" opacity="0.76"/>
<rect x="614.40" y="330.14" width="3.01" height="0.58" fill="#ffffff" opacity="0.93"/>
<rect x="598.99" y="312.42" width="3.54" height="0.76" fill="#ffffff" opacity="0.62"/>
<rect x="575.22" y="266.42" width="2.52" height="0.53" fill="#ffffff" opacity="0.63"/>
<rect x="582.44" y="266.78" width="2.35" height="0.54" fill="#ffffff" opacity="0.63"/>
<rect x="606.57" y="269.20" width="3.60" height="0.48" fill="#ffffff" opacity="0.89"/>
<rect x="608.56" y="325.76" width="2.54" height="0.77" fill="#ffffff" opacity="0.74"/>
<rect x="621.78" y="306.68" width="3.28" height="0.53" fill="#ffffff" opacity="0.52"/>
<rect x="603.72" y="333.79" width="3.32" height="0.52" fill="#ffffff" opacity="0.70"/>
<rect x="618.98" y="278.31" width="3.82" height="0.65" fill="#ffffff" opacity="0.75"/>
<rect x="590.47" y="276.18" width="3.84" height="0.46" fill="#ffffff" opacity="0.92"/>
<rect x="589.80" y="306.40" width="3.69" height="0.45" fill="#ffffff" opacity="0.75"/>
<rect x="641.20" y="253.73" width="1.79" height="0.84" fill="#ffffff" opacity="0.53"/>
<rect x="589.93" y="307.30" width="0.89" height="0.69" fill="#ffffff" opacity="0.94"/>
<rect x="618.75" y="309.14" width="3.31" height="0.66" fill="#ffffff" opacity="0.53"/>
<rect x="591.31" y="293.65" width="2.49" height="0.58" fill="#ffffff" opacity="0.72"/>
<rect x="619.81" y="261.36" width="2.14" height="0.64" fill="#ffffff" opacity="0.54"/>
<rect x="608.83" y="289.72" width="3.91" height="0.68" fill="#ffffff" opacity="0.56"/>
<rect x="595.97" y="271.42" width="3.05" height="0.87" fill="#ffffff" opacity="0.94"/>
<rect x="612.56" y="335.09" width="3.55" height="0.87" fill="#ffffff" opacity="0.51"/>
<rect x="610.44" y="289.99" width="2.99" height="0.71" fill="#ffffff" opacity="0.78"/>
<rect x="599.00" y="333.46" width="2.46" height="0.88" fill="#ffffff" opacity="0.51"/>
<rect x="632.57" y="252.95" width="3.86" height="0.41" fill="#ffffff" opacity="0.51"/>
<rect x="610.78" y="323.32" width="2.46" height="0.69" fill="#ffffff" opacity="0.84"/>
<rect x="592.51" y="321.17" width="1.02" height="0.80" fill="#ffffff" opacity="0.94"/>
<rect x="603.68" y="323.67" width="1.87" height="0.57" fill="#ffffff" opacity="0.51"/>
<rect x="598.91" y="317.48" width="2.67" height="0.66" fill="#ffffff" opacity="0.65"/>
<rect x="604.35" y="308.14" width="1.55" height="0.84" fill="#ffffff" opacity="0.58"/>
<rect x="588.69" y="256.70" width="2.33" height="0.79" fill="#ffffff" opacity="0.65"/>
<rect x="616.01" y="265.35" width="1.63" height="0.66" fill="#ffffff" opacity="0.61"/>
<rect x="599.17" y="327.95" width="1.54" height="0.55" fill="#ffffff" opacity="0.65"/>
<rect x="611.74" y="313.19" width="3.33" height="0.67" fill="#ffffff" opacity="0.54"/>
<rect x="598.26" y="316.82" width="1.50" height="0.61" fill="#ffffff" opacity="0.95"/>
<rect x="597.87" y="278.33" width="3.72" height="0.90" fill="#ffffff" opacity="0.67"/>
<rect x="626.58" y="255.28" width="3.30" height="0.57" fill="#ffffff" opacity="0.86"/>
<rect x="594.06" y="279.19" width="2.70" height="0.77" fill="#ffffff" opacity="0.71"/>
<rect x="593.25" y="322.20" width="2.40" height="0.59" fill="#ffffff" opacity="0.53"/>
<rect x="599.39" y="331.62" width="1.46" height="0.84" fill="#ffffff" opacity="0.93"/>
<rect x="603.30" y="333.29" width="3.78" height="0.47" fill="#ffffff" opacity="0.82"/>
<rect x="601.14" y="334.67" width="1.23" height="0.74" fill="#ffffff" opacity="0.90"/>
<rect x="620.81" y="313.19" width="2.25" height="0.59" fill="#ffffff" opacity="0.55"/>
<rect x="633.52" y="268.75" width="1.03" height="0.49" fill="#ffffff" opacity="0.66"/>
<rect x="592.10" y="246.83" width="1.39" height="0.46" fill="#ffffff" opacity="0.74"/>
<rect x="609.09" y="294.95" width="3.24" height="0.66" fill="#ffffff" opacity="0.93"/>
<rect x="586.05" y="249.99" width="1.05" height="0.55" fill="#ffffff" opacity="0.84"/>
<rect x="606.07" y="332.57" width="1.31" height="0.57" fill="#ffffff" opacity="0.76"/>
<rect x="623.97" y="270.85" width="3.91" height="0.63" fill="#ffffff" opacity="0.77"/>
<rect x="605.16" y="324.91" width="1.41" height="0.87" fill="#ffffff" opacity="0.94"/>
<rect x="624.91" y="244.39" width="2.08" height="0.43" fill="#ffffff" opacity="0.57"/>
<rect x="622.27" y="258.96" width="1.48" height="0.41" fill="#ffffff" opacity="0.60"/>
<rect x="605.98" y="320.32" width="2.89" height="0.63" fill="#ffffff" opacity="0.58"/>
<rect x="591.91" y="243.49" width="0.93" height="0.53" fill="#ffffff" opacity="0.78"/>
<rect x="604.47" y="278.20" width="2.80" height="0.56" fill="#ffffff" opacity="0.66"/>
<rect x="607.71" y="328.62" width="2.13" height="0.67" fill="#ffffff" opacity="0.71"/>
<rect x="630.42" y="274.58" width="1.55" height="0.87" fill="#ffffff" opacity="0.88"/>
<rect x="598.83" y="328.43" width="2.43" height="0.89" fill="#ffffff" opacity="0.63"/>
<rect x="621.40" y="258.75" width="1.55" height="0.69" fill="#ffffff" opacity="0.57"/>
<rect x="602.62" y="334.85" width="1.11" height="0.74" fill="#ffffff" opacity="0.66"/>
<rect x="605.88" y="296.81" width="3.75" height="0.66" fill="#ffffff" opacity="0.67"/>
<rect x="605.75" y="242.16" width="1.66" height="0.69" fill="#ffffff" opacity="0.78"/>
<rect x="585.17" y="287.30" width="2.39" height="0.64" fill="#ffffff" opacity="0.79"/>
<rect x="603.03" y="337.07" width="2.22" height="0.44" fill="#ffffff" opacity="0.86"/>
<rect x="627.41" y="264.98" width="3.35" height="0.53" fill="#ffffff" opacity="0.91"/>
<rect x="602.45" y="291.39" width="2.58" height="0.87" fill="#ffffff" opacity="0.72"/>
<rect x="595.64" y="289.26" width="3.49" height="0.65" fill="#ffffff" opacity="0.65"/>
<rect x="586.81" y="261.26" width="3.47" height="0.80" fill="#ffffff" opacity="0.94"/>
<rect x="609.39" y="331.88" width="3.35" height="0.76" fill="#ffffff" opacity="0.86"/>
<rect x="597.10" y="320.53" width="3.41" height="0.55" fill="#ffffff" opacity="0.61"/>
<rect x="597.36" y="332.12" width="2.44" height="0.57" fill="#ffffff" opacity="0.86"/>
<rect x="622.86" y="301.83" width="3.78" height="0.72" fill="#ffffff" opacity="0.53"/>
<rect x="591.50" y="307.39" width="3.94" height="0.84" fill="#ffffff" opacity="0.64"/>
<rect x="619.21" y="260.22" width="3.23" height="0.89" fill="#ffffff" opacity="0.78"/>
<rect x="622.25" y="254.28" width="0.99" height="0.83" fill="#ffffff" opacity="0.85"/>
<rect x="616.72" y="318.97" width="2.62" height="0.87" fill="#ffffff" opacity="0.79"/>
<rect x="600.35" y="290.21" width="1.93" height="0.41" fill="#ffffff" opacity="0.57"/>
<rect x="598.43" y="319.97" width="2.89" height="0.79" fill="#ffffff" opacity="0.81"/>
<rect x="597.29" y="292.55" width="1.67" height="0.49" fill="#ffffff" opacity="0.79"/>
<rect x="621.83" y="309.26" width="1.86" height="0.86" fill="#ffffff" opacity="0.91"/>
<rect x="633.86" y="270.47" width="2.78" height="0.88" fill="#ffffff" opacity="0.85"/>
<rect x="592.99" y="274.66" width="2.47" height="0.64" fill="#ffffff" opacity="0.52"/>
<rect x="606.81" y="326.53" width="2.31" height="0.77" fill="#ffffff" opacity="0.61"/>
<rect x="611.43" y="261.53" width="1.57" height="0.56" fill="#ffffff" opacity="0.53"/>
<rect x="595.58" y="247.11" width="2.49" height="0.87" fill="#ffffff" opacity="0.79"/>
<rect x="600.98" y="282.61" width="1.55" height="0.64" fill="#ffffff" opacity="0.93"/>
<rect x="601.18" y="253.95" width="2.99" height="0.78" fill="#ffffff" opacity="0.75"/>
<rect x="623.06" y="304.83" width="3.69" height="0.53" fill="#ffffff" opacity="0.74"/>
<rect x="606.29" y="339.74" width="1.41" height="0.78" fill="#ffffff" opacity="0.53"/>
<rect x="609.60" y="256.73" width="1.67" height="0.76" fill="#ffffff" opacity="0.83"/>
<rect x="621.98" y="273.29" width="2.87" height="0.75" fill="#ffffff" opacity="0.71"/>
<rect x="585.26" y="284.38" width="2.32" height="0.88" fill="#ffffff" opacity="0.90"/>
<rect x="575.12" y="247.50" width="1.66" height="0.75" fill="#ffffff" opacity="0.70"/>
<rect x="600.68" y="254.53" width="2.63" height="0.77" fill="#ffffff" opacity="0.68"/>
<rect x="612.95" y="305.67" width="2.77" height="0.42" fill="#ffffff" opacity="0.82"/>
<rect x="574.17" y="254.60" width="2.32" height="0.41" fill="#ffffff" opacity="0.53"/>
<rect x="604.26" y="280.32" width="1.14" height="0.88" fill="#ffffff" opacity="0.88"/>
<rect x="610.32" y="289.69" width="1.81" height="0.89" fill="#ffffff" opacity="0.55"/>
<rect x="589.04" y="271.81" width="3.57" height="0.65" fill="#ffffff" opacity="0.68"/>
<rect x="627.23" y="281.08" width="1.62" height="0.80" fill="#ffffff" opacity="0.82"/>
<rect x="599.06" y="285.94" width="2.20" height="0.63" fill="#ffffff" opacity="0.64"/>
<rect x="602.44" y="303.14" width="1.77" height="0.79" fill="#ffffff" opacity="0.70"/>
<rect x="625.00" y="288.41" width="2.25" height="0.59" fill="#ffffff" opacity="0.90"/>
<rect x="609.68" y="337.69" width="2.08" height="0.74" fill="#ffffff" opacity="0.83"/>
<rect x="619.73" y="271.03" width="3.84" height="0.73" fill="#ffffff" opacity="0.80"/>
<rect x="614.06" y="284.64" width="1.52" height="0.79" fill="#ffffff" opacity="0.74"/>
<rect x="604.02" y="338.04" width="3.08" height="0.41" fill="#ffffff" opacity="0.69"/>
<rect x="598.76" y="317.11" width="2.76" height="0.51" fill="#ffffff" opacity="0.68"/>
<rect x="602.68" y="339.38" width="3.72" height="0.43" fill="#ffffff" opacity="0.76"/>
<rect x="614.77" y="322.49" width="2.05" height="0.70" fill="#ffffff" opacity="0.82"/>
<rect x="613.50" y="316.65" width="2.65" height="0.53" fill="#ffffff" opacity="0.82"/>
<rect x="607.96" y="297.01" width="3.96" height="0.47" fill="#ffffff" opacity="0.85"/>
<rect x="619.48" y="273.83" width="3.84" height="0.54" fill="#ffffff" opacity="0.76"/>
<rect x="605.78" y="293.77" width="1.33" height="0.71" fill="#ffffff" opacity="0.90"/>
<rect x="598.11" y="307.00" width="3.38" height="0.61" fill="#ffffff" opacity="0.57"/>
<rect x="604.36" y="301.37" width="2.50" height="0.90" fill="#ffffff" opacity="0.76"/>
<rect x="603.78" y="335.44" width="3.23" height="0.44" fill="#ffffff" opacity="0.64"/>
<rect x="612.73" y="309.81" width="3.45" height="0.59" fill="#ffffff" opacity="0.62"/>
<rect x="608.14" y="277.13" width="0.88" height="0.59" fill="#ffffff" opacity="0.80"/>
<rect x="592.72" y="256.56" width="3.59" height="0.87" fill="#ffffff" opacity="0.61"/>
<rect x="579.81" y="259.44" width="1.07" height="0.80" fill="#ffffff" opacity="0.83"/>
<rect x="605.31" y="267.91" width="3.03" height="0.41" fill="#ffffff" opacity="0.87"/>
<rect x="599.35" y="326.23" width="3.05" height="0.75" fill="#ffffff" opacity="0.65"/>
<rect x="599.94" y="328.09" width="2.32" height="0.56" fill="#ffffff" opacity="0.70"/>
<rect x="607.87" y="321.61" width="2.75" height="0.89" fill="#ffffff" opacity="0.60"/>
<rect x="613.87" y="263.83" width="1.28" height="0.88" fill="#ffffff" opacity="0.65"/>
<rect x="602.41" y="285.12" width="3.45" height="0.86" fill="#ffffff" opacity="0.80"/>
<rect x="596.02" y="258.80" width="3.06" height="0.51" fill="#ffffff" opacity="0.90"/>
<rect x="599.98" y="327.48" width="1.97" height="0.51" fill="#ffffff" opacity="0.82"/>
<rect x="620.09" y="246.62" width="1.00" height="0.82" fill="#ffffff" opacity="0.74"/>
<rect x="588.65" y="299.15" width="0.94" height="0.58" fill="#ffffff" opacity="0.94"/>
<rect x="621.11" y="300.81" width="1.00" height="0.45" fill="#ffffff" opacity="0.51"/>
<rect x="594.66" y="310.30" width="1.67" height="0.73" fill="#ffffff" opacity="0.81"/>
<rect x="604.06" y="273.60" width="1.72" height="0.68" fill="#ffffff" opacity="0.66"/>
<rect x="591.61" y="277.28" width="1.73" height="0.53" fill="#ffffff" opacity="0.51"/>
<rect x="611.56" y="272.42" width="1.66" height="0.46" fill="#ffffff" opacity="0.88"/>
<rect x="606.59" y="287.97" width="1.80" height="0.84" fill="#ffffff" opacity="0.84"/>
<rect x="612.41" y="303.02" width="3.02" height="0.65" fill="#ffffff" opacity="0.69"/>
<rect x="606.23" y="280.22" width="2.30" height="0.66" fill="#ffffff" opacity="0.74"/>
<rect x="617.17" y="319.28" width="1.52" height="0.41" fill="#ffffff" opacity="0.64"/>
<rect x="627.34" y="245.12" width="2.79" height="0.54" fill="#ffffff" opacity="0.59"/>
<rect x="613.50" y="327.12" width="2.99" height="0.75" fill="#ffffff" opacity="0.84"/>
<rect x="600.74" y="286.55" width="2.57" height="0.84" fill="#ffffff" opacity="0.95"/>
<rect x="612.15" y="331.87" width="1.04" height="0.52" fill="#ffffff" opacity="0.94"/>
<rect x="606.67" y="295.26" width="1.79" height="0.83" fill="#ffffff" opacity="0.73"/>
<rect x="601.19" y="339.05" width="3.98" height="0.41" fill="#ffffff" opacity="0.57"/>
<rect x="613.73" y="280.17" width="1.15" height="0.68" fill="#ffffff" opacity="0.92"/>
<rect x="619.78" y="284.68" width="2.69" height="0.69" fill="#ffffff" opacity="0.58"/>
<rect x="626.29" y="287.47" width="2.96" height="0.51" fill="#ffffff" opacity="0.70"/>
<rect x="598.58" y="295.27" width="2.65" height="0.72" fill="#ffffff" opacity="0.51"/>
<rect x="616.33" y="263.56" width="1.49" height="0.44" fill="#ffffff" opacity="0.84"/>
<rect x="632.98" y="274.72" width="2.59" height="0.45" fill="#ffffff" opacity="0.79"/>
<rect x="625.93" y="267.70" width="3.12" height="0.78" fill="#ffffff" opacity="0.53"/>
<rect x="627.45" y="245.35" width="1.25" height="0.50" fill="#ffffff" opacity="0.51"/>
<rect x="604.17" y="258.02" width="3.87" height="0.56" fill="#ffffff" opacity="0.62"/>
<rect x="597.96" y="323.14" width="2.83" height="0.71" fill="#ffffff" opacity="0.92"/>
<rect x="610.55" y="246.28" width="2.03" height="0.81" fill="#ffffff" opacity="0.61"/>
<rect x="595.37" y="312.07" width="2.38" height="0.88" fill="#ffffff" opacity="0.61"/>
<rect x="632.03" y="269.33" width="2.96" height="0.43" fill="#ffffff" opacity="0.58"/>
<rect x="592.36" y="265.24" width="3.50" height="0.75" fill="#ffffff" opacity="0.94"/>
<rect x="610.73" y="307.63" width="2.03" height="0.76" fill="#ffffff" opacity="0.72"/>
<rect x="605.43" y="247.77" width="2.03" height="0.67" fill="#ffffff" opacity="0.52"/>
<rect x="640.77" y="244.74" width="1.99" height="0.57" fill="#ffffff" opacity="0.57"/>
<rect x="623.51" y="300.06" width="1.38" height="0.65" fill="#ffffff" opacity="0.72"/>
<rect x="607.96" y="317.05" width="1.56" height="0.49" fill="#ffffff" opacity="0.83"/>
<rect x="632.26" y="249.66" width="0.91" height="0.49" fill="#ffffff" opacity="0.71"/>
<rect x="608.90" y="324.71" width="3.19" height="0.78" fill="#ffffff" opacity="0.83"/>
<rect x="629.42" y="247.06" width="1.27" height="0.48" fill="#ffffff" opacity="0.52"/>
<rect x="633.14" y="244.78" width="2.02" height="0.44" fill="#ffffff" opacity="0.52"/>
<rect x="608.44" y="324.95" width="3.73" height="0.42" fill="#ffffff" opacity="0.55"/>
<rect x="586.88" y="270.09" width="1.16" height="0.50" fill="#ffffff" opacity="0.79"/>
<rect x="583.10" y="258.47" width="2.51" height="0.59" fill="#ffffff" opacity="0.57"/>
<rect x="606.35" y="297.68" width="2.04" height="0.64" fill="#ffffff" opacity="0.52"/>
<rect x="593.52" y="302.28" width="1.87" height="0.40" fill="#ffffff" opacity="0.90"/>
<rect x="601.41" y="299.59" width="2.53" height="0.87" fill="#ffffff" opacity="0.56"/>
<rect x="617.61" y="279.58" width="1.99" height="0.75" fill="#ffffff" opacity="0.91"/>
<rect x="590.48" y="246.00" width="1.74" height="0.78" fill="#ffffff" opacity="0.85"/>
<rect x="620.81" y="310.55" width="1.39" height="0.60" fill="#ffffff" opacity="0.88"/>
<rect x="594.32" y="317.02" width="3.94" height="0.77" fill="#ffffff" opacity="0.89"/>
<rect x="612.03" y="277.49" width="3.87" height="0.85" fill="#ffffff" opacity="0.76"/>
<rect x="616.27" y="329.22" width="3.49" height="0.73" fill="#ffffff" opacity="0.93"/>
<rect x="599.20" y="256.09" width="2.61" height="0.47" fill="#ffffff" opacity="0.85"/>
<rect x="615.27" y="248.09" width="1.70" height="0.56" fill="#ffffff" opacity="0.77"/>
<rect x="602.45" y="260.76" width="3.54" height="0.89" fill="#ffffff" opacity="0.62"/>
<rect x="617.03" y="277.83" width="1.41" height="0.82" fill="#ffffff" opacity="0.59"/>
<rect x="598.84" y="296.56" width="0.80" height="0.40" fill="#ffffff" opacity="0.50"/>
<rect x="592.67" y="274.17" width="3.97" height="0.72" fill="#ffffff" opacity="0.53"/>
<rect x="596.98" y="312.17" width="2.34" height="0.76" fill="#ffffff" opacity="0.89"/>
<rect x="604.68" y="333.66" width="1.82" height="0.60" fill="#ffffff" opacity="0.64"/>
<rect x="604.82" y="314.68" width="2.99" height="0.48" fill="#ffffff" opacity="0.85"/>
<rect x="601.89" y="336.74" width="2.77" height="0.48" fill="#ffffff" opacity="0.52"/>
<rect x="588.93" y="282.57" width="3.14" height="0.69" fill="#ffffff" opacity="0.80"/>
<rect x="599.94" y="336.86" width="1.11" height="0.42" fill="#ffffff" opacity="0.71"/>
<rect x="610.73" y="322.80" width="2.55" height="0.83" fill="#ffffff" opacity="0.67"/>
<rect x="616.20" y="253.07" width="0.88" height="0.51" fill="#ffffff" opacity="0.51"/>
<rect x="575.69" y="257.84" width="2.50" height="0.46" fill="#ffffff" opacity="0.77"/>
<rect x="601.99" y="322.77" width="1.19" height="0.74" fill="#ffffff" opacity="0.83"/>
<rect x="607.14" y="328.63" width="2.66" height="0.83" fill="#ffffff" opacity="0.80"/>
<rect x="603.23" y="337.54" width="3.28" height="0.72" fill="#ffffff" opacity="0.71"/>
<rect x="604.30" y="243.05" width="1.64" height="0.70" fill="#ffffff" opacity="0.73"/>
<rect x="584.97" y="292.02" width="1.22" height="0.70" fill="#ffffff" opacity="0.81"/>
<rect x="609.31" y="339.07" width="1.73" height="0.63" fill="#ffffff" opacity="0.73"/>
<rect x="603.12" y="320.79" width="3.75" height="0.64" fill="#ffffff" opacity="0.68"/>
<rect x="598.92" y="289.02" width="4.00" height="0.42" fill="#ffffff" opacity="0.68"/>
<rect x="618.81" y="249.78" width="1.28" height="0.47" fill="#ffffff" opacity="0.69"/>
<rect x="616.96" y="301.00" width="2.22" height="0.55" fill="#ffffff" opacity="0.67"/>
<rect x="600.06" y="329.06" width="0.84" height="0.84" fill="#ffffff" opacity="0.72"/>
<rect x="580.06" y="254.96" width="3.65" height="0.77" fill="#ffffff" opacity="0.53"/>
<rect x="595.53" y="308.16" width="2.23" height="0.70" fill="#ffffff" opacity="0.52"/>
<rect x="603.24" y="333.68" width="1.26" height="0.79" fill="#ffffff" opacity="0.55"/>
<rect x="616.94" y="245.64" width="2.30" height="0.85" fill="#ffffff" opacity="0.86"/>
<rect x="575.63" y="262.24" width="2.73" height="0.64" fill="#ffffff" opacity="0.64"/>
<rect x="600.65" y="331.85" width="2.86" height="0.44" fill="#ffffff" opacity="0.92"/>
<rect x="607.83" y="334.98" width="1.83" height="0.76" fill="#ffffff" opacity="0.91"/>
<rect x="593.15" y="319.90" width="2.41" height="0.47" fill="#ffffff" opacity="0.75"/>
<rect x="570.6" y="237.3" width="68.9" height="221.7" fill="none" stroke="#888" stroke-width="0.5"/>
<text x="492.50" y="463.30" font-size="5.2" text-anchor="middle" fill="#222">-3.0</text>
<text x="528.15" y="463.30" font-size="5.2" text-anchor="middle" fill="#222">center</text>
<text x="560.80" y="463.30" font-size="5.2" text-anchor="middle" fill="#222">3.0 kb</text>
<text x="528.65" y="470.90" font-size="6.2" text-anchor="middle" fill="#222">gene distance (bp)</text>
<text x="568.60" y="463.30" font-size="5.2" text-anchor="middle" fill="#222">-3.0</text>
<text x="604.05" y="463.30" font-size="5.2" text-anchor="middle" fill="#222">center</text>
<text x="636.50" y="463.30" font-size="5.2" text-anchor="middle" fill="#222">3.0 kb</text>
<text x="604.55" y="470.90" font-size="6.2" text-anchor="middle" fill="#222">gene distance (bp)</text>
<rect x="494.40" y="477.20" width="69.60" height="4.30" fill="url(#gcbr)" stroke="#777" stroke-width="0.3"/>
<rect x="570.50" y="477.20" width="69.10" height="4.30" fill="url(#gcbg)" stroke="#777" stroke-width="0.3"/>
<line x1="498.30" y1="481.50" x2="498.30" y2="482.60" stroke="#555" stroke-width="0.3"/>
<text x="498.30" y="487.40" font-size="5.0" text-anchor="middle" fill="#222">0</text>
<line x1="522.80" y1="481.50" x2="522.80" y2="482.60" stroke="#555" stroke-width="0.3"/>
<text x="522.80" y="487.40" font-size="5.0" text-anchor="middle" fill="#222">30</text>
<line x1="547.60" y1="481.50" x2="547.60" y2="482.60" stroke="#555" stroke-width="0.3"/>
<text x="547.60" y="487.40" font-size="5.0" text-anchor="middle" fill="#222">60</text>
<line x1="572.80" y1="481.50" x2="572.80" y2="482.60" stroke="#555" stroke-width="0.3"/>
<text x="572.80" y="487.40" font-size="5.0" text-anchor="middle" fill="#222">0</text>
<line x1="599.50" y1="481.50" x2="599.50" y2="482.60" stroke="#555" stroke-width="0.3"/>
<text x="599.50" y="487.40" font-size="5.0" text-anchor="middle" fill="#222">60</text>
<line x1="626.40" y1="481.50" x2="626.40" y2="482.60" stroke="#555" stroke-width="0.3"/>
<text x="626.40" y="487.40" font-size="5.0" text-anchor="middle" fill="#222">120</text>
<text x="9.00" y="538.50" font-size="21.8">F</text>
<ellipse cx="66.91" cy="607.05" rx="29.58" ry="60.62" fill="#1a8a1a" fill-opacity="0.6" transform="rotate(295.85 66.91 607.05)"/>
<ellipse cx="74.15" cy="594.61" rx="29.58" ry="60.62" fill="#71b1db" fill-opacity="0.6" transform="rotate(7.85 74.15 594.61)"/>
<ellipse cx="88.22" cy="597.66" rx="29.58" ry="60.62" fill="#df6279" fill-opacity="0.6" transform="rotate(79.85 88.22 597.66)"/>
<ellipse cx="89.67" cy="611.98" rx="29.58" ry="60.62" fill="#c3d93c" fill-opacity="0.6" transform="rotate(151.85 89.67 611.98)"/>
<ellipse cx="76.50" cy="617.78" rx="29.58" ry="60.62" fill="#ec7a1c" fill-opacity="0.6" transform="rotate(223.85 76.50 617.78)"/>
<text x="78.30" y="549.10" font-size="4.5" text-anchor="middle" font-weight="bold" fill="#222">124</text>
<text x="71.20" y="565.50" font-size="4.5" text-anchor="middle" font-weight="bold" fill="#222">2</text>
<text x="100.40" y="569.40" font-size="4.5" text-anchor="middle" font-weight="bold" fill="#222">1</text>
<text x="78.30" y="574.80" font-size="4.5" text-anchor="middle" font-weight="bold" fill="#222">5025</text>
<text x="102.10" y="574.30" font-size="4.5" text-anchor="middle" font-weight="bold" fill="#222">26</text>
<text x="48.60" y="577.60" font-size="4.5" text-anchor="middle" font-weight="bold" fill="#222">19</text>
<text x="54.20" y="576.00" font-size="4.5" text-anchor="middle" font-weight="bold" fill="#222">1</text>
<text x="26.90" y="587.20" font-size="4.5" text-anchor="middle" font-weight="bold" fill="#222">924</text>
<text x="59.60" y="584.90" font-size="4.5" text-anchor="middle" font-weight="bold" fill="#222">3096</text>
<text x="95.30" y="583.00" font-size="4.5" text-anchor="middle" font-weight="bold" fill="#222">18</text>
<text x="116.80" y="584.20" font-size="4.5" text-anchor="middle" font-weight="bold" fill="#222">3</text>
<text x="132.70" y="590.00" font-size="4.5" text-anchor="middle" font-weight="bold" fill="#222">611</text>
<text x="46.70" y="598.20" font-size="4.5" text-anchor="middle" font-weight="bold" fill="#222">3225</text>
<text x="110.50" y="597.00" font-size="4.5" text-anchor="middle" font-weight="bold" fill="#222">0</text>
<text x="35.00" y="604.00" font-size="4.5" text-anchor="middle" font-weight="bold" fill="#222">347</text>
<text x="79.00" y="606.80" font-size="4.5" text-anchor="middle" font-weight="bold" fill="#222">1</text>
<text x="121.50" y="614.50" font-size="4.5" text-anchor="middle" font-weight="bold" fill="#222">37</text>
<text x="50.90" y="618.50" font-size="4.5" text-anchor="middle" font-weight="bold" fill="#222">12</text>
<text x="107.00" y="617.60" font-size="4.5" text-anchor="middle" font-weight="bold" fill="#222">0</text>
<text x="118.00" y="619.90" font-size="4.5" text-anchor="middle" font-weight="bold" fill="#222">35</text>
<text x="41.30" y="622.00" font-size="4.5" text-anchor="middle" font-weight="bold" fill="#222">1</text>
<text x="40.90" y="627.80" font-size="4.5" text-anchor="middle" font-weight="bold" fill="#222">2</text>
<text x="57.20" y="634.80" font-size="4.5" text-anchor="middle" font-weight="bold" fill="#222">6</text>
<text x="81.10" y="638.40" font-size="4.5" text-anchor="middle" font-weight="bold" fill="#222">8</text>
<text x="96.50" y="636.70" font-size="4.5" text-anchor="middle" font-weight="bold" fill="#222">9</text>
<text x="112.80" y="636.00" font-size="4.5" text-anchor="middle" font-weight="bold" fill="#222">0</text>
<text x="63.50" y="648.90" font-size="4.5" text-anchor="middle" font-weight="bold" fill="#222">1</text>
<text x="80.10" y="648.40" font-size="4.5" text-anchor="middle" font-weight="bold" fill="#222">0</text>
<text x="84.80" y="651.40" font-size="4.5" text-anchor="middle" font-weight="bold" fill="#222">6</text>
<text x="42.70" y="657.70" font-size="4.5" text-anchor="middle" font-weight="bold" fill="#222">79</text>
<text x="113.30" y="657.70" font-size="4.5" text-anchor="middle" font-weight="bold" fill="#222">4</text>
<text x="22.20" y="567.00" font-size="4.4" text-anchor="middle" font-weight="bold" fill="#3d9a3d">TRIM35-Flag ChIP</text>
<text x="111.70" y="542.60" font-size="4.4" text-anchor="middle" fill="#8cc0e2">H3K27ac ChIP</text>
<text x="111.70" y="547.50" font-size="4.4" text-anchor="middle" fill="#8cc0e2">GSE72141</text>
<text x="145.30" y="566.60" font-size="4.4" text-anchor="middle" fill="#eb98a6">H3K27ac ChIP</text>
<text x="145.30" y="571.30" font-size="4.4" text-anchor="middle" fill="#eb98a6">GSE40691</text>
<text x="19.90" y="666.60" font-size="4.4" text-anchor="middle" fill="#f0a060">RNA-seq UP</text>
<text x="141.80" y="666.40" font-size="4.4" text-anchor="middle" fill="#c8dc50">H3K27ac ChIP</text>
<text x="141.80" y="671.10" font-size="4.4" text-anchor="middle" fill="#c8dc50">GSE87...</text>
<rect x="73.4" y="600.2" width="11.4" height="11.2" fill="none" stroke="#000" stroke-width="1.1"/>
<line x1="84.80" y1="604.50" x2="170.00" y2="604.50" stroke="#000" stroke-width="1.1"/>
<line x1="84.80" y1="606.90" x2="170.00" y2="606.90" stroke="#000" stroke-width="1.1"/>
<path d="M167.2,601.9 L171.3,605.7 L167.2,609.5" fill="none" stroke="#000" stroke-width="1.5" stroke-linejoin="miter"/>
<text x="77.00" y="679.80" font-size="4.0" text-anchor="middle" fill="#222">Size of each list</text>
<line x1="15.40" y1="707.40" x2="15.40" y2="679.00" stroke="#333" stroke-width="0.5"/>
<path d="M13.9,680.5 L15.4,677.2 L16.9,680.5 Z" fill="#333"/>
<line x1="15.40" y1="707.30" x2="146.50" y2="707.30" stroke="#333" stroke-width="0.5"/>
<path d="M145.5,705.8 L148.8,707.3 L145.5,708.8 Z" fill="#333"/>
<text x="10.50" y="686.50" font-size="3.6" text-anchor="middle" fill="#333">17934</text>
<text x="10.50" y="696.70" font-size="3.6" text-anchor="middle" fill="#333">8967</text>
<text x="10.50" y="707.60" font-size="3.6" text-anchor="middle" fill="#333">0</text>
<rect x="21.60" y="696.70" width="18.10" height="10.60" fill="#6db25e"/>
<text x="30.65" y="712.00" font-size="3.0" text-anchor="middle" fill="#333">TRIM35-Flag ChIP</text>
<rect x="45.40" y="685.60" width="17.90" height="21.70" fill="#b2d4ec"/>
<text x="54.35" y="712.00" font-size="3.0" text-anchor="middle" fill="#333">H3K27ac ChIP</text>
<text x="54.35" y="715.40" font-size="3.0" text-anchor="middle" fill="#333">GSE72141</text>
<rect x="69.00" y="684.30" width="17.90" height="23.00" fill="#eea3b0"/>
<text x="77.95" y="712.00" font-size="3.0" text-anchor="middle" fill="#333">H3K27ac ChIP</text>
<text x="77.95" y="715.40" font-size="3.0" text-anchor="middle" fill="#333">GSE40691</text>
<rect x="93.00" y="696.00" width="18.00" height="11.30" fill="#d8ea86"/>
<text x="102.00" y="712.00" font-size="3.0" text-anchor="middle" fill="#333">H3K27ac ChIP</text>
<text x="102.00" y="715.40" font-size="3.0" text-anchor="middle" fill="#333">GSE87932</text>
<rect x="117.40" y="706.60" width="17.90" height="0.70" fill="#f0a060"/>
<text x="126.35" y="712.00" font-size="3.0" text-anchor="middle" fill="#333">RNA-seq UP</text>
<rect x="172.10" y="532.30" width="63.85" height="5.70" fill="#6b6bf9"/>
<rect x="235.95" y="532.30" width="63.85" height="5.70" fill="#f08589"/>
<rect x="172.10" y="540.10" width="21.88" height="25.69" fill="#8585f9"/>
<rect x="193.38" y="540.10" width="21.88" height="25.69" fill="#9898f9"/>
<rect x="214.67" y="540.10" width="21.88" height="25.69" fill="#7575f9"/>
<rect x="235.95" y="540.10" width="21.88" height="25.69" fill="#f28a8c"/>
<rect x="257.23" y="540.10" width="21.88" height="25.69" fill="#f28a8c"/>
<rect x="278.52" y="540.10" width="21.28" height="25.69" fill="#f2878a"/>
<rect x="172.10" y="565.19" width="21.88" height="25.69" fill="#6a6af9"/>
<rect x="193.38" y="565.19" width="21.88" height="25.69" fill="#b0b0f9"/>
<rect x="214.67" y="565.19" width="21.88" height="25.69" fill="#9d9df9"/>
<rect x="235.95" y="565.19" width="21.88" height="25.69" fill="#f5e0e0"/>
<rect x="257.23" y="565.19" width="21.88" height="25.69" fill="#f27a7c"/>
<rect x="278.52" y="565.19" width="21.28" height="25.69" fill="#f45555"/>
<rect x="172.10" y="590.27" width="21.88" height="25.69" fill="#a8a8f9"/>
<rect x="193.38" y="590.27" width="21.88" height="25.69" fill="#a8a8f9"/>
<rect x="214.67" y="590.27" width="21.88" height="25.69" fill="#a8a8f9"/>
<rect x="235.95" y="590.27" width="21.88" height="25.69" fill="#acacf9"/>
<rect x="257.23" y="590.27" width="21.88" height="25.69" fill="#f29b9d"/>
<rect x="278.52" y="590.27" width="21.28" height="25.69" fill="#fa2222"/>
<rect x="172.10" y="615.36" width="21.88" height="25.69" fill="#9595f9"/>
<rect x="193.38" y="615.36" width="21.88" height="25.69" fill="#9595f9"/>
<rect x="214.67" y="615.36" width="21.88" height="25.69" fill="#9595f9"/>
<rect x="235.95" y="615.36" width="21.88" height="25.69" fill="#f7ebea"/>
<rect x="257.23" y="615.36" width="21.88" height="25.69" fill="#fa2222"/>
<rect x="278.52" y="615.36" width="21.28" height="25.69" fill="#f5c9cc"/>
<rect x="172.10" y="640.44" width="21.88" height="25.69" fill="#d5d5fb"/>
<rect x="193.38" y="640.44" width="21.88" height="25.69" fill="#a0a0f9"/>
<rect x="214.67" y="640.44" width="21.88" height="25.69" fill="#adadf9"/>
<rect x="235.95" y="640.44" width="21.88" height="25.69" fill="#cecefb"/>
<rect x="257.23" y="640.44" width="21.88" height="25.69" fill="#fffcfc"/>
<rect x="278.52" y="640.44" width="21.28" height="25.69" fill="#fb1e12"/>
<rect x="172.10" y="665.53" width="21.88" height="25.69" fill="#a3a3f9"/>
<rect x="193.38" y="665.53" width="21.88" height="25.69" fill="#a3a3f9"/>
<rect x="214.67" y="665.53" width="21.88" height="25.69" fill="#a3a3f9"/>
<rect x="235.95" y="665.53" width="21.88" height="25.69" fill="#fb2e2e"/>
<rect x="257.23" y="665.53" width="21.88" height="25.69" fill="#e8e8fb"/>
<rect x="278.52" y="665.53" width="21.28" height="25.69" fill="#f29699"/>
<rect x="172.10" y="690.61" width="21.88" height="25.09" fill="#a0a0f9"/>
<rect x="193.38" y="690.61" width="21.88" height="25.09" fill="#8585f9"/>
<rect x="214.67" y="690.61" width="21.88" height="25.09" fill="#9595f9"/>
<rect x="235.95" y="690.61" width="21.88" height="25.09" fill="#f3b8bc"/>
<rect x="257.23" y="690.61" width="21.88" height="25.09" fill="#f3b8bc"/>
<rect x="278.52" y="690.61" width="21.28" height="25.09" fill="#f93a3f"/>
<text x="302.00" y="555.64" font-size="8.6" fill="#111">HSPA6</text>
<text x="302.00" y="580.73" font-size="8.6" fill="#111">TMEM121</text>
<text x="302.00" y="605.81" font-size="8.6" fill="#111">DOCK2</text>
<text x="302.00" y="630.90" font-size="8.6" fill="#111">GFRA3</text>
<text x="302.00" y="655.99" font-size="8.6" fill="#111">STBD1</text>
<text x="302.00" y="681.07" font-size="8.6" fill="#111">PRR18</text>
<text x="302.00" y="706.16" font-size="8.6" fill="#111">GRAMD2A</text>
<text x="302.00" y="537.60" font-size="6.2" font-weight="bold" fill="#111">Group</text>
<text x="180.14" y="717.80" font-size="8.0" fill="#111" transform="rotate(90 180.14 717.80)">Ctrl−1</text>
<text x="201.43" y="717.80" font-size="8.0" fill="#111" transform="rotate(90 201.43 717.80)">Ctrl−2</text>
<text x="222.71" y="717.80" font-size="8.0" fill="#111" transform="rotate(90 222.71 717.80)">Ctrl−3</text>
<text x="243.99" y="717.80" font-size="8.0" fill="#111" transform="rotate(90 243.99 717.80)">TRIM35−1</text>
<text x="265.27" y="717.80" font-size="8.0" fill="#111" transform="rotate(90 265.27 717.80)">TRIM35−2</text>
<text x="286.56" y="717.80" font-size="8.0" fill="#111" transform="rotate(90 286.56 717.80)">TRIM35−3</text>
<rect x="348.20" y="531.50" width="5.60" height="80.50" fill="url(#ghm)"/>
<text x="355.80" y="553.90" font-size="6.8" fill="#111">1</text>
<text x="355.80" y="574.90" font-size="6.8" fill="#111">0</text>
<text x="355.80" y="594.60" font-size="6.8" fill="#111">−1</text>
<text x="34.60" y="700.60" font-size="3.2" text-anchor="middle" fill="#ffffff">8185</text>
<text x="57.80" y="690.40" font-size="3.2" text-anchor="middle" fill="#ffffff">17167</text>
<text x="81.80" y="689.20" font-size="3.2" text-anchor="middle" fill="#ffffff">17934</text>
<text x="105.40" y="700.40" font-size="3.2" text-anchor="middle" fill="#ffffff">8073</text>
<text x="132.60" y="701.80" font-size="3.2" text-anchor="middle" fill="#f0a060">140</text>
<text x="408.60" y="538.30" font-size="21.2">G</text>
<rect x="417.50" y="677.34" width="10.60" height="17.66" fill="#9fb8cf"/>
<rect x="430.00" y="624.36" width="10.80" height="70.64" fill="#ebabab"/>
<rect x="453.10" y="677.34" width="10.60" height="17.66" fill="#9fb8cf"/>
<rect x="465.60" y="662.86" width="10.80" height="32.14" fill="#ebabab"/>
<rect x="488.70" y="677.34" width="10.60" height="17.66" fill="#9fb8cf"/>
<rect x="501.20" y="663.21" width="10.80" height="31.79" fill="#ebabab"/>
<rect x="524.30" y="677.34" width="10.60" height="17.66" fill="#9fb8cf"/>
<rect x="536.80" y="660.56" width="10.80" height="34.44" fill="#ebabab"/>
<rect x="559.90" y="677.34" width="10.60" height="17.66" fill="#9fb8cf"/>
<rect x="572.40" y="667.63" width="10.80" height="27.37" fill="#ebabab"/>
<rect x="595.50" y="679.46" width="10.60" height="15.54" fill="#9fb8cf"/>
<rect x="608.00" y="590.81" width="10.80" height="104.19" fill="#ebabab"/>
<rect x="631.10" y="677.34" width="10.60" height="17.66" fill="#9fb8cf"/>
<rect x="643.60" y="658.80" width="10.80" height="36.20" fill="#ebabab"/>
<line x1="420.30" y1="677.34" x2="425.30" y2="677.34" stroke="#40699c" stroke-width="1.0"/>
<circle cx="420.40" cy="677.44" r="2.1" fill="#40699c"/>
<circle cx="422.80" cy="677.44" r="2.1" fill="#40699c"/>
<circle cx="425.20" cy="677.44" r="2.1" fill="#40699c"/>
<line x1="435.40" y1="613.76" x2="435.40" y2="633.19" stroke="#e05858" stroke-width="1.2"/>
<line x1="433.20" y1="613.76" x2="437.60" y2="613.76" stroke="#e05858" stroke-width="1.2"/>
<line x1="433.20" y1="633.19" x2="437.60" y2="633.19" stroke="#e05858" stroke-width="1.2"/>
<circle cx="435.40" cy="613.76" r="2.3" fill="#e05858"/>
<circle cx="435.40" cy="625.24" r="2.3" fill="#e05858"/>
<circle cx="435.40" cy="633.19" r="2.3" fill="#e05858"/>
<line x1="455.90" y1="677.34" x2="460.90" y2="677.34" stroke="#40699c" stroke-width="1.0"/>
<circle cx="456.00" cy="677.44" r="2.1" fill="#40699c"/>
<circle cx="458.40" cy="677.44" r="2.1" fill="#40699c"/>
<circle cx="460.80" cy="677.44" r="2.1" fill="#40699c"/>
<line x1="471.00" y1="658.80" x2="471.00" y2="667.10" stroke="#e05858" stroke-width="1.2"/>
<line x1="468.80" y1="658.80" x2="473.20" y2="658.80" stroke="#e05858" stroke-width="1.2"/>
<line x1="468.80" y1="667.10" x2="473.20" y2="667.10" stroke="#e05858" stroke-width="1.2"/>
<circle cx="468.00" cy="658.80" r="2.3" fill="#e05858"/>
<circle cx="471.00" cy="660.56" r="2.3" fill="#e05858"/>
<circle cx="471.00" cy="667.10" r="2.3" fill="#e05858"/>
<line x1="491.50" y1="677.34" x2="496.50" y2="677.34" stroke="#40699c" stroke-width="1.0"/>
<circle cx="491.60" cy="677.44" r="2.1" fill="#40699c"/>
<circle cx="494.00" cy="677.44" r="2.1" fill="#40699c"/>
<circle cx="496.40" cy="677.44" r="2.1" fill="#40699c"/>
<line x1="506.60" y1="656.15" x2="506.60" y2="672.04" stroke="#e05858" stroke-width="1.2"/>
<line x1="504.40" y1="656.15" x2="508.80" y2="656.15" stroke="#e05858" stroke-width="1.2"/>
<line x1="504.40" y1="672.04" x2="508.80" y2="672.04" stroke="#e05858" stroke-width="1.2"/>
<circle cx="503.60" cy="656.15" r="2.3" fill="#e05858"/>
<circle cx="506.60" cy="658.80" r="2.3" fill="#e05858"/>
<circle cx="506.60" cy="672.04" r="2.3" fill="#e05858"/>
<line x1="527.10" y1="677.34" x2="532.10" y2="677.34" stroke="#40699c" stroke-width="1.0"/>
<circle cx="527.20" cy="677.44" r="2.1" fill="#40699c"/>
<circle cx="529.60" cy="677.44" r="2.1" fill="#40699c"/>
<circle cx="532.00" cy="677.44" r="2.1" fill="#40699c"/>
<line x1="542.20" y1="656.15" x2="542.20" y2="661.45" stroke="#e05858" stroke-width="1.2"/>
<line x1="540.00" y1="656.15" x2="544.40" y2="656.15" stroke="#e05858" stroke-width="1.2"/>
<line x1="540.00" y1="661.45" x2="544.40" y2="661.45" stroke="#e05858" stroke-width="1.2"/>
<circle cx="542.20" cy="656.15" r="2.3" fill="#e05858"/>
<circle cx="542.20" cy="661.45" r="2.3" fill="#e05858"/>
<circle cx="545.20" cy="661.09" r="2.3" fill="#e05858"/>
<line x1="562.70" y1="677.34" x2="567.70" y2="677.34" stroke="#40699c" stroke-width="1.0"/>
<circle cx="562.80" cy="677.44" r="2.1" fill="#40699c"/>
<circle cx="565.20" cy="677.44" r="2.1" fill="#40699c"/>
<circle cx="567.60" cy="677.44" r="2.1" fill="#40699c"/>
<line x1="577.80" y1="663.21" x2="577.80" y2="668.51" stroke="#e05858" stroke-width="1.2"/>
<line x1="575.60" y1="663.21" x2="580.00" y2="663.21" stroke="#e05858" stroke-width="1.2"/>
<line x1="575.60" y1="668.51" x2="580.00" y2="668.51" stroke="#e05858" stroke-width="1.2"/>
<circle cx="577.80" cy="663.21" r="2.3" fill="#e05858"/>
<circle cx="577.80" cy="668.51" r="2.3" fill="#e05858"/>
<circle cx="580.80" cy="667.63" r="2.3" fill="#e05858"/>
<line x1="598.30" y1="679.46" x2="603.30" y2="679.46" stroke="#40699c" stroke-width="1.0"/>
<circle cx="598.40" cy="679.56" r="2.1" fill="#40699c"/>
<circle cx="600.80" cy="679.56" r="2.1" fill="#40699c"/>
<circle cx="603.20" cy="679.56" r="2.1" fill="#40699c"/>
<line x1="613.40" y1="574.91" x2="613.40" y2="604.05" stroke="#e05858" stroke-width="1.2"/>
<line x1="611.20" y1="574.91" x2="615.60" y2="574.91" stroke="#e05858" stroke-width="1.2"/>
<line x1="611.20" y1="604.05" x2="615.60" y2="604.05" stroke="#e05858" stroke-width="1.2"/>
<circle cx="613.40" cy="574.91" r="2.3" fill="#e05858"/>
<circle cx="613.40" cy="589.92" r="2.3" fill="#e05858"/>
<circle cx="613.40" cy="604.05" r="2.3" fill="#e05858"/>
<line x1="633.90" y1="677.34" x2="638.90" y2="677.34" stroke="#40699c" stroke-width="1.0"/>
<circle cx="634.00" cy="677.44" r="2.1" fill="#40699c"/>
<circle cx="636.40" cy="677.44" r="2.1" fill="#40699c"/>
<circle cx="638.80" cy="677.44" r="2.1" fill="#40699c"/>
<line x1="649.00" y1="654.38" x2="649.00" y2="659.68" stroke="#e05858" stroke-width="1.2"/>
<line x1="646.80" y1="654.38" x2="651.20" y2="654.38" stroke="#e05858" stroke-width="1.2"/>
<line x1="646.80" y1="659.68" x2="651.20" y2="659.68" stroke="#e05858" stroke-width="1.2"/>
<circle cx="649.00" cy="654.38" r="2.3" fill="#e05858"/>
<circle cx="649.00" cy="659.68" r="2.3" fill="#e05858"/>
<circle cx="652.00" cy="658.80" r="2.3" fill="#e05858"/>
<path d="M422.80,610.97 L422.80,608.47 L435.40,608.47 L435.40,610.97" fill="none" stroke="#111" stroke-width="1.1"/>
<text x="429.10" y="609.97" font-size="11" text-anchor="middle" fill="#111">*</text>
<path d="M458.40,655.29 L458.40,652.79 L471.00,652.79 L471.00,655.29" fill="none" stroke="#111" stroke-width="1.1"/>
<text x="464.70" y="654.29" font-size="11" text-anchor="middle" fill="#111">*</text>
<path d="M494.00,651.94 L494.00,649.44 L506.60,649.44 L506.60,651.94" fill="none" stroke="#111" stroke-width="1.1"/>
<text x="500.30" y="650.94" font-size="11" text-anchor="middle" fill="#111">*</text>
<path d="M529.60,651.76 L529.60,649.26 L542.20,649.26 L542.20,651.76" fill="none" stroke="#111" stroke-width="1.1"/>
<text x="535.90" y="650.76" font-size="11" text-anchor="middle" fill="#111">*</text>
<path d="M565.20,660.24 L565.20,657.74 L577.80,657.74 L577.80,660.24" fill="none" stroke="#111" stroke-width="1.1"/>
<text x="571.50" y="659.24" font-size="11" text-anchor="middle" fill="#111">*</text>
<path d="M600.80,571.58 L600.80,569.08 L613.40,569.08 L613.40,571.58" fill="none" stroke="#111" stroke-width="1.1"/>
<text x="607.10" y="570.58" font-size="11" text-anchor="middle" fill="#111">*</text>
<path d="M636.40,651.05 L636.40,648.55 L649.00,648.55 L649.00,651.05" fill="none" stroke="#111" stroke-width="1.1"/>
<text x="642.70" y="650.05" font-size="11" text-anchor="middle" fill="#111">*</text>
<line x1="412.30" y1="553.12" x2="412.30" y2="695.70" stroke="#111" stroke-width="1.35"/>
<line x1="411.60" y1="695.00" x2="660.80" y2="695.00" stroke="#111" stroke-width="1.35"/>
<line x1="405.70" y1="695.00" x2="412.30" y2="695.00" stroke="#111" stroke-width="1.3"/>
<text x="0" y="0" font-size="10.0" transform="translate(403.10 699.29) scale(1.17 1)" text-anchor="end" font-weight="bold" fill="#111">0</text>
<line x1="405.70" y1="659.68" x2="412.30" y2="659.68" stroke="#111" stroke-width="1.3"/>
<text x="0" y="0" font-size="10.0" transform="translate(403.10 663.97) scale(1.17 1)" text-anchor="end" font-weight="bold" fill="#111">2</text>
<line x1="405.70" y1="624.36" x2="412.30" y2="624.36" stroke="#111" stroke-width="1.3"/>
<text x="0" y="0" font-size="10.0" transform="translate(403.10 628.65) scale(1.17 1)" text-anchor="end" font-weight="bold" fill="#111">4</text>
<line x1="405.70" y1="589.04" x2="412.30" y2="589.04" stroke="#111" stroke-width="1.3"/>
<text x="0" y="0" font-size="10.0" transform="translate(403.10 593.33) scale(1.17 1)" text-anchor="end" font-weight="bold" fill="#111">6</text>
<line x1="405.70" y1="553.72" x2="412.30" y2="553.72" stroke="#111" stroke-width="1.3"/>
<text x="0" y="0" font-size="10.0" transform="translate(403.10 558.01) scale(1.17 1)" text-anchor="end" font-weight="bold" fill="#111">8</text>
<line x1="429.00" y1="695.00" x2="429.00" y2="701.00" stroke="#111" stroke-width="1.3"/>
<text x="0" y="0" font-size="9.4" transform="translate(431.60 712.10) scale(1.22 1) rotate(-45)" text-anchor="end" font-weight="bold" fill="#111">HSPA6</text>
<line x1="464.60" y1="695.00" x2="464.60" y2="701.00" stroke="#111" stroke-width="1.3"/>
<text x="0" y="0" font-size="9.4" transform="translate(467.20 712.10) scale(1.22 1) rotate(-45)" text-anchor="end" font-weight="bold" fill="#111">TMEM121</text>
<line x1="500.20" y1="695.00" x2="500.20" y2="701.00" stroke="#111" stroke-width="1.3"/>
<text x="0" y="0" font-size="9.4" transform="translate(502.80 712.10) scale(1.22 1) rotate(-45)" text-anchor="end" font-weight="bold" fill="#111">DOCK2</text>
<line x1="535.80" y1="695.00" x2="535.80" y2="701.00" stroke="#111" stroke-width="1.3"/>
<text x="0" y="0" font-size="9.4" transform="translate(538.40 712.10) scale(1.22 1) rotate(-45)" text-anchor="end" font-weight="bold" fill="#111">GFRA3</text>
<line x1="571.40" y1="695.00" x2="571.40" y2="701.00" stroke="#111" stroke-width="1.3"/>
<text x="0" y="0" font-size="9.4" transform="translate(574.00 712.10) scale(1.22 1) rotate(-45)" text-anchor="end" font-weight="bold" fill="#111">STBD1</text>
<line x1="607.00" y1="695.00" x2="607.00" y2="701.00" stroke="#111" stroke-width="1.3"/>
<text x="0" y="0" font-size="9.4" transform="translate(609.60 712.10) scale(1.22 1) rotate(-45)" text-anchor="end" font-weight="bold" fill="#111">PRR18</text>
<line x1="642.60" y1="695.00" x2="642.60" y2="701.00" stroke="#111" stroke-width="1.3"/>
<text x="0" y="0" font-size="9.4" transform="translate(645.20 712.10) scale(1.22 1) rotate(-45)" text-anchor="end" font-weight="bold" fill="#111">GRAMD2A</text>
<rect x="423.40" y="553.00" width="17.50" height="7.30" fill="#9fb8cf"/>
<rect x="423.40" y="566.70" width="17.50" height="7.30" fill="#ebabab"/>
<text x="451.10" y="561.10" font-size="11.8" font-weight="bold" fill="#111" textLength="22.8" lengthAdjust="spacingAndGlyphs">Ctrl</text>
<text x="451.10" y="574.30" font-size="11.8" font-weight="bold" fill="#111" textLength="48.8" lengthAdjust="spacingAndGlyphs">TRIM35</text>
<text x="535.75" y="534.90" font-size="13.2" text-anchor="middle" font-weight="bold" fill="#111" textLength="97.5" lengthAdjust="spacingAndGlyphs">MDA-MB-231</text>
<text x="0" y="0" font-size="12.2" transform="translate(389.30 623.50) scale(1.15 1) rotate(-90)" text-anchor="middle" fill="#111" stroke="#111" stroke-width="0.3">Relative mRNA level</text>
<text x="18.60" y="778.50" font-size="21.8">H</text>
<rect x="69.20" y="923.80" width="10.60" height="14.10" fill="#9fb8cf"/>
<rect x="81.70" y="844.84" width="10.80" height="93.06" fill="#ebabab"/>
<rect x="104.74" y="923.80" width="10.60" height="14.10" fill="#9fb8cf"/>
<rect x="117.24" y="842.02" width="10.80" height="95.88" fill="#ebabab"/>
<rect x="140.28" y="923.80" width="10.60" height="14.10" fill="#9fb8cf"/>
<rect x="152.78" y="889.25" width="10.80" height="48.65" fill="#ebabab"/>
<rect x="175.82" y="923.80" width="10.60" height="14.10" fill="#9fb8cf"/>
<rect x="188.32" y="915.34" width="10.80" height="22.56" fill="#ebabab"/>
<rect x="211.36" y="923.80" width="10.60" height="14.10" fill="#9fb8cf"/>
<rect x="223.86" y="917.45" width="10.80" height="20.45" fill="#ebabab"/>
<rect x="246.90" y="923.80" width="10.60" height="14.10" fill="#9fb8cf"/>
<rect x="259.40" y="860.35" width="10.80" height="77.55" fill="#ebabab"/>
<rect x="282.44" y="923.80" width="10.60" height="14.10" fill="#9fb8cf"/>
<rect x="294.94" y="905.47" width="10.80" height="32.43" fill="#ebabab"/>
<line x1="72.00" y1="923.80" x2="77.00" y2="923.80" stroke="#40699c" stroke-width="1.0"/>
<circle cx="72.10" cy="923.90" r="2.1" fill="#40699c"/>
<circle cx="74.50" cy="923.90" r="2.1" fill="#40699c"/>
<circle cx="76.90" cy="923.90" r="2.1" fill="#40699c"/>
<line x1="87.10" y1="823.69" x2="87.10" y2="864.58" stroke="#e05858" stroke-width="1.2"/>
<line x1="84.90" y1="823.69" x2="89.30" y2="823.69" stroke="#e05858" stroke-width="1.2"/>
<line x1="84.90" y1="864.58" x2="89.30" y2="864.58" stroke="#e05858" stroke-width="1.2"/>
<circle cx="87.10" cy="823.69" r="2.3" fill="#e05858"/>
<circle cx="87.10" cy="846.95" r="2.3" fill="#e05858"/>
<circle cx="87.10" cy="864.58" r="2.3" fill="#e05858"/>
<line x1="107.54" y1="923.80" x2="112.54" y2="923.80" stroke="#40699c" stroke-width="1.0"/>
<circle cx="107.64" cy="923.90" r="2.1" fill="#40699c"/>
<circle cx="110.04" cy="923.90" r="2.1" fill="#40699c"/>
<circle cx="112.44" cy="923.90" r="2.1" fill="#40699c"/>
<line x1="122.64" y1="833.56" x2="122.64" y2="846.25" stroke="#e05858" stroke-width="1.2"/>
<line x1="120.44" y1="833.56" x2="124.84" y2="833.56" stroke="#e05858" stroke-width="1.2"/>
<line x1="120.44" y1="846.25" x2="124.84" y2="846.25" stroke="#e05858" stroke-width="1.2"/>
<circle cx="122.64" cy="833.56" r="2.3" fill="#e05858"/>
<circle cx="122.64" cy="845.54" r="2.3" fill="#e05858"/>
<circle cx="125.64" cy="846.25" r="2.3" fill="#e05858"/>
<line x1="143.08" y1="923.80" x2="148.08" y2="923.80" stroke="#40699c" stroke-width="1.0"/>
<circle cx="143.18" cy="923.90" r="2.1" fill="#40699c"/>
<circle cx="145.58" cy="923.90" r="2.1" fill="#40699c"/>
<circle cx="147.98" cy="923.90" r="2.1" fill="#40699c"/>
<line x1="158.18" y1="877.27" x2="158.18" y2="897.71" stroke="#e05858" stroke-width="1.2"/>
<line x1="155.98" y1="877.27" x2="160.38" y2="877.27" stroke="#e05858" stroke-width="1.2"/>
<line x1="155.98" y1="897.71" x2="160.38" y2="897.71" stroke="#e05858" stroke-width="1.2"/>
<circle cx="158.18" cy="877.27" r="2.3" fill="#e05858"/>
<circle cx="158.18" cy="894.19" r="2.3" fill="#e05858"/>
<circle cx="158.18" cy="897.71" r="2.3" fill="#e05858"/>
<line x1="178.62" y1="923.80" x2="183.62" y2="923.80" stroke="#40699c" stroke-width="1.0"/>
<circle cx="178.72" cy="923.90" r="2.1" fill="#40699c"/>
<circle cx="181.12" cy="923.90" r="2.1" fill="#40699c"/>
<circle cx="183.52" cy="923.90" r="2.1" fill="#40699c"/>
<line x1="193.72" y1="909.70" x2="193.72" y2="920.27" stroke="#e05858" stroke-width="1.2"/>
<line x1="191.52" y1="909.70" x2="195.92" y2="909.70" stroke="#e05858" stroke-width="1.2"/>
<line x1="191.52" y1="920.27" x2="195.92" y2="920.27" stroke="#e05858" stroke-width="1.2"/>
<circle cx="193.72" cy="909.70" r="2.3" fill="#e05858"/>
<circle cx="193.72" cy="914.63" r="2.3" fill="#e05858"/>
<circle cx="193.72" cy="920.27" r="2.3" fill="#e05858"/>
<line x1="214.16" y1="923.80" x2="219.16" y2="923.80" stroke="#40699c" stroke-width="1.0"/>
<circle cx="214.26" cy="923.90" r="2.1" fill="#40699c"/>
<circle cx="216.66" cy="923.90" r="2.1" fill="#40699c"/>
<circle cx="219.06" cy="923.90" r="2.1" fill="#40699c"/>
<line x1="229.26" y1="916.75" x2="229.26" y2="918.16" stroke="#e05858" stroke-width="1.2"/>
<line x1="227.06" y1="916.75" x2="231.46" y2="916.75" stroke="#e05858" stroke-width="1.2"/>
<line x1="227.06" y1="918.16" x2="231.46" y2="918.16" stroke="#e05858" stroke-width="1.2"/>
<circle cx="226.26" cy="916.75" r="2.3" fill="#e05858"/>
<circle cx="229.26" cy="917.45" r="2.3" fill="#e05858"/>
<circle cx="232.26" cy="918.16" r="2.3" fill="#e05858"/>
<line x1="249.70" y1="923.80" x2="254.70" y2="923.80" stroke="#40699c" stroke-width="1.0"/>
<circle cx="249.80" cy="923.90" r="2.1" fill="#40699c"/>
<circle cx="252.20" cy="923.90" r="2.1" fill="#40699c"/>
<circle cx="254.60" cy="923.90" r="2.1" fill="#40699c"/>
<line x1="264.80" y1="842.02" x2="264.80" y2="880.09" stroke="#e05858" stroke-width="1.2"/>
<line x1="262.60" y1="842.02" x2="267.00" y2="842.02" stroke="#e05858" stroke-width="1.2"/>
<line x1="262.60" y1="880.09" x2="267.00" y2="880.09" stroke="#e05858" stroke-width="1.2"/>
<circle cx="264.80" cy="842.02" r="2.3" fill="#e05858"/>
<circle cx="264.80" cy="864.58" r="2.3" fill="#e05858"/>
<circle cx="264.80" cy="880.09" r="2.3" fill="#e05858"/>
<line x1="285.24" y1="923.80" x2="290.24" y2="923.80" stroke="#40699c" stroke-width="1.0"/>
<circle cx="285.34" cy="923.90" r="2.1" fill="#40699c"/>
<circle cx="287.74" cy="923.90" r="2.1" fill="#40699c"/>
<circle cx="290.14" cy="923.90" r="2.1" fill="#40699c"/>
<line x1="300.34" y1="900.53" x2="300.34" y2="906.17" stroke="#e05858" stroke-width="1.2"/>
<line x1="298.14" y1="900.53" x2="302.54" y2="900.53" stroke="#e05858" stroke-width="1.2"/>
<line x1="298.14" y1="906.17" x2="302.54" y2="906.17" stroke="#e05858" stroke-width="1.2"/>
<circle cx="300.34" cy="900.53" r="2.3" fill="#e05858"/>
<circle cx="300.34" cy="906.17" r="2.3" fill="#e05858"/>
<circle cx="303.34" cy="906.17" r="2.3" fill="#e05858"/>
<path d="M74.50,817.73 L74.50,815.23 L87.10,815.23 L87.10,817.73" fill="none" stroke="#111" stroke-width="1.1"/>
<text x="80.80" y="816.73" font-size="11" text-anchor="middle" fill="#111">*</text>
<path d="M110.04,828.16 L110.04,825.66 L122.64,825.66 L122.64,828.16" fill="none" stroke="#111" stroke-width="1.1"/>
<text x="116.34" y="827.16" font-size="11" text-anchor="middle" fill="#111">*</text>
<path d="M145.58,874.13 L145.58,871.63 L158.18,871.63 L158.18,874.13" fill="none" stroke="#111" stroke-width="1.1"/>
<text x="151.88" y="873.13" font-size="11" text-anchor="middle" fill="#111">*</text>
<path d="M216.66,912.90 L216.66,910.40 L229.26,910.40 L229.26,912.90" fill="none" stroke="#111" stroke-width="1.1"/>
<text x="222.96" y="911.90" font-size="11" text-anchor="middle" fill="#111">*</text>
<path d="M252.20,836.34 L252.20,833.84 L264.80,833.84 L264.80,836.34" fill="none" stroke="#111" stroke-width="1.1"/>
<text x="258.50" y="835.34" font-size="11" text-anchor="middle" fill="#111">*</text>
<path d="M287.74,896.83 L287.74,894.33 L300.34,894.33 L300.34,896.83" fill="none" stroke="#111" stroke-width="1.1"/>
<text x="294.04" y="895.83" font-size="11" text-anchor="middle" fill="#111">*</text>
<line x1="63.40" y1="796.30" x2="63.40" y2="938.60" stroke="#111" stroke-width="1.35"/>
<line x1="62.70" y1="937.90" x2="311.70" y2="937.90" stroke="#111" stroke-width="1.35"/>
<line x1="56.80" y1="937.90" x2="63.40" y2="937.90" stroke="#111" stroke-width="1.3"/>
<text x="0" y="0" font-size="10.4" transform="translate(55.10 942.33) scale(1.1 1)" text-anchor="end" font-weight="bold" fill="#111">0</text>
<line x1="56.80" y1="909.70" x2="63.40" y2="909.70" stroke="#111" stroke-width="1.3"/>
<text x="0" y="0" font-size="10.4" transform="translate(55.10 914.13) scale(1.1 1)" text-anchor="end" font-weight="bold" fill="#111">2</text>
<line x1="56.80" y1="881.50" x2="63.40" y2="881.50" stroke="#111" stroke-width="1.3"/>
<text x="0" y="0" font-size="10.4" transform="translate(55.10 885.93) scale(1.1 1)" text-anchor="end" font-weight="bold" fill="#111">4</text>
<line x1="56.80" y1="853.30" x2="63.40" y2="853.30" stroke="#111" stroke-width="1.3"/>
<text x="0" y="0" font-size="10.4" transform="translate(55.10 857.73) scale(1.1 1)" text-anchor="end" font-weight="bold" fill="#111">6</text>
<line x1="56.80" y1="825.10" x2="63.40" y2="825.10" stroke="#111" stroke-width="1.3"/>
<text x="0" y="0" font-size="10.4" transform="translate(55.10 829.53) scale(1.1 1)" text-anchor="end" font-weight="bold" fill="#111">8</text>
<line x1="56.80" y1="796.90" x2="63.40" y2="796.90" stroke="#111" stroke-width="1.3"/>
<text x="0" y="0" font-size="10.4" transform="translate(55.10 801.33) scale(1.1 1)" text-anchor="end" font-weight="bold" fill="#111">10</text>
<line x1="80.70" y1="937.90" x2="80.70" y2="943.90" stroke="#111" stroke-width="1.3"/>
<text x="0" y="0" font-size="11.2" transform="translate(83.90 953.20) scale(1.12 1) rotate(-45)" text-anchor="end" font-weight="bold" fill="#111">HSPA6</text>
<line x1="116.24" y1="937.90" x2="116.24" y2="943.90" stroke="#111" stroke-width="1.3"/>
<text x="0" y="0" font-size="11.2" transform="translate(119.44 953.20) scale(1.12 1) rotate(-45)" text-anchor="end" font-weight="bold" fill="#111">TMEM121</text>
<line x1="151.78" y1="937.90" x2="151.78" y2="943.90" stroke="#111" stroke-width="1.3"/>
<text x="0" y="0" font-size="11.2" transform="translate(154.98 953.20) scale(1.12 1) rotate(-45)" text-anchor="end" font-weight="bold" fill="#111">DOCK2</text>
<line x1="187.32" y1="937.90" x2="187.32" y2="943.90" stroke="#111" stroke-width="1.3"/>
<text x="0" y="0" font-size="11.2" transform="translate(190.52 953.20) scale(1.12 1) rotate(-45)" text-anchor="end" font-weight="bold" fill="#111">GFRA3</text>
<line x1="222.86" y1="937.90" x2="222.86" y2="943.90" stroke="#111" stroke-width="1.3"/>
<text x="0" y="0" font-size="11.2" transform="translate(226.06 953.20) scale(1.12 1) rotate(-45)" text-anchor="end" font-weight="bold" fill="#111">STBD1</text>
<line x1="258.40" y1="937.90" x2="258.40" y2="943.90" stroke="#111" stroke-width="1.3"/>
<text x="0" y="0" font-size="11.2" transform="translate(261.60 953.20) scale(1.12 1) rotate(-45)" text-anchor="end" font-weight="bold" fill="#111">PRR18</text>
<line x1="293.94" y1="937.90" x2="293.94" y2="943.90" stroke="#111" stroke-width="1.3"/>
<text x="0" y="0" font-size="11.2" transform="translate(297.14 953.20) scale(1.12 1) rotate(-45)" text-anchor="end" font-weight="bold" fill="#111">GRAMD2A</text>
<rect x="73.10" y="782.90" width="17.00" height="6.70" fill="#9fb8cf"/>
<rect x="73.10" y="796.40" width="17.00" height="6.70" fill="#ebabab"/>
<text x="100.60" y="790.20" font-size="11.5" font-weight="bold" fill="#111" textLength="22.9" lengthAdjust="spacingAndGlyphs">Ctrl</text>
<text x="100.60" y="803.40" font-size="11.5" font-weight="bold" fill="#111" textLength="49.2" lengthAdjust="spacingAndGlyphs">TRIM35</text>
<text x="187.60" y="778.10" font-size="15.7" text-anchor="middle" font-weight="bold" fill="#111" textLength="43.8" lengthAdjust="spacingAndGlyphs">MCF7</text>
<text x="0" y="0" font-size="12.2" transform="translate(34.00 867.00) scale(1.15 1) rotate(-90)" text-anchor="middle" fill="#111" stroke="#111" stroke-width="0.3">Relative mRNA level</text>
<line x1="399.30" y1="764.00" x2="399.30" y2="778.40" stroke="#000" stroke-width="2.1"/>
<rect x="416.80" y="920.26" width="10.60" height="17.64" fill="#9fb8cf"/>
<rect x="429.30" y="869.10" width="10.80" height="68.80" fill="#ebabab"/>
<rect x="452.28" y="920.26" width="10.60" height="17.64" fill="#9fb8cf"/>
<rect x="464.78" y="914.09" width="10.80" height="23.81" fill="#ebabab"/>
<rect x="487.76" y="920.26" width="10.60" height="17.64" fill="#9fb8cf"/>
<rect x="500.26" y="844.41" width="10.80" height="93.49" fill="#ebabab"/>
<rect x="523.24" y="920.26" width="10.60" height="17.64" fill="#9fb8cf"/>
<rect x="535.74" y="894.68" width="10.80" height="43.22" fill="#ebabab"/>
<rect x="558.72" y="920.26" width="10.60" height="17.64" fill="#9fb8cf"/>
<rect x="571.22" y="888.51" width="10.80" height="49.39" fill="#ebabab"/>
<rect x="594.20" y="920.26" width="10.60" height="17.64" fill="#9fb8cf"/>
<rect x="606.70" y="888.51" width="10.80" height="49.39" fill="#ebabab"/>
<rect x="629.68" y="920.26" width="10.60" height="17.64" fill="#9fb8cf"/>
<rect x="642.18" y="895.56" width="10.80" height="42.34" fill="#ebabab"/>
<line x1="419.60" y1="920.26" x2="424.60" y2="920.26" stroke="#40699c" stroke-width="1.0"/>
<circle cx="419.70" cy="920.36" r="2.1" fill="#40699c"/>
<circle cx="422.10" cy="920.36" r="2.1" fill="#40699c"/>
<circle cx="424.50" cy="920.36" r="2.1" fill="#40699c"/>
<line x1="434.70" y1="868.22" x2="434.70" y2="869.99" stroke="#e05858" stroke-width="1.2"/>
<line x1="432.50" y1="868.22" x2="436.90" y2="868.22" stroke="#e05858" stroke-width="1.2"/>
<line x1="432.50" y1="869.99" x2="436.90" y2="869.99" stroke="#e05858" stroke-width="1.2"/>
<circle cx="431.70" cy="868.22" r="2.3" fill="#e05858"/>
<circle cx="434.70" cy="869.10" r="2.3" fill="#e05858"/>
<circle cx="437.70" cy="869.99" r="2.3" fill="#e05858"/>
<line x1="455.08" y1="920.26" x2="460.08" y2="920.26" stroke="#40699c" stroke-width="1.0"/>
<circle cx="455.18" cy="920.36" r="2.1" fill="#40699c"/>
<circle cx="457.58" cy="920.36" r="2.1" fill="#40699c"/>
<circle cx="459.98" cy="920.36" r="2.1" fill="#40699c"/>
<line x1="470.18" y1="912.32" x2="470.18" y2="914.97" stroke="#e05858" stroke-width="1.2"/>
<line x1="467.98" y1="912.32" x2="472.38" y2="912.32" stroke="#e05858" stroke-width="1.2"/>
<line x1="467.98" y1="914.97" x2="472.38" y2="914.97" stroke="#e05858" stroke-width="1.2"/>
<circle cx="467.18" cy="912.32" r="2.3" fill="#e05858"/>
<circle cx="470.18" cy="914.97" r="2.3" fill="#e05858"/>
<circle cx="473.18" cy="914.97" r="2.3" fill="#e05858"/>
<line x1="490.56" y1="920.26" x2="495.56" y2="920.26" stroke="#40699c" stroke-width="1.0"/>
<circle cx="490.66" cy="920.36" r="2.1" fill="#40699c"/>
<circle cx="493.06" cy="920.36" r="2.1" fill="#40699c"/>
<circle cx="495.46" cy="920.36" r="2.1" fill="#40699c"/>
<line x1="505.66" y1="822.36" x2="505.66" y2="856.76" stroke="#e05858" stroke-width="1.2"/>
<line x1="503.46" y1="822.36" x2="507.86" y2="822.36" stroke="#e05858" stroke-width="1.2"/>
<line x1="503.46" y1="856.76" x2="507.86" y2="856.76" stroke="#e05858" stroke-width="1.2"/>
<circle cx="505.66" cy="822.36" r="2.3" fill="#e05858"/>
<circle cx="505.66" cy="852.52" r="2.3" fill="#e05858"/>
<circle cx="505.66" cy="856.76" r="2.3" fill="#e05858"/>
<line x1="526.04" y1="920.26" x2="531.04" y2="920.26" stroke="#40699c" stroke-width="1.0"/>
<circle cx="526.14" cy="920.36" r="2.1" fill="#40699c"/>
<circle cx="528.54" cy="920.36" r="2.1" fill="#40699c"/>
<circle cx="530.94" cy="920.36" r="2.1" fill="#40699c"/>
<line x1="541.14" y1="889.39" x2="541.14" y2="899.09" stroke="#e05858" stroke-width="1.2"/>
<line x1="538.94" y1="889.39" x2="543.34" y2="889.39" stroke="#e05858" stroke-width="1.2"/>
<line x1="538.94" y1="899.09" x2="543.34" y2="899.09" stroke="#e05858" stroke-width="1.2"/>
<circle cx="541.14" cy="889.39" r="2.3" fill="#e05858"/>
<circle cx="541.14" cy="894.68" r="2.3" fill="#e05858"/>
<circle cx="541.14" cy="899.09" r="2.3" fill="#e05858"/>
<line x1="561.52" y1="920.26" x2="566.52" y2="920.26" stroke="#40699c" stroke-width="1.0"/>
<circle cx="561.62" cy="920.36" r="2.1" fill="#40699c"/>
<circle cx="564.02" cy="920.36" r="2.1" fill="#40699c"/>
<circle cx="566.42" cy="920.36" r="2.1" fill="#40699c"/>
<line x1="576.62" y1="881.45" x2="576.62" y2="893.80" stroke="#e05858" stroke-width="1.2"/>
<line x1="574.42" y1="881.45" x2="578.82" y2="881.45" stroke="#e05858" stroke-width="1.2"/>
<line x1="574.42" y1="893.80" x2="578.82" y2="893.80" stroke="#e05858" stroke-width="1.2"/>
<circle cx="576.62" cy="881.45" r="2.3" fill="#e05858"/>
<circle cx="576.62" cy="889.39" r="2.3" fill="#e05858"/>
<circle cx="576.62" cy="893.80" r="2.3" fill="#e05858"/>
<line x1="597.00" y1="920.26" x2="602.00" y2="920.26" stroke="#40699c" stroke-width="1.0"/>
<circle cx="597.10" cy="920.36" r="2.1" fill="#40699c"/>
<circle cx="599.50" cy="920.36" r="2.1" fill="#40699c"/>
<circle cx="601.90" cy="920.36" r="2.1" fill="#40699c"/>
<line x1="612.10" y1="878.81" x2="612.10" y2="897.33" stroke="#e05858" stroke-width="1.2"/>
<line x1="609.90" y1="878.81" x2="614.30" y2="878.81" stroke="#e05858" stroke-width="1.2"/>
<line x1="609.90" y1="897.33" x2="614.30" y2="897.33" stroke="#e05858" stroke-width="1.2"/>
<circle cx="612.10" cy="878.81" r="2.3" fill="#e05858"/>
<circle cx="612.10" cy="888.51" r="2.3" fill="#e05858"/>
<circle cx="612.10" cy="897.33" r="2.3" fill="#e05858"/>
<line x1="632.48" y1="920.26" x2="637.48" y2="920.26" stroke="#40699c" stroke-width="1.0"/>
<circle cx="632.58" cy="920.36" r="2.1" fill="#40699c"/>
<circle cx="634.98" cy="920.36" r="2.1" fill="#40699c"/>
<circle cx="637.38" cy="920.36" r="2.1" fill="#40699c"/>
<line x1="647.58" y1="887.63" x2="647.58" y2="907.91" stroke="#e05858" stroke-width="1.2"/>
<line x1="645.38" y1="887.63" x2="649.78" y2="887.63" stroke="#e05858" stroke-width="1.2"/>
<line x1="645.38" y1="907.91" x2="649.78" y2="907.91" stroke="#e05858" stroke-width="1.2"/>
<circle cx="647.58" cy="887.63" r="2.3" fill="#e05858"/>
<circle cx="647.58" cy="892.04" r="2.3" fill="#e05858"/>
<circle cx="647.58" cy="907.91" r="2.3" fill="#e05858"/>
<path d="M422.10,863.14 L422.10,860.64 L434.70,860.64 L434.70,863.14" fill="none" stroke="#111" stroke-width="1.1"/>
<text x="428.40" y="862.14" font-size="11" text-anchor="middle" fill="#111">*</text>
<path d="M457.58,907.06 L457.58,904.56 L470.18,904.56 L470.18,907.06" fill="none" stroke="#111" stroke-width="1.1"/>
<text x="463.88" y="906.06" font-size="11" text-anchor="middle" fill="#111">*</text>
<path d="M493.06,818.51 L493.06,816.01 L505.66,816.01 L505.66,818.51" fill="none" stroke="#111" stroke-width="1.1"/>
<text x="499.36" y="817.51" font-size="11" text-anchor="middle" fill="#111">*</text>
<path d="M528.54,885.19 L528.54,882.69 L541.14,882.69 L541.14,885.19" fill="none" stroke="#111" stroke-width="1.1"/>
<text x="534.84" y="884.19" font-size="11" text-anchor="middle" fill="#111">*</text>
<path d="M564.02,876.90 L564.02,874.40 L576.62,874.40 L576.62,876.90" fill="none" stroke="#111" stroke-width="1.1"/>
<text x="570.32" y="875.90" font-size="11" text-anchor="middle" fill="#111">*</text>
<path d="M599.50,874.25 L599.50,871.75 L612.10,871.75 L612.10,874.25" fill="none" stroke="#111" stroke-width="1.1"/>
<text x="605.80" y="873.25" font-size="11" text-anchor="middle" fill="#111">*</text>
<path d="M634.98,882.72 L634.98,880.22 L647.58,880.22 L647.58,882.72" fill="none" stroke="#111" stroke-width="1.1"/>
<text x="641.28" y="881.72" font-size="11" text-anchor="middle" fill="#111">*</text>
<line x1="411.50" y1="796.18" x2="411.50" y2="938.60" stroke="#111" stroke-width="1.35"/>
<line x1="410.80" y1="937.90" x2="659.60" y2="937.90" stroke="#111" stroke-width="1.35"/>
<line x1="404.90" y1="937.90" x2="411.50" y2="937.90" stroke="#111" stroke-width="1.3"/>
<text x="0" y="0" font-size="10.0" transform="translate(402.00 942.19) scale(1.15 1)" text-anchor="end" font-weight="bold" fill="#111">0</text>
<line x1="404.90" y1="902.62" x2="411.50" y2="902.62" stroke="#111" stroke-width="1.3"/>
<text x="0" y="0" font-size="10.0" transform="translate(402.00 906.91) scale(1.15 1)" text-anchor="end" font-weight="bold" fill="#111">2</text>
<line x1="404.90" y1="867.34" x2="411.50" y2="867.34" stroke="#111" stroke-width="1.3"/>
<text x="0" y="0" font-size="10.0" transform="translate(402.00 871.63) scale(1.15 1)" text-anchor="end" font-weight="bold" fill="#111">4</text>
<line x1="404.90" y1="832.06" x2="411.50" y2="832.06" stroke="#111" stroke-width="1.3"/>
<text x="0" y="0" font-size="10.0" transform="translate(402.00 836.35) scale(1.15 1)" text-anchor="end" font-weight="bold" fill="#111">6</text>
<line x1="404.90" y1="796.78" x2="411.50" y2="796.78" stroke="#111" stroke-width="1.3"/>
<text x="0" y="0" font-size="10.0" transform="translate(402.00 801.07) scale(1.15 1)" text-anchor="end" font-weight="bold" fill="#111">8</text>
<line x1="428.30" y1="937.90" x2="428.30" y2="943.90" stroke="#111" stroke-width="1.3"/>
<text x="0" y="0" font-size="11.1" transform="translate(430.70 954.50) scale(1.12 1) rotate(-45)" text-anchor="end" font-weight="bold" fill="#111">HSPA6</text>
<line x1="463.78" y1="937.90" x2="463.78" y2="943.90" stroke="#111" stroke-width="1.3"/>
<text x="0" y="0" font-size="11.1" transform="translate(466.18 954.50) scale(1.12 1) rotate(-45)" text-anchor="end" font-weight="bold" fill="#111">TMEM121</text>
<line x1="499.26" y1="937.90" x2="499.26" y2="943.90" stroke="#111" stroke-width="1.3"/>
<text x="0" y="0" font-size="11.1" transform="translate(501.66 954.50) scale(1.12 1) rotate(-45)" text-anchor="end" font-weight="bold" fill="#111">DOCK2</text>
<line x1="534.74" y1="937.90" x2="534.74" y2="943.90" stroke="#111" stroke-width="1.3"/>
<text x="0" y="0" font-size="11.1" transform="translate(537.14 954.50) scale(1.12 1) rotate(-45)" text-anchor="end" font-weight="bold" fill="#111">GFRA3</text>
<line x1="570.22" y1="937.90" x2="570.22" y2="943.90" stroke="#111" stroke-width="1.3"/>
<text x="0" y="0" font-size="11.1" transform="translate(572.62 954.50) scale(1.12 1) rotate(-45)" text-anchor="end" font-weight="bold" fill="#111">STBD1</text>
<line x1="605.70" y1="937.90" x2="605.70" y2="943.90" stroke="#111" stroke-width="1.3"/>
<text x="0" y="0" font-size="11.1" transform="translate(608.10 954.50) scale(1.12 1) rotate(-45)" text-anchor="end" font-weight="bold" fill="#111">PRR18</text>
<line x1="641.18" y1="937.90" x2="641.18" y2="943.90" stroke="#111" stroke-width="1.3"/>
<text x="0" y="0" font-size="11.1" transform="translate(643.58 954.50) scale(1.12 1) rotate(-45)" text-anchor="end" font-weight="bold" fill="#111">GRAMD2A</text>
<rect x="417.90" y="788.90" width="17.80" height="7.10" fill="#9fb8cf"/>
<rect x="417.90" y="801.50" width="17.80" height="7.10" fill="#ebabab"/>
<text x="445.40" y="796.80" font-size="11.5" font-weight="bold" fill="#111" textLength="23.2" lengthAdjust="spacingAndGlyphs">Ctrl</text>
<text x="445.40" y="808.60" font-size="11.5" font-weight="bold" fill="#111" textLength="48.9" lengthAdjust="spacingAndGlyphs">TRIM35</text>
<text x="533.85" y="777.90" font-size="14.5" text-anchor="middle" font-weight="bold" fill="#111" textLength="48.1" lengthAdjust="spacingAndGlyphs">CAL51</text>
<text x="0" y="0" font-size="12.2" transform="translate(388.40 867.00) scale(1.15 1) rotate(-90)" text-anchor="middle" fill="#111" stroke="#111" stroke-width="0.3">Relative mRNA level</text></svg>
</body></html>
